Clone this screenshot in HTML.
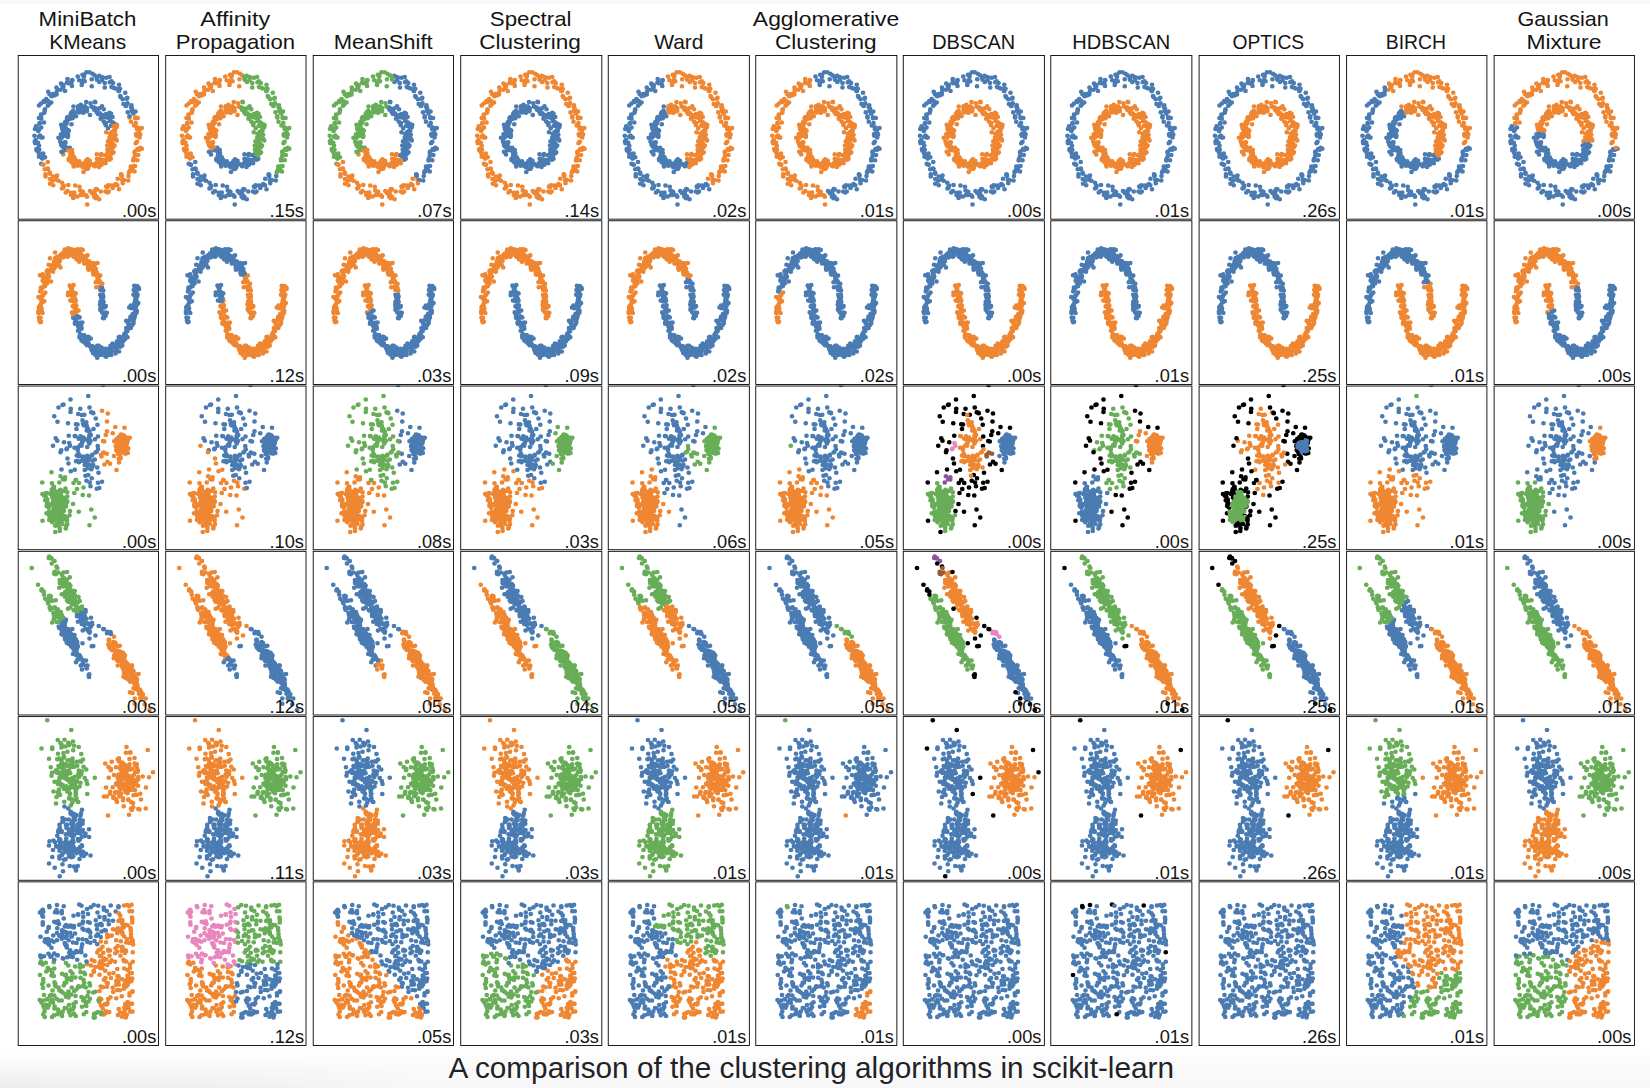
<!DOCTYPE html>
<html><head><meta charset="utf-8"><title>Clustering comparison</title>
<style>
html,body{margin:0;padding:0;width:1650px;height:1088px;overflow:hidden;background:#fff}
#bg{position:absolute;left:0;top:1046px;width:1650px;height:42px;background:linear-gradient(#fefefe,#fbfbfb 40%,#f8f8f8)}
#bg2{position:absolute;left:0;top:1060px;width:420px;height:28px;background:linear-gradient(90deg,rgba(0,0,0,.045),rgba(0,0,0,.03) 60%,rgba(0,0,0,0));-webkit-mask-image:linear-gradient(rgba(0,0,0,0),#000)}
#top{position:absolute;left:0;top:0;width:1650px;height:4px;background:#f7f8fa}
svg{position:absolute;left:0;top:0}
.ax{fill:none;stroke:#000;stroke-width:.89}
path{fill:none;stroke-width:18.985;stroke-linecap:round}
text{font-family:"Liberation Sans",sans-serif;fill:#141414}
#cap{fill:#1f2328;font-size:29.6px}
</style></head><body>
<div id="bg"></div><div id="bg2"></div><div id="top"></div>
<svg width="1650" height="1088" viewBox="0 0 1650 1088">
<defs><clipPath id="c0_0"><rect x="17.8" y="55.1" width="140.54" height="163.6"/></clipPath><clipPath id="c0_1"><rect x="165.37" y="55.1" width="140.54" height="163.6"/></clipPath><clipPath id="c0_2"><rect x="312.93" y="55.1" width="140.54" height="163.6"/></clipPath><clipPath id="c0_3"><rect x="460.5" y="55.1" width="140.54" height="163.6"/></clipPath><clipPath id="c0_4"><rect x="608.07" y="55.1" width="140.54" height="163.6"/></clipPath><clipPath id="c0_5"><rect x="755.63" y="55.1" width="140.54" height="163.6"/></clipPath><clipPath id="c0_6"><rect x="903.2" y="55.1" width="140.54" height="163.6"/></clipPath><clipPath id="c0_7"><rect x="1050.77" y="55.1" width="140.54" height="163.6"/></clipPath><clipPath id="c0_8"><rect x="1198.33" y="55.1" width="140.54" height="163.6"/></clipPath><clipPath id="c0_9"><rect x="1345.9" y="55.1" width="140.54" height="163.6"/></clipPath><clipPath id="c0_10"><rect x="1493.47" y="55.1" width="140.54" height="163.6"/></clipPath><clipPath id="c1_0"><rect x="17.8" y="220.34" width="140.54" height="163.6"/></clipPath><clipPath id="c1_1"><rect x="165.37" y="220.34" width="140.54" height="163.6"/></clipPath><clipPath id="c1_2"><rect x="312.93" y="220.34" width="140.54" height="163.6"/></clipPath><clipPath id="c1_3"><rect x="460.5" y="220.34" width="140.54" height="163.6"/></clipPath><clipPath id="c1_4"><rect x="608.07" y="220.34" width="140.54" height="163.6"/></clipPath><clipPath id="c1_5"><rect x="755.63" y="220.34" width="140.54" height="163.6"/></clipPath><clipPath id="c1_6"><rect x="903.2" y="220.34" width="140.54" height="163.6"/></clipPath><clipPath id="c1_7"><rect x="1050.77" y="220.34" width="140.54" height="163.6"/></clipPath><clipPath id="c1_8"><rect x="1198.33" y="220.34" width="140.54" height="163.6"/></clipPath><clipPath id="c1_9"><rect x="1345.9" y="220.34" width="140.54" height="163.6"/></clipPath><clipPath id="c1_10"><rect x="1493.47" y="220.34" width="140.54" height="163.6"/></clipPath><clipPath id="c2_0"><rect x="17.8" y="385.58" width="140.54" height="163.6"/></clipPath><clipPath id="c2_1"><rect x="165.37" y="385.58" width="140.54" height="163.6"/></clipPath><clipPath id="c2_2"><rect x="312.93" y="385.58" width="140.54" height="163.6"/></clipPath><clipPath id="c2_3"><rect x="460.5" y="385.58" width="140.54" height="163.6"/></clipPath><clipPath id="c2_4"><rect x="608.07" y="385.58" width="140.54" height="163.6"/></clipPath><clipPath id="c2_5"><rect x="755.63" y="385.58" width="140.54" height="163.6"/></clipPath><clipPath id="c2_6"><rect x="903.2" y="385.58" width="140.54" height="163.6"/></clipPath><clipPath id="c2_7"><rect x="1050.77" y="385.58" width="140.54" height="163.6"/></clipPath><clipPath id="c2_8"><rect x="1198.33" y="385.58" width="140.54" height="163.6"/></clipPath><clipPath id="c2_9"><rect x="1345.9" y="385.58" width="140.54" height="163.6"/></clipPath><clipPath id="c2_10"><rect x="1493.47" y="385.58" width="140.54" height="163.6"/></clipPath><clipPath id="c3_0"><rect x="17.8" y="550.82" width="140.54" height="163.6"/></clipPath><clipPath id="c3_1"><rect x="165.37" y="550.82" width="140.54" height="163.6"/></clipPath><clipPath id="c3_2"><rect x="312.93" y="550.82" width="140.54" height="163.6"/></clipPath><clipPath id="c3_3"><rect x="460.5" y="550.82" width="140.54" height="163.6"/></clipPath><clipPath id="c3_4"><rect x="608.07" y="550.82" width="140.54" height="163.6"/></clipPath><clipPath id="c3_5"><rect x="755.63" y="550.82" width="140.54" height="163.6"/></clipPath><clipPath id="c3_6"><rect x="903.2" y="550.82" width="140.54" height="163.6"/></clipPath><clipPath id="c3_7"><rect x="1050.77" y="550.82" width="140.54" height="163.6"/></clipPath><clipPath id="c3_8"><rect x="1198.33" y="550.82" width="140.54" height="163.6"/></clipPath><clipPath id="c3_9"><rect x="1345.9" y="550.82" width="140.54" height="163.6"/></clipPath><clipPath id="c3_10"><rect x="1493.47" y="550.82" width="140.54" height="163.6"/></clipPath><clipPath id="c4_0"><rect x="17.8" y="716.06" width="140.54" height="163.6"/></clipPath><clipPath id="c4_1"><rect x="165.37" y="716.06" width="140.54" height="163.6"/></clipPath><clipPath id="c4_2"><rect x="312.93" y="716.06" width="140.54" height="163.6"/></clipPath><clipPath id="c4_3"><rect x="460.5" y="716.06" width="140.54" height="163.6"/></clipPath><clipPath id="c4_4"><rect x="608.07" y="716.06" width="140.54" height="163.6"/></clipPath><clipPath id="c4_5"><rect x="755.63" y="716.06" width="140.54" height="163.6"/></clipPath><clipPath id="c4_6"><rect x="903.2" y="716.06" width="140.54" height="163.6"/></clipPath><clipPath id="c4_7"><rect x="1050.77" y="716.06" width="140.54" height="163.6"/></clipPath><clipPath id="c4_8"><rect x="1198.33" y="716.06" width="140.54" height="163.6"/></clipPath><clipPath id="c4_9"><rect x="1345.9" y="716.06" width="140.54" height="163.6"/></clipPath><clipPath id="c4_10"><rect x="1493.47" y="716.06" width="140.54" height="163.6"/></clipPath><clipPath id="c5_0"><rect x="17.8" y="881.29" width="140.54" height="163.6"/></clipPath><clipPath id="c5_1"><rect x="165.37" y="881.29" width="140.54" height="163.6"/></clipPath><clipPath id="c5_2"><rect x="312.93" y="881.29" width="140.54" height="163.6"/></clipPath><clipPath id="c5_3"><rect x="460.5" y="881.29" width="140.54" height="163.6"/></clipPath><clipPath id="c5_4"><rect x="608.07" y="881.29" width="140.54" height="163.6"/></clipPath><clipPath id="c5_5"><rect x="755.63" y="881.29" width="140.54" height="163.6"/></clipPath><clipPath id="c5_6"><rect x="903.2" y="881.29" width="140.54" height="163.6"/></clipPath><clipPath id="c5_7"><rect x="1050.77" y="881.29" width="140.54" height="163.6"/></clipPath><clipPath id="c5_8"><rect x="1198.33" y="881.29" width="140.54" height="163.6"/></clipPath><clipPath id="c5_9"><rect x="1345.9" y="881.29" width="140.54" height="163.6"/></clipPath><clipPath id="c5_10"><rect x="1493.47" y="881.29" width="140.54" height="163.6"/></clipPath></defs>
<rect x="0" y="4" width="1650" height="1042.4" fill="#fff"/>
<g clip-path="url(#c0_0)"><g transform="scale(.25)"><path stroke="#4a7cb3" d="M175 404zm30 6zm11-28zm54-66zm19 4zm47-21zm10-10zm21 56zm-1 81zm-21-18zm-11 25zm-41 10zm-22 77zm-18 11zm2 12zm7 26zm-17 5zm14 27zm-86 13zm-27-18zm10-13zm14-33zm-5-40zm-19-1zm99-10zm179-30zm7 2zm-1-9zm-6-6zm79-32zm1 0zm-13-27zm35 47zm16 2z"/><path stroke="#ef8632" d="M283 629zm-7 12zm26-2zm74 23zm3 3zm33-14zm-9-31zm27-22zm11-6zm-9-27zm35-3zm-24 73zm91 1zm5-12zm1-18zm10-10zm-1 45zm-20 31zm17-129zm15-5zm-20-65zm-90 279zm-21 18zm-63 2zm-39-6zm-18 20zm-10-1zm-100-69z"/><path stroke="#4a7cb3" d="M198 377zm12 2zm32-20zm85-19zm70-37zm41 5zm8 17zm6 7zm24 23zm0 9zm31 52zm-99 9zm-24 14zm-3-30zm-67 37zm-17 4zm-11-1zm-9 22zm1 5zm-8 45zm-3 7zm-20 23zm18 40zm-95 43zm-29-61zm-2-7zm21-24zm-1-50zm6-32z"/><path stroke="#ef8632" d="M191 674zm37 28zm-3 8zm0 9zm-25 16zm54 7zm16 22zm15 7zm5 5zm31-14zm39 2zm19 12zm5-20zm38 10zm34-24zm7-6zm26-16zm-2-16zm-1-3zm-49-62zm-7-27zm-1-30zm28-33zm-1-42zm88 30zm23 58zm-162 48zm2 8zm-11 17zm-41-8zm-3 2zm-40 1zm-10-17zm32 42z"/><path stroke="#4a7cb3" d="M193 367zm0 37zm-15 4zm-14 50zm126 5zm-12 12zm-10 12zm-4 28zm-9 4zm-5-5zm1-11zm1 27zm-8 7zm2 70zm15-11zm-91 21zm10 12zm152-193zm10-5zm-19-12zm48 10zm11 6zm33 33zm13-2zm22 2zm51-97zm-131-76zm-34 12zm-48 37z"/><path stroke="#ef8632" d="M174 659zm18 17zm7 14zm35 33zm14 8zm46-73zm22-1zm-19-28zm69 27zm13 8zm-28 11zm71-22zm-3-32zm-32-4zm56-60zm-5-7zm10-7zm-2-7zm2-8zm-23 1zm123-12zm-12-15zm-12-15zm-6-17zm33 2zm7 78zm-20 59zm-17 76zm-92 63zm-26 18zm-16 20zm-11-7zm-28 8z"/><path stroke="#4a7cb3" d="M156 422zm35 1zm-15 67zm-22 28zm-14-2zm3 44zm107 26zm29 5zm-7-47zm-6-50zm20 3zm4-24zm-18-2zm57-22zm61-10zm25 47zm35 3zm12 8zm64-76zm-65-67zm-50-44zm-23 4zm-10-13zm-39 24zm-22-4zm-32 13zm-17-4zm-15 21zm7 13z"/><path stroke="#ef8632" d="M290 614zm1 18zm26 13zm-5 5zm23 15zm15-10zm0-18zm38-2zm20 4zm-2 19zm-8-5zm7-37zm25 14zm10-22zm12-19zm6-7zm-8-9zm3-21zm90 21zm14 25zm1-63zm-1-15zm-34 146zm0 11zm-9 27zm-1 18zm-17-2zm-25-5zm13-18zm-8 60zm-88 1zm-11 29zm20 10zm-124-57z"/><path stroke="#4a7cb3" d="M226 350zm2 9zm83-53zm86 22zm11-7zm17-10zm55 44zm-6 9zm7 20zm28 7zm1 22zm14 15zm-86 23zm-30 9zm-9-7zm-14-17zm-37-3zm-5 4zm3 8zm14 15zm-60 1zm4 4zm-20 0zm-1-10zm-12 13zm-6 17zm-4 17zm-11 15zm25 6zm-3 14zm-14 33zm1 12zm3 5zm-21-21zm-7-15zm-70-1zm1-75zm4 158zm254-132zm-2-6z"/><path stroke="#ef8632" d="M179 677zm3 20zm18-2zm13 46zm84 29zm-4 22zm51-11zm-12-13zm12-92zm-18-21zm-51-19zm8-11zm4-15zm154 12zm-19 19zm31-54zm78 79zm-13 20zm-2 3zm-25 44zm56-224zm20 3z"/><path stroke="#4a7cb3" d="M244 334zm10 6zm20-7zm15-11zm44-1zm-5 11zm2-33zm28-10zm88 59zm-31 89zm-3 24zm-25-12zm-10-10zm1-8zm-38-6zm-9 9zm-7 3zm-5-4zm-7 3zm-14 24zm-50 50zm-92 8zm2-23zm-2 52zm1 52zm8 56zm104-56zm-73-182zm-11-21zm27-20zm14 2zm0-7zm218 132z"/><path stroke="#ef8632" d="M191 648zm62-30zm29-5zm46 51zm4 5zm33-13zm26-12zm8-7zm9 10zm32-35zm10 1zm-4-17zm-7-23zm12-27zm-11-11zm15-12zm4-21zm7 7zm77-17zm6 43zm-1 32zm5 53zm-20 22zm7 22zm-11 17zm-60 60zm-23 1zm-11 24zm-52 27zm-129-46z"/><path stroke="#4a7cb3" d="M164 414zm16 23zm-3 14zm-24 73zm-15 19zm17 69zm90-32zm13-7zm9 20zm1-53zm-8-51zm34-63zm19-1zm4 4zm29 4zm2 11zm49-11zm-18-26zm24 68zm39-2zm-8-15zm20 35zm-22 20zm62-97zm13-21zm-24-6zm-7-50zm-21 12zm-36-1zm0-18zm-13-24zm-18 11zm-116 11zm-23 12zm279 93zm5 19z"/><path stroke="#ef8632" d="M273 602zm8 23zm14 12zm1 0zm-7 10zm-3 2zm68 20zm25-7zm5-9zm70-44zm-14-32zm13-21zm10 0zm-3-33zm92-11zm-11-43zm20 122zm-5 8zm-18 87zm-53 14zm-52 41zm-5 7zm-49 15zm-57 17zm-21-38zm-38 28z"/><path stroke="#4a7cb3" d="M206 385zm-27 57zm-23 30zm-12 33zm8 66zm-5 31zm9 25zm93-19zm6-19zm0-47zm16 6zm-3-64zm0-12zm25-17zm22-5zm18 1zm-4-24zm33-14zm18 23zm12 20zm11 4zm41-5zm-4 29zm-16 8zm94-27zm-7-16zm-72-120zm-52-21zm-20 9z"/><path stroke="#ef8632" d="M171 658zm11 48zm31 0zm-3 17zm38 31zm4-2zm35 21zm-3 7zm45 0zm-11-33zm13-83zm0-8zm-2 1zm9-5zm6-8zm15-1zm2 15zm44 1zm16-18zm14-26zm8-14zm0-39zm8-9zm4-2zm7-12zm-8-35zm14-4zm-180 100zm3 30zm9 17zm4 7zm-9 12zm54 152zm76-72z"/></g></g><rect class="ax" x="18.2" y="55.5" width="140.3" height="163.67"/>
<g clip-path="url(#c0_1)"><g transform="scale(.25)"><path stroke="#ef8632" d="M765 404zm30 6zm11-28zm54-66zm19 4zm48-21zm9-10zm21 56zm-1 81zm-21-18zm-11 25zm-41 10zm-22 77zm-17 11zm2 12zm6 26zm-17 5zm0-75zm-80 11zm-19-1zm24 41zm-14 33zm-10 13zm27 18z"/><path stroke="#68ad57" d="M1015 456zm5 6zm2 9zm-7-2zm7 96zm-2 33zm11-6zm26-30zm79-19zm15-5zm-10 58zm-11 10zm-1 18zm-5 12zm15 5zm-19 31zm11-199zm1-27zm-15-2zm-23-20zm-1 0zm-12-27z"/><path stroke="#4a7cb3" d="M850 601zm23 28zm-7 12zm26-2zm75 23zm2 3zm33-14zm-9-31zm40 15zm8 117zm-21 18zm-62 2zm-39-6zm-18 20zm-11-1zm-100-69z"/><path stroke="#ef8632" d="M788 377zm13 2zm31-20zm86-19zm-14 106zm-17 4zm-10-1zm-10 22zm1 5zm-8 45zm-3 7zm-20 23zm18 40zm-95 43zm-29-61zm-1-7zm21-24zm-2-50zm6-32z"/><path stroke="#68ad57" d="M987 303zm41 5zm8 17zm7 7zm23 23zm0 9zm31 52zm-99 9zm-24 14zm-3-30zm76 98zm1 42zm-29 33zm1 30zm137-17zm-22-58z"/><path stroke="#4a7cb3" d="M781 674zm37 28zm-2 8zm0 9zm-26 16zm54 7zm16 22zm16 7zm4 5zm31-14zm40 2zm18 12zm5-20zm38 10zm35-24zm6-6zm26-16zm-2-16zm0-3zm-50-62zm-32 4zm2 8zm-11 17zm-41-8zm-3 2zm-39 1zm-11-17zm32 42z"/><path stroke="#ef8632" d="M783 367zm1 37zm-15 4zm-15 50zm126 5zm-12 12zm-9 12zm-17 16zm-1 11zm4 5zm-2 11zm-9 7zm20-22zm-2 81zm-92 21zm10 12zm152-193zm11-5zm28-2zm-48-10zm-35-75zm48-37zm34-12z"/><path stroke="#68ad57" d="M972 435zm33 33zm13-2zm22 2zm-1 60zm-3 8zm3 7zm-10 7zm4 7zm-18-28zm124-12zm-13-15zm-12-15zm-5-17zm33 2zm6 78zm-19 59zm-18 76zm-20-314z"/><path stroke="#4a7cb3" d="M764 659zm18 17zm7 14zm35 33zm14 8zm46-73zm22-1zm-19-28zm-51-22zm142 10zm31 4zm3 32zm-43 11zm-12-8zm-16 19zm-3 112zm28-8zm11 7zm16-20zm26-18z"/><path stroke="#ef8632" d="M746 422zm35 1zm-15 67zm-21 28zm-15-2zm4 44zm106 26zm22-42zm-6-50zm20 3zm5-24zm-19-2zm57-22zm11-124zm-23-4zm-31 13zm-17-4zm-16 21zm8 13zm118-63z"/><path stroke="#68ad57" d="M979 314zm22-4zm50 44zm65 67zm31 99zm1 15zm-14 38zm13 25zm-34 68zm0 11zm-83-69zm13-19zm5-7zm-8-9zm3-21zm9-55zm-12-8zm-35-3zm-24-47z"/><path stroke="#4a7cb3" d="M869 591zm11 23zm1 18zm26 13zm-5 5zm24 15zm14-10zm0-18zm38-2zm20 4zm-2 19zm-8-5zm8-37zm24 14zm55 67zm-14 18zm26 5zm16 2zm2-18zm-39 53zm-88 1zm-11 29zm20 10zm-124-57z"/><path stroke="#ef8632" d="M816 350zm2 9zm83-53zm32 131zm5-4zm-2 12zm14 15zm-60 1zm4 4zm-20 0zm-1-10zm-12 13zm-6 17zm-4 17zm-11 15zm25 6zm-3 14zm-14 33zm1 12zm4 5zm-22-21zm-7-15zm-70-1zm1-75zm5 158z"/><path stroke="#68ad57" d="M988 328zm10-7zm18-10zm54 44zm-5 9zm6 20zm28 7zm1 22zm14 15zm24 81zm19 3zm-144-11zm-1-6zm-14-35zm-8-7zm-15-17zm53 15zm15 136zm-11 35zm90 44zm-14 20zm-1 3z"/><path stroke="#4a7cb3" d="M770 677zm2 20zm18-2zm13 46zm84 29zm-4 22zm51-11zm-12-13zm13-92zm-19-21zm-51-19zm8-11zm4-15zm136 31zm68 92z"/><path stroke="#ef8632" d="M834 334zm11 6zm19-7zm15-11zm45-1zm-6 11zm2-33zm28-10zm-18 136zm-9 9zm-7 3zm-5-4zm-7 3zm-14 24zm-50 50zm-92 8zm3-23zm-3 52zm1 52zm40-182zm-11-21zm26-20zm14 2zm0-7z"/><path stroke="#68ad57" d="M1036 348zm-31 89zm-3 24zm-25-12zm-9-10zm0-8zm67 72zm14-1zm8 7zm-11 14zm-5 23zm-11-11zm0 38zm6 23zm4 17zm-10-1zm113 8zm-19 22zm6 22zm-10 17zm18-114zm1-32zm-6-43z"/><path stroke="#4a7cb3" d="M755 655zm26-7zm63-30zm15-19zm14 14zm45 51zm4 5zm33-13zm26-12zm8-7zm10 10zm37 95zm24-1zm-34 25zm-53 27zm-129-46z"/><path stroke="#ef8632" d="M755 414zm15 23zm-3 14zm-23 73zm-16 19zm17 69zm91-32zm12-7zm9 20zm2-53zm-8-51zm33-63zm19-1zm4 4zm30 4zm1 11zm-76-114zm-23 12z"/><path stroke="#68ad57" d="M979 319zm18-11zm12 24zm0 18zm36 1zm21-12zm8 50zm23 6zm-12 21zm34 19zm5 19zm7 15zm11 43zm9 79zm-5 8zm-18 87zm-84-77zm-14-32zm13-21zm10 0zm-3-33zm-6-30zm-12-20zm-7-15zm-31 17zm-6-42zm-18-26zm53 106z"/><path stroke="#4a7cb3" d="M863 602zm8 23zm14 12zm2 0zm-8 10zm-3 2zm69 20zm24-7zm6-9zm-6 110zm49-15zm5-7zm52-41zm-184 42zm21 38zm-59-10z"/><path stroke="#ef8632" d="M796 385zm-27 57zm-23 30zm-12 33zm8 66zm-4 31zm8 25zm99-38zm0-47zm17 6zm-4-64zm0-12zm25-17zm22-5zm18 1zm-3-24zm32-14zm6-96z"/><path stroke="#68ad57" d="M977 308zm53 21zm4 126zm-4 29zm-16 8zm30 12zm14-4zm-6 39zm-7 12zm-4 2zm-8 9zm0 39zm-8 14zm-32-155zm-11-4zm-12-20zm132 13zm7 16z"/><path stroke="#4a7cb3" d="M761 658zm11 48zm31 0zm-3 17zm38 31zm4-2zm35 21zm-2 7zm44 0zm-11-33zm13-83zm0-8zm-2 1zm9-5zm6-8zm16-1zm1 15zm44 1zm16-18zm5 105zm-77 72zm-54-152zm9-12zm-3-7zm-10-17zm-2-30zm-40 8z"/></g></g><rect class="ax" x="165.71" y="55.5" width="140.3" height="163.67"/>
<g clip-path="url(#c0_2)"><g transform="scale(.25)"><path stroke="#68ad57" d="M1356 404zm30 6zm10-28zm54-66zm19 4zm48-21zm9-10zm21 56zm-1 81zm-31 7zm10-25zm-52 35zm-21 77zm-18 11zm2 12zm6 26zm-17 5zm15 27zm-87 13zm-26-18zm9-13zm14-33zm-5-40zm-18-1zm99-10z"/><path stroke="#4a7cb3" d="M1605 456zm5 6zm2 9zm-7-2zm7 96zm-1 33zm10-6zm2 43zm92 1zm4-12zm2-18zm10-10zm-2 45zm-19 31zm17-129zm14-5zm-19-65zm0-27zm-15-2zm-22-20zm-2 0zm-11-27zm-25 165z"/><path stroke="#ef8632" d="M1463 629zm-6 12zm26-2zm74 23zm2 3zm33-14zm-9-31zm28 150zm20-18zm-83 20zm-39-6zm-18 20zm-10-1zm-101-69z"/><path stroke="#68ad57" d="M1379 377zm12 2zm32-20zm85-19zm-14 106zm-17 4zm-10-1zm-9 22zm0 5zm-7 45zm-3 7zm-21 23zm18 40zm-95 43zm-29-61zm-1-7zm21-24zm-2-50zm6-32z"/><path stroke="#4a7cb3" d="M1577 303zm42 5zm7 17zm7 7zm23 23zm0 9zm31 52zm-99 9zm-23 14zm-4-30zm76 98zm1 42zm-29 33zm2 30zm6 27zm50 62zm0 3zm80-109zm-22-58z"/><path stroke="#ef8632" d="M1371 674zm38 28zm-3 8zm0 9zm-26 16zm55 7zm15 22zm16 7zm4 5zm31-14zm40 2zm18 12zm5-20zm39 10zm34-24zm7-6zm26-16zm-94-52zm12-17zm-3-8zm-50 17zm-3 2zm-39 1zm-11-17zm32 42z"/><path stroke="#68ad57" d="M1374 367zm0 37zm-15 4zm-14 50zm113 17zm-9 12zm-4 28zm-10 4zm-4-5zm1-11zm1 27zm-9 7zm2 70zm16-11zm-92 21zm10 12zm111-166zm42-27zm10-5zm29-2zm-49-10zm-35-75zm49-37zm33-12z"/><path stroke="#4a7cb3" d="M1562 435zm33 33zm13-2zm22 2zm-1 60zm-3 8zm3 7zm-10 7zm4 7zm-17-28zm-6 92zm119-12zm19-59zm-9-33zm-12-15zm-13-15zm-5-17zm33 2zm-51-101zm20 314z"/><path stroke="#ef8632" d="M1354 659zm18 17zm7 14zm35 33zm14 8zm46-73zm22-1zm-19-28zm70 27zm12 8zm-27 11zm71-22zm-35-36zm15 149zm-16 20zm-11-7zm-28 8zm81-39z"/><path stroke="#68ad57" d="M1336 422zm36 1zm-16 67zm-21 28zm-15-2zm4 44zm106 26zm29 5zm-6-47zm-7-50zm20 3zm5-24zm-18-2zm57-22zm10-124zm-23-4zm-31 13zm-17-4zm-16 21zm8 13zm128-50zm-10-13z"/><path stroke="#4a7cb3" d="M1591 310zm51 44zm64 67zm31 99zm2 15zm-15 38zm13 25zm-33 68zm0 11zm-9 27zm-2 18zm-16-2zm-12-23zm-55-67zm10-22zm13-19zm5-7zm-7-9zm2-21zm9-55zm-12-8zm-35-3zm-24-47z"/><path stroke="#ef8632" d="M1470 614zm1 18zm26 13zm-5 5zm24 15zm14-10zm0-18zm39-2zm20 4zm-2 19zm-9-5zm8-37zm-18 142zm-11 29zm21 10zm79-40zm-6-42zm-198 25z"/><path stroke="#68ad57" d="M1407 350zm1 9zm84-53zm31 131zm6-4zm-3 12zm15 15zm-56 5zm-5-4zm-15 4zm-2-10zm-11 13zm-7 17zm-4 17zm-11 15zm25 6zm-3 14zm-14 33zm1 12zm4 5zm-22-21zm-7-15zm-70-1zm1-75zm5 158z"/><path stroke="#4a7cb3" d="M1578 328zm11-7zm17-10zm55 44zm-6 9zm6 20zm28 7zm1 22zm15 15zm23 81zm19 3zm-144-11zm-1-6zm-14-35zm-8-7zm-15-17zm54 15zm14 136zm-11 35zm90 44zm-14 20zm-1 3z"/><path stroke="#ef8632" d="M1360 677zm2 20zm18-2zm14 46zm83 29zm-4 22zm51-11zm-12-13zm13-92zm-18-21zm-52-19zm9-11zm3-15zm136 31zm69 92z"/><path stroke="#68ad57" d="M1424 334zm11 6zm19-7zm15-11zm45-1zm-5 11zm2-33zm27-10zm-17 136zm-10 9zm-7 3zm-5-4zm-6 3zm-14 24zm-50 50zm-92 8zm2-23zm-3 52zm2 52zm8 56zm31-238zm-11-21zm27-20zm13 2zm0-7z"/><path stroke="#4a7cb3" d="M1627 348zm-31 89zm-3 24zm-26-12zm-9-10zm0-8zm67 72zm14-1zm8 7zm-11 14zm-4 23zm-12-11zm0 38zm6 23zm4 17zm-10-1zm113 8zm-19 22zm6 22zm-10 17zm19-114zm0-32zm-6-43z"/><path stroke="#ef8632" d="M1372 648zm62-30zm15-19zm14 14zm45 51zm5 5zm32-13zm27-12zm7-7zm10 10zm37 95zm24-1zm-34 25zm-53 27zm-129-46z"/><path stroke="#68ad57" d="M1345 414zm15 23zm-2 14zm-24 73zm-15 19zm16 69zm91-32zm13-7zm8 20zm2-53zm-8-51zm33-63zm19-1zm4 4zm30 4zm1 11zm41-125zm-117 11zm-23 12z"/><path stroke="#4a7cb3" d="M1587 308zm12 24zm1 18zm35 1zm21-12zm8 50zm23 6zm-12 21zm34 19zm5 19zm7 15zm12 43zm8 79zm-5 8zm-17 87zm-54 14zm-31-91zm-13-32zm13-21zm10 0zm-3-33zm-7-30zm-12-20zm-7-15zm-31 17zm-6-42zm-18-26zm53 106z"/><path stroke="#ef8632" d="M1453 602zm9 23zm14 12zm1 0zm-8 10zm-2 2zm68 20zm25-7zm5-9zm-6 110zm50-15zm5-7zm-133 1zm22 38zm-59-10z"/><path stroke="#68ad57" d="M1387 385zm-27 57zm-24 30zm-12 33zm9 66zm-5 31zm8 25zm93-19zm7-19zm0-47zm16 6zm-3-64zm-1-12zm25-17zm23-5zm17 1zm-3-24zm32-14zm6-96zm20-9z"/><path stroke="#4a7cb3" d="M1620 329zm4 126zm-3 29zm-17 8zm30 12zm15-4zm-6 39zm-7 12zm-5 2zm-8 9zm0 39zm-7 14zm-32-155zm-12-4zm-12-20zm132 13zm7 16z"/><path stroke="#ef8632" d="M1351 658zm11 48zm32 0zm-3 17zm38 31zm3-2zm35 21zm-2 7zm45 0zm-11-33zm12-83zm0-8zm-1 1zm8-5zm6-8zm16-1zm1 15zm45 1zm15-18zm5 105zm-77 72zm-54-152zm9-12zm-3-7zm-9-17zm-3-30z"/></g></g><rect class="ax" x="313.22" y="55.5" width="140.3" height="163.67"/>
<g clip-path="url(#c0_3)"><g transform="scale(.25)"><path stroke="#4a7cb3" d="M2064 443zm41-10zm11-25zm20 18zm59 30zm6 6zm1 9zm-7-2zm7 96zm-1 33zm10-6zm3 43zm-32 16zm-9-31zm-23 45zm-3-3zm-74-23zm-26 2zm7-12zm-24-28zm3-32zm-17 5zm10-31zm-2-12zm18-11zm-26-21zm221 63z"/><path stroke="#ef8632" d="M1946 404zm30 6zm11-28zm54-66zm18 4zm48-21zm10-10zm21 56zm124 52zm12 27zm1 0zm22 20zm15 2zm0 27zm5 70zm15-5zm-11 58zm-10 10zm-1 18zm-5 12zm14 5zm-19 31zm-78 80zm-21 18zm-63 2zm-39-6zm-18 20zm-10-1zm-101-69zm-27-102zm-26-18zm10-13zm14-33zm-5-40zm-19-1z"/><path stroke="#4a7cb3" d="M2057 449zm11 1zm17-4zm-37 25zm1 5zm-8 45zm-3 7zm-20 23zm17 40zm38 55zm10 17zm39-1zm4-2zm40 8zm12-17zm-2-8zm32-4zm-7-27zm-1-30zm28-33zm-1-42zm-49-82zm-23 14zm-3-30zm-47 279z"/><path stroke="#ef8632" d="M1969 377zm12 2zm32-20zm85-19zm69-37zm42 5zm8 17zm6 7zm23 23zm1 9zm30 52zm38 121zm23 58zm-81 106zm0 3zm3 16zm-26 16zm-7 6zm-34 24zm-39-10zm-4 20zm-19-12zm-40-2zm-35 9zm5 5zm-21-12zm-15-22zm-29-23zm0-9zm3-8zm-28 33zm-9-61zm-21-40zm-30-61zm-1-7zm21-24zm-2-50zm7-32z"/><path stroke="#4a7cb3" d="M2094 419zm9 17zm10-5zm29-2zm11 6zm32 33zm14-2zm22 2zm-2 60zm-2 8zm2 7zm-10 7zm5 7zm-18-28zm-6 92zm3 32zm-43 11zm-13-8zm-15 19zm-35-18zm-23 1zm3-29zm-35-33zm-16 11zm-2-70zm9-7zm2-11zm-4-5zm1-11zm13 12zm4-28zm10-12zm12-12zm97 154z"/><path stroke="#ef8632" d="M1964 367zm0 37zm-15 4zm-14 50zm5 159zm11 12zm-7 30zm19 17zm6 14zm35 33zm15 8zm100 56zm28-8zm11 7zm16-20zm26-18zm92-63zm17-76zm20-59zm-10-33zm-12-15zm-13-15zm-5-17zm33 2zm-51-101zm-130-76zm-34 12zm-48 37z"/><path stroke="#4a7cb3" d="M2043 471zm18 2zm-4 24zm-21-3zm7 50zm6 47zm-29-5zm41 28zm1 18zm26 13zm-5 5zm23 15zm14-10zm1-18zm38-2zm20 4zm-2 19zm-8-5zm7-37zm25 14zm9-22zm13-19zm6-7zm-8-9zm3-21zm8-55zm-12-8zm-35-3zm-24-47zm-61 10z"/><path stroke="#ef8632" d="M1927 422zm35 1zm-16 67zm-21 28zm-14-2zm3 44zm129 180zm115 18zm-11 29zm21 10zm79-40zm-6-42zm26 5zm17 2zm1-18zm9-27zm0-11zm-39 31zm72-99zm-13-25zm15-38zm-1-15zm-32-99zm-64-67zm-51-44zm-22 4zm-10-13zm-39 24zm-23-4zm-31 13zm-17-4zm-16 21zm8 13z"/><path stroke="#4a7cb3" d="M2053 455zm2 10zm-13 3zm-6 17zm-4 17zm-12 15zm25 6zm-2 14zm-15 33zm2 12zm3 5zm-21-21zm-8-15zm53 59zm-3 15zm-8 11zm51 19zm18 21zm78-35zm19-19zm11-35zm-29-86zm-2-6zm-14-35zm-8-7zm-14-17zm-37-3zm-6 4zm3 8zm15 15zm-56 5zm-5-4zm139-10z"/><path stroke="#ef8632" d="M1997 350zm2 9zm83-53zm86 22zm11-7zm17-10zm55 44zm-6 9zm6 20zm29 7zm0 22zm15 15zm23 81zm19 3zm-35 154zm-13 20zm-2 3zm-25 44zm-159 35zm11 13zm-46-11zm-5 22zm-79-51zm-13-46zm-18 2zm-3-20zm-10-44zm-6-83zm2-75z"/><path stroke="#4a7cb3" d="M2083 436zm6-3zm6 4zm7-3zm9-9zm37 6zm0 8zm10 10zm25 12zm3-24zm29 66zm14-1zm8 7zm-11 14zm-4 23zm-12-11zm0 38zm6 23zm-5 16zm10 1zm-52 24zm-7 7zm17 3zm-44 9zm-32 13zm-5-5zm-45-51zm-13-14zm-16 19zm-5-108zm50-50z"/><path stroke="#ef8632" d="M2014 334zm11 6zm19-7zm15-11zm45-1zm-5 11zm2-33zm28-10zm88 59zm97 144zm5 43zm0 32zm5 53zm-20 22zm7 22zm-11 17zm-60 60zm-23 1zm-11 24zm-52 27zm-129-46zm-63-99zm-26 7zm-8-56zm-2-52zm1-29zm2-23zm38-78zm-11-21zm27-20zm13 2zm0-7z"/><path stroke="#4a7cb3" d="M2065 426zm19-1zm4 4zm29 4zm1 11zm50-11zm-18-26zm24 68zm39-2zm-8-15zm20 35zm6 30zm3 33zm-10 0zm-13 21zm14 32zm-70 44zm-5 9zm-25 7zm-68-20zm2-2zm7-10zm1 0zm-15-12zm-8-23zm-7-9zm-8-20zm-13 7zm23-40zm-8-51zm172 24z"/><path stroke="#ef8632" d="M1935 414zm15 23zm-2 14zm-24 73zm-15 19zm16 69zm109 158zm38-28zm21 38zm56-17zm50-15zm5-7zm52-41zm53-14zm18-87zm5-8zm-9-79zm-11-43zm-8-15zm-5-19zm-34-19zm12-21zm-23-6zm-7-50zm-21 12zm-36-1zm-1-18zm-12-24zm-18 11zm-117 11zm-22 12z"/><path stroke="#4a7cb3" d="M2038 472zm1 12zm24-29zm23-5zm18 1zm-4-24zm33-14zm18 23zm11 20zm12 4zm40-5zm-3 29zm-17 8zm31 12zm14-4zm-6 39zm-7 12zm-5 2zm-7 9zm0 39zm-8 14zm-14 26zm-16 18zm-44-1zm-2-15zm-16 1zm-5 8zm-7 4zm-2 1zm1 7zm-26-10zm-4-7zm-6 19zm-3-36zm-3-30zm-33-11zm-7 19zm7-66zm16 6z"/><path stroke="#ef8632" d="M1977 385zm-27 57zm-23 30zm-12 33zm8 66zm-5 31zm9 25zm14 31zm12 48zm31 0zm-3 17zm38 31zm3-2zm36 21zm-3 7zm45 0zm-11-33zm30 71zm77-72zm93-281zm-7-16zm-72-120zm-52-21zm-20 9z"/></g></g><rect class="ax" x="460.73" y="55.5" width="141.1" height="163.67"/>
<g clip-path="url(#c0_4)"><g transform="scale(.25)"><path stroke="#4a7cb3" d="M2536 404zm30 6zm11-28zm54-66zm19 4zm4 123zm-22 77zm-17 11zm1 12zm7 26zm-17 5zm14 27zm24 28zm-7 12zm26-2zm74 23zm3 3zm-12 107zm-39-6zm-18 20zm-10-1zm130-15zm21-18zm-251-36zm-27-102zm-27-18zm10-13zm14-33zm-5-40zm-19-1zm99-10z"/><path stroke="#ef8632" d="M2697 299zm10-10zm21 56zm-1 81zm-21-18zm-11 25zm90 23zm6 6zm1 9zm-6-2zm7 96zm-2 33zm11-6zm2 43zm-31 16zm-9-31zm64-58zm79-19zm15-5zm-10 58zm-11 10zm-1 18zm-5 12zm15 5zm-20 31zm12-199zm1-27zm-16-2zm-22-20zm-1 0zm-12-27z"/><path stroke="#4a7cb3" d="M2559 377zm12 2zm32-20zm44 90zm11 1zm-20 21zm1 5zm-8 45zm-3 7zm-20 23zm18 40zm37 55zm10 17zm40-1zm3-2zm-21 28zm-13 74zm39 2zm19 12zm5-20zm38 10zm34-24zm7-6zm-177 35zm4 5zm-20-12zm-16-22zm-28-23zm0-9zm2-8zm-28 33zm-9-61zm-21-40zm-29-61zm-2-7zm22-24zm-2-50zm6-32z"/><path stroke="#ef8632" d="M2688 340zm70-37zm41 5zm8 17zm6 7zm24 23zm0 9zm31 52zm-99 9zm-24 14zm-3-30zm-67 37zm143 61zm0 42zm-28 33zm1 30zm7 27zm-32 4zm2 8zm-11 17zm91 33zm0 3zm2 16zm78-125zm-22-58z"/><path stroke="#4a7cb3" d="M2554 367zm1 37zm-16 4zm-14 50zm126 5zm-12 12zm-10 12zm-4 28zm-9 4zm-4-5zm0-11zm1 27zm-8 7zm2 70zm15-11zm36 33zm-3 29zm22-1zm51-1zm12 8zm-28 11zm-3 112zm28-8zm11 7zm16-20zm26-18zm-181-17zm-14-8zm-35-33zm-7-14zm-18-17zm6-30zm-10-12zm118-273z"/><path stroke="#ef8632" d="M2697 307zm34-12zm1 134zm11 6zm-40-4zm-10 5zm-9-17zm92 49zm13-2zm22 2zm-1 60zm-3 8zm2 7zm-10 7zm5 7zm-18-28zm-6 92zm3 32zm-35-36zm151-8zm20-59zm-10-33zm-12-15zm-12-15zm-6-17zm33 2zm-50-101zm20 314z"/><path stroke="#4a7cb3" d="M2517 422zm35 1zm-15 67zm-22 28zm-14-2zm3 44zm107 26zm29 5zm11 23zm1 18zm26 13zm-5 5zm23 15zm15-10zm0-18zm38 121zm-11 29zm20 10zm79-40zm-203-17zm-1-196zm-6-50zm20 3zm4-24zm-18-2zm-12-107zm-7-13zm16-21zm16 4z"/><path stroke="#ef8632" d="M2678 321zm23 4zm48-11zm-10-13zm33 9zm50 44zm65 67zm31 99zm1 15zm-15 38zm14 25zm-34 68zm0 11zm-9 27zm-1 18zm-16-2zm-26-5zm13-18zm-78-39zm-8-5zm10-14zm-20-4zm17-19zm25 14zm10-22zm12-19zm6-7zm-8-9zm3-21zm9-55zm-12-8zm-35-3zm-25-47zm-61 10z"/><path stroke="#4a7cb3" d="M2587 350zm2 9zm55 96zm1 10zm-13 3zm-6 17zm-4 17zm-11 15zm25 6zm-3 14zm-14 33zm1 12zm3 5zm-21-21zm-7-15zm-70-1zm1-75zm135-14zm4 4zm-17 145zm-4 15zm-8 11zm51 19zm19 21zm-13 92zm12 13zm-47-11zm-4 22zm-80-51zm-13-46zm-18 2zm-2-20zm-11-44z"/><path stroke="#ef8632" d="M2672 306zm87 22zm10-7zm17-10zm55 44zm-6 9zm7 20zm28 7zm1 22zm14 15zm23 81zm20 3zm-144-11zm-1-6zm-14-35zm-9-7zm-14-17zm-37-3zm-5 4zm3 8zm14 15zm78-9zm15 136zm-12 35zm-18 19zm108 25zm-13 20zm-2 3zm-25 44z"/><path stroke="#4a7cb3" d="M2605 334zm10 6zm20-7zm15-11zm-63 49zm0 7zm-14-2zm-27 20zm12 21zm-39 78zm-2 23zm0 29zm1 52zm8 56zm26-7zm62-30zm16-19zm14 14zm45 51zm4 5zm33-13zm18 137zm52-27zm11-24zm23-1zm-215 6zm-6-237zm50-50z"/><path stroke="#ef8632" d="M2691 299zm4 22zm-6 11zm30-43zm88 59zm-31 89zm-3 24zm-25-12zm-10-10zm1-8zm-38-6zm-9 9zm-7 3zm-5-4zm-7 3zm132 67zm15-1zm7 7zm-11 14zm-4 23zm-11-11zm0 38zm6 23zm4 17zm-10-1zm-41 25zm-8 7zm17 3zm125-5zm7 22zm-11 17zm24-61zm-5-53zm1-32zm-6-43z"/><path stroke="#4a7cb3" d="M2526 414zm15 23zm-3 14zm-23 73zm-16 19zm17 69zm91-32zm12-7zm9 20zm6 9zm8 23zm14 12zm1 0zm-7 10zm-3 2zm68 20zm25-7zm5-9zm-5 110zm49-15zm5-7zm-132 1zm21 38zm-59-10zm5-230zm-8-51zm34-63zm-22-96zm-23 12z"/><path stroke="#ef8632" d="M2749 319zm18-11zm13 24zm0 18zm36 1zm21-12zm8 50zm23 6zm-13 21zm35 19zm4 19zm8 15zm11 43zm9 79zm-5 8zm-18 87zm-53 14zm-31-91zm-14-32zm13-21zm10 0zm-3-33zm-6-30zm-12-20zm-7-15zm-32 17zm-6-42zm-18-26zm-33 26zm2 11zm-31-15zm-4-4zm119 88z"/><path stroke="#4a7cb3" d="M2567 385zm-27 57zm-23 30zm-12 33zm8 66zm-5 31zm9 25zm15 31zm11 48zm31 0zm-3 17zm38 31zm4-2zm35 21zm-3 7zm45 0zm-11-33zm13-83zm0-8zm-2 1zm9-5zm6-8zm15-1zm2 15zm-57-4zm-3-7zm-6 19zm-4-36zm-2-30zm-34-11zm-6 19zm6-66zm17 6zm-4-64zm0-12zm25-17zm56 363zm77-72z"/><path stroke="#ef8632" d="M2729 317zm19-9zm52 21zm5 126zm-4 29zm-16 8zm30 12zm14-4zm-6 39zm-7 12zm-4 2zm-8 9zm0 39zm-8 14zm-14 26zm-16 18zm-2-199zm-11-4zm-12-20zm-18-23zm-33 14zm4 24zm-18-1zm197-1zm7 16z"/></g></g><rect class="ax" x="608.25" y="55.5" width="141.1" height="163.67"/>
<g clip-path="url(#c0_5)"><g transform="scale(.25)"><path stroke="#ef8632" d="M3126 404zm30 6zm11-28zm54-66zm19 4zm4 123zm42-10zm10-25zm21 18zm59 30zm5 6zm2 9zm-7-2zm7 96zm-2 33zm11-6zm2 43zm-31 16zm-9-31zm-26 42zm2 3zm-77-26zm-26 2zm7-12zm-23-28zm2-32zm-17 5zm11-31zm-2-12zm17-11zm-25-21zm-81 11zm-18-1zm23 41zm-14 33zm-10 13zm27 18zm27 102zm100 69zm11 1zm18-20zm138-204z"/><path stroke="#4a7cb3" d="M3297 289zm-9 10zm30 46zm124 52zm12 27zm1 0zm23 20zm15 2zm-1 27zm5 70zm15-5zm-10 58zm-11 10zm-1 18zm-5 12zm15 5zm-19 31zm-79 80zm-21 18zm-62 2z"/><path stroke="#ef8632" d="M3150 377zm12 2zm31-20zm45 90zm10 1zm17-4zm-37 25zm1 5zm-7 45zm-3 7zm-21 23zm18 40zm37 55zm11 17zm39-1zm3-2zm-21 28zm62-20zm11-17zm-2-8zm32-4zm-7-27zm-1-30zm29-33zm-1-42zm-49-82zm-24 14zm-3-30zm-216 51zm-6 32zm2 50zm-21 24zm1 7zm29 61zm21 40zm37 28zm-2 8zm0 9zm-26 16zm54 7zm16 22zm16 7zm4 5zm31-14z"/><path stroke="#4a7cb3" d="M3279 340zm69-37zm41 5zm8 17zm7 7zm23 23zm0 9zm31 52zm38 121zm22 58zm-80 106zm0 3zm2 16zm-26 16zm-6 6zm-35 24zm-38-10zm-5 20zm-18-12z"/><path stroke="#ef8632" d="M3144 367zm1 37zm-15 4zm-15 50zm126 5zm-12 12zm-9 12zm-4 28zm-10 4zm-4-5zm1-11zm1 27zm-9 7zm2 70zm16-11zm35 33zm-3 29zm22-1zm51-1zm12 8zm-28 11zm72-22zm-4-32zm-31-4zm55-60zm-4-7zm10-7zm-3-7zm3-8zm-24 1zm3-63zm-13 2zm35 0zm-68-33zm-11-6zm-28 2zm-11 5zm-9-17zm-35-75zm-118 273zm10 12zm-6 30zm18 17zm7 14zm35 33zm14 8zm100 56z"/><path stroke="#4a7cb3" d="M3288 307zm33-12zm131 76zm18 99zm5 17zm12 15zm13 15zm9 33zm-19 59zm-18 76zm-92 63zm-26 18zm-16 20zm-11-7zm176-307z"/><path stroke="#ef8632" d="M3107 422zm35 1zm-15 67zm-21 28zm-15-2zm4 44zm106 26zm29 5zm11 23zm1 18zm26 13zm-5 5zm24 15zm14-10zm0-18zm38-2zm20 4zm-2 19zm-8-5zm8-37zm24 14zm10-22zm13-19zm5-7zm-8-9zm3-21zm9-55zm-12-8zm-35-3zm-24-47zm-62 10zm-38 24zm-19-2zm-6 23zm20 3zm-14 47zm-11-180zm-8-13zm16-21zm17 4zm-13 406z"/><path stroke="#4a7cb3" d="M3268 321zm23 4zm49-11zm-10-13zm32 9zm50 44zm65 67zm31 99zm2 15zm-15 38zm13 25zm-33 68zm-1 11zm-8 27zm-2 18zm-16-2zm-26-5zm14-18zm-9 60zm-88 1zm-11 29zm20 10z"/><path stroke="#ef8632" d="M3178 350zm1 9zm55 96zm1 10zm-12 3zm-7 17zm-4 17zm-11 15zm25 6zm-3 14zm-14 33zm1 12zm4 5zm-22-21zm-7-15zm-70-1zm1-75zm135-14zm4 4zm56-5zm-14-15zm-3-8zm5-4zm37 3zm15 17zm8 7zm31-9zm-17 44zm1 6zm30 86zm-11 35zm-19 19zm-96 14zm18 21zm-13 92zm12 13zm-47-11zm-4 22zm-79-51zm-14-46zm-18 2zm-2-20zm-10-44zm105 3zm9-11zm3-15z"/><path stroke="#4a7cb3" d="M3262 306zm87 22zm10-7zm18-10zm54 44zm-5 9zm6 20zm28 7zm1 22zm14 15zm24 81zm19 3zm-35 154zm-14 20zm-1 3zm-26 44z"/><path stroke="#ef8632" d="M3195 334zm11 6zm19-7zm15-11zm-63 49zm0 7zm-13-2zm-27 20zm11 21zm-38 78zm-3 23zm0 29zm1 52zm9 56zm25-7zm63-30zm15-19zm14 14zm45 51zm4 5zm33-13zm26-12zm8-7zm10 10zm31-35zm10 1zm-4-17zm-6-23zm0-38zm12 11zm4-23zm3-21zm-14 1zm22 6zm-55-48zm3-24zm-37 2zm0-8zm9 18zm-47-24zm-9 9zm-7 3zm-5-4zm-6 3zm-15 24zm-50 50zm6 237z"/><path stroke="#4a7cb3" d="M3281 299zm4 22zm-6 11zm30-43zm88 59zm97 144zm6 43zm-1 32zm5 53zm-19 22zm6 22zm-10 17zm-60 60zm-24 1zm-10 24zm-53 27z"/><path stroke="#ef8632" d="M3116 414zm15 23zm-2 14zm-24 73zm-16 19zm17 69zm91-32zm12-7zm9 20zm6 9zm8 23zm14 12zm2 0zm-8 10zm-3 2zm69 20zm24-7zm6-9zm69-44zm-14-32zm13-21zm10 0zm-3-33zm-6-30zm-12-20zm-7-15zm-31 17zm-6-42zm-18-26zm-33 26zm1 11zm-31-15zm-4-4zm-19 1zm-33 63zm8 51zm164-27zm-161-183zm-23 12zm14 428zm38-28zm21 38z"/><path stroke="#4a7cb3" d="M3340 319zm18-11zm12 24zm0 18zm36 1zm21-12zm8 50zm23 6zm-12 21zm34 19zm5 19zm7 15zm11 43zm9 79zm-5 8zm-18 87zm-53 14zm-52 41zm-5 7zm-49 15z"/><path stroke="#ef8632" d="M3157 385zm-27 57zm-23 30zm-12 33zm9 66zm-5 31zm8 25zm15 31zm11 48zm31 0zm-3 17zm38 31zm4-2zm35 21zm-2 7zm44 0zm-10-33zm12-83zm0-8zm-2 1zm9-5zm6-8zm16-1zm1 15zm44 1zm16-18zm15-26zm7-14zm0-39zm8-9zm4-2zm8-12zm-9-35zm14-4zm-28-16zm-16 8zm-21-32zm-11-4zm-12-20zm-18-23zm-32 14zm3 24zm-18-1zm-22 5zm-25 17zm0 12zm4 64zm-17-6zm1 47zm-7 19zm40-8zm2 30zm10 17zm3 7zm-9 12zm54 152zm95-363z"/><path stroke="#4a7cb3" d="M3319 317zm19-9zm53 21zm72 120zm7 16zm-93 281z"/></g></g><rect class="ax" x="755.76" y="55.5" width="141.1" height="163.67"/>
<g clip-path="url(#c0_6)"><g transform="scale(.25)"><path stroke="#4a7cb3" d="M3717 404zm30 6zm11-28zm53-66zm19 4zm48-21zm10-10zm20 56zm125 52zm11 27zm2 0zm22 20zm15 2zm0 27zm5 70zm14-5zm-10 58zm-10 10zm-2 18zm-4 12zm14 5zm-19 31zm-79 80zm-20 18zm-63 2zm-39-6zm-18 20zm-10-1zm-101-69zm-27-102zm-26-18zm9-13zm14-33zm-5-40zm-18-1z"/><path stroke="#ef8632" d="M3834 443zm42-10zm10-25zm21 18zm59 30zm5 6zm2 9zm-7-2zm7 96zm-1 33zm10-6zm2 43zm-31 16zm-9-31zm-23 45zm-3-3zm-74-23zm-26 2zm7-12zm-24-28zm2-32zm-17 5zm11-31zm-2-12zm18-11zm-26-21zm221 63z"/><path stroke="#4a7cb3" d="M3740 377zm12 2zm32-20zm85-19zm69-37zm42 5zm7 17zm7 7zm23 23zm0 9zm31 52zm38 121zm22 58zm-80 106zm0 3zm3 16zm-26 16zm-7 6zm-34 24zm-39-10zm-4 20zm-19-12zm-40-2zm-35 9zm4 5zm-20-12zm-15-22zm-29-23zm0-9zm3-8zm-29 33zm-9-61zm-21-40zm-29-61zm-1-7zm21-24zm-2-50zm7-32z"/><path stroke="#ef8632" d="M3828 449zm10 1zm18-4zm-37 25zm1 5zm-8 45zm-3 7zm-20 23zm17 40zm37 55zm11 17zm39-1zm3-2zm-21 28zm62-20zm12-17zm-3-8zm32-4zm-6-27zm-2-30zm29-33zm-1-42zm-49-82zm-23 14zm-4-30z"/><path stroke="#4a7cb3" d="M3735 367zm0 37zm-15 4zm-14 50zm5 159zm10 12zm-6 30zm19 17zm6 14zm35 33zm14 8zm100 56zm28-8zm11 7zm16-20zm26-18zm92-63zm18-76zm20-59zm-10-33zm-12-15zm-13-15zm-5-17zm33 2zm-51-101zm-131-76zm-33 12zm-48 37z"/><path stroke="#ef8632" d="M3865 419zm9 17zm10-5zm29-2zm10 6zm33 33zm13-2zm22 2zm-1 60zm-3 8zm3 7zm-10 7zm4 7zm-17-28zm-6 92zm3 32zm-44 11zm-12-8zm-15 19zm-36-18zm-22 1zm3-29zm-35-33zm-16 11zm-2-70zm9-7zm2-11zm-4-5zm1-11zm13 12zm4-28zm9-12zm13-12zm97 154z"/><path stroke="#4a7cb3" d="M3697 422zm36 1zm-16 67zm-21 28zm-15-2zm4 44zm129 180zm115 18zm-11 29zm21 10zm79-40zm-6-42zm26 5zm16 2zm2-18zm9-27zm0-11zm-39 31zm72-99zm-13-25zm15-38zm-2-15zm-31-99zm-64-67zm-51-44zm-22 4zm-10-13zm-39 24zm-23-4zm-31 13zm-17-4zm-16 21zm8 13z"/><path stroke="#ef8632" d="M3814 471zm18 2zm-5 24zm-20-3zm7 50zm6 47zm-29-5zm40 28zm1 18zm21 18zm6-5zm18 20zm14-10zm0-18zm39-2zm20 4zm-2 19zm-9-5zm8-37zm24 14zm10-22zm13-19zm5-7zm-7-9zm2-21zm9-55zm-12-8zm-35-3zm-24-47zm-61 10z"/><path stroke="#4a7cb3" d="M3768 350zm1 9zm84-53zm86 22zm11-7zm17-10zm55 44zm-6 9zm6 20zm28 7zm1 22zm15 15zm23 81zm19 3zm-35 154zm-14 20zm-1 3zm-25 44zm-160 35zm12 13zm-46-11zm-5 22zm-79-51zm-14-46zm-18 2zm-2-20zm-10-44zm-6-83zm2-75z"/><path stroke="#ef8632" d="M3824 455zm2 10zm-13 3zm-7 17zm-4 17zm-11 15zm25 6zm-3 14zm-14 33zm2 12zm3 5zm-22-21zm-7-15zm53 59zm-3 15zm-9 11zm52 19zm18 21zm78-35zm19-19zm11-35zm-30-86zm-1-6zm-14-35zm-8-7zm-15-17zm-36-3zm-6 4zm3 8zm15 15zm-56 5zm-5-4zm139-10z"/><path stroke="#4a7cb3" d="M3785 334zm11 6zm19-7zm15-11zm45-1zm-5 11zm2-33zm27-10zm89 59zm96 144zm6 43zm0 32zm5 53zm-20 22zm7 22zm-11 17zm-60 60zm-23 1zm-11 24zm-52 27zm-130-46zm-62-99zm-26 7zm-8-56zm-2-52zm1-29zm2-23zm38-78zm-11-21zm27-20zm13 2zm0-7z"/><path stroke="#ef8632" d="M3854 436zm6-3zm5 4zm7-3zm10-9zm37 6zm0 8zm10 10zm25 12zm3-24zm29 66zm14-1zm8 7zm-11 14zm-4 23zm-12-11zm0 38zm6 23zm4 17zm-10-1zm-41 25zm-7 7zm17 3zm-44 9zm-32 13zm-5-5zm-45-51zm-14-14zm-15 19zm-5-108zm50-50z"/><path stroke="#4a7cb3" d="M3706 414zm15 23zm-2 14zm-24 73zm-15 19zm16 69zm109 158zm37-28zm22 38zm56-17zm50-15zm5-7zm51-41zm54-14zm17-87zm6-8zm-9-79zm-12-43zm-7-15zm-5-19zm-34-19zm12-21zm-23-6zm-8-50zm-21 12zm-35-1zm-1-18zm-12-24zm-18 11zm-117 11zm-22 12z"/><path stroke="#ef8632" d="M3835 426zm19-1zm4 4zm30 4zm1 11zm50-11zm-18-26zm24 68zm38-2zm-7-15zm19 35zm7 30zm3 33zm-10 0zm-13 21zm13 32zm-69 44zm-5 9zm-25 7zm-68-20zm2-2zm7-10zm1 0zm-15-12zm-9-23zm-6-9zm-8-20zm-13 7zm23-40zm-8-51zm172 24z"/><path stroke="#4a7cb3" d="M3748 385zm-27 57zm-24 30zm-11 33zm8 66zm-5 31zm9 25zm14 31zm11 48zm32 0zm-3 17zm38 31zm3-2zm35 21zm-2 7zm45 0zm-11-33zm30 71zm77-72zm93-281zm-7-16zm-72-120zm-52-21zm-20 9z"/><path stroke="#ef8632" d="M3809 472zm1 12zm24-29zm23-5zm17 1zm-3-24zm32-14zm19 23zm11 20zm12 4zm40-5zm-3 29zm-17 8zm30 12zm15-4zm-6 39zm-7 12zm-5 2zm-7 9zm-1 39zm-7 14zm-15 26zm-15 18zm-44-1zm-2-15zm-16 1zm-5 8zm-7 4zm-2 1zm1 7zm-26-10zm-4-7zm-6 19zm-3-36zm-3-30zm-33-11zm-7 19zm7-66zm16 6z"/></g></g><rect class="ax" x="903.27" y="55.5" width="141.1" height="163.67"/>
<g clip-path="url(#c0_7)"><g transform="scale(.25)"><path stroke="#4a7cb3" d="M4307 404zm30 6zm11-28zm54-66zm19 4zm47-21zm10-10zm21 56zm124 52zm12 27zm1 0zm22 20zm16 2zm-1 27zm5 70zm15-5zm-11 58zm-10 10zm-1 18zm-5 12zm14 5zm-19 31zm-78 80zm-21 18zm-63 2zm-39-6zm-18 20zm-10-1zm-101-69zm-27-102zm-26-18zm10-13zm14-33zm-5-40zm-19-1z"/><path stroke="#ef8632" d="M4425 443zm41-10zm11-25zm20 18zm59 30zm6 6zm1 9zm-7-2zm7 96zm-1 33zm10-6zm3 43zm-32 16zm-9-31zm-23 45zm-3-3zm-74-23zm-26 2zm7-12zm-24-28zm3-32zm-17 5zm10-31zm-2-12zm18-11zm-26-21zm221 63z"/><path stroke="#4a7cb3" d="M4330 377zm12 2zm32-20zm85-19zm70-37zm41 5zm8 17zm6 7zm23 23zm1 9zm31 52zm37 121zm23 58zm-81 106zm0 3zm3 16zm-26 16zm-7 6zm-34 24zm-38-10zm-5 20zm-19-12zm-40-2zm-35 9zm5 5zm-20-12zm-16-22zm-29-23zm0-9zm3-8zm-28 33zm-9-61zm-21-40zm-30-61zm-1-7zm21-24zm-2-50zm7-32z"/><path stroke="#ef8632" d="M4418 449zm11 1zm17-4zm-37 25zm1 5zm-8 45zm-3 7zm-20 23zm17 40zm38 55zm10 17zm40-1zm3-2zm-21 28zm62-20zm11-17zm-2-8zm32-4zm-7-27zm-1-30zm28-33zm-1-42zm-49-82zm-23 14zm-3-30z"/><path stroke="#4a7cb3" d="M4325 367zm0 37zm-15 4zm-14 50zm5 159zm11 12zm-7 30zm19 17zm6 14zm35 33zm15 8zm100 56zm28-8zm11 7zm16-20zm26-18zm92-63zm17-76zm20-59zm-10-33zm-12-15zm-13-15zm-5-17zm33 2zm-51-101zm-130-76zm-34 12zm-48 37z"/><path stroke="#ef8632" d="M4455 419zm9 17zm10-5zm29-2zm11 6zm32 33zm14-2zm22 2zm-2 60zm-2 8zm2 7zm-10 7zm5 7zm-18-28zm-6 92zm3 32zm-43 11zm-13-8zm-15 19zm-35-18zm-23 1zm4-29zm-36-33zm-15 11zm-3-70zm9-7zm2-11zm-4-5zm1-11zm13 12zm4-28zm10-12zm12-12zm97 154z"/><path stroke="#4a7cb3" d="M4288 422zm35 1zm-15 67zm-22 28zm-14-2zm3 44zm129 180zm115 18zm-10 29zm20 10zm79-40zm-6-42zm26 5zm17 2zm1-18zm9-27zm0-11zm-39 31zm72-99zm-13-25zm15-38zm-1-15zm-32-99zm-64-67zm-51-44zm-22 4zm-10-13zm-39 24zm-22-4zm-32 13zm-17-4zm-16 21zm8 13z"/><path stroke="#ef8632" d="M4404 471zm18 2zm-4 24zm-20-3zm6 50zm6 47zm-28-5zm40 28zm1 18zm26 13zm-5 5zm23 15zm15-10zm0-18zm38-2zm20 4zm-2 19zm-8-5zm7-37zm25 14zm10-22zm12-19zm6-7zm-8-9zm3-21zm8-55zm-11-8zm-36-3zm-24-47zm-61 10z"/><path stroke="#4a7cb3" d="M4358 350zm2 9zm83-53zm86 22zm11-7zm17-10zm55 44zm-6 9zm6 20zm29 7zm1 22zm14 15zm23 81zm20 3zm-36 154zm-13 20zm-2 3zm-25 44zm-159 35zm11 13zm-46-11zm-4 22zm-80-51zm-13-46zm-18 2zm-3-20zm-10-44zm-6-83zm2-75z"/><path stroke="#ef8632" d="M4414 455zm2 10zm-13 3zm-6 17zm-4 17zm-12 15zm25 6zm-2 14zm-15 33zm2 12zm3 5zm-21-21zm-8-15zm54 59zm-4 15zm-8 11zm51 19zm18 21zm78-35zm19-19zm11-35zm-29-86zm-2-6zm-14-35zm-8-7zm-14-17zm-37-3zm-5 4zm3 8zm14 15zm-56 5zm-5-4zm139-10z"/><path stroke="#4a7cb3" d="M4376 334zm10 6zm19-7zm15-11zm45-1zm-5 11zm2-33zm28-10zm88 59zm97 144zm6 43zm-1 32zm5 53zm-20 22zm7 22zm-11 17zm-60 60zm-23 1zm-11 24zm-52 27zm-129-46zm-63-99zm-26 7zm-8-56zm-2-52zm1-29zm2-23zm38-78zm-11-21zm27-20zm13 2zm1-7z"/><path stroke="#ef8632" d="M4444 436zm7-3zm5 4zm7-3zm9-9zm37 6zm0 8zm10 10zm25 12zm3-24zm29 66zm14-1zm8 7zm-11 14zm-4 23zm-12-11zm0 38zm7 23zm4 17zm-10-1zm-42 25zm-7 7zm17 3zm-44 9zm-32 13zm-5-5zm-45-51zm-13-14zm-16 19zm-5-108zm50-50z"/><path stroke="#4a7cb3" d="M4296 414zm15 23zm-2 14zm-24 73zm-15 19zm16 69zm109 158zm38-28zm21 38zm56-17zm50-15zm5-7zm52-41zm53-14zm18-87zm5-8zm-9-79zm-11-43zm-8-15zm-5-19zm-34-19zm12-21zm-23-6zm-7-50zm-21 12zm-36-1zm-1-18zm-12-24zm-18 11zm-117 11zm-22 12z"/><path stroke="#ef8632" d="M4426 426zm19-1zm4 4zm29 4zm1 11zm50-11zm-18-26zm24 68zm39-2zm-8-15zm20 35zm6 30zm3 33zm-10 0zm-13 21zm14 32zm-70 44zm-5 9zm-25 7zm-68-20zm2-2zm7-10zm1 0zm-15-12zm-8-23zm-6-9zm-9-20zm-13 7zm23-40zm-8-51zm172 24z"/><path stroke="#4a7cb3" d="M4338 385zm-27 57zm-23 30zm-12 33zm8 66zm-5 31zm9 25zm14 31zm12 48zm31 0zm-3 17zm38 31zm3-2zm36 21zm-3 7zm45 0zm-11-33zm31 71zm76-72zm93-281zm-7-16zm-72-120zm-52-21zm-20 9z"/><path stroke="#ef8632" d="M4399 472zm1 12zm24-29zm23-5zm18 1zm-4-24zm33-14zm18 23zm12 20zm11 4zm40-5zm-3 29zm-16 8zm30 12zm14-4zm-6 39zm-7 12zm-5 2zm-7 9zm0 39zm-8 14zm-14 26zm-16 18zm-44-1zm-2-15zm-16 1zm-5 8zm-7 4zm-2 1zm1 7zm-26-10zm-4-7zm-6 19zm-3-36zm-3-30zm-33-11zm-6 19zm6-66zm16 6z"/></g></g><rect class="ax" x="1050.78" y="55.5" width="141.1" height="163.67"/>
<g clip-path="url(#c0_8)"><g transform="scale(.25)"><path stroke="#4a7cb3" d="M4897 404zm30 6zm11-28zm54-66zm19 4zm47-21zm10-10zm21 56zm124 52zm12 27zm1 0zm23 20zm15 2zm-1 27zm5 70zm15-5zm-10 58zm-11 10zm-1 18zm-5 12zm15 5zm-20 31zm-78 80zm-21 18zm-62 2zm-39-6zm-18 20zm-11-1zm-100-69zm-27-102zm-27-18zm10-13zm14-33zm-5-40zm-19-1z"/><path stroke="#ef8632" d="M5015 443zm41-10zm11-25zm21 18zm58 30zm6 6zm2 9zm-7-2zm7 96zm-2 33zm11-6zm2 43zm-31 16zm-9-31zm-24 45zm-3-3zm-74-23zm-26 2zm7-12zm-23-28zm2-32zm-17 5zm10-31zm-1-12zm17-11zm-26-21zm222 63z"/><path stroke="#4a7cb3" d="M4920 377zm13 2zm31-20zm86-19zm69-37zm41 5zm8 17zm7 7zm23 23zm0 9zm31 52zm38 121zm22 58zm-80 106zm0 3zm2 16zm-26 16zm-6 6zm-35 24zm-38-10zm-5 20zm-19-12zm-39-2zm-35 9zm4 5zm-20-12zm-16-22zm-28-23zm0-9zm2-8zm-28 33zm-9-61zm-21-40zm-29-61zm-1-7zm21-24zm-2-50zm6-32z"/><path stroke="#ef8632" d="M5008 449zm11 1zm17-4zm-37 25zm1 5zm-8 45zm-3 7zm-20 23zm18 40zm37 55zm10 17zm40-1zm3-2zm-21 28zm62-20zm11-17zm-2-8zm32-4zm-7-27zm-1-30zm29-33zm-1-42zm-49-82zm-24 14zm-3-30z"/><path stroke="#4a7cb3" d="M4915 367zm1 37zm-15 4zm-15 50zm6 159zm10 12zm-6 30zm18 17zm7 14zm35 33zm14 8zm100 56zm28-8zm11 7zm16-20zm26-18zm92-63zm18-76zm19-59zm-10-33zm-12-15zm-12-15zm-6-17zm33 2zm-50-101zm-131-76zm-34 12zm-48 37z"/><path stroke="#ef8632" d="M5045 419zm9 17zm11-5zm28-2zm11 6zm33 33zm13-2zm22 2zm-1 60zm-3 8zm3 7zm-11 7zm5 7zm-18-28zm-6 92zm3 32zm-43 11zm-12-8zm-16 19zm-35-18zm-22 1zm3-29zm-35-33zm-16 11zm-2-70zm9-7zm2-11zm-4-5zm0-11zm13 12zm4-28zm10-12zm12-12zm97 154z"/><path stroke="#4a7cb3" d="M4878 422zm35 1zm-15 67zm-21 28zm-15-2zm4 44zm129 180zm115 18zm-11 29zm20 10zm79-40zm-5-42zm26 5zm16 2zm1-18zm9-27zm0-11zm-39 31zm73-99zm-13-25zm14-38zm-1-15zm-31-99zm-65-67zm-50-44zm-23 4zm-10-13zm-38 24zm-23-4zm-31 13zm-17-4zm-16 21zm7 13z"/><path stroke="#ef8632" d="M4994 471zm18 2zm-4 24zm-20-3zm6 50zm7 47zm-29-5zm40 28zm1 18zm26 13zm-5 5zm23 15zm15-10zm0-18zm38-2zm20 4zm-2 19zm-8-5zm7-37zm25 14zm10-22zm12-19zm6-7zm-8-9zm3-21zm9-55zm-12-8zm-35-3zm-25-47zm-61 10z"/><path stroke="#4a7cb3" d="M4948 350zm2 9zm83-53zm87 22zm10-7zm17-10zm55 44zm-5 9zm6 20zm28 7zm1 22zm14 15zm23 81zm20 3zm-36 154zm-13 20zm-2 3zm-25 44zm-159 35zm12 13zm-47-11zm-4 22zm-80-51zm-13-46zm-18 2zm-2-20zm-11-44zm-5-83zm1-75z"/><path stroke="#ef8632" d="M5005 455zm1 10zm-13 3zm-6 17zm-4 17zm-11 15zm25 6zm-3 14zm-14 33zm1 12zm4 5zm-22-21zm-7-15zm53 59zm-4 15zm-8 11zm51 19zm19 21zm78-35zm19-19zm11-35zm-30-86zm-1-6zm-14-35zm-9-7zm-14-17zm-37-3zm-5 4zm3 8zm14 15zm-60 1zm4 4zm134-14z"/><path stroke="#4a7cb3" d="M4966 334zm11 6zm19-7zm15-11zm45-1zm-6 11zm2-33zm28-10zm88 59zm97 144zm6 43zm-1 32zm5 53zm-20 22zm7 22zm-11 17zm-59 60zm-24 1zm-11 24zm-52 27zm-129-46zm-63-99zm-26 7zm-8-56zm-1-52zm0-29zm2-23zm39-78zm-11-21zm26-20zm14 2zm0-7z"/><path stroke="#ef8632" d="M5034 436zm7-3zm5 4zm7-3zm9-9zm38 6zm0 8zm9 10zm25 12zm3-24zm29 66zm15-1zm7 7zm-10 14zm-5 23zm-11-11zm0 38zm6 23zm4 17zm-10-1zm-41 25zm-8 7zm18 3zm-44 9zm-37 8zm4 5zm-49-56zm-14-14zm-16 19zm-5-108zm50-50z"/><path stroke="#4a7cb3" d="M4887 414zm15 23zm-3 14zm-23 73zm-16 19zm17 69zm108 158zm38-28zm21 38zm57-17zm49-15zm5-7zm52-41zm53-14zm18-87zm5-8zm-9-79zm-11-43zm-7-15zm-5-19zm-35-19zm13-21zm-23-6zm-8-50zm-21 12zm-36-1zm0-18zm-13-24zm-18 11zm-116 11zm-23 12z"/><path stroke="#ef8632" d="M5016 426zm19-1zm4 4zm29 4zm2 11zm49-11zm-18-26zm24 68zm39-2zm-7-15zm19 35zm6 30zm3 33zm-10 0zm-13 21zm14 32zm-70 44zm-5 9zm-24 7zm-66-22zm-3 2zm9-12zm1 0zm-15-12zm-8-23zm-6-9zm-9-20zm-12 7zm22-40zm-7-51zm172 24z"/><path stroke="#4a7cb3" d="M4928 385zm-27 57zm-23 30zm-12 33zm8 66zm-4 31zm8 25zm15 31zm11 48zm31 0zm-3 17zm38 31zm4-2zm35 21zm-3 7zm45 0zm-11-33zm31 71zm77-72zm93-281zm-7-16zm-73-120zm-52-21zm-19 9z"/><path stroke="#ef8632" d="M4990 472zm0 12zm25-29zm22-5zm18 1zm-3-24zm32-14zm18 23zm12 20zm11 4zm41-5zm-4 29zm-16 8zm30 12zm14-4zm-6 39zm-7 12zm-4 2zm-8 9zm0 39zm-8 14zm-14 26zm-16 18zm-44-1zm-2-15zm-15 1zm-6 8zm-7 4zm-2 1zm2 7zm-27-10zm-3-7zm-6 19zm-4-36zm-2-30zm-34-11zm-6 19zm6-66zm17 6z"/></g></g><rect class="ax" x="1199.09" y="55.5" width="140.3" height="163.67"/>
<g clip-path="url(#c0_9)"><g transform="scale(.25)"><path stroke="#4a7cb3" d="M5487 404zm31 6zm10-28zm77 61zm-22 77zm-17 11zm2 12zm6 26zm-17 5zm15 27zm23 28zm-6 12zm25-2zm75 23zm2 3zm33-14zm-9-31zm40 15zm91 1zm5-12zm1-18zm11-10zm-2 45zm-19 31zm-79 80zm-21 18zm-62 2zm-39-6zm-18 20zm-10-1zm-101-69zm-27-102zm-27-18zm10-13zm14-33zm-5-40zm-18-1zm99-10z"/><path stroke="#ef8632" d="M5582 316zm19 4zm48-21zm9-10zm21 56zm-1 81zm-31 7zm10-25zm80 48zm5 6zm2 9zm-7-2zm7 96zm-1 33zm10-6zm26-30zm79-19zm15-5zm-20-65zm1-27zm-15-2zm-22-20zm-2 0zm-12-27z"/><path stroke="#4a7cb3" d="M5511 377zm12 2zm-46 81zm-6 32zm2 50zm-21 24zm1 7zm29 61zm21 40zm37 28zm-2 8zm0 9zm-26 16zm55 7zm15 22zm16 7zm4 5zm31-14zm40 2zm18 12zm5-20zm38 10zm35-24zm6-6zm26-16zm-2-16zm0-3zm-50-62zm-32 4zm2 8zm-11 17zm-41-8zm-3 2zm-39 1zm-11-17zm32 42zm-69-97zm-18-40zm21-23zm3-7zm7-45zm0-5zm9-22zm10 1zm270 145z"/><path stroke="#ef8632" d="M5554 359zm86-19zm69-37zm42 5zm7 17zm7 7zm23 23zm0 9zm31 52zm-99 9zm-23 14zm-4-30zm-67 37zm143 61zm1 42zm-29 33zm1 30zm115-75z"/><path stroke="#4a7cb3" d="M5506 367zm0 37zm-15 4zm-14 50zm113 17zm-9 12zm-4 28zm-10 4zm-4-5zm1-11zm1 27zm-9 7zm2 70zm16-11zm35 33zm-3 29zm22-1zm51-1zm12 8zm-28 11zm72-22zm-3-32zm-32-4zm151-8zm-18 76zm-92 63zm-26 18zm-16 20zm-11-7zm-28 8zm-100-56zm-14-8zm-35-33zm-7-14zm-18-17zm6-30zm-10-12zm121-154z"/><path stroke="#ef8632" d="M5600 344zm49-37zm33-12zm2 134zm10 6zm-39-4zm-11 5zm-9-17zm92 49zm13-2zm22 2zm-1 60zm-3 8zm3 7zm-10 7zm4 7zm-18-28zm124-12zm-12-15zm-13-15zm-5-17zm33 2zm6 78zm-57-179z"/><path stroke="#4a7cb3" d="M5468 422zm35 1zm-15 67zm-21 28zm-15-2zm4 44zm106 26zm29 5zm11 23zm1 18zm26 13zm-5 5zm24 15zm14-10zm0-18zm38-2zm20 4zm-1 19zm-9-5zm8-37zm24 14zm55 67zm-14 18zm26 5zm16 2zm2-18zm9-27zm0-11zm33-68zm-81 159zm-88 1zm-11 29zm21 10zm-125-57zm0-196zm-7-50zm20 3zm5-24zm-19-2z"/><path stroke="#ef8632" d="M5581 330zm17 4zm31-13zm23 4zm49-11zm-10-13zm32 9zm50 44zm65 67zm31 99zm2 15zm-15 38zm-93 0zm7 9zm-5 7zm-13 19zm13-56zm9-55zm-12-8zm-35-3zm-24-47zm-61 10zm-69-85zm-8-13z"/><path stroke="#4a7cb3" d="M5539 350zm1 9zm55 96zm1 10zm-12 3zm-7 17zm-4 17zm-11 15zm25 6zm-3 14zm-14 33zm1 12zm4 5zm-22-21zm-7-15zm-70-1zm1-75zm135-14zm4 4zm-17 145zm-3 15zm-9 11zm52 19zm18 21zm-13 92zm12 13zm-47-11zm-4 22zm-79-51zm-14-46zm-18 2zm-2-20zm-10-44zm253 8zm109 25zm-14 20zm-1 3zm-26 44z"/><path stroke="#ef8632" d="M5624 306zm86 22zm10-7zm18-10zm54 44zm-5 9zm6 20zm28 7zm1 22zm14 15zm24 81zm19 3zm-144-11zm-1-6zm-14-35zm-8-7zm-15-17zm-37-3zm-5 4zm3 8zm15 15zm78-9zm14 136zm-11 35z"/><path stroke="#4a7cb3" d="M5498 396zm11 21zm16-41zm13 2zm0-7zm72 89zm-50 50zm-91 8zm2-23zm-3 52zm1 52zm9 56zm26-7zm62-30zm15-19zm14 14zm45 51zm4 5zm33-13zm26-12zm8-7zm10 10zm125-5zm6 22zm-10 17zm23-61zm-83 121zm-24 1zm-10 24zm-53 27zm-129-46z"/><path stroke="#ef8632" d="M5556 334zm11 6zm19-7zm15-11zm45-1zm-6 11zm2-33zm28-10zm88 59zm-31 89zm-3 24zm-25-12zm-9-10zm0-8zm-38-6zm-9 9zm-7 3zm-5-4zm-6 3zm132 67zm14-1zm8 7zm-11 14zm-4 23zm-12-11zm0 38zm6 23zm4 17zm-10-1zm109-45zm0-32zm-6-43z"/><path stroke="#4a7cb3" d="M5477 414zm15 23zm-2 14zm-24 73zm-16 19zm17 69zm91-32zm12-7zm9 20zm6 9zm8 23zm15 12zm1 0zm-8 10zm-3 2zm69 20zm24-7zm6-9zm-6 110zm50-15zm5-7zm51-41zm53-14zm18-87zm5-8zm-292-51zm-8-51zm3 281zm37-28zm22 38z"/><path stroke="#ef8632" d="M5561 342zm23-12zm22 96zm19-1zm4 4zm30 4zm1 11zm50-11zm-18-26zm24 68zm38-2zm-7-15zm19 35zm6 30zm3 33zm-10 0zm-13 21zm14 32zm-21-96zm119-1zm-11-43zm-7-15zm-5-19zm-34-19zm12-21zm-23-6zm-8-50zm-21 12zm-36-1zm0-18zm-12-24zm-18 11z"/><path stroke="#4a7cb3" d="M5518 385zm-27 57zm-23 30zm-12 33zm9 66zm-5 31zm8 25zm15 31zm11 48zm32 0zm-3 17zm37 31zm4-2zm35 21zm-2 7zm44 0zm-10-33zm12-83zm0-8zm-2 1zm9-5zm6-8zm16-1zm1 15zm44 1zm16-18zm5 105zm-77 72zm-54-152zm9-12zm-3-7zm-9-17zm-3-30zm-33-11zm-7 19zm6-66zm17 6zm-4-64zm0-12zm25-17z"/><path stroke="#ef8632" d="M5680 317zm19-9zm53 21zm4 126zm-4 29zm-16 8zm30 12zm14-4zm-5 39zm-8 12zm-4 2zm-8 9zm0 39zm-7 14zm-33-155zm-11-4zm-12-20zm-18-23zm-32 14zm3 24zm-18-1zm197-1zm7 16z"/></g></g><rect class="ax" x="1346.6" y="55.5" width="140.3" height="163.67"/>
<g clip-path="url(#c0_10)"><g transform="scale(.25)"><path stroke="#4a7cb3" d="M6049 509zm19 1zm5 40zm-14 33zm-10 13zm26 18zm87-13zm2-32zm-17 5zm11-31zm-2-12zm30 98zm-7 12zm26-2zm74 23zm3 3zm32-14zm-9-31zm28-22zm10-6zm2 43zm92 1zm4-12zm2-18zm10-10zm-2 45zm-19 31zm-78 80zm-21 18zm-63 2zm-39-6zm-18 20zm-10-1zm-101-69z"/><path stroke="#ef8632" d="M6078 404zm30 6zm11-28zm54-66zm18 4zm48-21zm10-10zm20 56zm-1 81zm-31 7zm10-25zm-52 35zm-21 77zm-26-21zm179-30zm7 2zm-1-9zm-6-6zm78-32zm2 0zm-13-27zm35 47zm15 2zm0 27zm5 70zm14-5zm-94 24zm-35 3z"/><path stroke="#4a7cb3" d="M6063 542zm-21 24zm1 7zm30 61zm20 40zm38 28zm-3 8zm0 9zm-26 16zm55 7zm15 22zm16 7zm4 5zm31-14zm40 2zm23-8zm-4 20zm43-10zm34-24zm7-6zm26-16zm-3-16zm0-3zm-50-62zm-6-27zm-2-30zm-24 61zm3 8zm-12 17zm-40-8zm-4 2zm-39 1zm-11-17zm33 42zm-70-97zm-17-40zm320 44z"/><path stroke="#ef8632" d="M6101 377zm12 2zm32-20zm85-19zm69-37zm42 5zm7 17zm7 7zm23 23zm0 9zm31 52zm-99 9zm-23 14zm-4-30zm-66 37zm-18 4zm-10-1zm-9 22zm1 5zm-8 45zm-3 7zm-109-36zm7-32zm291 47zm1 42zm87-12z"/><path stroke="#4a7cb3" d="M6146 537zm9-7zm9 66zm-16 11zm51 22zm-3 29zm22-1zm51-1zm12 8zm-27 11zm71-22zm-3-32zm-32-4zm151-8zm-18 76zm-92 63zm-26 18zm-16 20zm-11-7zm-27 8zm-101-56zm-14-8zm-35-33zm-6-14zm-19-17zm6-30zm-10-12z"/><path stroke="#ef8632" d="M6096 367zm0 37zm-15 4zm-14 50zm113 17zm-9 12zm-4 28zm-10 4zm-4-5zm1-11zm39-40zm42-27zm10-5zm-19-12zm48 10zm11 6zm32 33zm13-2zm23 2zm-2 60zm-3 8zm3 7zm-10 7zm4 7zm-17-28zm123-12zm-12-15zm-13-15zm-5-17zm33 2zm7 78zm-58-179zm-131-76zm-33 12zm-48 37z"/><path stroke="#4a7cb3" d="M6042 516zm15 2zm-11 42zm106 26zm29 5zm12 23zm1 18zm26 13zm-5 5zm23 15zm14-10zm1-18zm38-2zm20 4zm-2 19zm-9-5zm8-37zm24 14zm10-22zm13-19zm6-7zm-8-9zm106 25zm-33 68zm0 11zm-9 27zm-2 18zm-16-2zm-26-5zm14-18zm-8 60zm-89 1zm-11 29zm21 10zm-125-57zm0-196z"/><path stroke="#ef8632" d="M6059 422zm35 1zm-16 67zm90 4zm20 3zm5-24zm-18-2zm57-22zm61-10zm24 47zm35 3zm12 8zm-9 55zm91 21zm15-38zm-2-15zm-31-99zm-64-67zm-51-44zm-22 4zm-10-13zm-39 24zm-23-4zm-31 13zm-17-4zm-16 21zm8 13z"/><path stroke="#4a7cb3" d="M6066 550zm70 1zm7 15zm17 4zm2 12zm3 5zm24 23zm-3 15zm-9 11zm52 19zm18 21zm-13 92zm12 13zm-46-11zm-5 22zm-79-51zm-14-46zm-18 2zm-2-20zm-10-44zm102-96zm181 50zm-11 35zm-19 19zm109 25zm-14 20zm-1 3zm-25 44z"/><path stroke="#ef8632" d="M6129 350zm2 9zm83-53zm86 22zm11-7zm17-10zm55 44zm-6 9zm6 20zm28 7zm1 22zm15 15zm23 81zm19 3zm-143-11zm-2-6zm-14-35zm-8-7zm-15-17zm-36-3zm-6 4zm3 8zm15 15zm-56 5zm-5-4zm-15 4zm-2-10zm-11 13zm-6 17zm-4 17zm-12 15zm25 6zm-109-48zm273-24z"/><path stroke="#4a7cb3" d="M6059 518zm-1 29zm2 52zm8 56zm26-7zm62-30zm15-19zm14 14zm45 51zm5 5zm32-13zm27-12zm7-7zm10 10zm32-35zm9 1zm-4-17zm-6-23zm114 47zm-20 22zm7 22zm-11 17zm-60 60zm-23 1zm-11 24zm-52 27zm-130-46z"/><path stroke="#ef8632" d="M6146 334zm11 6zm19-7zm15-11zm45-1zm-5 11zm2-33zm27-10zm89 59zm-31 89zm-3 24zm-25-12zm-10-10zm0-8zm-37-6zm-10 9zm-6 3zm-6-4zm-6 3zm-14 24zm-50 50zm-90-15zm38-78zm-11-21zm27-20zm13 2zm0-7zm219 132zm14-1zm8 7zm-11 14zm-4 23zm-12-11zm109 0zm0 32zm-5-75z"/><path stroke="#4a7cb3" d="M6056 524zm-15 19zm16 69zm91-32zm13-7zm8 20zm6 9zm9 23zm14 12zm1 0zm-8 10zm-2 2zm68 20zm25-7zm5-9zm69-44zm-13-32zm116 22zm-18 87zm-54 14zm-51 41zm-5 7zm-50 15zm-56 17zm-22-38zm-37 28zm5-230z"/><path stroke="#ef8632" d="M6067 414zm15 23zm-2 14zm83 38zm33-63zm20-1zm3 4zm30 4zm1 11zm50-11zm-18-26zm24 68zm38-2zm-7-15zm19 35zm7 30zm3 33zm-10 0zm-21-43zm120-1zm-12-43zm-7-15zm-5-19zm-34-19zm12-21zm-23-6zm-8-50zm-21 12zm-35-1zm-1-18zm-12-24zm-18 11zm-117 11zm-22 12zm312 249z"/><path stroke="#4a7cb3" d="M6047 505zm8 66zm-5 31zm9 25zm14 31zm11 48zm32 0zm-3 17zm38 31zm3-2zm35 21zm-2 7zm45 0zm-11-33zm12-83zm-1-7zm2-1zm7-4zm5-8zm16-1zm2 15zm44 1zm15-18zm15-26zm7-14zm-154-1zm3 30zm9 17zm4 7zm-10 12zm-46-58zm7-19zm0-47zm16 6zm77 270zm77-72z"/><path stroke="#ef8632" d="M6109 385zm-27 57zm-24 30zm112 0zm1 12zm24-29zm23-5zm17 1zm-3-24zm32-14zm19 23zm11 20zm12 4zm40-5zm-3 29zm-17 8zm30 12zm15-4zm-6 39zm-7 12zm-5 2zm-7 9zm75-97zm-7-16zm-72-120zm-52-21zm-20 9z"/></g></g><rect class="ax" x="1494.11" y="55.5" width="140.3" height="163.67"/>
<g clip-path="url(#c1_0)"><g transform="scale(.25)"><path stroke="#4a7cb3" d="M405 1190zm0 20zm-3-3zm12 17zm0 7zm9-7zm-1 39zm109 3zm-5-33zm21 10zm-7-40zm2-12zm-7-31zm21-4zm-38 144zm4 9zm-41 78zm-13 1zm-3-9zm-23 4zm1 25zm-17-4zm-8-1zm-10 7zm-10 10zm-23-15zm-32-38zm-2-18zm-16-42zm-14-7z"/><path stroke="#ef8632" d="M209 1061zm-5 19zm-3 3zm-7 2zm-10 46zm-9 14zm-12 79zm-6 6zm-1 5zm2 1zm7 9zm-11 7zm4 30zm143-43zm-7-17zm-3 3zm-1-21zm93-75zm-5-68zm-6 3zm-8-11zm-16 3zm-11-2zm0-29zm-31-2zm-6-1zm-7-7zm-17-9zm-4 0zm-5 9zm-28 29zm79-45z"/><path stroke="#4a7cb3" d="M407 1152zm-5 7zm6 45zm4 68zm-94-2zm11 20zm-11 18zm13 57zm11 9zm12 1zm12 17zm16-2zm37 9zm-10 19zm-20 13zm56-27zm37-43zm6 1zm10-5zm11-32zm1-9zm19-16zm4-24zm-2-12zm15-13zm-9-36zm-3-36z"/><path stroke="#ef8632" d="M195 1059zm20-1zm0 11zm12-15zm-1-15zm10-9zm4-6zm13 1zm4 1zm5-14zm12 0zm-2 2zm19-15zm20 15zm-5 23zm29 1zm15 6zm-19-44zm47 97zm9-4zm14 9zm-5 19zm2 7zm-102 61zm-4 1zm-131 4zm-7-6zm11-29zm0 0zm3-6zm15-32zm10-25zm-22 1zm-11 4zm82-31zm-72 182z"/><path stroke="#4a7cb3" d="M299 1267zm10 3zm-5 15zm16 25zm-6 12zm-2 1zm11 20zm46 43zm20-3zm-1 16zm-7-1zm0 21zm19-4zm4-4zm-3-7zm8-7zm29 2zm9-8zm30-7zm-1 22zm15-46zm19-11zm13-37zm-10-17zm25-26zm-4-40zm-17 1zm-97-2zm-17 12zm-2-1zm7 10zm7 10zm-2-97zm127-12zm-3-7z"/><path stroke="#ef8632" d="M229 1027zm1 4zm22-1zm3-6zm-6-10zm17-13zm10 20zm34-15zm15 13zm3 18zm-11 10zm50 24zm2 8zm14-4zm-100 75zm3 4zm-1 11zm-13 16zm28 14zm-139 26zm-5 8zm6 42zm10-148zm3-6zm3-6zm16 0zm-4-14z"/><path stroke="#4a7cb3" d="M402 1152zm9 42zm9 56zm0 14zm85 19zm29 4zm0 6zm-9-26zm6-11zm10-16zm3-28zm4-26zm2-7zm-4-10zm1-24zm-24 77zm-16 92zm-6 26zm-9 26zm-3 16zm-17-4zm-14 11zm-24 6zm-9 32zm-35-16zm-18 1zm-6-15zm-1-6zm-39-30zm-33-90zm3-7zm179 85z"/><path stroke="#ef8632" d="M221 1032zm51-38zm12 3zm22 2zm-10 13zm19 10zm13 10zm29 14zm-4 5zm11 12zm9 9zm11 14zm4 16zm2 2zm-16-6zm-20-19zm-51 124zm0 27zm-146-3zm4-5zm5-13zm7-5zm-5-18zm13-16zm-17-20zm12-27zm12 11zm8-28zm-27-2zm-4 141zm-11 1z"/><path stroke="#4a7cb3" d="M408 1151zm-5 9zm-2 19zm10-1zm-4 18zm7 12zm1 46zm12-3zm111 2zm6-26zm4-43zm-43 161zm-8-2zm-47 31zm-14 22zm-9 4zm-16-1zm-5-9zm-14 11zm-24 1zm-1-11zm0-4zm1-1zm2-1zm-14-6zm-16-20zm-4-18zm-15-4zm-3 13zm8-35zm-17-23zm-10-18zm109 143zm9-5zm16 7zm29-5zm-1-8zm5-9z"/><path stroke="#ef8632" d="M243 1020zm3 8zm-8 6zm-14 18zm-13 11zm-5 2zm6 22zm-20 1zm-18 90zm-4 5zm-4 13zm-7 49zm129 4zm17-27zm-32-52zm-5-149zm30 7zm13 10zm31 0zm-5 7zm34 7zm24 54zm-5 9zm0 5z"/><path stroke="#4a7cb3" d="M301 1269zm3 16zm-4 4zm16 22zm0 11zm22 34zm7-3zm3 1zm6 5zm6 26zm29 19zm57-7zm-1 23zm22-46zm31-18zm2 0zm16-43zm6-46zm9 0zm5 8zm6-61zm7 2zm-5-21zm-3-25zm-125 86zm-1 17z"/><path stroke="#ef8632" d="M230 1047zm23-23zm14-13zm3-4zm19 4zm6-6zm8 16zm28 18zm4 2zm7 6zm9 1zm1 23zm7-5zm19-12zm12-2zm-18 38zm2 4zm24 52zm-119-4zm12 26zm9 4zm-12 8zm8 48zm8-7zm1 27zm-139-14zm-8-6zm11-19zm-8-43zm19-21zm-5-17zm12-6zm-31 148zm5 19zm185-263zm4-5zm-25-24z"/><path stroke="#4a7cb3" d="M406 1151zm-1 34zm8 1zm-1 20zm-9 2zm9 12zm1 1zm6 42zm-104 5zm-5-3zm9 26zm-19 4zm19 46zm19 6zm12 0zm5 1zm8 6zm18 43zm40 13zm0 14zm12-18zm25-23zm-5-6zm19-3zm2 2zm4-5zm-10-6zm11-18zm29-26zm12-23zm-1-19zm34-67zm-13-39zm14-23z"/><path stroke="#ef8632" d="M200 1033zm6 40zm13-7zm-28 15zm-16 36zm-4 4zm-7 35zm13 49zm-12 32zm-1 50zm117-85zm14-1zm1-15zm-1-5zm-7-29zm97-3zm8-21zm16 7zm-17-31zm-1-4zm-33-49zm-9-6zm-30-27zm2-9zm-10-12zm-37-3zm-3 33zm25-2z"/><path stroke="#4a7cb3" d="M301 1291zm12 11zm0 3zm9-5zm13 41zm-1 25zm20 9zm-6 6zm20 9zm27-7zm26 12zm9 11zm5 7zm0 6zm39-38zm3-8zm-8 0zm12-17zm2-2zm17-3zm-1-3zm-2-11zm6-8zm2-17zm8-1zm-3-24zm20-6zm10-21zm3-39zm2-19zm-4-46zm4-10zm3-2zm-148 75zm2 9z"/><path stroke="#ef8632" d="M220 1010zm0 27zm11-1zm7 8zm-3 15zm-13 8zm-6 7zm0-27zm35-29zm5-9zm3-11zm17 2zm27 8zm-10 17zm28 10zm14-7zm50 68zm3-3zm12 33zm-106 14zm9 34zm-13 20zm7 10zm17 38zm-22 15zm-88-131zm-27-16zm10-25z"/></g></g><rect class="ax" x="18.2" y="220.77" width="140.3" height="163.67"/>
<g clip-path="url(#c1_1)"><g transform="scale(.25)"><path stroke="#ef8632" d="M973 1129zm22 61zm-3 17zm4 3zm8 14zm1 7zm8-7zm-1 39zm109 3zm-4-33zm20 10zm-6-40zm1-12zm-6-31zm20-4zm-37 144zm3 9zm-40 78zm-14 1zm-2-9zm-24 4zm2 25zm-18-4zm-7-1zm-11 7zm-9 10zm-23-15zm-33-38zm-2-18zm-16-42zm-13-7zm-10-61zm-7-17zm-3 3z"/><path stroke="#4a7cb3" d="M799 1061zm-5 19zm-2 3zm-8 2zm-9 46zm-10 14zm-12 79zm-6 6zm-1 5zm2 1zm7 9zm-11 7zm4 30zm132-78zm3-189zm7 7zm6 1zm31 2zm0 29zm12 2zm15-3zm8 11zm6-3zm-60-62zm-42 7zm-3 0zm-5 9zm-29 29z"/><path stroke="#ef8632" d="M991 1102zm-5 19zm2 7zm9 24zm-5 7zm7 45zm3 68zm-93-2zm10 20zm-11 18zm13 57zm11 9zm12 1zm12 17zm16-2zm37 9zm-9 19zm-21 13zm56-27zm38-43zm6 1zm9-5zm11-32zm1-9zm19-16zm5-24zm-3-12zm15-13zm-8-36zm-4-36z"/><path stroke="#4a7cb3" d="M785 1059zm20-1zm0 11zm27 1zm-14-16zm-2-15zm10-9zm4-6zm13 1zm5 1zm5-14zm11 0zm-1 2zm18-15zm20 15zm-5 23zm29 1zm15 6zm-18-44zm46 97zm9-4zm-91 96zm-3 1zm-132 4zm-7-6zm11-29zm1 0zm2-6zm15-32zm10-25zm-22 1zm-11 4zm11 151z"/><path stroke="#ef8632" d="M889 1267zm11 3zm-6 15zm16 25zm-6 12zm-1 1zm10 20zm46 43zm12 12zm8 1zm12 5zm3 7zm-4 4zm-19 4zm9-36zm20 14zm28 2zm10-8zm29-7zm-1 22zm15-46zm20-11zm12-37zm-10-17zm26-26zm-5-40zm-17 1zm-96-2zm-17 12zm-3-1zm7 10zm7 10zm-2-97zm128-12zm-4-7z"/><path stroke="#4a7cb3" d="M820 1027zm1 4zm21-1zm3-6zm-5-10zm16-13zm10 20zm34-15zm15 13zm3 18zm-10 10zm49 24zm3 8zm13-4zm-99 75zm2 4zm0 11zm-13 16zm28 14zm-139 26zm-6 8zm6 42zm10-148zm3-6zm3-6zm16 0zm-3-14z"/><path stroke="#ef8632" d="M980 1104zm12 48zm10 42zm8 56zm1 14zm84 19zm29 4zm0 6zm-9-26zm6-11zm10-16zm4-28zm3-26zm3-7zm-5-10zm1-24zm-23 77zm-16 92zm-7 26zm-25 9zm16 17zm-3 16zm-17-4zm-14 11zm-24 6zm-8 32zm-36-16zm-18 1zm-5-15zm-1-6zm-39-30zm-33-90zm2-7zm7-34zm1-27z"/><path stroke="#4a7cb3" d="M811 1032zm51-38zm12 3zm22 2zm-10 13zm19 10zm13 10zm30 14zm-5 5zm11 12zm9 9zm11 14zm4 16zm-14-4zm-20-19zm-158 27zm-27-2zm7 19zm12 11zm-24 16zm17 20zm-12 16zm4 18zm-6 5zm-6 13zm-4 5zm-3 19zm11-1z"/><path stroke="#ef8632" d="M985 1106zm-5 9zm0 5zm18 31zm-5 9zm-1 19zm10-1zm-4 18zm6 12zm1 46zm12-3zm111 2zm7-26zm3-43zm-42 161zm-9-2zm-47 31zm-14 22zm-9 4zm-16-1zm-5-9zm-13 11zm-24 1zm-2-11zm1-4zm0-1zm2-1zm-14-6zm-16-20zm-4-18zm-15-4zm-2 13zm8-35zm-18-23zm-9-18zm-12-25zm17-27zm103 195zm9-5zm16 7zm29-5zm0-8zm4-9z"/><path stroke="#4a7cb3" d="M834 1020zm2 8zm-8 6zm-13 18zm-14 11zm-4 2zm5 22zm-20 1zm-18 90zm-3 5zm-4 13zm-8 49zm114-75zm-5-149zm30 7zm13 10zm31 0zm-4 7zm33 7z"/><path stroke="#ef8632" d="M886 1228zm8-7zm2 27zm-4 21zm2 16zm-3 4zm16 22zm0 11zm22 34zm6-3zm3 1zm7 5zm6 26zm28 19zm57-7zm-1 23zm22-46zm31-18zm2 0zm17-43zm6-46zm8 0zm5 8zm6-61zm7 2zm-5-21zm-3-25zm-143-24zm19 110zm-2 17z"/><path stroke="#4a7cb3" d="M820 1047zm24-23zm13-13zm3-4zm20 4zm6-6zm8 16zm27 18zm5 2zm6 6zm10 1zm1 23zm6-5zm19-12zm12-2zm-18 38zm3 4zm-28-68zm3-5zm-25-24zm-45 145zm12 26zm8 4zm-12 8zm-126-14zm18-21zm-4-17zm11-6zm-18 87zm-3 25zm-7-6zm-3 42zm5 19z"/><path stroke="#ef8632" d="M981 1100zm2 4zm0 24zm17 7zm-4 16zm-21-2zm20 36zm8 1zm-1 20zm-8 2zm8 12zm1 1zm6 42zm-104 5zm-5-3zm9 26zm-19 4zm19 46zm20 6zm11 0zm5 1zm8 6zm18 43zm41 13zm-1 14zm13-18zm24-23zm-5-6zm19-3zm2 2zm4-5zm-9-6zm10-18zm30-26zm11-23zm0-19zm33-67zm-13-39zm15-23z"/><path stroke="#4a7cb3" d="M790 1033zm6 40zm13-7zm-27 15zm-16 36zm-5 4zm-7 35zm13 49zm-12 32zm-1 50zm118-85zm13-1zm1-15zm0-5zm-8-29zm8-127zm-25 2zm4-33zm37 3zm9 12zm-2 9zm31 27zm8 6z"/><path stroke="#ef8632" d="M990 1126zm0 93zm2 9zm-88 14zm-21 15zm8 34zm12 11zm0 3zm10-5zm12 41zm0 25zm20 9zm-6 6zm19 9zm27-7zm27 12zm9 11zm5 7zm0 6zm38-38zm4-8zm-9 0zm13-17zm1-2zm17-3zm-1-3zm-1-11zm5-8zm3-17zm7-1zm-3-24zm21-6zm9-21zm3-39zm2-19zm-4-46zm4-10zm3-2z"/><path stroke="#4a7cb3" d="M811 1010zm-1 27zm11-1zm7 8zm-3 15zm-13 8zm-6 7zm0-27zm35-29zm5-9zm3-11zm17 2zm27 8zm-10 17zm28 10zm14-7zm50 68zm3-3zm-94 47zm9 34zm-12 20zm6 10zm-93-78zm-26-16zm9-25z"/></g></g><rect class="ax" x="165.71" y="220.77" width="140.3" height="163.67"/>
<g clip-path="url(#c1_2)"><g transform="scale(.25)"><path stroke="#4a7cb3" d="M1585 1190zm-3 17zm4 3zm9 14zm0 7zm8-7zm0 39zm109 3zm-5-33zm20 10zm-6-40zm2-12zm-7-31zm21-4zm-38 144zm3 9zm-40 78zm-14 1zm-2-9zm-24 4zm2 25zm-17-4zm-8-1zm-11 7zm-9 10zm-23-15zm-33-38zm-1-18zm-16-42zm-14-7z"/><path stroke="#ef8632" d="M1389 1061zm-5 19zm-2 3zm-7 2zm-10 46zm-9 14zm-13 79zm-5 6zm0 6zm-2-1zm-1 17zm11-7zm-8 37zm144-43zm-7-17zm-3 3zm-2-21zm93-75zm-5-68zm-6 3zm-8-11zm-15 3zm-12-2zm0-29zm-31-2zm-5-1zm-8-7zm-16-9zm-4 0zm-5 9zm-29 29zm80-45z"/><path stroke="#4a7cb3" d="M1499 1270zm11 20zm-11 18zm12 57zm11 9zm13 1zm11 17zm17-2zm36 9zm-9 19zm-20 13zm55-27zm38-43zm6 1zm10-5zm11-32zm0-9zm19-16zm5-24zm-3-12zm16-13zm-9-36zm-3-36zm-126 25zm3 68z"/><path stroke="#ef8632" d="M1375 1059zm20-1zm0 11zm13-15zm-1-15zm10-9zm4-6zm13 1zm4 1zm5-14zm11 0zm-1 2zm18-15zm20 15zm-5 23zm30 1zm15 6zm-19-44zm46 97zm10-4zm14 9zm-6 19zm3 7zm9 24zm-6 7zm-105 30zm-4 1zm-132 4zm-7-6zm11-29zm1 0zm2-6zm16-32zm9-25zm-22 1zm-11 4zm83-31zm-72 182z"/><path stroke="#4a7cb3" d="M1479 1267zm11 3zm-5 15zm16 25zm-7 12zm-1 1zm10 20zm47 43zm11 12zm8 1zm1-16zm12 21zm2 7zm-4 4zm-18 4zm28-22zm28 2zm10-8zm30-7zm-1 22zm14-46zm20-11zm13-37zm-11-17zm26-26zm-5-40zm-16 1zm-97-2zm-17 12zm-2-1zm7 10zm7 10zm125-109zm-3-7z"/><path stroke="#ef8632" d="M1410 1027zm1 4zm22-1zm2-6zm-5-10zm16-13zm10 20zm34-15zm15 13zm3 18zm-10 10zm49 24zm3 8zm13-4zm30 87zm-127 3zm0-11zm-2-4zm-11 31zm28 14zm-139 26zm-5 8zm5 42zm10-148zm3-6zm4-6zm15 0zm-3-14z"/><path stroke="#4a7cb3" d="M1476 1264zm-2 7zm33 90zm39 30zm1 6zm5 15zm18-1zm36 16zm8-32zm24-6zm14-11zm17 4zm4-16zm8-26zm7-26zm-3-31zm30 4zm-1 6zm-9-26zm7-11zm10-16zm3-28zm3-26zm3-7zm-5-10zm1-24zm-23 77zm-104 28zm1 14zm-9-70zm64 155z"/><path stroke="#ef8632" d="M1402 1032zm51-38zm11 3zm22 2zm-10 13zm20 10zm12 10zm30 14zm-4 5zm10 12zm9 9zm11 14zm5 16zm1 2zm-16-6zm-20-19zm48 73zm-98 51zm0 27zm-147-3zm4-5zm6-13zm7-5zm-5-18zm12-16zm-17-20zm12-27zm12 11zm8-28zm-26-2zm-5 141zm-11 1z"/><path stroke="#4a7cb3" d="M1480 1274zm10 18zm17 23zm-5 22zm-3 13zm17-9zm4 18zm16 20zm12 7zm0 1zm2-2zm-2 6zm1 11zm24-1zm18-2zm-5-9zm2 27zm9-5zm16 7zm-5-19zm8-4zm31 1zm-5 9zm0 8zm-12-40zm47-31zm9 2zm32-92zm7-26zm4-43zm-137-6zm-10 1zm6 17zm6 12zm1 46zm12-3z"/><path stroke="#ef8632" d="M1424 1020zm2 8zm-8 6zm-13 18zm-14 11zm-4 2zm6 22zm-21 1zm-18 90zm-3 5zm-4 13zm-8 49zm129 4zm18-27zm-33-52zm130-10zm6-9zm-19-31zm1-5zm4-9zm-23-54zm-34-7zm5-7zm-32 0zm-13-10zm-30-7z"/><path stroke="#4a7cb3" d="M1486 1248zm-4 21zm2 16zm-3 4zm16 22zm0 11zm22 34zm6-3zm4 1zm6 5zm6 26zm28 19zm57-7zm0 23zm22-46zm30-18zm3 0zm16-43zm6-46zm9 0zm5 8zm6-61zm6 2zm-4-21zm-4-25zm-124 86zm-2 17z"/><path stroke="#ef8632" d="M1450 1007zm-2 4zm22 0zm6-6zm8 16zm27 18zm5 2zm6 6zm10 1zm1 23zm6-5zm19-12zm12-2zm-18 38zm3 4zm24 52zm-119-4zm12 26zm9 4zm-13 8zm8 48zm8-7zm-134-12zm-4 25zm-7-6zm-3 42zm5 19zm1-123zm18-21zm-4-17zm11-6zm44-75zm23-23zm93 2zm4-5zm-26-24z"/><path stroke="#4a7cb3" d="M1490 1265zm5 3zm5 23zm-20 4zm19 46zm20 6zm12 0zm4 1zm9 6zm17 43zm41 13zm0 14zm12-18zm24-23zm-4-6zm20-1zm-1-2zm5-3zm-9-6zm10-18zm30-26zm11-23zm0-19zm34-67zm-13-39zm14-23zm-141 36zm-9-1zm-1 23zm9-2zm0 14zm0 1zm6 42z"/><path stroke="#ef8632" d="M1380 1033zm6 40zm14-7zm-28 15zm-16 36zm-4 4zm-8 35zm13 49zm-11 32zm-1 50zm117-85zm13-1zm2-15zm-1-5zm-8-29zm97-3zm21 2zm4-16zm-17-7zm0-24zm-1-4zm-34-49zm-8-6zm-30-27zm1-9zm-9-12zm-37-3zm-4 33zm26-2z"/><path stroke="#4a7cb3" d="M1473 1257zm21-15zm-1 60zm1 3zm9-5zm-21-9zm34 50zm-1 25zm20 9zm-6 6zm19 9zm27-7zm27 12zm9 11zm5 7zm0 6zm38-38zm-4-8zm8 0zm4-17zm2-2zm17-3zm-2-3zm-1-11zm5-8zm3-17zm8-1zm-4-24zm21-6zm9-21zm4-39zm1-19zm-4-46zm5-10zm3-2zm-148 75zm1 9z"/><path stroke="#ef8632" d="M1401 1010zm-1 27zm11-1zm7 8zm-3 15zm-13 8zm-6 7zm1-27zm34-29zm6-9zm2-11zm17 2zm28 8zm-10 17zm27 10zm14-7zm53 65zm-2 3zm14 30zm-106 14zm9 34zm-12 20zm7 10zm-94-78zm-26-16zm9-25z"/></g></g><rect class="ax" x="313.22" y="220.77" width="140.3" height="163.67"/>
<g clip-path="url(#c1_3)"><g transform="scale(.25)"><path stroke="#4a7cb3" d="M2061 1204zm4 18zm-3 3zm10 14zm10 61zm14 7zm16 42zm2 18zm32 38zm32 5zm11-7zm8 1zm17 4zm-1-25zm23-4zm3 9zm13-1zm-83 33zm124-111zm-4-9zm13-34zm-5-33zm21 10zm-7-40zm2-12zm-7-31zm21-4z"/><path stroke="#ef8632" d="M1979 1061zm-4 19zm-3 3zm-7 2zm-10 46zm-9 14zm-12 79zm-6 6zm-1 5zm1 1zm8 9zm-11 7zm4 30zm264-19zm1-39zm-9 0zm0 7zm-9-21zm-4-3zm3-17zm-21-61zm-5-68zm-7 3zm-7-11zm-16 3zm-12-2zm1-29zm-32-2zm-5-1zm-8-7zm-16-9zm-4 0zm-5 9zm-29 29zm80-45z"/><path stroke="#4a7cb3" d="M2063 1190zm4-1zm22 81zm11 20zm-11 18zm13 57zm10 9zm13 1zm12 17zm16-2zm37 9zm-10 19zm-20 13zm55-27zm38-43zm6 1zm10-5zm11-32zm1-9zm18-16zm5-24zm-2-12zm15-13zm-9-36zm-3-36z"/><path stroke="#ef8632" d="M1966 1059zm20-1zm-1 11zm13-15zm-1-15zm10-9zm4-6zm13 1zm4 1zm5-14zm11 0zm-1 2zm19-15zm19 15zm-5 23zm30 1zm15 6zm-19-44zm47 97zm9-4zm14 9zm-5 19zm2 7zm9 24zm-5 7zm6 45zm4 68zm-242-20zm-10-58zm-7-6zm11-29zm1 0zm3-6zm15-32zm10-25zm-23 1zm-11 4zm83-31z"/><path stroke="#4a7cb3" d="M2054 1150zm3 4zm-1 11zm-13 16zm28 14zm-1 72zm10 3zm-5 15zm16 25zm-6 12zm-2 1zm10 20zm47 43zm20-3zm-1 16zm-7-1zm0 21zm19-4zm3-4zm-2-7zm8-7zm29 2zm9-8zm30-7zm-1 22zm15-46zm19-11zm13-37zm-10-17zm25-26zm-4-40zm-17 1zm23-80zm-3-7z"/><path stroke="#ef8632" d="M2000 1027zm1 4zm22-1zm3-6zm-6-10zm17-13zm9 20zm34-15zm16 13zm3 18zm-11 10zm50 24zm2 8zm13-4zm30 87zm8 66zm-17 12zm-2-1zm7 10zm7 10zm-254 12zm-5-42zm5-8zm11-98zm3-6zm3-6zm15 0zm-3-14z"/><path stroke="#4a7cb3" d="M2074 1203zm0 27zm-7 34zm-3 7zm33 90zm39 30zm1 6zm5 15zm18-1zm36 16zm9-32zm23-6zm14-11zm17 4zm4-16zm-17-17zm26-9zm6-26zm-2-31zm29 4zm-1 6zm-8-26zm6-11zm10-16zm3-28zm3-26zm3-7zm-4-10zm0-24zm-23 77z"/><path stroke="#ef8632" d="M1992 1032zm51-38zm11 3zm23 2zm-11 13zm20 10zm13 10zm29 14zm-4 5zm10 12zm10 9zm11 14zm4 16zm2 2zm-17-6zm-19-19zm47 73zm10 42zm8 56zm1 14zm-256-19zm-10 1zm3-19zm4-5zm5-13zm7-5zm-5-18zm12-16zm-16-20zm23-16zm-11-11zm-7-19zm27 2z"/><path stroke="#4a7cb3" d="M2044 1170zm32 52zm-17 27zm11 25zm10 18zm17 23zm-5 22zm-3 13zm18-9zm4 18zm16 20zm11 8zm1-1zm1-1zm-2 6zm1 11zm24-1zm18-2zm-4-9zm2 27zm9-5zm15 7zm-5-19zm8-4zm31 1zm-5 9zm1 8zm-13-40zm47-31zm9 2zm32-92zm7-26zm4-43z"/><path stroke="#ef8632" d="M2014 1020zm3 8zm-8 6zm-14 18zm-14 11zm-4 2zm6 22zm-20 1zm-18 90zm-4 5zm-4 13zm-8 49zm257 9zm11-3zm-12-43zm-7-12zm4-18zm-10 1zm1-19zm6-9zm-18-31zm0-5zm5-9zm-24-54zm-34-7zm5-7zm-31 0zm-14-10zm-30-7z"/><path stroke="#4a7cb3" d="M2050 1142zm12 26zm9 4zm-12 8zm7 48zm8-7zm2 27zm-4 21zm3 16zm-4 4zm16 22zm0 11zm22 34zm6-3zm4 1zm6 5zm6 26zm28 19zm58-7zm-1 23zm22-46zm31-18zm2 0zm16-43zm6-46zm9 0zm5 8zm6-61zm7 2zm-5-21zm-3-25z"/><path stroke="#ef8632" d="M2001 1047zm23-23zm14-13zm3-4zm19 4zm6-6zm8 16zm21-24zm7 42zm4 2zm7 6zm9 1zm1 23zm6-5zm19-12zm12-2zm-17 38zm2 4zm24 52zm18 110zm-1 17zm-260-3zm5 19zm6-55zm-8-6zm11-19zm-8-43zm19-21zm-5-17zm12-6zm159-96zm4-5z"/><path stroke="#4a7cb3" d="M2059 1152zm7 29zm1 5zm-2 15zm-13 1zm29 63zm4 3zm5 23zm-19 4zm18 46zm20 6zm12 0zm5 1zm8 6zm17 43zm41 13zm0 14zm12-18zm24-23zm-4-6zm19-3zm2 2zm4-5zm-10-6zm11-18zm29-26zm11-23zm0-19zm34-67zm-13-39zm14-23z"/><path stroke="#ef8632" d="M1971 1033zm5 40zm14-7zm-28 15zm-16 36zm-4 4zm-7 35zm13 49zm-12 32zm-1 50zm255-24zm-6-42zm-1-1zm0-14zm-9 2zm2-23zm8 1zm-8-35zm4-16zm-16-7zm-1-24zm-1-4zm-7 49zm-26-98zm-9-6zm-30-27zm2-9zm-10-12zm-37-3zm-4 33zm26-2z"/><path stroke="#4a7cb3" d="M2065 1140zm9 34zm-13 20zm7 10zm17 38zm-22 15zm9 34zm12 11zm0 3zm9-5zm13 41zm-1 25zm20 9zm-6 6zm19 9zm28-7zm26 12zm9 11zm5 7zm0 6zm39-38zm3-8zm-8 0zm12-17zm2-2zm17-3zm-1-3zm-2-11zm6-8zm2-17zm8-1zm-3-24zm20-6zm10-21zm3-39zm2-19zm-5-46zm5-10zm3-2z"/><path stroke="#ef8632" d="M1991 1010zm0 27zm10-1zm8 8zm-3 15zm-14 8zm-6 7zm1-27zm34-29zm6-9zm2-11zm18 2zm27 8zm-10 17zm28 10zm13-7zm53 65zm-2 3zm15 30zm0 93zm1 9zm-197-102zm-27-16zm10-25z"/></g></g><rect class="ax" x="460.73" y="220.77" width="141.1" height="163.67"/>
<g clip-path="url(#c1_4)"><g transform="scale(.25)"><path stroke="#4a7cb3" d="M2651 1204zm4 18zm-3 3zm10 14zm10 61zm14 7zm16 42zm2 18zm32 38zm23 15zm10-10zm10-7zm8 1zm17 4zm-1-25zm23-4zm3 9zm13-1zm41-78zm-3-9zm12-34zm-5-33zm21 10zm-7-40zm2-12zm-7-31zm21-4zm-151 34zm0 20zm-3-3zm12 17zm1 7zm8-7zm-1 39zm-39-134z"/><path stroke="#ef8632" d="M2570 1061zm-5 19zm-2 3zm-8 2zm-10 46zm-9 14zm-12 79zm-6 6zm-1 5zm2 1zm7 9zm-11 7zm4 30zm81-238zm29-29zm4-9zm4 0zm17 9zm7 7zm6 1zm31 2zm0 29zm11 2zm16-3zm8 11zm6-3zm-60-62z"/><path stroke="#4a7cb3" d="M2653 1190zm4-1zm22 81zm11 20zm-11 18zm13 57zm11 9zm12 1zm12 17zm16-2zm37 9zm-10 19zm-20 13zm56-27zm37-43zm6 1zm10-5zm11-32zm1-9zm19-16zm5-24zm-3-12zm15-13zm-9-36zm-3-36zm-126 25zm-6-45zm5-7zm-9-24zm-2-7zm16 151z"/><path stroke="#ef8632" d="M2556 1059zm20-1zm0 11zm12-15zm-1-15zm10-9zm4-6zm13 1zm4 1zm5-14zm12 0zm-2 2zm19-15zm20 15zm-5 23zm29 1zm15 6zm-19-44zm47 97zm9-4zm14 9zm-159-32zm-49 26zm-22 1zm-11 4zm23 20zm-15 32zm-2 6zm-1 0zm-4 35zm-7-6zm16 64z"/><path stroke="#4a7cb3" d="M2645 1150zm2 4zm-1 11zm-13 16zm29 14zm-2 72zm11 3zm-6 15zm16 25zm-6 12zm-1 1zm10 20zm46 43zm20-3zm-1 16zm-7-1zm0 21zm19-4zm4-4zm-3-7zm8-7zm29 2zm9-8zm30-7zm-1 22zm15-46zm20-11zm12-37zm-10-17zm26-26zm-5-40zm-17 1zm-97-2zm-17 12zm-2-1zm7 10zm7 10zm-2-97zm127-12zm-3-7z"/><path stroke="#ef8632" d="M2591 1027zm0 4zm22-1zm3-6zm-5-10zm16-13zm10 20zm34-15zm15 13zm3 18zm-10 10zm49 24zm3 8zm13-4zm-193 22zm4 14zm-16 0zm-3 6zm-3 6zm-11 98zm-5 8zm6 42z"/><path stroke="#4a7cb3" d="M2664 1203zm0 27zm-7 34zm-3 7zm33 90zm39 30zm1 6zm6 15zm18-1zm35 16zm9-32zm24-6zm14-11zm17 4zm3-16zm-17-17zm26-9zm6-26zm-2-31zm29 4zm0 6zm-9-26zm6-11zm10-16zm4-28zm3-26zm2-7zm-4-10zm1-24zm-24 77zm-103 28zm1 14zm-10-70zm-9-42z"/><path stroke="#ef8632" d="M2582 1032zm51-38zm12 3zm22 2zm-10 13zm19 10zm13 10zm30 14zm-5 5zm11 12zm9 9zm11 14zm4 16zm2 2zm-16-6zm-20-19zm-158 27zm-27-2zm7 19zm12 11zm-24 16zm17 20zm-13 16zm5 18zm-7 5zm-5 13zm-4 5zm-3 19zm11-1z"/><path stroke="#4a7cb3" d="M2634 1170zm32 52zm-17 27zm11 25zm10 18zm17 23zm-5 22zm-2 13zm17-9zm4 18zm16 20zm11 8zm1-1zm2-1zm-3 6zm2 11zm23-1zm19-2zm-5-9zm2 27zm9-5zm10-12zm9-4zm-3 23zm29-5zm-1-8zm5-9zm-16-23zm47-31zm8 2zm33-92zm6-26zm4-43zm-137-6zm-10 1zm2-19zm5-9zm-1 45zm7 12zm1 46zm12-3zm-37-131zm0-5z"/><path stroke="#ef8632" d="M2604 1020zm3 8zm-8 6zm-14 18zm-13 11zm-5 2zm6 22zm-20 1zm-18 90zm-4 5zm-4 13zm-7 49zm109-224zm30 7zm13 10zm31 0zm-4 7zm33 7zm24 54z"/><path stroke="#4a7cb3" d="M2640 1142zm12 26zm9 4zm-12 8zm8 48zm8-7zm1 27zm-4 21zm3 16zm-4 4zm16 22zm1 11zm21 34zm7-3zm3 1zm6 5zm6 26zm29 19zm57-7zm-1 23zm22-46zm31-18zm2 0zm17-43zm6-46zm8 0zm5 8zm6-61zm7 2zm-5-21zm-3-25zm-143-24zm19 110zm-2 17z"/><path stroke="#ef8632" d="M2591 1047zm23-23zm14-13zm3-4zm19 4zm7-6zm7 16zm28 18zm4 2zm7 6zm10 1zm0 23zm7-5zm19-12zm12-2zm-18 38zm2 4zm-27-68zm3-5zm-25-24zm-138 125zm-11 6zm4 17zm-19 21zm8 43zm-3 25zm-8-6zm-2 42zm5 19z"/><path stroke="#4a7cb3" d="M2649 1152zm8 29zm0 5zm-1 15zm-13 1zm28 63zm5 3zm4 23zm-19 4zm19 46zm19 6zm12 0zm5 1zm8 6zm18 43zm40 13zm0 14zm12-18zm25-23zm-5-6zm19-3zm2 2zm4-5zm-10-6zm11-18zm29-26zm12-23zm-1-19zm34-67zm-13-39zm14-23zm-148 1zm3-16zm-16-7zm-8 21zm20 36zm8 1zm-1 20zm-8 2zm8 12zm1 1zm6 42z"/><path stroke="#ef8632" d="M2561 1033zm6 40zm13-7zm-28 15zm-16 36zm-4 4zm-7 35zm13 49zm-12 32zm-1 50zm107-260zm25-2zm23-7zm2-9zm-10-12zm-36-3zm74 51zm9 6zm33 49zm2 4z"/><path stroke="#4a7cb3" d="M2655 1140zm9 34zm-12 20zm6 10zm17 38zm-22 15zm9 34zm12 11zm0 3zm9-5zm13 41zm-1 25zm20 9zm-6 6zm20 9zm27-7zm26 12zm9 11zm5 7zm0 6zm39-38zm3-8zm-8 0zm12-17zm2-2zm17-3zm-1-3zm-1-11zm5-8zm2-17zm8-1zm-3-24zm20-6zm10-21zm3-39zm2-19zm-4-46zm4-10zm3-2zm-148-18zm0 93zm2 9z"/><path stroke="#ef8632" d="M2581 1010zm0 27zm11-1zm7 8zm-3 15zm-13 8zm-6 7zm0-27zm35-29zm5-9zm3-11zm17 2zm27 8zm-10 17zm28 10zm14-7zm50 68zm3-3zm-201-8zm-9 25zm26 16z"/></g></g><rect class="ax" x="608.25" y="220.77" width="141.1" height="163.67"/>
<g clip-path="url(#c1_5)"><g transform="scale(.25)"><path stroke="#4a7cb3" d="M3160 1061zm-5 19zm-2 3zm-8 2zm-9 46zm-10 14zm64-101zm29-29zm5-9zm3 0zm17 9zm7 7zm6 1zm31 2zm0 29zm12 2zm15-3zm8 11zm6-3zm5 68zm22 61zm-3 17zm4 3zm9 14zm0 7zm8-7zm-1 39zm109 3zm-4-33zm20 10zm-6-40zm1-12zm-6-31zm20-4zm-37 144zm3 9zm-40 78zm-14 1zm-2-9zm-24 4zm2 25zm-18-4zm-7-1zm-11 7zm-9 10zm-23-15zm-33-38zm-2-18zm-16-42zm-13-7zm-10-61zm-7-17zm-3 3zm-2-21zm28-205z"/><path stroke="#ef8632" d="M3114 1224zm-5 6zm0 6zm-2-1zm-2 17zm11-7zm-7 37z"/><path stroke="#4a7cb3" d="M3146 1059zm20-1zm0 11zm27 1zm-14-16zm-2-15zm11-9zm3-6zm14 1zm4 1zm5-14zm11 0zm-1 2zm18-15zm20 15zm-5 23zm29 1zm15 6zm-18-44zm46 97zm9-4zm14 9zm-5 19zm2 7zm9 24zm-5 7zm7 45zm3 68zm-93-2zm10 20zm-11 18zm13 57zm11 9zm12 1zm12 17zm16-2zm37 9zm-9 19zm-20 13zm55-27zm38-43zm6 1zm9-5zm11-32zm1-9zm19-16zm5-24zm-3-12zm15-13zm-8-36zm-3-36zm-239 10zm-3 1zm-127-31zm-1 0zm3-6zm16-32zm9-25zm-22 1zm-11 4z"/><path stroke="#ef8632" d="M3105 1188zm7 6zm10 58z"/><path stroke="#4a7cb3" d="M3181 1027zm1 4zm22-1zm2-6zm-5-10zm16-13zm10 20zm34-15zm15 13zm3 18zm-10 10zm49 24zm3 8zm13-4zm30 87zm8 66zm-17 12zm-3-1zm7 10zm7 10zm-105 11zm-11-3zm6 18zm16 25zm-7 12zm-1 1zm10 20zm46 43zm12 12zm8 1zm12 5zm3 7zm-4 4zm-19 4zm9-36zm20 14zm28 2zm10-8zm29-7zm-1 22zm15-46zm20-11zm12-37zm-10-17zm26-26zm-5-40zm-17 1zm24-80zm-3-7zm-254 7zm2 4zm0 11zm-13 16zm28 14zm-107-84zm-16 0zm-3 6zm-3 6zm19-26z"/><path stroke="#ef8632" d="M3113 1221zm-6 8zm6 42z"/><path stroke="#4a7cb3" d="M3172 1032zm52-38zm11 3zm22 2zm-10 13zm20 10zm12 10zm30 14zm-5 5zm11 12zm9 9zm11 14zm5 16zm1 2zm-16-6zm-20-19zm48 73zm10 42zm8 56zm1 14zm84 19zm29 4zm0 6zm-9-26zm6-11zm10-16zm4-28zm3-26zm3-7zm-5-10zm1-24zm-23 77zm-16 92zm-7 26zm-25 9zm16 17zm-3 16zm-17-4zm-14 11zm-24 6zm-8 32zm-36-16zm-18 1zm-5-15zm-1-6zm-39-30zm-33-90zm2-7zm7-34zm1-27zm-116-69zm-12-11zm-7-19zm27 2zm-32 44z"/><path stroke="#ef8632" d="M3132 1170zm-12 16zm5 18zm-7 5zm-6 13zm-4 5zm-3 19zm11-1z"/><path stroke="#4a7cb3" d="M3195 1020zm2 8zm-8 6zm-13 18zm-14 11zm-4 2zm5 22zm-20 1zm76-67zm30 7zm13 10zm32 0zm-5 7zm34 7zm23 54zm-5 9zm0 5zm19 31zm-6 9zm-1 19zm10-1zm-4 18zm6 12zm1 46zm12-3zm111 2zm7-26zm3-43zm-42 161zm-9-2zm-47 31zm-14 22zm-8 4zm-17-1zm-5-9zm-13 11zm-24 1zm-2-11zm1-4zm0-1zm2-1zm-14-6zm-16-20zm-4-18zm-15-4zm-2 13zm8-35zm-18-23zm-9-18zm-12-25zm17-27zm-32-52zm135 247zm9-5zm16 7zm29-5zm0-8zm5-9z"/><path stroke="#ef8632" d="M3125 1178zm-3 5zm-4 13zm-8 49z"/><path stroke="#4a7cb3" d="M3181 1047zm24-23zm13-13zm3-4zm20 4zm6-6zm8 16zm27 18zm5 2zm6 6zm10 1zm1 23zm6-5zm19-12zm12-2zm-18 38zm3 4zm23 52zm-118-4zm12 26zm9 4zm-13 8zm8 48zm8-7zm2 27zm-4 21zm2 16zm-3 4zm16 22zm0 11zm22 34zm6-3zm4 1zm6 5zm6 26zm28 19zm57-7zm0 23zm22-46zm30-18zm2 0zm17-43zm6-46zm8 0zm6 8zm5-61zm7 2zm-5-21zm-3-25zm-124 86zm-2 17zm-68-247zm3-5zm-25-24zm-138 125zm-11 6zm4 17zm-18 21z"/><path stroke="#ef8632" d="M3120 1209zm-3 25zm-7-6zm-3 42zm5 19z"/><path stroke="#4a7cb3" d="M3151 1033zm6 40zm14-7zm-28 15zm-16 36zm-5 4zm-7 35zm124-4zm8 29zm1 5zm-2 15zm-13 1zm28 63zm5 3zm4 23zm-19 4zm19 46zm20 6zm12 0zm4 1zm8 6zm18 43zm41 13zm0 14zm12-18zm24-23zm-5-6zm19-3zm2 2zm4-5zm-9-6zm10-18zm30-26zm11-23zm0-19zm33-67zm-13-39zm15-23zm-149 1zm4-16zm-17-7zm0-24zm-1-4zm-7 49zm20 36zm8 1zm-1 20zm-8 2zm8 12zm1 1zm6 42zm-61-212zm-8-6zm-31-27zm2-9zm-9-12zm-37-3zm-4 33zm26-2z"/><path stroke="#ef8632" d="M3128 1205zm-12 32zm0 50z"/><path stroke="#4a7cb3" d="M3172 1010zm-1 27zm11-1zm7 8zm-3 15zm-13 8zm-6 7zm0-27zm35-29zm5-9zm3-11zm17 2zm27 8zm-10 17zm28 10zm14-7zm53 65zm-2 3zm14 30zm0 93zm2 9zm-88 14zm-21 15zm8 34zm12 11zm0 3zm10-5zm12 41zm0 25zm20 9zm-6 6zm19 9zm27-7zm27 12zm9 11zm5 7zm0 6zm38-38zm4-8zm-9 0zm13-17zm1-2zm17-3zm-1-3zm-1-11zm5-8zm3-17zm7-1zm-3-24zm21-6zm9-21zm3-39zm2-19zm-4-46zm5-10zm2-2zm-254-4zm9 34zm-12 20zm6 10zm-93-78zm-26-16zm9-25z"/></g></g><rect class="ax" x="755.76" y="220.77" width="141.1" height="163.67"/>
<g clip-path="url(#c1_6)"><g transform="scale(.25)"><path stroke="#4a7cb3" d="M3750 1061zm-5 19zm-2 3zm-7 2zm-10 46zm-9 14zm-13 79zm-5 6zm-1 5zm1 1zm8 9zm-11 7zm3 30zm265-19zm0-39zm-8 0zm0 7zm-9-21zm-4-3zm3-17zm-22-61zm-5-68zm-6 3zm-7-11zm-16 3zm-12-2zm0-29zm-31-2zm-5-1zm-8-7zm-16-9zm-4 0zm-5 9zm-29 29zm80-45z"/><path stroke="#ef8632" d="M3831 1204zm5 18zm-3 3zm10 14zm10 61zm14 7zm16 42zm2 18zm32 38zm32 5zm11-7zm8 1zm17 4zm-2-25zm24-4zm3 9zm13-1zm-83 33zm124-111zm-4-9zm13-34zm-5-33zm21 10zm-7-40zm2-12zm-7-31zm21-4z"/><path stroke="#4a7cb3" d="M3736 1059zm20-1zm0 11zm13-15zm-1-15zm10-9zm4-6zm13 1zm4 1zm5-14zm11 0zm-1 2zm18-15zm20 15zm-5 23zm30 1zm15 6zm-19-44zm46 97zm10-4zm14 9zm-6 19zm3 7zm9 24zm-6 7zm7 45zm3 68zm-241-20zm-10-58zm-7-6zm11-29zm1 0zm3-6zm15-32zm9-25zm-22 1zm-11 4zm83-31z"/><path stroke="#ef8632" d="M3834 1190zm4-1zm22 81zm11 20zm-11 18zm12 57zm11 9zm13 1zm12 17zm16-2zm37 9zm-10 19zm-20 13zm55-27zm38-43zm6 1zm10-5zm11-32zm0-9zm19-16zm5-24zm-3-12zm16-13zm-9-36zm-3-36z"/><path stroke="#4a7cb3" d="M3771 1027zm1 4zm22-1zm2-6zm-5-10zm16-13zm10 20zm34-15zm15 13zm3 18zm-10 10zm49 24zm3 8zm13-4zm30 87zm8 66zm-17 12zm-2-1zm7 10zm7 10zm-254 12zm-5-42zm5-8zm11-98zm2-6zm4-6zm15 0zm-3-14z"/><path stroke="#ef8632" d="M3825 1150zm2 4zm0 11zm-13 16zm28 14zm-1 72zm10 3zm-5 15zm16 25zm-7 12zm-1 1zm10 20zm47 43zm11 12zm8 1zm1-16zm12 21zm2 7zm-3 4zm-19 4zm28-22zm29 2zm9-8zm30-7zm-1 22zm15-46zm19-11zm13-37zm-11-17zm26-26zm-5-40zm-16 1zm23-80zm-3-7z"/><path stroke="#4a7cb3" d="M3763 1032zm51-38zm11 3zm22 2zm-10 13zm20 10zm13 10zm29 14zm-4 5zm10 12zm9 9zm11 14zm5 16zm1 2zm-16-6zm-20-19zm48 73zm10 42zm8 56zm1 14zm-256-19zm-11 1zm4-19zm3-5zm6-13zm7-5zm-5-18zm12-16zm-17-20zm24-16zm-11-11zm-7-19zm26 2z"/><path stroke="#ef8632" d="M3845 1203zm0 27zm-8 34zm-2 7zm33 90zm39 30zm1 6zm5 15zm18-1zm36 16zm9-32zm23-6zm14-11zm17 4zm4-16zm8-26zm7-26zm-3-31zm30 4zm-1 6zm-9-26zm7-11zm10-16zm3-28zm3-26zm3-7zm-5-10zm1-24zm-23 77zm-48 127z"/><path stroke="#4a7cb3" d="M3785 1020zm3 8zm-9 6zm-13 18zm-14 11zm-4 2zm6 22zm-21 1zm-18 90zm-3 5zm-4 13zm-8 49zm256 9zm12-3zm-12-43zm-7-12zm4-18zm-10 1zm1-19zm6-9zm-19-31zm1-5zm5-9zm-24-54zm-34-7zm5-7zm-31 0zm-14-10zm-30-7z"/><path stroke="#ef8632" d="M3814 1170zm33 52zm-18 27zm12 25zm10 18zm17 23zm-5 22zm-3 13zm17-9zm4 18zm17 20zm11 7zm0 1zm2-2zm-2 6zm1 11zm24-1zm18-2zm-5-9zm2 27zm9-5zm16 7zm-5-19zm8-4zm31 1zm-5 9zm0 8zm-12-40zm47-31zm9 2zm32-92zm7-26zm4-43z"/><path stroke="#4a7cb3" d="M3772 1047zm23-23zm14-13zm3-4zm19 4zm6-6zm8 16zm27 18zm5 2zm6 6zm10 1zm1 23zm6-5zm19-12zm12-2zm-18 38zm3 4zm24 52zm18 110zm-2 17zm-259-3zm5 19zm5-55zm-7-6zm11-19zm-8-43zm18-21zm-4-17zm11-6zm160-96zm4-5zm-26-24z"/><path stroke="#ef8632" d="M3821 1142zm12 26zm9 4zm-13 8zm8 48zm8-7zm2 27zm-4 21zm2 16zm-3 4zm16 22zm0 11zm22 34zm6-3zm4 1zm6 5zm6 26zm28 19zm57-7zm0 23zm22-46zm30-18zm3 0zm16-43zm6-46zm9 0zm5 8zm6-61zm6 2zm-4-21zm-4-25z"/><path stroke="#4a7cb3" d="M3741 1033zm6 40zm14-7zm-28 15zm-16 36zm-4 4zm-8 35zm14 49zm-12 32zm-1 50zm255-24zm-7-42zm0-1zm0-14zm-9 2zm2-23zm8 1zm-8-35zm4-16zm-17-7zm0-24zm-1-4zm-7 49zm-27-98zm-8-6zm-30-27zm1-9zm-9-12zm-37-3zm-4 33zm26-2z"/><path stroke="#ef8632" d="M3829 1152zm8 29zm1 5zm-2 15zm-13 1zm29 63zm4 3zm5 23zm-20 4zm19 46zm20 6zm12 0zm4 1zm9 6zm17 43zm41 13zm0 14zm12-18zm24-23zm-4-6zm20-1zm-1-2zm5-3zm-9-6zm10-18zm30-26zm11-23zm0-19zm34-67zm-13-39zm14-23z"/><path stroke="#4a7cb3" d="M3762 1010zm-1 27zm11-1zm7 8zm-3 15zm-13 8zm-6 7zm1-27zm34-29zm6-9zm2-11zm17 2zm28 8zm-10 17zm27 10zm14-7zm53 65zm-2 3zm14 30zm1 93zm1 9zm-197-102zm-27-16zm10-25z"/><path stroke="#ef8632" d="M3835 1140zm9 34zm-12 20zm7 10zm16 38zm-21 15zm9 34zm11 11zm1 3zm9-5zm13 41zm-1 25zm20 9zm-6 6zm19 9zm27-7zm27 12zm9 11zm5 7zm0 6zm39-38zm3-8zm-8 0zm12-17zm2-2zm17-3zm-2-3zm-1-11zm5-8zm3-17zm8-1zm-4-24zm21-6zm10-21zm3-39zm1-19zm-4-46zm5-10zm3-2z"/></g></g><rect class="ax" x="903.27" y="220.77" width="141.1" height="163.67"/>
<g clip-path="url(#c1_7)"><g transform="scale(.25)"><path stroke="#4a7cb3" d="M4341 1061zm-5 19zm-3 3zm-7 2zm-10 46zm-9 14zm-12 79zm-6 6zm-1 5zm1 1zm8 9zm-11 7zm4 30zm264-19zm1-39zm-9 0zm0 7zm-9-21zm-4-3zm4-17zm-22-61zm-5-68zm-7 3zm-7-11zm-16 3zm-11-2zm0-29zm-31-2zm-6-1zm-7-7zm-17-9zm-4 0zm-5 9zm-29 29zm80-45z"/><path stroke="#ef8632" d="M4422 1204zm4 18zm-3 3zm10 14zm10 61zm14 7zm16 42zm2 18zm32 38zm32 5zm11-7zm8 1zm17 4zm-1-25zm23-4zm3 9zm13-1zm-83 33zm124-111zm-4-9zm13-34zm-5-33zm21 10zm-7-40zm2-12zm-7-31zm21-4z"/><path stroke="#4a7cb3" d="M4327 1059zm20-1zm0 11zm12-15zm-1-15zm10-9zm4-6zm13 1zm4 1zm5-14zm11 0zm-1 2zm19-15zm19 15zm-5 23zm30 1zm15 6zm-19-44zm47 97zm9-4zm14 9zm-5 19zm2 7zm9 24zm-5 7zm6 45zm4 68zm-242-20zm-9-58zm-8-6zm11-29zm1 0zm3-6zm15-32zm10-25zm-23 1zm-10 4zm82-31z"/><path stroke="#ef8632" d="M4424 1190zm4-1zm22 81zm11 20zm-11 18zm13 57zm10 9zm13 1zm12 17zm16-2zm37 9zm-10 19zm-20 13zm56-27zm37-43zm6 1zm10-5zm11-32zm1-9zm18-16zm5-24zm-2-12zm15-13zm-9-36zm-3-36z"/><path stroke="#4a7cb3" d="M4361 1027zm1 4zm22-1zm3-6zm-6-10zm17-13zm9 20zm34-15zm16 13zm3 18zm-11 10zm50 24zm2 8zm14-4zm29 87zm8 66zm-17 12zm-2-1zm7 10zm7 10zm-254 12zm-5-42zm5-8zm11-98zm3-6zm3-6zm16 0zm-4-14z"/><path stroke="#ef8632" d="M4415 1150zm3 4zm-1 11zm-13 16zm28 14zm-1 72zm10 3zm-5 15zm16 25zm-6 12zm-2 1zm10 20zm47 43zm20-3zm-1 16zm-7-1zm0 21zm19-4zm4-4zm-3-7zm8-7zm29 2zm9-8zm30-7zm-1 22zm15-46zm19-11zm13-37zm-10-17zm25-26zm-4-40zm-17 1zm23-80zm-3-7z"/><path stroke="#4a7cb3" d="M4353 1032zm51-38zm11 3zm23 2zm-10 13zm19 10zm13 10zm29 14zm-4 5zm10 12zm10 9zm11 14zm4 16zm2 2zm-16-6zm-20-19zm47 73zm10 42zm8 56zm1 14zm-256-19zm-10 1zm3-19zm4-5zm5-13zm7-5zm-5-18zm12-16zm-16-20zm23-16zm-11-11zm-7-19zm27 2z"/><path stroke="#ef8632" d="M4435 1203zm0 27zm-7 34zm-3 7zm33 90zm39 30zm1 6zm5 15zm18-1zm36 16zm9-32zm23-6zm14-11zm17 4zm4-16zm-17-17zm26-9zm6-26zm-2-31zm29 4zm-1 6zm-8-26zm6-11zm10-16zm3-28zm3-26zm3-7zm-4-10zm1-24zm-24 77z"/><path stroke="#4a7cb3" d="M4375 1020zm3 8zm-8 6zm-14 18zm-14 11zm-4 2zm6 22zm-20 1zm-18 90zm-4 5zm-4 13zm-7 49zm256 9zm12-3zm-13-43zm-7-12zm4-18zm-10 1zm2-19zm5-9zm-18-31zm0-5zm5-9zm-24-54zm-34-7zm5-7zm-31 0zm-14-10zm-30-7z"/><path stroke="#ef8632" d="M4405 1170zm32 52zm-17 27zm11 25zm10 18zm17 23zm-5 22zm-3 13zm18-9zm4 18zm16 20zm11 8zm1-1zm2-1zm-3 6zm1 11zm24-1zm18-2zm-4-9zm2 27zm9-5zm10-12zm8-4zm-2 23zm29-5zm-1-8zm5-9zm-17-23zm47-31zm9 2zm32-92zm7-26zm4-43z"/><path stroke="#4a7cb3" d="M4362 1047zm23-23zm14-13zm3-4zm19 4zm6-6zm8 16zm21-24zm7 42zm4 2zm7 6zm9 1zm1 23zm6-5zm20-12zm11-2zm-17 38zm2 4zm24 52zm18 110zm-1 17zm-260-3zm6 19zm5-55zm-8-6zm11-19zm-8-43zm19-21zm-5-17zm12-6zm159-96zm4-5z"/><path stroke="#ef8632" d="M4411 1142zm12 26zm9 4zm-12 8zm7 48zm8-7zm2 27zm-4 21zm3 16zm-4 4zm16 22zm0 11zm22 34zm6-3zm4 1zm6 5zm6 26zm28 19zm58-7zm-1 23zm22-46zm31-18zm2 0zm16-43zm6-46zm9 0zm5 8zm6-61zm7 2zm-5-21zm-3-25z"/><path stroke="#4a7cb3" d="M4332 1033zm6 40zm13-7zm-28 15zm-16 36zm-4 4zm-7 35zm13 49zm-12 32zm-1 50zm255-24zm-6-42zm-1-1zm0-14zm-9 2zm2-23zm8 1zm-8-35zm4-16zm-16-7zm-1-24zm-1-4zm-6 49zm-27-98zm-9-6zm-30-27zm2-9zm-10-12zm-37-3zm-3 33zm25-2z"/><path stroke="#ef8632" d="M4420 1152zm7 29zm1 5zm-1 15zm-14 1zm29 63zm4 3zm5 23zm-19 4zm18 46zm20 6zm12 0zm5 1zm8 6zm17 43zm41 13zm0 14zm12-18zm25-23zm-5-6zm19-3zm2 2zm4-5zm-10-6zm11-18zm29-26zm12-23zm-1-19zm34-67zm-13-39zm14-23z"/><path stroke="#4a7cb3" d="M4352 1010zm0 27zm11-1zm7 8zm-3 15zm-14 8zm-6 7zm1-27zm35-29zm5-9zm3-11zm17 2zm27 8zm-10 17zm28 10zm14-7zm52 65zm-2 3zm15 30zm0 93zm1 9zm-197-102zm-27-16zm10-25z"/><path stroke="#ef8632" d="M4426 1140zm9 34zm-13 20zm7 10zm17 38zm-22 15zm9 34zm12 11zm0 3zm9-5zm13 41zm-1 25zm20 9zm-6 6zm20 9zm27-7zm26 12zm9 11zm5 7zm0 6zm39-38zm3-8zm-8 0zm12-17zm2-2zm17-3zm-1-3zm-2-11zm6-8zm2-17zm8-1zm-3-24zm20-6zm10-21zm3-39zm2-19zm-5-46zm5-10zm3-2z"/></g></g><rect class="ax" x="1050.78" y="220.77" width="141.1" height="163.67"/>
<g clip-path="url(#c1_8)"><g transform="scale(.25)"><path stroke="#4a7cb3" d="M4931 1061zm-5 19zm-2 3zm-8 2zm-9 46zm-10 14zm-12 79zm-6 6zm-1 5zm2 1zm7 9zm-11 7zm4 30zm264-19zm-7-32zm-1-7zm9 0zm-18-14zm-3-3zm3-17zm-22-61zm-5-68zm-6 3zm-8-11zm-16 3zm-11-2zm0-29zm-31-2zm-6-1zm-7-7zm-25 0zm4-9zm4 0zm42-7zm-79 45z"/><path stroke="#ef8632" d="M5012 1204zm4 18zm-3 3zm11 14zm9 61zm14 7zm16 42zm2 18zm33 38zm22 15zm10-10zm10-7zm8 1zm17 4zm-1-25zm23-4zm3 9zm13-1zm41-78zm-3-9zm12-34zm-5-33zm21 10zm-7-40zm2-12zm-7-31zm21-4z"/><path stroke="#4a7cb3" d="M4917 1059zm20-1zm0 11zm27 1zm-14-16zm-2-15zm10-9zm4-6zm13 1zm4 1zm5-14zm12 0zm-1 2zm18-15zm20 15zm-5 23zm29 1zm15 6zm-19-44zm47 97zm9-4zm14 9zm-5 19zm2 7zm9 24zm-5 7zm7 45zm3 68zm-241-20zm-10-58zm-7-6zm11-29zm1 0zm2-6zm15-32zm10-25zm-22 1zm-11 4z"/><path stroke="#ef8632" d="M5014 1190zm4-1zm22 81zm11 20zm-11 18zm13 57zm11 9zm12 1zm12 17zm16-2zm37 9zm-9 19zm-21 13zm56-27zm37-43zm6 1zm10-5zm11-32zm1-9zm19-16zm5-24zm-3-12zm15-13zm-9-36zm-3-36z"/><path stroke="#4a7cb3" d="M4952 1027zm1 4zm21-1zm3-6zm-5-10zm16-13zm10 20zm34-15zm15 13zm3 18zm-10 10zm49 24zm3 8zm13-4zm30 87zm7 66zm-17 12zm-2-1zm7 10zm7 10zm-253 12zm-6-42zm5-8zm11-98zm3-6zm3-6zm16 0zm-4-14z"/><path stroke="#ef8632" d="M5006 1150zm2 4zm0 11zm-14 16zm29 14zm-2 72zm11 3zm-6 15zm16 25zm-6 12zm-1 1zm10 20zm46 43zm20-3zm0 16zm-8-1zm0 21zm19-4zm4-4zm-3-7zm8-7zm29 2zm9-8zm30-7zm-1 22zm15-46zm20-11zm12-37zm-10-17zm26-26zm-5-40zm-17 1zm23-80zm-3-7z"/><path stroke="#4a7cb3" d="M4943 1032zm51-38zm12 3zm22 2zm-10 13zm19 10zm13 10zm30 14zm-5 5zm11 12zm9 9zm11 14zm4 16zm2 2zm-16-6zm-20-19zm48 73zm9 42zm9 56zm1 14zm-256-19zm-11 1zm3-19zm4-5zm6-13zm6-5zm-5-18zm13-16zm-17-20zm12-27zm12 11zm8-28zm-27-2z"/><path stroke="#ef8632" d="M5025 1203zm0 27zm-7 34zm-3 7zm33 90zm39 30zm1 6zm6 15zm18-1zm35 16zm9-32zm24-6zm14-11zm17 4zm3-16zm-17-17zm26-9zm7-26zm-3-31zm29 4zm0 6zm-9-26zm6-11zm10-16zm4-28zm3-26zm2-7zm-4-10zm1-24zm-24 77z"/><path stroke="#4a7cb3" d="M4965 1020zm3 8zm-8 6zm-14 18zm-13 11zm-5 2zm6 22zm-20 1zm-18 90zm-4 5zm-4 13zm-7 49zm256 9zm12-3zm-13-43zm-6-12zm3-18zm-10 1zm2-19zm5-9zm-18-31zm0-5zm5-9zm-24-54zm-33-7zm4-7zm-31 0zm-13-10zm-30-7z"/><path stroke="#ef8632" d="M4995 1170zm32 52zm-17 27zm11 25zm10 18zm17 23zm-5 22zm-2 13zm17-9zm4 18zm16 20zm12 7zm0 1zm2-2zm-3 6zm2 11zm24-1zm18-2zm-5-9zm2 27zm9-5zm10-12zm9-4zm-3 23zm29-5zm-1-8zm5-9zm-16-23zm47-31zm9 2zm32-92zm6-26zm4-43z"/><path stroke="#4a7cb3" d="M4952 1047zm23-23zm14-13zm3-4zm19 4zm7-6zm7 16zm28 18zm4 2zm7 6zm10 1zm1 23zm6-5zm19-12zm12-2zm-18 38zm3 4zm23 52zm19 110zm-2 17zm-259-3zm5 19zm5-55zm-8-6zm11-19zm-8-43zm19-21zm-4-17zm11-6zm160-96zm3-5zm-25-24z"/><path stroke="#ef8632" d="M5001 1142zm13 26zm8 4zm-12 8zm8 48zm8-7zm1 27zm-4 21zm3 16zm-3 4zm15 22zm1 11zm21 34zm7-3zm3 1zm7 5zm5 26zm29 19zm57-7zm-1 23zm22-46zm31-18zm2 0zm17-43zm6-46zm8 0zm5 8zm6-61zm7 2zm-5-21zm-3-25z"/><path stroke="#4a7cb3" d="M4922 1033zm6 40zm13-7zm-28 15zm-16 36zm-4 4zm-7 35zm13 49zm-12 32zm-1 50zm255-24zm-6-42zm-1-1zm0-14zm-8 2zm1-23zm8 1zm-7-35zm3-16zm-16-7zm0-24zm-2-4zm-6 49zm-27-98zm-9-6zm-30-27zm2-9zm-10-12zm-36-3zm-4 33zm25-2z"/><path stroke="#ef8632" d="M5010 1152zm8 29zm0 5zm-1 15zm-13 1zm28 63zm5 3zm4 23zm-19 4zm19 46zm20 6zm11 0zm5 1zm8 6zm18 43zm41 13zm-1 14zm13-18zm24-23zm-5-6zm19-3zm2 2zm4-5zm-10-6zm11-18zm29-26zm12-23zm0-19zm33-67zm-13-39zm14-23z"/><path stroke="#4a7cb3" d="M4942 1010zm0 27zm11-1zm7 8zm-3 15zm-13 8zm-6 7zm0-27zm35-29zm5-9zm3-11zm17 2zm27 8zm-10 17zm28 10zm14-7zm50 68zm3-3zm12 33zm0 93zm2 9zm-198-102zm-26-16zm9-25z"/><path stroke="#ef8632" d="M5016 1140zm9 34zm-12 20zm6 10zm17 38zm-22 15zm9 34zm12 11zm0 3zm9-5zm13 41zm0 25zm20 9zm-6 6zm19 9zm27-7zm26 12zm9 11zm5 7zm1 6zm38-38zm4-8zm-9 0zm12-17zm2-2zm17-3zm-1-3zm-1-11zm5-8zm2-17zm8-1zm-3-24zm20-6zm10-21zm3-39zm2-19zm-4-46zm4-10zm3-2z"/></g></g><rect class="ax" x="1199.09" y="220.77" width="140.3" height="163.67"/>
<g clip-path="url(#c1_9)"><g transform="scale(.25)"><path stroke="#ef8632" d="M5602 1204zm5 18zm-3 3zm10 14zm10 61zm14 7zm15 42zm2 18zm33 38zm32 5zm11-7zm8 1zm17 4zm-2-25zm24-4zm2 9zm14-1zm-83 33zm23-157zm-7-32zm0-7zm8 0zm-17-14zm-4-3zm3-17zm138 1zm-2 12zm-14 30zm20 10zm-16 23zm-12 34zm3 9zm14-149zm21-4z"/><path stroke="#4a7cb3" d="M5521 1061zm-5 19zm-2 3zm-8 2zm-9 46zm-10 14zm-12 79zm-5 6zm0 6zm-2-1zm-2 17zm12-7zm-8 37zm81-238zm29-29zm5-9zm3 0zm17 9zm7 7zm6 1zm31 2zm0 29zm12 2zm15-3zm8 11zm6-3zm5 68zm-65-130z"/><path stroke="#ef8632" d="M5605 1190zm3-1zm23 81zm10 20zm-10 18zm12 57zm11 9zm12 1zm12 17zm16-2zm37 9zm-9 19zm-20 13zm55-27zm38-43zm6 1zm10-5zm11-32zm0-9zm19-16zm5-24zm-3-12zm16-13zm-9-36zm-3-36zm-126 25zm-7-45zm6-7zm4 120z"/><path stroke="#4a7cb3" d="M5507 1059zm20-1zm0 11zm13-15zm-1-15zm10-9zm4-6zm13 1zm4 1zm5-14zm11 0zm-1 2zm18-15zm20 15zm-5 23zm29 1zm16 6zm-19-44zm46 97zm10-4zm14 9zm-6 19zm2 7zm-155-58zm-50 26zm-22 1zm-11 4zm24 20zm-16 32zm-2 6zm-1 0zm-4 35zm-7-6zm17 64z"/><path stroke="#ef8632" d="M5596 1150zm2 4zm0 11zm-13 16zm28 14zm-2 72zm11 3zm-5 15zm16 25zm-7 12zm-1 1zm10 20zm46 43zm12 12zm8 1zm1-16zm12 21zm2 7zm-4 4zm-18 4zm28-22zm28 2zm10-8zm30-7zm-2 22zm15-46zm20-11zm12-37zm-10-17zm26-26zm-5-40zm-16 1zm-97-2zm-17 12zm-2-1zm7 10zm7 10zm-3-97zm128-12zm-3-7z"/><path stroke="#4a7cb3" d="M5542 1027zm1 4zm22-1zm2-6zm-5-10zm16-13zm10 20zm34-15zm15 13zm3 18zm-10 10zm49 24zm3 8zm13-4zm-192 22zm3 14zm-16 0zm-3 6zm-3 6zm-10 98zm-6 8zm6 42z"/><path stroke="#ef8632" d="M5616 1203zm-1 27zm-7 34zm-2 7zm33 90zm39 30zm1 6zm5 15zm18-1zm36 16zm8-32zm24-6zm14-11zm17 4zm4-16zm8-26zm7-26zm-3-31zm29 4zm0 6zm-9-26zm6-11zm11-16zm3-28zm3-26zm3-7zm-5-10zm1-24zm-23 77zm-104 28zm1 14zm-9-70zm-10-42zm74 197z"/><path stroke="#4a7cb3" d="M5533 1032zm52-38zm11 3zm22 2zm-10 13zm20 10zm12 10zm30 14zm-5 5zm11 12zm9 9zm11 14zm5 16zm1 2zm-16-6zm-20-19zm-158 27zm-27-2zm7 19zm12 11zm-24 16zm17 20zm-12 16zm5 18zm-7 5zm-6 13zm-4 5zm-3 19zm11-1z"/><path stroke="#ef8632" d="M5585 1170zm32 52zm-17 27zm12 25zm10 18zm17 23zm-6 22zm-2 13zm17-9zm4 18zm16 20zm12 7zm0 1zm2-2zm-3 6zm2 11zm24-1zm18-2zm-5-9zm2 27zm9-5zm16 7zm-5-19zm8-4zm31 1zm-5 9zm0 8zm-12-40zm47-31zm9 2zm32-92zm7-26zm3-43zm-136-6zm-10 1zm1-19zm6-9zm-1 45zm6 12zm1 46zm12-3z"/><path stroke="#4a7cb3" d="M5556 1020zm2 8zm-8 6zm-13 18zm-14 11zm-4 2zm6 22zm-21 1zm-18 90zm-3 5zm-4 13zm-8 49zm109-224zm30 7zm13 10zm32 0zm-5 7zm34 7zm23 54zm-4 9zm-1 5z"/><path stroke="#ef8632" d="M5592 1142zm12 26zm9 4zm-13 8zm8 48zm8-7zm2 27zm-4 21zm2 16zm-3 4zm16 22zm0 11zm22 34zm6-3zm4 1zm6 5zm6 26zm28 19zm57-7zm0 23zm22-46zm30-18zm2 0zm17-43zm6-46zm8 0zm6 8zm5-61zm7 2zm-5-21zm-3-25zm-143-24zm19 110zm-2 17z"/><path stroke="#4a7cb3" d="M5542 1047zm24-23zm13-13zm3-4zm20 4zm6-6zm8 16zm27 18zm5 2zm6 6zm10 1zm1 23zm6-5zm19-12zm12-2zm-18 38zm3 4zm-28-68zm3-5zm-25-24zm-138 125zm-11 6zm4 17zm-18 21zm7 43zm-3 25zm-7-6zm-3 42zm5 19z"/><path stroke="#ef8632" d="M5600 1152zm8 29zm1 5zm-2 15zm-13 1zm28 63zm5 3zm4 23zm-19 4zm19 46zm20 6zm12 0zm4 1zm9 6zm17 43zm41 13zm0 14zm12-18zm24-23zm-5-6zm21-1zm-1-2zm5-3zm-9-6zm10-18zm30-26zm11-23zm0-19zm33-67zm-12-39zm14-23zm-149 1zm4-16zm-25 14zm20 36zm8 1zm-1 20zm-8 2zm9 12zm0 1zm6 42z"/><path stroke="#4a7cb3" d="M5512 1033zm6 40zm14-7zm-28 15zm-16 36zm-5 4zm-7 35zm13 49zm-11 32zm-1 50zm106-260zm26-2zm23-7zm1-9zm-9-12zm-37-3zm75 51zm8 6zm34 49zm1 4zm0 24z"/><path stroke="#ef8632" d="M5606 1140zm9 34zm-12 20zm7 10zm16 38zm-21 15zm9 34zm11 11zm0 3zm10-5zm12 41zm0 25zm20 9zm-6 6zm19 9zm27-7zm27 12zm9 11zm5 7zm0 6zm38-38zm4-8zm-9 0zm13-17zm2-2zm17-3zm-2-3zm-1-11zm5-8zm3-17zm7-1zm-3-24zm21-6zm9-21zm3-39zm2-19zm-4-46zm5-10zm2-2zm-148 75zm2 9z"/><path stroke="#4a7cb3" d="M5533 1010zm-1 27zm11-1zm7 8zm-3 15zm-13 8zm-6 7zm0-27zm35-29zm5-9zm3-11zm17 2zm27 8zm-9 17zm27 10zm14-7zm53 65zm-2 3zm14 30zm-196 0zm-26-16zm9-25z"/></g></g><rect class="ax" x="1346.6" y="220.77" width="140.3" height="163.67"/>
<g clip-path="url(#c1_10)"><g transform="scale(.25)"><path stroke="#4a7cb3" d="M6307 1190zm-3 17zm4 3zm9 14zm0 7zm9-7zm-1 39zm109 3zm-5-33zm21 10zm-7-40zm2-12zm-7-31zm21-4zm-38 144zm4 9zm-41 78zm-13 1zm-3-9zm-24 4zm2 25zm-17-4zm-8-1zm-11 7zm-9 10zm-23-15zm-32-38zm-2-18zm-16-42zm-14-7z"/><path stroke="#ef8632" d="M6111 1061zm-5 19zm-2 3zm-7 2zm-10 46zm-9 14zm-13 79zm-5 6zm-1 5zm1 1zm8 9zm-11 7zm4 30zm143-43zm-7-17zm-3 3zm-1-21zm92-75zm-5-68zm-6 3zm-7-11zm-16 3zm-12-2zm0-29zm-31-2zm-5-1zm-8-7zm-16-9zm-4 0zm-5 9zm-29 29zm80-45z"/><path stroke="#4a7cb3" d="M6310 1152zm-6 7zm7 45zm4 68zm-94-2zm11 20zm-11 18zm13 57zm10 9zm13 1zm12 17zm16-2zm37 9zm-10 19zm-20 13zm55-27zm38-43zm6 1zm10-5zm11-32zm0-9zm19-16zm5-24zm-3-12zm16-13zm-9-36zm-3-36z"/><path stroke="#ef8632" d="M6097 1059zm20-1zm0 11zm13-15zm-1-15zm10-9zm4-6zm13 1zm4 1zm5-14zm11 0zm-1 2zm18-15zm20 15zm-5 23zm30 1zm15 6zm-19-44zm47 97zm9-4zm14 9zm-6 19zm3 7zm-102 61zm-4 1zm-132 4zm-7-6zm11-29zm1 0zm3-6zm15-32zm10-25zm-23 1zm-11 4zm83-31zm-72 182z"/><path stroke="#4a7cb3" d="M6202 1267zm10 3zm-5 15zm16 25zm-6 12zm-2 1zm10 20zm47 43zm11 12zm8 1zm1-16zm12 21zm2 7zm-3 4zm-19 4zm28-22zm29 2zm9-8zm30-7zm-1 22zm15-46zm19-11zm13-37zm-11-17zm26-26zm-5-40zm-16 1zm-97-2zm-17 12zm-2-1zm7 10zm7 10zm-3-97zm128-12zm-3-7z"/><path stroke="#ef8632" d="M6132 1027zm1 4zm22-1zm2-6zm-5-10zm16-13zm10 20zm34-15zm15 13zm3 18zm-10 10zm49 24zm3 8zm13-4zm-99 75zm2 4zm0 11zm-13 16zm28 14zm-139 26zm-5 8zm5 42zm11-148zm2-6zm4-6zm15 0zm-3-14z"/><path stroke="#4a7cb3" d="M6304 1152zm10 42zm8 56zm1 14zm85 19zm29 4zm-1 6zm-8-26zm6-11zm10-16zm3-28zm3-26zm3-7zm-5-10zm1-24zm-23 77zm-16 92zm-7 26zm-8 26zm-4 16zm-17-4zm-14 11zm-23 6zm-9 32zm-36-16zm-18 1zm-5-15zm-1-6zm-39-30zm-33-90zm2-7zm180 85z"/><path stroke="#ef8632" d="M6124 1032zm51-38zm11 3zm22 2zm-10 13zm20 10zm13 10zm29 14zm-4 5zm10 12zm10 9zm11 14zm4 16zm1 2zm-16-6zm-20-19zm-50 124zm0 27zm-146-3zm3-5zm6-13zm7-5zm-5-18zm12-16zm-17-20zm24-16zm-11-11zm-7-19zm26 2zm-31 139zm-10 1z"/><path stroke="#4a7cb3" d="M6311 1151zm-6 9zm-1 19zm10-1zm-4 18zm7 12zm1 46zm11-3zm111 2zm7-26zm4-43zm-43 161zm-9-2zm-47 31zm-14 22zm-8 4zm-17-1zm-5-9zm-13 11zm-24 1zm-1-11zm0-4zm0-1zm2-1zm-13-6zm-16-20zm-5-18zm-14-4zm-3 13zm8-35zm-17-23zm-10-18zm108 143zm9-5zm16 7zm30-5zm-1-8zm5-9z"/><path stroke="#ef8632" d="M6146 1020zm3 8zm-8 6zm-14 18zm-14 11zm-4 2zm6 22zm-20 1zm-18 90zm-4 5zm-4 13zm-8 49zm129 4zm18-27zm-32-52zm-6-149zm30 7zm14 10zm31 0zm-5 7zm34 7zm24 54zm-5 9zm-1 5z"/><path stroke="#4a7cb3" d="M6208 1248zm-4 21zm3 16zm-4 4zm16 22zm0 11zm22 34zm6-3zm4 1zm6 5zm6 26zm28 19zm57-7zm0 23zm22-46zm30-18zm3 0zm16-43zm6-46zm9 0zm5 8zm6-61zm6 2zm-4-21zm-4-25zm-124 86zm-2 17z"/><path stroke="#ef8632" d="M6133 1047zm23-23zm14-13zm3-4zm19 4zm6-6zm8 16zm27 18zm5 2zm7 6zm9 1zm1 23zm6-5zm19-12zm12-2zm-17 38zm2 4zm24 52zm-119-4zm12 26zm9 4zm-12 8zm7 48zm8-7zm-134-12zm-3 25zm-8-6zm-3 42zm5 19zm1-123zm18-21zm-4-17zm12-6zm159-96zm4-5zm-26-24z"/><path stroke="#4a7cb3" d="M6308 1151zm0 34zm8 1zm-1 20zm-9 2zm9 12zm1 1zm6 42zm-105 5zm-4-3zm9 26zm-19 4zm18 46zm20 6zm12 0zm4 1zm9 6zm17 43zm41 13zm0 14zm12-18zm24-23zm-4-6zm20-1zm-1-2zm5-3zm-9-6zm10-18zm30-26zm11-23zm0-19zm34-67zm-13-39zm14-23z"/><path stroke="#ef8632" d="M6102 1033zm6 40zm14-7zm-28 15zm-16 36zm-4 4zm-8 35zm14 49zm-12 32zm-1 50zm117-85zm13-1zm2-15zm-1-5zm-7-29zm96-3zm8-21zm0-24zm-1-4zm18 35zm-51-84zm-9-6zm-30-27zm2-9zm-10-12zm-37-3zm-4 33zm26-2z"/><path stroke="#4a7cb3" d="M6195 1257zm22-15zm-1 60zm0 3zm9-5zm-21-9zm34 50zm-1 25zm20 9zm-6 6zm19 9zm27-7zm27 12zm9 11zm5 7zm0 6zm39-38zm3-8zm-8 0zm12-17zm2-2zm17-3zm-2-3zm-1-11zm6-8zm2-17zm8-1zm-3-24zm20-6zm10-21zm3-39zm1-19zm-4-46zm5-10zm3-2zm-148 75zm1 9z"/><path stroke="#ef8632" d="M6123 1010zm-1 27zm11-1zm8 8zm-4 15zm-13 8zm-6 7zm1-27zm34-29zm6-9zm2-11zm17 2zm28 8zm-10 17zm27 10zm14-7zm53 65zm-2 3zm14 30zm-105 14zm8 34zm-12 20zm7 10zm-93-78zm-27-16zm10-25z"/></g></g><rect class="ax" x="1494.11" y="220.77" width="140.3" height="163.67"/>
<g clip-path="url(#c2_0)"><g transform="scale(.25)"><path stroke="#ef8632" d="M408 1643zm9 123zm54-1zm13-1zm-2-8zm-6-8zm6 24zm5 3zm1 7zm-4 0zm-6 1zm-5 5zm9 5zm-2 3zm7-5zm9 3zm2 2zm3 1zm-1 2zm-6 6zm10 9zm7-2zm-14-24zm11-17zm-1-8zm-43 19z"/><path stroke="#68ad57" d="M170 1976zm46 2zm0 3zm16 6zm-19 17zm-5 11zm35 4zm21 6zm1-14zm-12 29zm-40 23zm-6 18zm2 8zm25 13zm35-5zm110-27zm-14-32zm-34-58zm-90-21z"/><path stroke="#4a7cb3" d="M313 1656zm31 47zm3 5zm10 18zm-3 40zm-33 14zm-41 3zm-24-14zm-44 14zm98 60zm17 0zm20 2zm1 14zm21-40zm-70 60zm63 66zm25 10z"/><path stroke="#ef8632" d="M461 1708zm35 34zm13 9zm-21 8zm1 4zm-3 8zm10-1zm-2 8zm9-2zm0 11zm-4 2zm8 2zm-23 1zm-1 4zm1 9zm5-5zm-11 10zm3 18zm-6 7zm24-22zm-18-30zm-2 1zm-9-7zm1-9zm-67 51zm26 28z"/><path stroke="#68ad57" d="M206 1889zm10 58zm-8 10zm3 8zm10 39zm23-1zm1-1zm-4 32zm-11-2zm0 9zm-1 1zm-20 6zm-2 1zm-21 4zm11-34zm27 49zm21-16zm0 35zm18 27zm95-13zm-42-169z"/><path stroke="#4a7cb3" d="M250 1620zm25 123zm2 29zm51 0zm-17 28zm-66 1zm103 31zm23 11zm-14 15zm32 12zm-22 43zm-8 17zm38 22zm-40-209zm26-69zm-10-21z"/><path stroke="#ef8632" d="M470 1767zm6 6zm7 4zm8 5zm-3 3zm-7 3zm4 4zm0 11zm-2-1zm-4 1zm-5-11zm-2-3zm-7 11zm-9 24zm20 26zm28-47zm-4-22zm-2-6zm-4-11zm-3 2zm1-10z"/><path stroke="#68ad57" d="M182 1973zm-1 28zm8-3zm20-8zm7 17zm12 0zm3 5zm3 24zm4 22zm-2 12zm-8-3zm-3-1zm-11-7zm-2 17zm6 3zm41-2zm19-16zm2-17zm12-28zm-27-4zm-25-35zm-23-19zm43-49zm-39 219z"/><path stroke="#4a7cb3" d="M272 1693zm38 5zm-4 18zm-7 28zm34 16zm30-20zm11-24zm-9-67zm-7-19zm33 154zm-18 76zm21 31zm-2 40zm-60-91zm-16 9zm-2-29zm-46-26z"/><path stroke="#ef8632" d="M428 1686zm0 39zm-5 15zm43 17zm15 4zm1 7zm-10 5zm3 5zm-10 8zm20 7zm14-1zm3 0zm0-24zm1-3zm-7 4zm-14-26zm7 68zm-16 5zm-57-4zm50 68z"/><path stroke="#68ad57" d="M177 1983zm6 4zm5 18zm0 12zm16 1zm10 5zm7-1zm6-6zm-7-20zm18-12zm5-12zm10-8zm16 5zm-4 34zm-10 41zm-4 0zm-14 2zm3-8zm-26 0zm-19-7zm14 33zm9 7zm16 3zm0-15zm11 8zm7-2zm10 2zm32-135zm10-12zm52 62z"/><path stroke="#4a7cb3" d="M327 1660zm10-1zm-7 22zm2 12zm26 34zm22 30zm-52 3zm-12 64zm-12 21zm37 5zm-2 10zm30 8zm-86 17z"/><path stroke="#ef8632" d="M484 1741zm2 9zm-2 5zm-1 11zm0 11zm-4-2zm-1 6zm0 6zm-5 6zm-5-9zm-4 1zm25 5zm9 0zm1-8zm1-2zm-4-2zm-1-8zm1-5zm2-1zm2-14zm-73 65zm13 40z"/><path stroke="#68ad57" d="M169 1930zm19 42zm41-5zm1 50zm5-1zm-8 7zm12 9zm5 2zm4-2zm1-10zm17-19zm3-17zm28-14zm-38-54zm-3 145zm1 5zm-7 10zm-16 11zm5 23zm-25-32zm-7-24zm-10 6zm8-45z"/><path stroke="#4a7cb3" d="M282 1598zm1 37zm38 0zm32-51zm4 167zm5 13zm-36 19zm-28 8zm-32 6zm36-52zm47 78zm18-1zm15-12zm5-3zm5-10zm-37 43zm10 37z"/><path stroke="#ef8632" d="M483 1754zm5-2zm9-2zm1 0zm-3 10zm-1 1zm0 14zm0 4zm3 0zm0 8zm5-1zm2-2zm5 8zm-1-19zm-1-19zm-29 9zm5 10zm1 5zm-2 4zm-6-4zm0 11zm-5 2zm9 2zm-1 12zm8-1zm11 9zm-9-37zm-71 82z"/><path stroke="#68ad57" d="M208 1933zm-1 31zm-5 12zm38-7zm-5 35zm-9 14zm-2 13zm9 8zm2 12zm-15-7zm-24 3zm5-27zm14-12zm28 17zm20 1zm5-20zm0 77zm-4 24zm-25 17zm-18-21zm6-8zm14-14zm67-125z"/><path stroke="#4a7cb3" d="M229 1763zm86-8zm19-5zm17-34zm41 30zm-43 42zm-37 1zm2 26zm36 58zm17-9zm-121 14zm126-227z"/><path stroke="#ef8632" d="M451 1733zm6 32zm18 4zm11 4zm5 4zm8 4zm4-8zm1-9zm2 26zm-6 9zm-1 6zm-12-6zm-1-5zm-2-1zm7 2zm-9 39zm4-82zm2-13zm-4-1zm-11 17zm-60 55z"/><path stroke="#68ad57" d="M237 1930zm15-13zm10 37zm-22 19zm-9 6zm4 9zm-1 6zm18 3zm5 4zm12 6zm-29 7zm-18 3zm3 32zm5 6zm9 2zm-23 0zm0-4zm10 23zm-27 0zm-29 7zm17-59zm81 50zm35-154z"/><path stroke="#4a7cb3" d="M254 1618zm28 30zm-65 17zm118 36zm12 3zm0 18zm6-5zm-5 41zm-17 6zm-9-19zm35 29zm22 64zm-59-13zm-13-3zm-33 32zm-32-45zm111 91zm37-201z"/><path stroke="#ef8632" d="M401 1518zm11 22zm19 114zm67 57zm8 52zm5-2zm8-10zm-22 20zm-13-1zm1 4zm-6-1zm2 5zm-1 3zm9-4zm15 8zm-3 11zm-4 2zm9 0zm7-4zm-27 9zm-5-4zm-12 6zm1-15zm-2-35zm-56 9zm-6 62z"/><path stroke="#68ad57" d="M242 1905zm-28 44zm6 37zm4 8zm2 7zm4 2zm9-13zm5-7zm11 8zm-3 4zm-2 11zm7 7zm-2 6zm6 5zm-13 20zm-5 25zm-33 0zm2-12zm-13-1zm-2 24zm53 16zm-34-78zm-26-5zm125 34zm19-97z"/><path stroke="#4a7cb3" d="M234 1630zm-4 57zm-7 66zm47 81zm62-8zm26 5zm-19 49zm3 23zm4 20zm62 4zm-63-238zm-41 8z"/></g></g><rect class="ax" x="18.2" y="386.05" width="140.3" height="163.67"/>
<g clip-path="url(#c2_1)"><g transform="scale(.25)"><path stroke="#4a7cb3" d="M904 1656zm30 47zm3 5zm10 18zm-3 40zm-32 14zm-42 3zm-24-14zm55 74zm17 0zm20 2zm0 14zm21-40zm49-53zm54-1zm13-1zm-2 8zm4 3zm1 7zm-4 0zm-6 1zm-5 5zm-8-6zm17 11zm-1 3zm7-5zm8 3zm2 2zm2 3zm2-2zm-4-9zm-4 17zm10 9zm7-2zm-3-41zm-1-8zm-25-7zm-5-8zm-69-105z"/><path stroke="#ef8632" d="M802 1783zm87 96zm63 66zm25 10zm-56 25zm34 58zm15 32zm-110 27zm-35 5zm-26-13zm-2-8zm6-18zm-5-48zm5-11zm3-23zm1-3zm15 9zm9-28zm2 60zm21 6zm2-14zm-13 29zm-83-64z"/><path stroke="#4a7cb3" d="M840 1620zm25 123zm2 29zm51 0zm-17 28zm-66 1zm103 31zm23 11zm-14 15zm32 12zm41-23zm-25-28zm74-9zm6-5zm4-5zm-5-4zm1-4zm-4-9zm-2 1zm-9-7zm1-9zm16 3zm2-8zm0-4zm8 11zm-3 8zm9-2zm0 11zm-3 2zm7 2zm-8 22zm-17 15zm-7 7zm21-93zm14 9zm-49-43zm-78-34zm-10-21zm-16 90zm10 170zm30 39z"/><path stroke="#ef8632" d="M797 1889zm10 58zm-8 10zm3 8zm9 39zm23-1zm1-1zm-4 32zm-10-2zm0 9zm-2 1zm-20 6zm-2 1zm-21 4zm12-34zm27 49zm20-16zm0 35zm18 27zm95-13zm1-171zm-43 2z"/><path stroke="#4a7cb3" d="M862 1693zm38 5zm-3 18zm-8 28zm34 16zm30-20zm12-24zm-9-67zm-8-19zm33 154zm81 5zm2 3zm7-4zm4 4zm3-7zm3-3zm9-1zm-2-6zm-4-11zm-3 2zm1-10zm-9 21zm-7-4zm-5-6zm-5 33zm13 3zm4-1zm2 1zm20 0zm-49 21zm21 26zm-104 10zm21 31zm-2 40zm-60-91zm-16 9zm-2-29zm-45-26z"/><path stroke="#ef8632" d="M772 1973zm-1 28zm8-3zm21-8zm7 17zm11 0zm3 5zm3 24zm4 22zm-2 12zm-7-3zm-4-1zm-11-7zm-1 17zm6 3zm41-2zm18-16zm2-17zm12-28zm-27-4zm-24-35zm-23-19zm42-49zm-39 219z"/><path stroke="#4a7cb3" d="M918 1660zm9-1zm-7 22zm3 12zm25 34zm22 30zm-52 3zm-12 64zm-12 21zm38 5zm-3 10zm30 8zm47-56zm57 4zm16-5zm-4-18zm14-1zm3 0zm0-24zm1-3zm-7 4zm-14-1zm-1-7zm-14-4zm6 16zm3 5zm-10 8zm16-43zm-59-3zm5-15zm0-39zm38 194z"/><path stroke="#ef8632" d="M767 1983zm6 4zm6 18zm-1 12zm16 1zm10 5zm8-1zm5-6zm-7-20zm19-12zm5-12zm10-8zm16 5zm-5 34zm-10 41zm-4 0zm-13 2zm3-8zm-27 0zm-19-7zm14 33zm10 7zm15 3zm0-15zm11 8zm8-2zm9 2zm32-135zm10-12zm-20-35zm72 97z"/><path stroke="#4a7cb3" d="M873 1598zm0 37zm38 0zm33-51zm3 167zm5 13zm-35 19zm-29 8zm-31 6zm35-52zm48 78zm18-1zm15-12zm4-3zm6-10zm34 18zm14 40zm24-70zm3-1zm10 3zm0-6zm2-6zm3 2zm0-11zm1-11zm2-5zm-2-9zm16 9zm-2 14zm-2 1zm-1 5zm1 8zm4 2zm-1 2zm-1 8zm-9 0zm-16 3zm-118 47zm11 37z"/><path stroke="#ef8632" d="M759 1930zm19 42zm41-5zm1 50zm6-1zm-9 7zm12 9zm5 2zm4-2zm1-10zm17-19zm3-17zm28-14zm-38-54zm-3 145zm1 5zm-7 10zm-16 11zm-19-9zm-8-24zm-9 6zm7-45zm35 95z"/><path stroke="#4a7cb3" d="M819 1763zm87-8zm19-5zm17-34zm40 30zm-43 42zm-37 1zm2 26zm36 58zm17-9zm52-6zm60-53zm8-1zm-7-11zm-4-4zm-4 2zm4-13zm8 0zm-2 4zm1-9zm7 3zm5-1zm-1 4zm3 0zm0 8zm5-1zm2-2zm5 8zm0-19zm-1-19zm-10-4zm-1 0zm-8 2zm-6 2zm-5 9zm16-2zm1-1zm3 53zm-126-162z"/><path stroke="#ef8632" d="M836 1878zm-38 55zm0 31zm-5 12zm37-7zm-5 35zm-8 14zm-2 13zm8 8zm2 12zm-15-7zm-24 3zm5-27zm14-12zm28 17zm20 1zm5-20zm0 77zm-4 24zm-25 17zm-17-21zm5-8zm15-14zm66-125z"/><path stroke="#4a7cb3" d="M844 1618zm29 30zm-66 17zm118 36zm12 3zm1 18zm5-5zm-5 41zm-17 6zm-8-19zm34 29zm22 64zm34-28zm74-11zm-1-5zm-2-1zm8 2zm8 4zm-1 6zm7-15zm-7-9zm-8-4zm-5-4zm-11-4zm-2-14zm13-3zm3-13zm-5-1zm-33-5zm7 32zm46-1zm0 9zm-22 61zm-162-9zm-13-3zm46 78zm37-201z"/><path stroke="#ef8632" d="M832 1809zm32 45zm-22 63zm-15 13zm3 43zm-8 6zm3 9zm-1 6zm18 3zm5 4zm12 6zm-29 7zm-18 3zm3 32zm5 6zm10 2zm-24 0zm0-4zm10 23zm-27 0zm-29 7zm17-59zm81 50zm-5-120zm40-34z"/><path stroke="#4a7cb3" d="M824 1630zm-4 57zm-6 66zm80-56zm42-8zm85-35zm67 57zm8 52zm6-2zm7-10zm-21 20zm-13-1zm0 4zm-3 4zm-2 3zm-1-8zm10 4zm15 8zm-3 11zm-4 2zm9 0zm7-4zm-27 9zm-5-4zm-12 6zm1-15zm-2-35zm-56 9zm-6 62zm-48 5zm-26-5zm7 54zm4 23zm65 24zm4-387zm-11-22z"/><path stroke="#ef8632" d="M860 1834zm-27 71zm-29 44zm6 37zm5 8zm2 7zm3 2zm10-13zm4-7zm11 8zm-3 4zm-2 11zm7 7zm-2 6zm6 5zm-13 20zm-4 25zm6 27zm-40-27zm2-12zm-13-1zm-1 24zm-8-67zm27 5zm98 29zm19-97zm12-27z"/></g></g><rect class="ax" x="165.71" y="386.05" width="140.3" height="163.67"/>
<g clip-path="url(#c2_2)"><g transform="scale(.25)"><path stroke="#4a7cb3" d="M1589 1643zm9 123zm54-1zm13-1zm-2 8zm4 3zm1 7zm-4 0zm-6 1zm-4 5zm8 5zm-1 3zm7-5zm8 3zm2 2zm2 3zm2-2zm-4-9zm-4 17zm10 9zm7-2zm-2-41zm-2-8zm-25-7zm-5-8zm-12 34z"/><path stroke="#ef8632" d="M1351 1976zm46 2zm0 3zm15 6zm-19 17zm-4 11zm34 4zm21 6zm2-14zm-12 29zm-40 23zm-7 18zm2 8zm26 13zm35-5zm110-27zm-15-32zm-34-58zm-90-21z"/><path stroke="#68ad57" d="M1494 1656zm31 47zm2 5zm11 18zm-4 40zm-32 14zm-42 3zm-24-14zm-44 14zm99 60zm17 0zm20 2zm1 14zm20-40zm-70 60zm64 66zm24 10z"/><path stroke="#4a7cb3" d="M1641 1708zm35 34zm14 9zm-21 8zm0 4zm-2 8zm10-1zm-3 8zm9-2zm1 11zm-4 2zm8 2zm-23 1zm-1 4zm1 9zm5-5zm-11 10zm3 18zm-6 7zm23-22zm-18-30zm-2 1zm-8-7zm1-9zm-41 79z"/><path stroke="#ef8632" d="M1387 1889zm10 58zm-8 10zm3 8zm10 39zm22-1zm1-1zm-3 32zm-11-2zm0 9zm-2 1zm-19 6zm-3 1zm-21 4zm12-34zm27 49zm21-16zm0 35zm17 27zm95-13zm-42-169z"/><path stroke="#68ad57" d="M1431 1620zm25 123zm1 29zm52 0zm-18 28zm-66 1zm103 31zm23 11zm-14 15zm32 12zm-22 43zm-8 17zm39 22zm7-133zm-48-76zm26-69zm-10-21z"/><path stroke="#4a7cb3" d="M1651 1767zm6 6zm6 4zm8 5zm-3 3zm-2 7zm-5-4zm-9 1zm2 3zm5 11zm4-1zm2 1zm20 0zm-5-22zm-2-6zm-4-11zm-3 2zm1-10zm-26 44zm-9 24zm20 26z"/><path stroke="#ef8632" d="M1362 1973zm-1 28zm8-3zm21-8zm7 17zm11 0zm4 5zm3 24zm4 22zm-2 12zm-8-3zm-4-1zm-10-7zm-2 17zm6 3zm41-2zm18-16zm3-17zm11-28zm-27-4zm-24-35zm-23-19zm42-49zm-39 219z"/><path stroke="#68ad57" d="M1452 1693zm39 5zm-4 18zm-7 28zm33 16zm30-20zm12-24zm-9-67zm-8-19zm33 154zm-18 76zm22 31zm-3 40zm-59-91zm-17 9zm-2-29zm-45-26z"/><path stroke="#4a7cb3" d="M1609 1686zm-1 39zm-5 15zm44 17zm14 4zm1 7zm-9 5zm3 5zm-10 8zm19 7zm14-1zm3 0zm1-24zm0-3zm-7 4zm-14-26zm7 68zm-15 5zm-58-4zm50 68z"/><path stroke="#ef8632" d="M1358 1983zm5 4zm6 18zm0 12zm16 1zm10 5zm7-1zm5-6zm-7-20zm19-12zm5-12zm10-8zm16 5zm-4 34zm-11 41zm-4 0zm-13 2zm3-8zm-6 21zm0 15zm10-7zm8-2zm9 2zm-43 4zm-10-7zm5-26zm-19-7zm99-99zm62 50z"/><path stroke="#68ad57" d="M1508 1660zm10-1zm-8 22zm3 12zm25 34zm22 30zm-52 3zm-12 64zm-11 21zm37 5zm-2 10zm30 8zm-86 17zm21 35z"/><path stroke="#4a7cb3" d="M1664 1741zm2 9zm-1 5zm-1 11zm0 11zm-4-2zm-2 6zm1 6zm-5 6zm-5-9zm-4 1zm25 5zm8 0zm1-8zm1-2zm-4-2zm-1-8zm1-5zm2-1zm2-14zm-73 65zm14 40z"/><path stroke="#ef8632" d="M1350 1930zm18 42zm41-5zm1 50zm6-1zm-8 7zm12 9zm4 2zm4-2zm2-10zm17-19zm3-17zm27-14zm-38-54zm-3 145zm1 5zm-6 10zm-17 11zm-19-9zm-8-24zm-9 6zm8-45zm34 95z"/><path stroke="#68ad57" d="M1463 1598zm1 37zm37 0zm33-51zm4 167zm5 13zm-36 19zm-28 8zm-32 6zm36-52zm47 78zm18-1zm15-12zm4-3zm6-10zm-38 43zm11 37z"/><path stroke="#4a7cb3" d="M1663 1754zm6-2zm8-2zm1 0zm-2 10zm-2 1zm1 14zm0 4zm2 0zm0 8zm6-1zm1-2zm6 8zm-1-19zm-1-19zm-30 9zm6 10zm0 5zm-2 4zm-6-4zm1 11zm-5 2zm8 2zm0 12zm8-1zm10 9zm-8-37zm-71 82z"/><path stroke="#ef8632" d="M1388 1933zm0 31zm-5 12zm37-7zm-5 35zm-8 14zm-2 13zm8 8zm3 12zm-15-7zm-24 3zm4-27zm14-12zm29 17zm20 1zm5-20zm-1 77zm-3 24zm-25 17zm-18-21zm6-8zm14-14zm66-125z"/><path stroke="#68ad57" d="M1409 1763zm87-8zm19-5zm17-34zm40 30zm-43 42zm-37 1zm2 26zm36 58zm17-9zm-120 14zm125-227z"/><path stroke="#4a7cb3" d="M1632 1733zm32 5zm5 1zm-3 13zm-13 3zm3 14zm11 4zm4 4zm8 4zm5-8zm0-9zm2 26zm-6 9zm-1 6zm-7-10zm-6-1zm-2-1zm3 6zm-4 35zm-25-69z"/><path stroke="#ef8632" d="M1418 1930zm14-13zm11 37zm-23 19zm-8 6zm4 9zm-2 6zm18 3zm5 4zm13 6zm-30 7zm-18 3zm3 32zm6 6zm9 2zm-24 0zm1-4zm10 23zm-27 0zm-30 7zm18-59zm80 50z"/><path stroke="#68ad57" d="M1434 1618zm29 30zm-65 17zm117 36zm12 3zm1 18zm5-5zm-5 41zm-17 6zm-8-19zm34 29zm22 64zm35-28zm-94 15zm-13-3zm-32 32zm-32-45zm61 111zm49-20zm37-201z"/><path stroke="#4a7cb3" d="M1581 1518zm12 22zm18 114zm67 57zm8 52zm6-2zm7-10zm-21 20zm-13-1zm0 4zm-5-1zm2 5zm-2 3zm9-4zm15 8zm-3 11zm-4 2zm9 0zm7-4zm-31 5zm4 4zm-16 2zm0-15zm-1-35z"/><path stroke="#ef8632" d="M1423 1905zm-29 44zm7 37zm4 8zm2 7zm3 2zm10-13zm5-7zm10 8zm-3 4zm-2 11zm8 7zm-3 6zm7 5zm-14 20zm-4 25zm6 27zm-40-27zm2-12zm-13-1zm-1 24zm-8-67zm27 5zm98 29zm20-97z"/><path stroke="#68ad57" d="M1414 1630zm-4 57zm-6 66zm47 81zm62-8zm25 5zm48-5zm6-62zm-66-75zm-42 8zm36 183zm3 23zm3 20zm63 4z"/></g></g><rect class="ax" x="313.22" y="386.05" width="140.3" height="163.67"/>
<g clip-path="url(#c2_3)"><g transform="scale(.25)"><path stroke="#ef8632" d="M1941 1976zm46 2zm0 3zm15 6zm-18 17zm-5 11zm35 4zm20 6zm2-14zm-12 29zm-40 23zm-6 18zm2 8zm25 13zm35-5zm110-27zm-15-32zm-33-58zm31-35zm24 10zm-145 4z"/><path stroke="#68ad57" d="M2247 1748zm6 8zm2 8zm-2 8zm4 3zm2 7zm-4 0zm-6 1zm-5 5zm9 5zm-2 3zm7-5zm9 3zm1 2zm2 3zm2-2zm-4-9zm-3 17zm10 9zm7-2zm-3-41zm-1-8zm-36 2zm-7 17z"/><path stroke="#4a7cb3" d="M2084 1656zm31 47zm3 5zm10 18zm-4 40zm-32 14zm-42 3zm-24-14zm-43 14zm98 60zm17 0zm20 2zm1 14zm20-40zm49-53zm-9-123zm-110 236z"/><path stroke="#ef8632" d="M1977 1889zm10 58zm-8 10zm3 8zm10 39zm22-1zm2-1zm-4 32zm-11-2zm0 9zm-2 1zm-19 6zm-3 1zm-21 4zm12-34zm27 49zm21-16zm0 35zm17 27zm96-13zm1-171zm-43 2zm81 20z"/><path stroke="#68ad57" d="M2231 1708zm35 34zm14 9zm-21 8zm1 4zm-3 8zm10-1zm-2 8zm8-2zm1 11zm-4 2zm8 2zm-23 1zm-1 4zm1 9zm5-5zm-11 10zm3 18zm-6 7zm24-22zm-18-30zm-2 1zm-9-7zm1-9z"/><path stroke="#4a7cb3" d="M2021 1620zm25 123zm2 29zm51 0zm-18 28zm-66 1zm104 31zm23 11zm-14 15zm32 12zm41-23zm-26-28zm-47-76zm26-69zm-10-21zm-7 260z"/><path stroke="#ef8632" d="M1953 1973zm-1 28zm8-3zm20-8zm7 17zm12 0zm3 5zm3 24zm4 22zm-2 12zm-8-3zm-3-1zm-11-7zm-2 17zm6 3zm41-2zm19-16zm2-17zm12-28zm-27-4zm-25-35zm-23-19zm43-49zm-40 219z"/><path stroke="#68ad57" d="M2241 1767zm6 6zm7 4zm4 8zm4-3zm9-1zm-2-6zm-7-9zm2-2zm-2-8zm-10 32zm4 4zm-11 0zm-3-3zm-6 11zm13 3zm4-1zm2 1zm20 0zm-48 21zm20 26z"/><path stroke="#4a7cb3" d="M2042 1693zm39 5zm-4 18zm-7 28zm34 16zm29-20zm12-24zm-9-67zm-7-19zm32 154zm-18 76zm22 31zm-2 40zm-60-91zm-17 9zm-2-29zm-45-26z"/><path stroke="#ef8632" d="M1948 1983zm6 4zm5 18zm0 12zm16 1zm10 5zm7-1zm6-6zm-8-20zm19-12zm5-12zm10-8zm16 5zm-4 34zm-11 41zm-3 0zm-14 2zm3-8zm-6 21zm0 15zm10-7zm8-2zm10 2zm-44 4zm-10-7zm5-26zm-19-7zm100-99zm10-12zm-21-35zm72 97z"/><path stroke="#68ad57" d="M2237 1757zm15 4zm0 7zm-9 5zm3 5zm-10 8zm19 7zm14-1zm3 0zm1-24zm1-3zm-7 4zm-14-26zm7 68zm-16 5zm-8 64z"/><path stroke="#4a7cb3" d="M2098 1660zm10-1zm-8 22zm3 12zm25 34zm23 30zm-53 3zm-12 64zm-11 21zm37 5zm-2 10zm30 8zm47-56zm7-72zm5-15zm0-39z"/><path stroke="#ef8632" d="M1940 1930zm18 42zm42-5zm0 50zm6-1zm-8 7zm12 9zm5 2zm3-2zm2-10zm17-19zm3-17zm28-14zm-38-54zm-4 145zm2 5zm-7 10zm-16 11zm5 23zm-25-32zm-7-24zm-10 6zm8-45z"/><path stroke="#68ad57" d="M2254 1741zm3 9zm-2 5zm-1 11zm0 11zm-4-2zm-1 6zm0 6zm-5 6zm-5-9zm-4 1zm25 5zm8 0zm1-8zm1-2zm-3-2zm-2-8zm2-5zm2-1zm1-14zm-59 105z"/><path stroke="#4a7cb3" d="M2053 1598zm1 37zm38 0zm32-51zm4 167zm5 13zm-36 19zm-28 8zm-32 6zm36-52zm47 78zm18-1zm15-12zm4-3zm6-10zm34 18zm-71 25zm10 37z"/><path stroke="#ef8632" d="M2017 1878zm-39 55zm0 31zm-5 12zm38-7zm-5 35zm-9 14zm-2 13zm9 8zm2 12zm-15-7zm-24 3zm5-27zm14-12zm28 17zm20 1zm5-20zm-1 77zm-3 24zm-25 17zm-18-21zm6-8zm14-14zm66-125z"/><path stroke="#68ad57" d="M2253 1754zm6-2zm9-2zm1 0zm-3 10zm-1 1zm0 14zm0 4zm3 0zm-1 8zm6-1zm2-2zm5 8zm-1-19zm-1-19zm-29 9zm5 10zm1 5zm-2 4zm-6-4zm0 11zm-5 2zm8 2zm0 12zm8-1zm11 9zm-9-37z"/><path stroke="#4a7cb3" d="M1999 1763zm87-8zm19-5zm17-34zm41 30zm-43 42zm-38 1zm2 26zm37 58zm17-9zm51-6zm-46-207z"/><path stroke="#ef8632" d="M2008 1930zm14-13zm11 37zm-23 19zm-8 6zm4 9zm-1 6zm18 3zm5 4zm12 6zm-30 7zm-18 3zm4 32zm5 6zm9 2zm-23 0zm0-4zm10 23zm-27 0zm-29 7zm17-59zm81 50zm35-154z"/><path stroke="#68ad57" d="M2222 1733zm6 32zm18 4zm11 4zm5 4zm7 4zm5-8zm1-9zm1 26zm-6 9zm0 6zm-12-6zm-1-5zm-2-1zm7 2zm-9 39zm4-82zm2-13zm-4-1zm-12 17z"/><path stroke="#4a7cb3" d="M2024 1618zm29 30zm-65 17zm118 36zm12 3zm0 18zm5-5zm-5 41zm-16 6zm-9-19zm34 29zm23 64zm34-28zm-94 15zm-13-3zm-32 32zm-32-45zm111 91zm37-201z"/><path stroke="#ef8632" d="M2013 1905zm-28 44zm6 37zm4 8zm2 7zm3 2zm10-13zm5-7zm10 8zm-3 4zm-2 11zm8 7zm-2 6zm6 5zm-13 20zm-5 25zm-33 0zm2-12zm-14-1zm-1 24zm53 16zm-34-78zm-26-5zm124 34zm20-97zm12-27z"/><path stroke="#68ad57" d="M2269 1711zm8 52zm5-2zm7-10zm-21 20zm-13-1zm0 4zm-5-1zm2 5zm-2 3zm10-4zm15 8zm2 13zm-6-2zm-3 2zm-11 5zm-5-4zm-12 6zm0-15zm-1-35zm44 39z"/><path stroke="#4a7cb3" d="M2005 1630zm-5 57zm-6 66zm47 81zm62-8zm25 5zm49-5zm6-62zm18-110zm-85 35zm-41 8zm35 183zm3 23zm66 24zm4-387zm-11-22z"/></g></g><rect class="ax" x="460.73" y="386.05" width="141.1" height="163.67"/>
<g clip-path="url(#c2_4)"><g transform="scale(.25)"><path stroke="#68ad57" d="M2837 1748zm6 8zm2 8zm-2 8zm5 3zm1 7zm-4 0zm-6 1zm-5 5zm9 5zm-2 3zm7-5zm9 3zm2 2zm3 1zm-1 2zm-6 6zm10 9zm7-2zm-13-24zm10-17zm-1-8zm-36 2zm-7 17z"/><path stroke="#ef8632" d="M2531 1976zm46 2zm0 3zm16 6zm-19 17zm-5 11zm35 4zm21 6zm1-14zm-12 29zm-40 23zm-6 18zm2 8zm25 13zm35-5zm-28-138z"/><path stroke="#4a7cb3" d="M2674 1656zm31 47zm3 5zm10 18zm-3 40zm-33 14zm-41 3zm-24-14zm-44 14zm98 60zm17 0zm20 2zm1 14zm21-40zm48-53zm-9-123zm-21 312zm-25-10zm-31 35zm34 58zm14 32zm-80-191z"/><path stroke="#68ad57" d="M2765 1819zm26 28zm45-12zm6-7zm-2-18zm5-5zm5-5zm-6-4zm2-4zm-4-9zm-2 1zm-9-7zm1-9zm15 3zm3-8zm0-4zm7 11zm-2 8zm9-2zm0 11zm-4 2zm8 2zm-8 22zm10-62zm-13-9z"/><path stroke="#ef8632" d="M2568 1889zm9 58zm-7 10zm2 8zm10 39zm23-1zm1-1zm-4 32zm-11-2zm0 9zm-1 1zm-20 6zm-2 1zm-21 4zm11-34zm28 49zm20-16zm0 35zm18 27z"/><path stroke="#4a7cb3" d="M2611 1620zm25 123zm2 29zm51 0zm-17 28zm-66 1zm103 31zm23 11zm-14 15zm32 12zm-22 43zm-8 17zm-43 2zm81 20zm-39 149zm-1-358zm26-69zm-10-21zm88 55z"/><path stroke="#68ad57" d="M2752 1784zm81 5zm2 3zm7-4zm4 4zm3-7zm3-3zm9-1zm-2-6zm-4-11zm-3 2zm1-10zm-9 21zm-7-4zm-6-6zm-5 33zm14 3zm4-1zm2 1zm19 0zm-48 21zm20 26z"/><path stroke="#ef8632" d="M2543 1973zm-1 28zm8-3zm20-8zm7 17zm12 0zm3 5zm3 24zm4 22zm-2 12zm-8-3zm-3-1zm-11-7zm-2 17zm6 3zm41-2zm19-16zm2-17zm12-28zm-27-4zm-25-35zm-23-19zm43-49zm-39 219z"/><path stroke="#4a7cb3" d="M2633 1693zm38 5zm-4 18zm-7 28zm34 16zm30-20zm11-24zm-8-67zm-8-19zm-44 190zm2 29zm16-9zm41 20zm21 31zm-2 40zm-124-137z"/><path stroke="#68ad57" d="M2827 1757zm15 4zm1 7zm-9 5zm2 5zm-10 8zm20 7zm14-1zm3 0zm0-24zm1-3zm-7 4zm-14-26zm7 68zm-16 5zm-57-4zm50 68z"/><path stroke="#ef8632" d="M2538 1983zm6 4zm5 18zm0 12zm16 1zm10 5zm7-1zm6-6zm-7-20zm18-12zm5-12zm11-8zm16 5zm-5 34zm-10 41zm-4 0zm-13 2zm3-8zm-27 0zm-19-7zm14 33zm9 7zm16 3zm0-15zm11 8zm7-2zm10 2z"/><path stroke="#4a7cb3" d="M2688 1660zm10-1zm-7 22zm3 12zm25 34zm22 30zm-52 3zm-12 64zm-12 21zm38 5zm-3 10zm30 8zm-86 17zm21 35zm-10 12zm62 50zm67-242zm5-15zm0-39z"/><path stroke="#68ad57" d="M2753 1797zm-5 10zm-5 3zm45 5zm13 40zm24-70zm4-1zm10 3zm0-6zm1-6zm4 2zm0-11zm1-11zm2-5zm-2-9zm16 9zm-2 14zm-2 1zm-1 5zm1 8zm4 2zm-1 2zm-1 8zm-9 0zm-16 3z"/><path stroke="#ef8632" d="M2530 1930zm19 42zm41-5zm1 50zm5-1zm-8 7zm12 9zm5 2zm4-2zm1-10zm17-19zm3-17zm-10-68zm-3 145zm1 5zm-7 10zm-16 11zm-20-9zm-7-24zm-10 6zm8-45zm35 95z"/><path stroke="#4a7cb3" d="M2643 1598zm1 37zm38 0zm32-51zm4 167zm5 13zm-35 19zm-29 8zm-32 6zm36-52zm47 78zm18-1zm-12 18zm10 37zm-68 95z"/><path stroke="#68ad57" d="M2844 1754zm5-2zm9-2zm1 0zm-3 10zm-1 1zm1 14zm-1 4zm3 0zm0 8zm5-1zm2-2zm5 8zm-1-19zm-1-19zm-29 9zm5 10zm1 5zm-2 4zm-6-4zm0 11zm-5 2zm9 2zm-1 12zm8-1zm11 9zm-9-37zm-71 82z"/><path stroke="#ef8632" d="M2607 1878zm-38 55zm-1 31zm-5 12zm38-7zm-5 35zm-9 14zm-2 13zm9 8zm2 12zm-15-7zm-24 3zm5-27zm14-12zm28 17zm20 1zm5-20zm0 77zm-4 24zm-25 17zm-18-21zm6-8zm15-14z"/><path stroke="#4a7cb3" d="M2590 1763zm86-8zm19-5zm17-34zm41 30zm-43 42zm-37 1zm2 26zm36 58zm17-9zm-59 92zm64-305z"/><path stroke="#68ad57" d="M2818 1765zm18 4zm11 4zm5 4zm8 4zm5-8zm0-9zm2 26zm-6 9zm-1 6zm-12-6zm-1-5zm-2-1zm7 2zm-9 39zm4-82zm2-13zm-4-1zm-11 17zm-60 55z"/><path stroke="#ef8632" d="M2598 1930zm15-13zm10 37zm-22 19zm-8 6zm3 9zm-1 6zm18 3zm5 4zm12 6zm-29 7zm-18 3zm3 32zm5 6zm9 2zm-23 0zm0-4zm10 23zm-27 0zm-29 7zm17-59zm81 50z"/><path stroke="#4a7cb3" d="M2615 1618zm28 30zm-65 17zm118 36zm12 3zm0 18zm6-5zm-5 41zm-17 6zm-8-19zm34 29zm22 64zm-59-13zm-13-3zm-33 32zm-32-45zm61 111zm50-20zm37-201zm61 34z"/><path stroke="#68ad57" d="M2859 1711zm8 52zm5-2zm8-10zm-22 20zm-13-1zm1 4zm-6-1zm2 5zm-1 3zm9-4zm15 8zm-3 11zm-4 2zm9 0zm7-4zm-27 9zm-5-4zm-12 6zm1-15zm-2-35zm-62 71z"/><path stroke="#ef8632" d="M2603 1905zm-28 44zm6 37zm4 8zm3 7zm3 2zm9-13zm5-7zm11 8zm-3 4zm-2 11zm7 7zm-2 6zm6 5zm-13 20zm-5 25zm-33 0zm2-12zm-13-1zm-1 24zm52 16zm-34-78zm-26-5zm125 34z"/><path stroke="#4a7cb3" d="M2595 1630zm-4 57zm-6 66zm46 81zm62-8zm26 5zm-19 49zm3 23zm4 20zm-12 27zm74-23zm4-163zm19-110zm-86 35zm-41 8zm108-157zm-11-22z"/></g></g><rect class="ax" x="608.25" y="386.05" width="141.1" height="163.67"/>
<g clip-path="url(#c2_5)"><g transform="scale(.25)"><path stroke="#4a7cb3" d="M3265 1656zm30 47zm3 5zm10 18zm-3 40zm-32 14zm-42 3zm-24-14zm55 74zm17 0zm20 2zm1 14zm20-40zm49-53zm54-1zm13-1zm-2 8zm4 3zm1 7zm-4 0zm-6 1zm-4 5zm8 5zm-1 3zm7-5zm8 3zm2 2zm2 3zm2-2zm-4-9zm-4 17zm10 9zm7-2zm-3-41zm-1-8zm-25-7zm-5-8zm-12 34zm-57-139zm-21 312zm-25-10zm-63-66z"/><path stroke="#ef8632" d="M3121 1976zm47 2zm-1 3zm16 6zm-19 17zm-5 11zm35 4zm21 6zm2-14zm-13 29zm-39 23zm-7 18zm2 8zm26 13zm35-5zm110-27zm-15-32zm-34-58zm-90-21z"/><path stroke="#68ad57" d="M3163 1783z"/><path stroke="#4a7cb3" d="M3201 1620zm25 123zm2 29zm51 0zm-17 28zm-66 1zm103 31zm23 11zm-14 15zm32 12zm41-23zm-25-28zm74-9zm6-5zm5-5zm-6-4zm1-4zm-4-9zm-2 1zm-9-7zm1-9zm16 3zm2-8zm0-4zm8 11zm-3 8zm9-2zm0 11zm-3 2zm7 2zm-8 22zm-17 15zm-7 7zm21-93zm14 9zm-49-43zm-78-34zm-10-21zm-16 90zm10 170zm-8 17zm39 22z"/><path stroke="#ef8632" d="M3158 1889zm10 58zm-8 10zm3 8zm9 39zm23-1zm1-1zm-4 32zm-10-2zm0 9zm-2 1zm-19 6zm-3 1zm-21 4zm12-34zm27 49zm21-16zm0 35zm17 27zm95-13zm-42-169z"/><path stroke="#4a7cb3" d="M3223 1693zm38 5zm-3 18zm-8 28zm34 16zm30-20zm12-24zm-9-67zm-8-19zm33 154zm81 5zm2 3zm7-4zm4 4zm3-7zm3-3zm9-1zm-2-6zm-4-11zm-3 2zm1-10zm-9 21zm-7-4zm-5-6zm-5 33zm13 3zm4-1zm2 1zm20 0zm-49 21zm21 26zm-104 10zm21 31zm-2 40zm-60-91zm-16 9zm-2-29zm-45-26z"/><path stroke="#ef8632" d="M3133 1973zm-1 28zm8-3zm21-8zm7 17zm11 0zm3 5zm4 24zm3 22zm-2 12zm-7-3zm-4-1zm-11-7zm-1 17zm6 3zm41-2zm18-16zm2-17zm12-28zm-27-4zm-24-35zm-23-19zm42-49zm-39 219z"/><path stroke="#4a7cb3" d="M3279 1660zm10-1zm-8 22zm3 12zm25 34zm22 30zm-52 3zm-12 64zm-11 21zm37 5zm-2 10zm30 8zm46-56zm57 4zm16-5zm-4-18zm14-1zm3 0zm0-24zm1-3zm-7 4zm-14-1zm-1-7zm-14-4zm6 16zm3 5zm-10 8zm16-43zm-59-3zm5-15zm0-39zm38 194zm-182 5z"/><path stroke="#ef8632" d="M3128 1983zm6 4zm6 18zm-1 12zm16 1zm11 5zm7-1zm5-6zm-7-20zm19-12zm5-12zm10-8zm16 5zm-5 34zm-10 41zm-4 0zm-13 2zm3-8zm-27 0zm-19-7zm14 33zm10 7zm16 3zm-1-15zm11 8zm8-2zm9 2zm32-135zm10-12zm52 62z"/><path stroke="#4a7cb3" d="M3234 1598zm0 37zm38 0zm33-51zm4 167zm4 13zm-35 19zm-28 8zm-32 6zm35-52zm48 78zm18-1zm15-12zm4-3zm6-10zm34 18zm14 40zm24-70zm3-1zm10 3zm0-6zm2-6zm4 2zm0-11zm1-11zm1-5zm-2-9zm16 9zm-2 14zm-2 1zm-1 5zm1 8zm4 2zm-1 2zm-1 8zm-8 0zm-16 3zm-119 47zm11 37z"/><path stroke="#ef8632" d="M3120 1930zm19 42zm41-5zm1 50zm6-1zm-9 7zm12 9zm5 2zm4-2zm1-10zm17-19zm3-17zm28-14zm-38-54zm-3 145zm1 5zm-7 10zm-16 11zm-19-9zm-8-24zm-9 6zm7-45zm35 95z"/><path stroke="#4a7cb3" d="M3180 1763zm87-8zm19-5zm17-34zm40 30zm-43 42zm-37 1zm2 26zm36 58zm17-9zm52-6zm61-53zm7-1zm-7-11zm-3-4zm-5 2zm4-13zm8 0zm-2 4zm1-9zm7 3zm5-1zm0 4zm2 0zm0 8zm5-1zm2-2zm5 8zm0-19zm-1-19zm-10-4zm-1 0zm-8 2zm-6 2zm-5 9zm16-2zm1-1zm3 53zm-126-162z"/><path stroke="#ef8632" d="M3197 1878zm-38 55zm0 31zm-5 12zm37-7zm-5 35zm-8 14zm-2 13zm8 8zm2 12zm-15-7zm-24 3zm5-27zm14-12zm28 17zm20 1zm5-20zm0 77zm-4 24zm-24 17zm-18-21zm5-8zm15-14zm66-125z"/><path stroke="#4a7cb3" d="M3205 1618zm29 30zm-66 17zm118 36zm12 3zm1 18zm5-5zm-5 41zm-17 6zm-8-19zm34 29zm22 64zm34-28zm74-11zm-1-5zm-2-1zm8 2zm8 4zm-1 6zm7-15zm-7-9zm-8-4zm-5-4zm-11-4zm-2-14zm13-3zm3-13zm-5-1zm-32-5zm6 32zm46-1zm0 9zm-22 61zm-162-9zm-13-3zm-33 32zm-32-45zm111 91zm37-201z"/><path stroke="#ef8632" d="M3188 1930zm15-13zm11 37zm-23 19zm-8 6zm3 9zm-1 6zm18 3zm5 4zm13 6zm-30 7zm-18 3zm3 32zm6 6zm9 2zm-24 0zm0-4zm11 23zm-28 0zm-29 7zm17-59zm81 50zm35-154z"/><path stroke="#4a7cb3" d="M3185 1630zm-4 57zm-6 66zm46 81zm62-8zm26 5zm48-5zm6-62zm56-9zm11 18zm6 1zm0-4zm-3 8zm-2 3zm9-4zm9-6zm8-8zm6-2zm7-10zm-6 43zm-7 4zm-5-2zm-4 2zm-15 1zm4 4zm-17 2zm1-15zm34-5zm-6-74zm-67-57zm-85 35zm-42 8zm35 183zm4 23zm3 20zm63 4zm4-387zm-12-22z"/><path stroke="#ef8632" d="M3194 1905zm-29 44zm6 37zm5 8zm2 7zm3 2zm10-13zm4-7zm11 8zm-3 4zm-2 11zm7 7zm-2 6zm6 5zm-13 20zm-4 25zm6 27zm-40-27zm2-12zm-13-1zm-1 24zm-8-67zm27 5zm98 29zm19-97z"/></g></g><rect class="ax" x="755.76" y="386.05" width="141.1" height="163.67"/>
<g clip-path="url(#c2_6)"><g transform="scale(.25)"><path stroke="#4a7cb3" d="M4018 1748zm5 8zm3 8zm-2 8zm4 3zm1 7zm-4 0zm-6 1zm-4 5zm9 5zm-2 3zm7-5zm9 3zm1 2zm2 3zm2-2zm-4-9zm-4 17zm10 9zm8-2zm-3-41zm-1-8zm-36 2zm-7 17z"/><path stroke="#68ad57" d="M3712 1976zm46 2zm0 3zm15 6zm-19 17zm-4 11zm34 4zm21 6zm2-14zm-12 29zm-40 23zm-7 18zm2 8zm26 13zm35-5zm-29-138z"/><path stroke="#000000" d="M3855 1656zm95-13zm9 123zm-162 3zm-44 14zm87 96zm64 66zm24 10zm-55 25zm33 58zm15 32z"/><path stroke="#ef8632" d="M3886 1703zm3 5zm10 18zm-4 40zm-32 14zm6 63zm-17 0zm37 2zm1 14zm20-40z"/><path stroke="#e887bd" d="M3821 1783z"/><path stroke="#4a7cb3" d="M4037 1742zm14 9zm-21 8zm0 4zm-2 8zm10-1zm-2 8zm8-2zm1 11zm-4 2zm8 2zm-23 1zm-1 4zm1 9zm5-5zm-11 10zm3 18zm-6 7zm24-22zm-19-30zm-2 1zm-8-7zm1-9z"/><path stroke="#68ad57" d="M3758 1947zm-8 10zm3 8zm10 39zm22-1zm2-1zm-4 32zm-11-2zm0 9zm-2 1zm-19 6zm-3 1zm-21 4zm12-34zm27 49zm21-16zm0 35zm17 27z"/><path stroke="#000000" d="M3792 1620zm25 123zm-31 58zm-38 88zm109 43zm43-2zm8-17zm31 39zm33-105zm30-139zm-77-34zm-10-21zm-16 448z"/><path stroke="#ef8632" d="M3898 1743zm-28 29zm-18 28zm37 32zm9 26zm15-15zm17 27z"/><path stroke="#9c5a33" d="M3946 1819z"/><path stroke="#e887bd" d="M3818 1772z"/><path stroke="#4a7cb3" d="M4012 1767zm6 6zm6 4zm8 5zm-3 3zm-2 7zm-5-4zm-9 1zm2 3zm5 11zm4-1zm2 1zm20 0zm-5-22zm-2-6zm-4-11zm-3 2zm1-10zm-26 44zm-9 24zm20 26z"/><path stroke="#68ad57" d="M3723 1973zm-1 28zm8-3zm21-8zm7 17zm12 0zm3 5zm3 24zm4 22zm-2 12zm-8-3zm-4-1zm-10-7zm-2 17zm6 3zm41-2zm19-16zm-14-49zm-24-35zm-23-19z"/><path stroke="#000000" d="M3813 1693zm39 5zm-4 18zm59-67zm-8-19zm33 154zm4 107zm-3 40zm-99 85zm-12 28zm-60 84z"/><path stroke="#ef8632" d="M3841 1744zm33 16zm30-20zm12-24zm-2 144zm-40-20zm-17 9zm-2-29z"/><path stroke="#8e529f" d="M3801 1909z"/><path stroke="#e887bd" d="M3810 1794z"/><path stroke="#4a7cb3" d="M4008 1757zm14 4zm1 7zm-9 5zm3 5zm-10 8zm19 7zm14-1zm3 0zm1-24zm1-3zm-8 4zm-14-26zm8 68zm-16 5z"/><path stroke="#68ad57" d="M3719 1983zm5 4zm6 18zm0 12zm16 1zm10 5zm7-1zm5-6zm-7-20zm19-12zm5-12zm10-8zm16 5zm-4 34zm-11 41zm-3 0zm-14 2zm3-8zm-6 21zm0 15zm10-7zm8-2zm9 2zm-43 4zm-10-7zm5-26zm-19-7z"/><path stroke="#000000" d="M3879 1659zm91 27zm-1 39zm-4 15zm42 140zm-182 5zm21 35zm-11 12zm62 50z"/><path stroke="#ef8632" d="M3869 1660zm2 21zm3 12zm25 34zm22 30zm-52 3zm-12 64zm-11 21zm37 5zm-2 10zm30 8z"/><path stroke="#9c5a33" d="M3957 1812z"/><path stroke="#4a7cb3" d="M4025 1741zm2 9zm-1 5zm-1 11zm0 11zm-4-2zm-1 6zm0 6zm-5 6zm-5-9zm-4 1zm25 5zm8 0zm1-8zm1-2zm-4-2zm-1-8zm1-5zm3-1zm1-14z"/><path stroke="#68ad57" d="M3729 1972zm41-5zm1 50zm6-1zm-8 7zm12 9zm5 2zm3-2zm2-10zm17-19zm3-17zm-14 77zm2 5zm-7 10zm-17 11zm-19-9zm-8-24zm-9 6zm8-45zm34 95z"/><path stroke="#000000" d="M3824 1598zm1 37zm37 0zm33-51zm87 271zm-144 117zm-127-42z"/><path stroke="#ef8632" d="M3844 1745zm-4 46zm28-8zm36-19zm-5-13zm-8 72zm18-1zm15-12zm4-3zm6-10zm-38 43zm11 37z"/><path stroke="#9c5a33" d="M3968 1815z"/><path stroke="#8e529f" d="M3801 1918z"/><path stroke="#e887bd" d="M3808 1797z"/><path stroke="#4a7cb3" d="M4024 1754zm6-2zm8-2zm2 0zm-3 10zm-1 1zm0 14zm0 4zm3 0zm-1 8zm6-1zm2-2zm5 8zm-1-19zm-1-19zm-30 9zm6 10zm0 5zm-1 4zm-7-4zm1 11zm-5 2zm8 2zm0 12zm8-1zm10 9zm-8-37z"/><path stroke="#68ad57" d="M3749 1933zm0 31zm-5 12zm37-7zm-4 35zm-9 14zm-2 13zm8 8zm3 12zm-15-7zm-24 3zm4-27zm15-12zm28 17zm20 1zm5-20zm-1 77zm-3 24zm-25 17zm-18-21zm6-8zm14-14z"/><path stroke="#000000" d="M3770 1763zm18 115zm61 78zm111-98zm-27-112zm-20-95z"/><path stroke="#ef8632" d="M3893 1716zm-17 34zm-19 5zm-4 34zm2 26zm35-27zm1 85zm17-9z"/><path stroke="#4a7cb3" d="M3999 1765zm18 4zm11 4zm4 4zm8 4zm5-8zm0-9zm2 26zm-6 9zm0 6zm-8-10zm-6-1zm-2-1zm3 6zm-4 35zm3-82zm-1-14zm4 1zm-16 16z"/><path stroke="#68ad57" d="M3773 1979zm4 9zm-2 6zm18 3zm5 4zm13 6zm-30 7zm-18 3zm4 32zm5 6zm9 2zm-24 0zm1-4zm10 23zm-27 0zm-12-52zm52-51zm23-19zm6 120z"/><path stroke="#000000" d="M3795 1618zm29 30zm-65 17zm25 144zm32 45zm29 66zm50-20zm36-201zm62 34zm-281 350z"/><path stroke="#ef8632" d="M3876 1701zm12 3zm1 18zm5-5zm-5 41zm-16 6zm-9-19zm34 29zm22 64zm-59-13zm-13-3z"/><path stroke="#9c5a33" d="M3955 1810z"/><path stroke="#8e529f" d="M3779 1930zm14-13z"/><path stroke="#4a7cb3" d="M4010 1755zm11 18zm5 1zm0-4zm-3 8zm-2 3zm9-4zm9-6zm8-8zm6-2zm7-10zm-6 43zm-6 4zm-6-2zm-3 2zm-16 1zm4 4zm-16 2zm0-15zm34-5z"/><path stroke="#68ad57" d="M3755 1949zm7 37zm4 8zm2 7zm3 2zm10-13zm5-7zm10 8zm-3 4zm-2 11zm8 7zm-3 6zm7 5zm-13 20zm-5 25zm6 27zm-40-27zm2-12zm-13-1zm-1 24zm-8-67zm27 5z"/><path stroke="#000000" d="M3775 1630zm-4 57zm-6 66zm47 81zm75 89zm-11 27zm74-23zm3-163zm19-110zm68 57zm-195-14zm109-157zm-12-22zm-86 529z"/><path stroke="#ef8632" d="M3887 1689zm-13 137zm25 5zm-18 49zm3 23z"/><path stroke="#9c5a33" d="M3947 1826z"/><path stroke="#8e529f" d="M3784 1905z"/></g></g><rect class="ax" x="903.27" y="386.05" width="141.1" height="163.67"/>
<g clip-path="url(#c2_7)"><g transform="scale(.25)"><path stroke="#ef8632" d="M4549 1766zm54-1zm13-1zm-2-8zm-6-8zm6 24zm5 3zm1 7zm-4 0zm-6 1zm-5 5zm9 5zm-2 3zm7-5zm9 3zm1 2zm2 3zm2-2zm-4-9zm-3 17zm10 9zm7-2zm-3-41zm-1-8zm-43 19z"/><path stroke="#4a7cb3" d="M4302 1976zm46 2zm0 3zm16 6zm-19 17zm-5 11zm35 4zm21 6zm1-14zm-12 29zm-40 23zm-6 18zm2 8zm25 13zm35-5zm-28-138z"/><path stroke="#68ad57" d="M4445 1656zm31 47zm3 5zm10 18zm-3 40zm-33 14zm-41 3zm-24-14zm54 74zm17 0zm20 2zm1 14zm20-40zm-6 126z"/><path stroke="#000000" d="M4344 1783zm86 96zm33 101zm56-25zm-22 83zm14 32zm29-427z"/><path stroke="#ef8632" d="M4627 1742zm14 9zm-21 8zm1 4zm-3 8zm10-1zm-2 8zm9-2zm0 11zm-4 2zm8 2zm-23 1zm-1 4zm1 9zm5-5zm-11 10zm3 18zm-6 7zm24-22zm-18-30zm-2 1zm-9-7zm1-9z"/><path stroke="#4a7cb3" d="M4348 1947zm-8 10zm3 8zm10 39zm22-1zm2-1zm-4 32zm-11-2zm0 9zm-2 1zm-19 6zm-3 1zm-21 4zm12-34zm27 49zm21-16zm0 35zm17 27z"/><path stroke="#68ad57" d="M4407 1743zm2 29zm51 0zm-17 28zm-66 1zm103 31zm23 11zm-14 15zm32 12zm-22 43zm-8 17zm-43 2zm88-113zm-47-76zm26-69zm-10-21z"/><path stroke="#000000" d="M4382 1620zm211 88zm-31 139zm-33 105zm-39 149zm-152-212z"/><path stroke="#ef8632" d="M4602 1767zm6 6zm7 4zm4 8zm4-3zm9-1zm-2-6zm-7-9zm2-2zm-2-8zm-10 32zm4 4zm0 11zm-3-1zm-4 1zm-4-11zm-3-3zm-6 11zm-9 24zm20 26zm28-47z"/><path stroke="#4a7cb3" d="M4314 1973zm-1 28zm8-3zm20-8zm7 17zm12 0zm3 5zm3 24zm4 22zm-2 12zm-8-3zm-3-1zm-11-7zm-2 17zm6 3zm41-2zm19-16zm2-17zm12-28zm-27-4zm-25-35zm-23-19zm43-49zm-40 219z"/><path stroke="#68ad57" d="M4490 1630zm7 19zm9 67zm-12 24zm-29 20zm-34-16zm7-28zm4-18zm4 122zm2 29zm16-9zm40 20zm19-76zm-123 10z"/><path stroke="#000000" d="M4404 1693zm122 198zm-2 40z"/><path stroke="#ef8632" d="M4560 1725zm-5 15zm43 17zm15 4zm0 7zm-9 5zm3 5zm-10 8zm19 7zm15-1zm3 0zm0-24zm1-3zm-7 4zm-14-26zm7 68zm-16 5z"/><path stroke="#4a7cb3" d="M4309 1983zm6 4zm5 18zm0 12zm16 1zm10 5zm7-1zm6-6zm-8-20zm19-12zm5-12zm10-8zm16 5zm-4 34zm-11 41zm-3 0zm-14 2zm3-8zm-6 21zm0 15zm10-7zm8-2zm10 2zm-44 4zm-9-7zm4-26zm-19-7z"/><path stroke="#68ad57" d="M4459 1660zm10-1zm-8 22zm3 12zm25 34zm23 30zm-53 3zm-12 64zm-11 21zm37 5zm-2 10zm30 8zm47-56zm-112 108zm-10 12z"/><path stroke="#000000" d="M4560 1686zm37 194zm-182 5zm72 97z"/><path stroke="#ef8632" d="M4615 1741zm3 9zm-2 5zm-1 11zm0 11zm-4-2zm-1 6zm0 6zm-5 6zm-5-9zm-4 1zm25 5zm9 0zm0-8zm1-2zm-3-2zm-2-8zm2-5zm2-1zm1-14z"/><path stroke="#4a7cb3" d="M4320 1972zm41-5zm0 50zm6-1zm-8 7zm12 9zm5 2zm3-2zm2-10zm17-19zm3-17zm28-14zm-38-54zm-4 145zm2 5zm-7 10zm-16 11zm5 23zm-25-32zm-7-24zm-10 6zm8-45z"/><path stroke="#68ad57" d="M4453 1635zm-19 110zm-4 46zm28-8zm36-19zm-5-13zm-8 72zm18-1zm15-12zm4-3zm6-10zm35 18zm-72 25zm10 37zm-99-80z"/><path stroke="#000000" d="M4414 1598zm1 37zm70-51zm87 271zm-271 75z"/><path stroke="#ef8632" d="M4614 1754zm6-2zm9-2zm1 0zm-3 10zm-1 1zm0 14zm0 4zm3 0zm-1 8zm6-1zm2-2zm5 8zm-1-19zm-1-19zm-29 9zm5 10zm1 5zm-2 4zm-6-4zm0 11zm-5 2zm8 2zm0 12zm8-1zm11 9zm-9-37z"/><path stroke="#4a7cb3" d="M4339 1933zm0 31zm-5 12zm38-7zm-5 35zm-9 14zm-2 13zm9 8zm2 12zm-15-7zm-24 3zm5-27zm14-12zm28 17zm20 1zm5-20zm-1 77zm-3 24zm-25 17zm-18-21zm6-8zm14-14z"/><path stroke="#68ad57" d="M4504 1651zm-21 65zm-17 34zm-19 5zm-3 34zm1 26zm36-27zm43-42zm-25 118zm-17 9zm-42 83z"/><path stroke="#000000" d="M4360 1763zm18 115zm172-20z"/><path stroke="#ef8632" d="M4583 1733zm6 32zm18 4zm11 4zm5 4zm8 4zm4-8zm1-9zm2 26zm-7 9zm0 6zm-12-6zm-1-5zm-2-1zm7 2zm-9 39zm4-82zm2-13zm-4-1zm-12 17z"/><path stroke="#4a7cb3" d="M4369 1930zm14-13zm11 37zm-22 19zm-9 6zm4 9zm-1 6zm18 3zm5 4zm12 6zm-30 7zm-18 3zm4 32zm5 6zm9 2zm-23 0zm0-4zm10 23zm-27 0zm-12-52zm81 50z"/><path stroke="#68ad57" d="M4467 1701zm12 3zm0 18zm6-5zm-6 41zm-16 6zm-9-19zm35 29zm22 64zm34-28zm-94 15zm-12-3zm-4 98zm50-20zm37-201z"/><path stroke="#000000" d="M4386 1618zm28 30zm-65 17zm25 144zm32 45zm-104 229z"/><path stroke="#ef8632" d="M4544 1764zm56-9zm11 18zm6 1zm-1-4zm-3 8zm-2 3zm10-4zm8-6zm9-8zm5-2zm7-10zm-5 43zm-7 4zm-6-2zm-3 2zm-11 5zm-5-4zm-12 6zm0-15zm35-5z"/><path stroke="#4a7cb3" d="M4374 1905zm-28 44zm6 37zm4 8zm2 7zm4 2zm9-13zm5-7zm11 8zm-3 4zm-2 11zm7 7zm-2 6zm6 5zm-13 20zm-5 25zm-33 0zm2-12zm-13-1zm-2 24zm53 16zm-34-78zm-26-5z"/><path stroke="#68ad57" d="M4436 1697zm41-8zm-13 137zm26 5zm48-5zm-67 54zm3 23zm4 20zm-12 27z"/><path stroke="#000000" d="M4366 1630zm-4 57zm-7 66zm47 81zm138 93zm-94 120zm116-393zm68 57zm-86-171zm-11-22z"/></g></g><rect class="ax" x="1050.78" y="386.05" width="141.1" height="163.67"/>
<g clip-path="url(#c2_8)"><g transform="scale(.25)"><path stroke="#000000" d="M4934 1783zm4 195zm0 3zm25-22zm-71 17zm64 126zm35-5zm111-27zm-15-32zm22-83zm30-189zm47 16zm18-26zm-6-8zm31 15zm1 8zm3 41zm-7 2zm-10-9zm-86-162z"/><path stroke="#4a7cb3" d="M5193 1765zm14-1zm-2 8zm4 3zm1 7zm-4 0zm-6 1zm-5 5zm9 5zm-1 3zm6-5zm9 3zm2 2zm3 1zm-1 2zm-2-11z"/><path stroke="#68ad57" d="M4935 2004zm-5 11zm35 4zm21 6zm2-14zm-13 29zm-40 23zm-6 18zm2 8zm23-102z"/><path stroke="#ef8632" d="M5035 1656zm31 47zm3 5zm10 18zm-3 40zm-33 14zm-41 3zm-24-14zm54 74zm18 0zm19 2zm1 14zm21-40zm-70 60zm63 66zm-31 35z"/><path stroke="#000000" d="M4972 1620zm123 33zm10 21zm78 34zm35 34zm14 9zm-11 62zm-18 15zm-6 7zm-45 12zm-33 105zm-181-5zm-7 10zm3 8zm-15 54zm-11 34zm77 61zm95-13zm-151-212z"/><path stroke="#4a7cb3" d="M5193 1768zm-1 9zm9 7zm2-1zm4 9zm-2 4zm1 9zm5-5zm-10 10zm21-21zm3-2zm4 4zm-4-15zm-9 2zm2-8zm-10 1zm3-8zm0-4z"/><path stroke="#68ad57" d="M4943 2004zm23-1zm1-1zm-4 32zm-11-2zm0 9zm-1 1zm-20 6zm-2 1zm18 19zm20-16zm0 35z"/><path stroke="#ef8632" d="M4997 1743zm2 29zm51 0zm-17 28zm-66 1zm103 31zm23 11zm-14 15zm32 12zm-22 43zm-8 17zm-43 2zm88-113zm-47-76z"/><path stroke="#000000" d="M4994 1693zm86-63zm107 170zm-9 24zm20 26zm-216 59zm-42 49zm-8 32zm-21 8zm-8 3zm1-28zm110 43zm-12 28zm-2 17zm-57 67z"/><path stroke="#4a7cb3" d="M5193 1767zm5 6zm7 4zm8 5zm-3 3zm-7 3zm4 4zm0 11zm-2-1zm-4 1zm-5-11zm-2-3zm28-8zm-2-6zm-4-11zm-3 2zm1-10zm13 47z"/><path stroke="#68ad57" d="M4963 1977zm-13 30zm3 5zm-14-5zm17 29zm4 22zm-2 12zm-7-3zm-4-1zm-11-7zm-2 17zm6 3zm41-2zm6-65z"/><path stroke="#ef8632" d="M5032 1698zm-3 18zm-8 28zm34 16zm30-20zm12-24zm-9-67zm25 135zm-18 76zm21 31zm-2 40zm-60-91zm-16 9zm-2-29zm-45-26z"/><path stroke="#000000" d="M5150 1686zm0 39zm-5 15zm44 17zm15-14zm-9 73zm-7 64zm-182 5zm20 35zm-10 12zm-24 37zm-16-5zm-71 23zm-6-4zm11 22zm0 12zm7 14zm67 36zm94-85z"/><path stroke="#4a7cb3" d="M5203 1761zm1 7zm-9 5zm2 5zm-10 8zm20 7zm14-1zm3 0zm0-24zm1-3zm-7 4zm-7 42z"/><path stroke="#68ad57" d="M4966 1972zm-5 12zm-19 12zm7 20zm-5 6zm-8 1zm-10-5zm10 20zm27 0zm-3 8zm13-2zm4 0zm-3 21zm-7 2zm-11 7zm0-15zm-16 12zm-9-7zm56-61z"/><path stroke="#ef8632" d="M5049 1660zm10-1zm-7 22zm3 12zm25 34zm22 30zm-52 3zm-12 64zm-12 21zm38 5zm-3 10zm30 8zm47-56z"/><path stroke="#000000" d="M5004 1598zm1 37zm70-51zm131 157zm2 9zm-2 5zm16-5zm-36 35zm-37 30zm13 40zm-181 63zm10 68zm28-14zm-109 0zm-19-42zm87 133zm-22 26zm6 23z"/><path stroke="#4a7cb3" d="M5205 1766zm0 11zm-4-2zm-1 6zm0 6zm-5 6zm-5-9zm21 6zm9 0zm1-8zm1-2zm-4-2zm-1-8zm1-5zm2-1z"/><path stroke="#68ad57" d="M4951 1967zm1 50zm5-1zm-8 7zm12 9zm5 2zm4-2zm1-10zm17-19zm-9 65zm-7 10zm-36 2zm-7-24zm-9 6zm7-45z"/><path stroke="#ef8632" d="M5043 1635zm-19 110zm-4 46zm29-8zm35-19zm-5-13zm-8 72zm18-1zm15-12zm5-3zm5-10zm-37 43zm10 37zm-99-80z"/><path stroke="#000000" d="M5094 1651zm111 103zm5-2zm9-2zm1 0zm9 4zm1 19zm-10 40zm-252 65zm-38 55zm-1 31zm-5 12zm61 50zm5 57zm-4 24zm-25 17zm-18-21zm6-8z"/><path stroke="#4a7cb3" d="M5200 1763zm5 10zm1 5zm-2 4zm-6-4zm0 11zm-5 2zm9 2zm-1 12zm8-1zm10-17zm5-1zm2-2zm-7-5zm-3 0zm1-4zm-6 1zm5-15zm1-1zm14 32z"/><path stroke="#68ad57" d="M4962 1969zm-5 35zm-9 14zm-2 13zm9 8zm2 12zm-15-7zm-24 3zm5-27zm14-12zm28 17zm25-19zm-26 75z"/><path stroke="#ef8632" d="M4951 1763zm86-8zm19-5zm17-34zm41 30zm-43 42zm-37 1zm2 26zm36 58zm17-9zm52-6zm-111 98z"/><path stroke="#000000" d="M4976 1618zm28 30zm-65 17zm57 189zm-22 63zm-15 13zm26 24zm40-34zm-35 154zm-98 9zm17-59zm295-190zm4-82zm3-13zm-5-1zm-11 17zm-16 10zm-6-32z"/><path stroke="#4a7cb3" d="M5197 1769zm11 4zm5 4zm8 4zm5-8zm0-9zm2 26zm-6 9zm-1 6zm-7-10zm-6-1zm-2-1zm3 6z"/><path stroke="#68ad57" d="M4954 1979zm3 9zm-1 6zm18 3zm5 4zm12 6zm-29 7zm-18 3zm3 32zm5 6zm9 2zm-23 0zm0-4zm10 23zm-27 0zm41-103z"/><path stroke="#ef8632" d="M5057 1701zm12 3zm0 18zm6-5zm-5 41zm-17 6zm-8-19zm34 29zm22 64zm34-28zm-93 15zm-13-3zm-65-13zm111 91zm37-201z"/><path stroke="#000000" d="M4956 1630zm-4 57zm-6 66zm46 81zm-28 71zm-28 44zm-24 64zm60 83zm65-49zm93-120zm4-163zm56-9zm43 6zm8-10zm-6 43zm-44 11zm29-94zm-67-57zm-19-114zm-11-22z"/><path stroke="#4a7cb3" d="M5201 1773zm6 1zm0-4zm4 7zm-8 1zm-1 3zm1 18zm5 4zm11-5zm4-2zm5 2zm-2-13zm-7-14zm9-8zm-36 27z"/><path stroke="#68ad57" d="M4942 1986zm5 8zm2 7zm3 2zm9-13zm5-7zm11 8zm-3 4zm-2 11zm7 7zm-2 6zm6 5zm-13 20zm-4 25zm-34 0zm2-12zm-13-1zm-1 24zm18-62z"/><path stroke="#ef8632" d="M5026 1697zm41-8zm-13 137zm26 5zm48-5zm-67 54zm3 23zm4 20zm-12 27z"/></g></g><rect class="ax" x="1199.09" y="386.05" width="140.3" height="163.67"/>
<g clip-path="url(#c2_9)"><g transform="scale(.25)"><path stroke="#4a7cb3" d="M5626 1656zm30 47zm3 5zm11 18zm-4 40zm-32 14zm-42 3zm-24-14zm-44 14zm99 60zm17 0zm20 2zm1 14zm20-40zm49-53zm54-1zm13-1zm-2 8zm4 3zm1 7zm-4 0zm-6 1zm-4 5zm8 5zm-1 3zm7-5zm8 3zm2 2zm2 3zm2-2zm-4-9zm-4 17zm10 9zm7-2zm-3-41zm-1-8zm-25-7zm-5-8zm-12 34zm-56-139zm-110 236z"/><path stroke="#ef8632" d="M5482 1976zm47 2zm0 3zm15 6zm-19 17zm-5 11zm35 4zm21 6zm2-14zm-12 29zm-40 23zm-7 18zm2 8zm26 13zm35-5zm110-27zm-15-32zm-34-58zm32-35zm24 10zm-146 4z"/><path stroke="#4a7cb3" d="M5562 1620zm26 123zm1 29zm52 0zm-18 28zm-66 1zm103 31zm23 11zm-14 15zm32 12zm41-23zm-25-28zm74-9zm6-5zm5-5zm-6-4zm1-4zm-4-9zm-2 1zm-8-7zm0-9zm16 3zm2-8zm0-4zm8 11zm-3 8zm9-2zm1 11zm-4 2zm7 2zm-8 22zm-17 15zm-7 7zm21-93zm14 9zm-49-43zm-78-34zm-10-21zm-16 90z"/><path stroke="#ef8632" d="M5519 1889zm10 58zm-8 10zm3 8zm10 39zm22-1zm1-1zm-3 32zm-11-2zm0 9zm-2 1zm-19 6zm-3 1zm-21 4zm12-34zm27 49zm21-16zm0 35zm17 27zm95-13zm1-171zm8-17zm31 39zm-82-20z"/><path stroke="#4a7cb3" d="M5584 1693zm38 5zm-3 18zm-8 28zm34 16zm30-20zm12-24zm-9-67zm-8-19zm33 154zm81 5zm2 3zm7-4zm4 4zm3-7zm3-3zm9-1zm-2-6zm-4-11zm-3 2zm1-10zm-9 21zm-7-4zm-5-6zm-5 33zm13 3zm4-1zm2 1zm20 0zm-49 21zm21 26zm-104 10zm21 31zm-61-51zm-17 9zm-2-29zm-45-26z"/><path stroke="#ef8632" d="M5494 1973zm-1 28zm8-3zm21-8zm7 17zm11 0zm3 5zm4 24zm3 22zm-2 12zm-7-3zm-4-1zm-11-7zm-1 17zm6 3zm41-2zm18-16zm2-17zm12-28zm-27-4zm-24-35zm-23-19zm42-49zm132 22zm-171 197z"/><path stroke="#4a7cb3" d="M5640 1660zm10-1zm-8 22zm3 12zm25 34zm22 30zm-52 3zm-12 64zm-11 21zm37 5zm-2 10zm30 8zm46-56zm57 4zm16-5zm-4-18zm14-1zm3 0zm0-24zm1-3zm-7 4zm-14-1zm-1-7zm-14-4zm6 16zm3 5zm-10 8zm16-43zm-59-3zm5-15zm1-39zm37 194z"/><path stroke="#ef8632" d="M5489 1983zm6 4zm6 18zm0 12zm15 1zm11 5zm7-1zm5-6zm-7-20zm19-12zm5-12zm10-8zm16 5zm-4 34zm-11 41zm-4 0zm-13 2zm3-8zm-27 0zm-19-7zm14 33zm10 7zm16 3zm-1-15zm11 8zm8-2zm9 2zm32-135zm11-12zm-21-35zm72 97z"/><path stroke="#4a7cb3" d="M5595 1598zm0 37zm38 0zm-18 110zm-4 46zm28-8zm36-19zm-5-13zm-8 72zm18-1zm15-12zm4-3zm6-10zm34 18zm14 40zm24-70zm4-1zm9 3zm0-6zm2-6zm4 2zm0-11zm1-11zm1-5zm-2-9zm16 9zm-2 14zm-2 1zm-1 5zm1 8zm4 2zm-1 2zm-1 8zm-8 0zm-16 3zm-119 47zm11 37zm-99-80z"/><path stroke="#ef8632" d="M5482 1930zm18 42zm41-5zm1 50zm6-1zm-8 7zm12 9zm4 2zm4-2zm1-10zm17-19zm4-17zm27-14zm-38-54zm-3 145zm1 5zm-6 10zm-17 11zm-19-9zm-8-24zm-9 6zm8-45zm34 95z"/><path stroke="#68ad57" d="M5666 1584z"/><path stroke="#4a7cb3" d="M5541 1763zm87-8zm19-5zm17-34zm40 30zm-43 42zm-37 1zm2 26zm36 58zm17-9zm52-6zm61-53zm7-1zm-7-11zm-3-4zm-5 2zm4-13zm8 0zm0-5zm6 3zm5-1zm0 4zm2 0zm0 8zm5-1zm2-2zm5 8zm0-19zm-1-19zm-10-4zm-1 0zm-8 2zm-6 2zm-5 9zm16-2zm1-1zm-13 22zm16 31zm-126-162z"/><path stroke="#ef8632" d="M5559 1878zm-39 55zm0 31zm-5 12zm37-7zm-5 35zm-8 14zm-2 13zm8 8zm2 12zm-14-7zm-24 3zm4-27zm14-12zm29 17zm19 1zm6-20zm-1 77zm-4 24zm-24 17zm-18-21zm6-8zm14-14zm66-125z"/><path stroke="#4a7cb3" d="M5566 1618zm29 30zm-66 17zm118 36zm12 3zm1 18zm5-5zm-5 41zm-17 6zm-8-19zm34 29zm22 64zm34-28zm74-11zm-1-5zm-2-1zm8 2zm8 4zm-1 6zm7-15zm-7-9zm-8-4zm-4-4zm-11-4zm-3-14zm13-3zm3-13zm-5-1zm-32-5zm6 32zm46-1zm0 9zm-22 61zm-162-9zm-13-3zm-33 32zm-32-45zm148-110z"/><path stroke="#ef8632" d="M5549 1930zm15-13zm11 37zm-23 19zm-8 6zm4 9zm-2 6zm18 3zm5 4zm13 6zm-30 7zm-18 3zm3 32zm6 6zm9 2zm-24 0zm0-4zm11 23zm-28 0zm-29 7zm17-59zm81 50zm35-154zm50-20z"/><path stroke="#4a7cb3" d="M5546 1630zm-4 57zm-6 66zm46 81zm62-8zm26 5zm48-5zm6-62zm57-9zm11 18zm5 1zm0-4zm-3 8zm-2 3zm9-4zm9-6zm8-8zm6-2zm7-10zm-6 43zm-7 4zm-5-2zm-4 2zm-15 1zm4 4zm-17 2zm1-15zm34-5zm-6-74zm-67-57zm-85 35zm-42 8zm35 183z"/><path stroke="#ef8632" d="M5555 1905zm-29 44zm7 37zm4 8zm2 7zm3 2zm10-13zm4-7zm11 8zm-3 4zm-2 11zm7 7zm-2 6zm6 5zm-13 20zm-4 25zm6 27zm-40-27zm2-12zm-13-1zm-1 24zm-8-67zm27 5zm98 29zm19-97zm12-27zm-3-20zm66 24z"/><path stroke="#68ad57" d="M5713 1518zm12 22z"/></g></g><rect class="ax" x="1346.6" y="386.05" width="140.3" height="163.67"/>
<g clip-path="url(#c2_10)"><g transform="scale(.25)"><path stroke="#68ad57" d="M6073 1976zm46 2zm0 3zm15 6zm-19 17zm-4 11zm34 4zm21 6zm2-14zm-12 29zm-40 23zm-7 18zm2 8zm26 13zm35-5zm-29-138z"/><path stroke="#ef8632" d="M6379 1748zm5 8zm3 8zm-2 8zm4 3zm2 7zm-5 0zm-6 1zm-4 5zm9 5zm-2 3zm7-5zm9 3zm1 2zm2 3zm2-2zm-4-9zm-3 17zm9 9zm8-2zm-3-41zm-1-8zm-36 2zm-7 17z"/><path stroke="#4a7cb3" d="M6216 1656zm31 47zm3 5zm10 18zm-4 40zm-32 14zm-42 3zm-24-14zm-44 14zm99 60zm17 0zm20 2zm1 14zm20-40zm49-53zm-9-123zm-22 312zm-24-10zm-31 35zm33 58zm15 32zm-81-191z"/><path stroke="#68ad57" d="M6119 1947zm-8 10zm3 8zm10 39zm22-1zm2-1zm-4 32zm-11-2zm0 9zm-2 1zm-19 6zm-3 1zm-21 4zm12-34zm27 49zm21-16zm0 35zm17 27z"/><path stroke="#ef8632" d="M6398 1742zm14 9zm-21 8zm0 4zm-2 8zm10-1zm-2 8zm8-2zm1 11zm-4 2zm8 2zm-23 1zm-1 4zm1 9zm5-5zm-11 10zm3 18zm-6 7zm24-22zm-19-30zm-1 1zm-9-7zm1-9z"/><path stroke="#4a7cb3" d="M6153 1620zm25 123zm1 29zm52 0zm-18 28zm-66 1zm-38 88zm109 43zm44-2zm7-17zm-9-55zm14-15zm-23-11zm56-13zm26 28zm-42 23zm9 82zm-40 149zm-1-358zm27-69zm-10-21zm87 55z"/><path stroke="#68ad57" d="M6084 1973zm-1 28zm8-3zm21-8zm7 17zm12 0zm3 5zm3 24zm4 22zm-2 12zm-8-3zm-4-1zm-10-7zm-2 17zm6 3zm41-2zm19-16zm2-17zm12-28zm-27-4zm-25-35zm-23-19zm3 170z"/><path stroke="#ef8632" d="M6373 1767zm6 6zm6 4zm-2 11zm5 4zm2-7zm4-3zm8-1zm-2-6zm-4-11zm-3 2zm1-10zm-20 33zm2 3zm5 11zm4-1zm2 1zm20 0zm-39-3z"/><path stroke="#4a7cb3" d="M6174 1693zm39 5zm-4 18zm-7 28zm33 16zm30-20zm12-24zm-9-67zm-8-19zm33 154zm-18 76zm22 31zm-3 40zm-59-91zm-17 9zm-2-29zm-45-26zm-9 115zm217-59zm-20-26z"/><path stroke="#68ad57" d="M6080 1983zm5 4zm6 18zm0 12zm16 1zm10 5zm7-1zm5-6zm-7-20zm19-12zm5-12zm10-8zm16 5zm-4 34zm-11 41zm-3 0zm-14 2zm3-8zm-6 21zm0 15zm10-7zm8-2zm9 2zm-43 4zm-10-7zm5-26zm-19-7z"/><path stroke="#ef8632" d="M6369 1757zm15 4zm0 7zm-9 5zm3 5zm-10 8zm19 7zm14-1zm3 0zm1-24zm1-3zm-7 4zm-14-26zm7 68zm-16 5z"/><path stroke="#4a7cb3" d="M6230 1660zm10-1zm-8 22zm3 12zm25 34zm22 30zm-52 3zm-12 64zm-11 21zm37 5zm-2 10zm30 8zm46-56zm8-72zm5-15zm0-39zm37 194zm-182 5zm21 35zm-10 12zm61 50z"/><path stroke="#68ad57" d="M6072 1930zm18 42zm42-5zm0 50zm6-1zm-8 7zm12 9zm5 2zm3-2zm2-10zm17-19zm3-17zm-14 77zm2 5zm-7 10zm-17 11zm-19-9zm-7-24zm-10 6zm8-45zm34 95z"/><path stroke="#ef8632" d="M6386 1741zm2 9zm-1 5zm-1 11zm0 11zm-4-2zm-1 6zm0 6zm-5 6zm-5-9zm-4 1zm25 5zm8 0zm1-8zm1-2zm-4-2zm-1-8zm1-5zm3-1zm1-14z"/><path stroke="#4a7cb3" d="M6185 1598zm1 37zm37 0zm33-51zm4 167zm5 13zm-36 19zm-28 8zm-32 6zm36-52zm47 78zm18-1zm15-12zm4-3zm6-10zm34 18zm14 40zm-75 22zm-11-37zm-95 78zm37 54z"/><path stroke="#68ad57" d="M6110 1933zm0 31zm-5 12zm37-7zm-4 35zm-9 14zm-2 13zm9 8zm2 12zm-15-7zm-24 3zm4-27zm15-12zm28 17zm20 1zm5-20zm-1 77zm-3 24zm-25 17zm-18-21zm6-8zm14-14z"/><path stroke="#ef8632" d="M6385 1754zm6-2zm8-2zm2 0zm-3 10zm-1 1zm0 14zm0 4zm3 0zm-1 8zm6-1zm2-2zm5 8zm-1-19zm-1-19zm-30 9zm6 10zm0 5zm-1 4zm-7-4zm1 11zm-5 2zm8 2zm0 12zm8-1zm10 9zm-8-37z"/><path stroke="#4a7cb3" d="M6131 1763zm87-8zm19-5zm17-34zm40 30zm-43 42zm-37 1zm2 26zm36 58zm17-9zm52-6zm-172 20zm61 78zm65-305z"/><path stroke="#68ad57" d="M6140 1930zm2 43zm-8 6zm4 9zm-1 6zm18 3zm4 4zm13 6zm-30 7zm-18 3zm4 32zm5 6zm9 2zm-24 0zm1-4zm10 23zm-27 0zm-29 7zm17-59zm81 50zm-6-120z"/><path stroke="#ef8632" d="M6360 1765zm18 4zm11 4zm5 4zm7 4zm5-8zm0-9zm2 26zm-6 9zm0 6zm-12-6zm-2-5zm-1-1zm7 2zm-9 39zm3-82zm-1-14zm4 1zm-16 16z"/><path stroke="#4a7cb3" d="M6156 1618zm29 30zm-65 17zm117 36zm12 3zm1 18zm5-5zm-5 41zm-16 6zm-9-19zm34 29zm22 64zm35-28zm-94 15zm-13-3zm-32 32zm-32-45zm9 108zm52 3zm50-20zm37-201zm61 34z"/><path stroke="#68ad57" d="M6116 1949zm7 37zm4 8zm2 7zm3 2zm10-13zm5-7zm10 8zm-3 4zm-2 11zm8 7zm-3 6zm7 5zm-13 20zm-5 25zm6 27zm-40-27zm3-12zm-14-1zm-1 24zm-7-67zm26 5z"/><path stroke="#ef8632" d="M6401 1711zm7 52zm6-2zm7-10zm-21 20zm-13-1zm0 4zm-5-1zm2 5zm-2 3zm9-4zm15 8zm-3 11zm-3 2zm9 0zm6-4zm-31 5zm4 4zm-16 2zm0-15zm-1-35z"/><path stroke="#4a7cb3" d="M6137 1630zm-5 57zm-6 66zm47 81zm62-8zm25 5zm48-5zm7-62zm18-110zm-85 35zm-42 8zm36 183zm3 23zm3 20zm-11 27zm74-23zm-166-22zm72 142zm98-507zm-12-22z"/></g></g><rect class="ax" x="1494.11" y="386.05" width="140.3" height="163.67"/>
<g clip-path="url(#c3_0)"><g transform="scale(.25)"><path stroke="#68ad57" d="M152 2339zm87-19zm9-20zm-31-5zm39 51zm19 4zm3 5zm1 21zm9-3zm11-9zm-5 29zm-8 10zm1 12zm9 1zm11 17zm7 1zm-3 7zm19 0zm-87 7zm3 23zm-19-5zm0-7zm-7-26zm-1-4z"/><path stroke="#4a7cb3" d="M260 2544zm0 13zm7 14zm39-2zm-2 17zm7-1zm-1 53zm47 59zm16-113zm-15-30zm-5-30zm-16-24zm-10-4zm-49 41zm153-10z"/><path stroke="#ef8632" d="M436 2558zm-3 20zm23-6zm15 32zm3 14zm-2 13zm-7 0zm24 12zm0 10zm12 16zm-6 7zm-1 3zm14 13zm26-7zm0 36zm2 12zm6 10zm-1 12zm10 5zm3 0zm-8-46zm33 103zm19 23z"/><path stroke="#68ad57" d="M204 2232zm41 89zm-5 9zm12 8zm-15 13zm44-8zm10 20zm0 19zm-10-5zm-4 3zm28 45zm10 22zm-75 28zm-25 2zm-1-25zm-9-50zm-2-16zm-7-2z"/><path stroke="#4a7cb3" d="M243 2512zm3 3zm25 1zm1 2zm-4 14zm2 11zm2 2zm12 11zm-6 15zm21 17zm18 49zm50-52zm-9-54zm-3-35zm-23-7zm1-3zm3-8zm-2-17zm-14-12zm-12 9zm34-18zm14 268z"/><path stroke="#ef8632" d="M438 2566zm7 21zm34-4zm-2 22zm6 12zm1 13zm-7 9zm4 6zm30 21zm3 15zm-12 4zm0 4zm1 23zm11 6zm9 5zm17 8zm9 10zm15 25zm0 30zm-34-24zm-10-3zm16-63zm-8-44z"/><path stroke="#68ad57" d="M232 2290zm23 32zm2 7zm1 10zm-6 5zm24-8zm-8-17zm13 55zm14 6zm-1 5zm-11 8zm-12 9zm19 9zm8 7zm21 13zm-104 2zm-5-30zm-19 3zm-10-11zm-14-38zm67 113zm18 3z"/><path stroke="#4a7cb3" d="M251 2493zm6 11zm1 35zm17 6zm-10 15zm12 9zm-2 7zm8 1zm9 6zm3 13zm11-27zm-2 80zm28 2zm12-9zm6 20zm1-147zm13-12zm-20-9zm-32-7zm13-27z"/><path stroke="#ef8632" d="M435 2561zm23 38zm4 28zm-7 6zm16 9zm9-8zm11-1zm6 6zm-10 20zm15 16zm7 4zm-6 7zm-7 6zm10 11zm7 12zm19-6zm-11-23zm-38-78zm56 207zm30-26z"/><path stroke="#68ad57" d="M166 2362zm10 17zm17 35zm6 17zm17 32zm7 0zm10-3zm21 12zm-1 8zm42-39zm4 1zm7-7zm-1-4zm23-1zm0-4zm-9-22zm-12 3zm-27 0zm3-7zm2-3zm3-24zm-10-4zm-11-34zm-5-9zm0-6zm-5-7z"/><path stroke="#4a7cb3" d="M240 2488zm9 13zm5 2zm-7 6zm7 28zm17 27zm14 0zm0-5zm2 17zm16 12zm5 6zm-2 15zm10 11zm14 20zm-35-41zm6-43zm-12-40zm52 0zm-2-50zm-15-4zm-60 17zm118 63zm31-26zm29 18z"/><path stroke="#ef8632" d="M447 2583zm11-1zm2 26zm7-4zm-27-11zm69 69zm15 13zm2 7zm-24 3zm-8 22zm47 29zm9 13zm-16 4z"/><path stroke="#68ad57" d="M127 2272zm99-6zm-8-22zm30 50zm7-4zm5 52zm-9 2zm17 21zm14 17zm11 5zm6 11zm5 24zm6 13zm4-1zm6 5zm1 2zm2-2zm-50-32zm-42 30zm-7 27zm-49-98z"/><path stroke="#4a7cb3" d="M237 2512zm10 9zm11-8zm1-3zm7 9zm14 29zm8 5zm0 8zm4 4zm11-7zm-5-18zm-28 29zm60 4zm-10 51zm0 10zm4-2zm-1 30zm-20-43zm59-111zm7-10zm-1-7zm-22-16zm-22-11zm120 72z"/><path stroke="#ef8632" d="M437 2588zm10 12zm14-22zm0-7zm8 45zm3 13zm-2 13zm12-6zm18-14zm4 27zm6 6zm-3 5zm12 27zm-7 8zm19 10zm0 4zm6 20z"/><path stroke="#68ad57" d="M223 2297zm57 45zm2 20zm-2 7zm-5 5zm-18 1zm-10 2zm23-19zm12 32zm14 12zm15 8zm4 40zm-68 10zm-14 9zm-14-10zm8 29zm-29-88zm0-8z"/><path stroke="#4a7cb3" d="M254 2504zm5-2zm-1 17zm1 11zm16 17zm7-1zm2 22zm23-2zm3 19zm-1 37zm-13-7zm-4 1zm36 62zm19-4zm8 27zm-5-208zm-28-35zm-14 7z"/><path stroke="#ef8632" d="M455 2568zm-3 9zm18 9zm-9 23zm2 23zm15-7zm17 6zm2 1zm-2-15zm-3-6zm-7 31zm-2 3zm-8 0zm23 11zm-9 12zm23 6zm3 10zm8 10zm-23 5zm30 16zm-9 12zm24 6zm2 0zm1-14zm-22-57zm45 115zm-10 15z"/><path stroke="#68ad57" d="M195 2232zm11 2zm23 38zm11 61zm30 9zm7 10zm-5 5zm9 6zm2 1zm-2 10zm-2 15zm10-5zm11-2zm-3 17zm-10 1zm-19 1zm0-19zm4 53zm10-5zm16 11zm-48 26zm1 12zm-10-20zm-39-20zm7 51zm14-89z"/><path stroke="#4a7cb3" d="M252 2484zm-5 52zm12-1zm1 4zm9 7zm2-22zm8 0zm9 14zm-8 27zm5 22zm8-3zm16-14zm13-102zm2-16zm18-4zm-5 14zm58 42zm33 29zm14-5zm-99 135z"/><path stroke="#ef8632" d="M456 2547zm6 27zm-11 10zm35 51zm17 29zm-2 20zm6 9zm8 18zm9 7zm5-13zm5-5zm-8-24zm25 84zm8-2zm-3 17zm-17 19z"/><path stroke="#68ad57" d="M197 2226zm10 28zm11 33zm50 1zm11 21zm-28 7zm22 27zm-12 25zm-1 19zm54 1zm-19 22zm15 23zm0 13zm17-10zm-99 11zm11 20zm6 13zm-5 6zm-40-57zm0-46z"/><path stroke="#4a7cb3" d="M251 2490zm7 0zm3-2zm-26 18zm11 31zm9-5zm3 13zm23-13zm-1-12zm-2 0zm17 35zm0 5zm4 22zm8-3zm-2 29zm24 51zm2-137zm28 3zm5-54zm-28-5zm-13 9zm-1 7zm-5-21zm99 56z"/><path stroke="#ef8632" d="M466 2611zm-9 10zm21 1zm0 11zm-2 2zm7-1zm15 23zm17 15zm16 10zm14 16zm9-2zm-6 40zm-5 11zm8 8zm18 27zm14 12zm-66-74zm-17-28zm-29-30z"/></g></g><rect class="ax" x="18.2" y="551.32" width="140.3" height="163.67"/>
<g clip-path="url(#c3_1)"><g transform="scale(.25)"><path stroke="#ef8632" d="M743 2339zm86-19zm9-20zm-30-5zm38 51zm19 4zm3 5zm1 21zm9-3zm11-9zm-5 29zm-8 10zm1 12zm9 1zm12 17zm6 1zm-3 7zm19 0zm-3 55zm10 4zm16 24zm5 30zm-52 15zm-2 17zm7-1zm-1 53zm-43-67zm-7-14zm0-13zm18-7zm-32-66zm-19-5zm1-7zm16-11zm-24-15zm-1-4z"/><path stroke="#4a7cb3" d="M963 2584zm60-6zm3-20zm20 14zm16 32zm2 14zm-2 13zm-6 0zm23 12zm0 10zm12 16zm-6 7zm-1 3zm15 13zm25-7zm0 36zm2 12zm6 10zm0 12zm10 5zm2 0zm-8-46zm33 103zm19 23zm-241-143zm74-170z"/><path stroke="#ef8632" d="M795 2232zm40 89zm-5 9zm12 8zm-15 13zm44-8zm10 20zm0 19zm-10-5zm-4 3zm28 45zm11 22zm5 2zm-13 9zm26 3zm2 17zm-3 8zm-1 3zm23 7zm3 35zm-90 1zm2 11zm2 2zm12 11zm-6 15zm21 17zm-26-70zm-2-2zm-25-1zm-3-3zm-3-37zm-25 2zm-1-25zm-9-50zm-2-16zm-6-2zm146 56z"/><path stroke="#4a7cb3" d="M958 2585zm77 2zm-7-21zm41 17zm-1 22zm5 12zm1 13zm-7 9zm5 6zm30 21zm2 15zm-12 4zm0 4zm2 23zm10 6zm9 5zm18 8zm8 10zm15 25zm0 30zm-34-24zm-9-3zm15-63zm-7-44zm-172 46zm-39-71z"/><path stroke="#ef8632" d="M822 2290zm23 32zm2 7zm2 10zm-7 5zm24-8zm-8-17zm13 55zm14 6zm-1 5zm-11 8zm-12 9zm19 9zm8 7zm21 13zm6 29zm-13 27zm32 7zm7 21zm14-12zm-107 1zm-7-11zm2-20zm-18-3zm-19-37zm-6-30zm-19 3zm-10-11zm-14-38zm92 182zm16 6zm-10 15zm13 9zm-2 7zm7 1zm9 6zm4 13zm10-27z"/><path stroke="#4a7cb3" d="M895 2649zm28 2zm11-9zm6 20zm106-29zm6-6zm9 15zm9-8zm12-1zm6 6zm-11 20zm16 16zm6 4zm-6 7zm-7 6zm10 11zm8 12zm19-6zm-12-23zm-38-78zm-25-9zm-22-38zm103 254zm30-26z"/><path stroke="#ef8632" d="M756 2362zm11 17zm17 35zm6 17zm16 32zm7 0zm10-3zm21 12zm0 8zm10-1zm-24 9zm10 13zm4 2zm-7 6zm7 28zm17 27zm14 0zm0-5zm2 17zm16 12zm5 6zm-1 15zm9 11zm-20-21zm5-43zm-12-40zm52 0zm-2-50zm-14-4zm3-32zm0-4zm-23 5zm1 4zm-7 7zm-3-1zm11-34zm13-3zm-37-4zm2-3zm-5 10zm-2-38zm10 4zm-21-38zm-4-9zm-1-6zm-5-7zm125 229z"/><path stroke="#4a7cb3" d="M1003 2516zm29 18zm5 49zm11-1zm2 26zm7-4zm-27-11zm70 69zm15 13zm1 7zm-24 3zm-8 22zm47 29zm9 13zm-16 4zm-203-113z"/><path stroke="#ef8632" d="M717 2272zm100-6zm-9-22zm30 50zm8-4zm5 52zm-10 2zm17 21zm15 17zm10 5zm6 11zm5 24zm7 13zm3-1zm6 5zm3 0zm-1 2zm3 23zm21 11zm22 16zm1 7zm-7 10zm-64 32zm-9 13zm-1 8zm4 4zm11-7zm-23-10zm-10 21zm-4-50zm-8-6zm1-3zm-12 11zm-10-9zm-13-48zm7-27zm42-30zm-98-41zm155 207zm-10 51zm-17-5z"/><path stroke="#4a7cb3" d="M910 2634zm4-2zm-1 30zm147-20zm2-13zm-3-13zm13 20zm18-14zm5 27zm5 6zm-3 5zm12 27zm-6 8zm18 10zm0 4zm6 20zm-90-129zm-10-12zm25-10zm-1-7zm-16-35z"/><path stroke="#ef8632" d="M813 2297zm57 45zm2 20zm-2 7zm-4 5zm-19 1zm-10 2zm23-19zm12 32zm14 12zm16 8zm3 40zm7 8zm-13 7zm-62-5zm-14 9zm-14-10zm8 29zm27 16zm6-2zm-1 17zm1 11zm15 17zm7-1zm2 22zm23-2zm4 19zm-2 37zm-12-7zm-4 1zm58-123zm-153-93zm1-8z"/><path stroke="#4a7cb3" d="M919 2678zm18-4zm8 27zm145-2zm23-5zm-7-10zm-4-10zm14-12zm-28-6zm-9 12zm-6-23zm2-3zm-10 3zm3-20zm-15 7zm-2-23zm9-23zm-18-9zm4-9zm36 43zm4 6zm-1 14zm2 1zm34 83zm-10 12zm24 6zm3 0zm1-14zm22 58zm-10 15z"/><path stroke="#ef8632" d="M785 2232zm11 2zm23 38zm11 61zm30 9zm7 10zm-5 5zm9 6zm2 1zm-2 10zm-1 15zm9-5zm12-2zm-3 17zm-10 1zm-19 1zm-1-19zm5 53zm10-5zm15 11zm26 11zm-2 16zm15-6zm6-14zm53 56zm-116 20zm-9 0zm-12 11zm1 4zm9 7zm20-8zm-9 27zm5 22zm8-3zm16-14zm-62-34zm5-52zm-1-5zm-1-12zm-9-8zm-39-20zm7 51zm14-89z"/><path stroke="#4a7cb3" d="M1018 2533zm15-5zm13 19zm6 27zm-11 10zm35 51zm17 29zm-2 20zm6 9zm8 18zm9 7zm6-13zm5-5zm-9-24zm26 84zm8-2zm-4 17zm-17 19zm-196-131z"/><path stroke="#ef8632" d="M788 2226zm9 28zm11 33zm51 1zm11 21zm-29 7zm22 27zm-12 25zm0 19zm53 1zm-19 22zm16 23zm-1 13zm7 15zm6 14zm-1 7zm15-16zm27 5zm-5 54zm-27-3zm-52-2zm-2 0zm3 12zm-26 0zm-9 5zm12 8zm37 10zm1 5zm3 22zm8-3zm-1 29zm-45-120zm-3 2zm-7 0zm-10-4zm5-6zm-7-13zm-10-20zm-29-18zm0-46zm36 123zm91-70z"/><path stroke="#4a7cb3" d="M1006 2517zm41 104zm10-10zm11 11zm0 11zm-2 2zm7-1zm15 23zm-26 5zm43 10zm16 10zm14 16zm9-2zm-5 40zm-6 11zm8 8zm18 27zm14 12zm-66-74zm-17-28zm-171-33z"/></g></g><rect class="ax" x="165.71" y="551.32" width="140.3" height="163.67"/>
<g clip-path="url(#c3_2)"><g transform="scale(.25)"><path stroke="#4a7cb3" d="M1333 2339zm87-19zm9-20zm-31-5zm38 51zm20 4zm3 5zm0 21zm9-3zm11-9zm-4 29zm-9 10zm1 12zm9 1zm12 17zm6 1zm-3 7zm20 0zm-4 55zm10 4zm16 24zm5 30zm16 30zm-63 1zm-7 1zm3-17zm-40 2zm-7-14zm0-13zm19-7zm-33-66zm-19-5zm1-7zm16-11zm-23-15zm-2-4zm92 209z"/><path stroke="#ef8632" d="M1612 2527zm4 31zm-2 20zm22-6zm16 32zm2 14zm-1 13zm-7 0zm24 12zm0 10zm11 16zm-6 7zm-1 3zm15 13zm25-7zm0 36zm3 12zm6 10zm-1 12zm10 5zm2 0zm-7-46zm32 103zm19 23zm-240-143z"/><path stroke="#4a7cb3" d="M1385 2232zm40 89zm-5 9zm12 8zm-15 13zm45-8zm10 20zm0 19zm-11-5zm-3 3zm27 45zm11 22zm5 2zm-13 9zm27 3zm2 17zm-4 8zm-1 3zm23 7zm4 35zm9 54zm-68 3zm-22-17zm6-15zm-11-11zm-2-2zm-3-11zm3-16zm2 2zm-27-3zm-3-3zm-3-37zm-24 2zm-2-25zm-8-50zm-3-16zm-6-2zm146 56zm-25 197z"/><path stroke="#ef8632" d="M1618 2566zm7 21zm35-4zm-2 22zm5 12zm1 13zm-7 9zm5 6zm30 21zm2 15zm-12 4zm0 4zm2 23zm11 6zm8 5zm18 8zm9 10zm15 25zm0 30zm-35-24zm-9-3zm15-63zm-7-44zm-172 46z"/><path stroke="#4a7cb3" d="M1413 2290zm23 32zm1 7zm2 10zm-7 5zm25-8zm-9-17zm14 55zm14 6zm-2 5zm-11 8zm-11 9zm19 9zm7 7zm21 13zm6 29zm-12 27zm31 7zm7 21zm14-12zm-107 1zm-7-11zm2-20zm-18-3zm-19-37zm-5-30zm-20 3zm-10-11zm-13-38zm91 182zm16 6zm-9 15zm12 9zm-2 7zm8 1zm9 6zm3 13zm10-27zm-1 80z"/><path stroke="#ef8632" d="M1513 2651zm11-9zm6 20zm106-29zm6-6zm9 15zm10-8zm11-1zm6 6zm-11 20zm16 16zm6 4zm-6 7zm-6 6zm9 11zm8 12zm19-6zm-12-23zm-38-78zm-25-9zm-22-38zm104 254zm30-26z"/><path stroke="#4a7cb3" d="M1346 2362zm11 17zm17 35zm6 17zm17 32zm6 0zm10-3zm22 12zm-1 8zm10-1zm-24 9zm10 13zm4 2zm-6 6zm6 28zm18 27zm13 0zm0-5zm2 17zm17 12zm5 6zm-2 15zm9 11zm15 20zm-35-41zm6-43zm-12-40zm52 0zm-2-50zm-15-4zm3-32zm0-4zm-22 5zm0 4zm-7 7zm-3-1zm11-34zm13-3zm-37-4zm2-3zm-5 10zm-1-38zm10 4zm-22-38zm-4-9zm0-6zm-6-7zm125 229zm31-26z"/><path stroke="#ef8632" d="M1622 2534zm5 49zm12-1zm1 26zm8-4zm-27-11zm69 69zm15 13zm1 7zm-23 3zm-9 22zm48 29zm9 13zm-17 4z"/><path stroke="#4a7cb3" d="M1307 2272zm100-6zm-8-22zm29 50zm8-4zm5 52zm-9 2zm17 21zm14 17zm11 5zm5 11zm5 24zm7 13zm3-1zm6 5zm3 0zm-1 2zm3 23zm21 11zm22 16zm1 7zm-7 10zm-64 32zm-9 13zm-1 8zm4 4zm11-7zm-23-10zm-9 21zm-4-50zm-9-6zm1-3zm-12 11zm-10-9zm-13-48zm7-27zm42-30zm-98-41zm155 207zm-10 51zm0 10zm4-2zm-1 30zm-20-43z"/><path stroke="#ef8632" d="M1625 2536zm16 35zm1 7zm-25 10zm10 12zm22 16zm3 13zm-2 13zm12-6zm18-14zm5 27zm5 6zm-3 5zm12 27zm-6 8zm18 10zm1 4zm5 20z"/><path stroke="#4a7cb3" d="M1403 2297zm58 45zm2 20zm-3 7zm-4 5zm-19 1zm-10 2zm24-19zm11 32zm15 12zm15 8zm3 40zm8 8zm-14 7zm-61-5zm-15 9zm-14-10zm8 29zm28 16zm5-2zm-1 17zm1 11zm15 17zm7-1zm3 22zm23-2zm3 19zm-1 37zm-13-7zm-4 1zm58-123zm-152-93zm0-8z"/><path stroke="#ef8632" d="M1509 2678zm19-4zm7 27zm145-2zm24-5zm-8-10zm-4-10zm14-12zm-28-6zm-9 12zm-5-23zm1-3zm-9 3zm2-20zm-14 7zm-2-23zm30 2zm4 6zm-1 14zm3 1zm-27-46zm-19-9zm4-9zm75 147zm-9 12zm23 6zm3 0zm1-14zm23 58zm-11 15z"/><path stroke="#4a7cb3" d="M1376 2232zm11 2zm22 38zm12 61zm29 9zm2 15zm6-5zm4 11zm2 1zm-3 10zm-1 15zm10-5zm11-2zm-3 17zm-10 1zm-19 1zm-1-19zm5 53zm10-5zm15 11zm26 11zm-1 16zm15-6zm5-14zm53 56zm-116 20zm-9 0zm-12 11zm1 4zm9 7zm20-8zm-9 27zm6 22zm8-3zm16-14zm-63-34zm6-52zm-1-5zm-2-12zm-9-8zm-39-20zm7 51zm15-89z"/><path stroke="#ef8632" d="M1609 2533zm14-5zm13 19zm6 27zm-11 10zm35 51zm18 29zm-3 20zm6 9zm9 18zm9 7zm5-13zm5-5zm-9-24zm26 84zm8-2zm-3 17zm-17 19zm-196-131z"/><path stroke="#4a7cb3" d="M1378 2226zm10 28zm10 33zm51 1zm11 21zm-28 7zm22 27zm-12 25zm-1 19zm53 1zm-19 22zm16 23zm-1 13zm7 15zm6 14zm-1 7zm15-16zm28 5zm-5 54zm-28-3zm-51-2zm-3 0zm4 12zm-27 0zm-8 5zm11 8zm37 10zm1 5zm3 22zm8-3zm-1 29zm-45-120zm-3 2zm-6 0zm-11-4zm5-6zm-7-13zm-10-20zm-28-18zm-1-46zm36 123zm91-70zm89 81z"/><path stroke="#ef8632" d="M1509 2659zm143 3zm4-27zm2-2zm6 1zm-6-12zm-21-1zm10-10zm31 46zm18 15zm15 10zm14 16zm10-2zm-6 40zm-6 11zm8 8zm18 27zm14 12zm-66-74zm-17-28z"/></g></g><rect class="ax" x="313.22" y="551.32" width="140.3" height="163.67"/>
<g clip-path="url(#c3_3)"><g transform="scale(.25)"><path stroke="#ef8632" d="M1923 2339zm67 90zm1 4zm7 26zm0 7zm18 5zm-2-23zm16 96zm1 13zm7 14zm39-2zm-2 17zm7-1zm-1 53zm47 59zm16-113zm-95-47z"/><path stroke="#4a7cb3" d="M1988 2295zm31 5zm-9 20zm17 26zm19 4zm3 5zm0 21zm9-3zm12-9zm-5 29zm-8 10zm1 12zm8 1zm12 17zm7 1zm-3 7zm19 0zm-4 55zm11 4zm16 24zm5 30z"/><path stroke="#68ad57" d="M2202 2527zm4 31zm-2 20zm22-6zm16 32zm3 14zm-2 13zm-7 0zm24 12zm0 10zm11 16zm-5 7zm-1 3zm14 13zm26-7zm-1 36zm3 12zm6 10zm-1 12zm10 5zm3 0zm-8-46zm33 103zm18 23z"/><path stroke="#ef8632" d="M1967 2384zm7 2zm2 16zm9 50zm1 25zm24-2zm4 37zm3 3zm24 1zm2 2zm-5 14zm3 11zm2 2zm12 11zm-6 15zm21 17zm18 49zm50-52zm-11 123z"/><path stroke="#4a7cb3" d="M1975 2232zm41 89zm-5 9zm12 8zm-15 13zm44-8zm10 20zm0 19zm-10-5zm-4 3zm28 45zm10 22zm5 2zm-12 9zm26 3zm2 17zm-4 8zm0 3zm22 7zm4 35zm-16-91z"/><path stroke="#68ad57" d="M2209 2566zm7 21zm34-4zm-2 22zm5 12zm2 13zm-8 9zm5 6zm30 21zm2 15zm-11 4zm-1 4zm2 23zm11 6zm9 5zm17 8zm9 10zm15 25zm0 30zm-34-24zm-10-3zm15-63zm-7-44z"/><path stroke="#ef8632" d="M1938 2357zm14 38zm9 11zm20-3zm5 30zm19 37zm18 3zm-1 20zm6 11zm1 35zm17 6zm-10 15zm12 9zm-2 7zm8 1zm9 6zm3 13zm11-27zm-2 80zm28 2zm12-9zm6 20z"/><path stroke="#4a7cb3" d="M2003 2290zm23 32zm2 7zm1 10zm-7 5zm25-8zm-9-17zm14 55zm14 6zm-2 5zm-10 8zm-12 9zm19 9zm7 7zm22 13zm5 29zm-12 27zm31 7zm7 21zm14-12z"/><path stroke="#68ad57" d="M2206 2561zm22 38zm5 28zm-7 6zm15 9zm10-8zm11-1zm6 6zm-10 20zm15 16zm6 4zm-5 7zm-7 6zm10 11zm7 12zm19-6zm-11-23zm-38-78zm56 207zm30-26z"/><path stroke="#ef8632" d="M1937 2362zm10 17zm17 35zm6 17zm17 32zm7 0zm10-3zm21 12zm-1 8zm11-1zm-10 24zm-5-2zm-2 8zm-8-21zm15 49zm17 27zm13 0zm1-5zm1 17zm17 12zm5 6zm-2 15zm10 11zm14 20zm-35-41zm6-43zm-12-40z"/><path stroke="#4a7cb3" d="M2027 2313zm6 7zm0 6zm4 9zm12 34zm10 4zm-3 24zm-2 3zm-4 7zm28 0zm12-3zm8 22zm1 4zm-23 1zm1 4zm-8 7zm-3-1zm29 21zm15 4zm2 50zm41 26z"/><path stroke="#68ad57" d="M2184 2516zm28 18zm5 49zm12-1zm2 26zm7-4zm-27-11zm69 69zm15 13zm1 7zm-23 3zm-8 22zm47 29zm9 13zm-17 4z"/><path stroke="#ef8632" d="M1946 2366zm56 71zm-7 27zm13 48zm9 9zm12-8zm0-3zm8 9zm13 29zm9 5zm0 8zm4 4zm10-7zm-4-18zm-28 29zm60 4zm-10 51zm-1 10zm5-2zm-2 30zm-20-43z"/><path stroke="#4a7cb3" d="M1897 2272zm100-6zm-8-22zm30 50zm7-4zm5 52zm-9 2zm17 21zm14 17zm11 5zm5 11zm6 24zm6 13zm3-1zm6 5zm3 0zm-1 2zm3 23zm22 11zm21 16zm2 7zm-7 10zm-90-101z"/><path stroke="#68ad57" d="M2215 2536zm17 35zm0 7zm-24 10zm10 12zm21 16zm3 13zm-1 13zm11-6zm19-14zm4 27zm6 6zm-3 5zm11 27zm-6 8zm18 10zm1 4zm6 20z"/><path stroke="#ef8632" d="M1969 2392zm0 8zm21 59zm14 10zm14-9zm-20 28zm27 16zm5-2zm-1 17zm1 11zm15 17zm8-1zm2 22zm23-2zm3 19zm-1 37zm-13-7zm-4 1zm36 62zm19-4zm8 27z"/><path stroke="#4a7cb3" d="M1993 2297zm58 45zm2 20zm-3 7zm-4 5zm-18 1zm-10 2zm23-19zm12 32zm14 12zm15 8zm3 40zm8 8zm-14 7zm42 28z"/><path stroke="#68ad57" d="M2226 2568zm-4 9zm19 9zm-9 23zm2 23zm14-7zm-2 20zm8 0zm1-3zm11-11zm2 1zm-2-15zm-4-6zm7 45zm-10 12zm24 6zm3 10zm8 10zm7 21zm-9 12zm23 6zm3 0zm1-14zm-49-20zm26-37zm46 115zm-10 15z"/><path stroke="#ef8632" d="M1994 2401zm-21 38zm7 51zm43-6zm-1-5zm-2-12zm-8-8zm5 77zm12-1zm2 4zm8 7zm3-22zm8 0zm9 14zm-9 27zm6 22zm8-3zm16-14zm34 93z"/><path stroke="#4a7cb3" d="M1966 2232zm11 2zm22 38zm12 61zm29 9zm8 10zm-5 5zm9 6zm2 1zm-2 10zm-2 15zm10-5zm11-2zm-3 17zm-10 1zm-19 1zm-1-19zm5 53zm10-5zm16 11zm25 11zm-1 16zm15-6zm5-14zm53 56z"/><path stroke="#68ad57" d="M2199 2533zm14-5zm13 19zm7 27zm-11 10zm34 51zm18 29zm-2 20zm6 9zm8 18zm9 7zm5-13zm5-5zm-8-24zm25 84zm8-2zm-3 17zm-17 19z"/><path stroke="#ef8632" d="M1971 2383zm0 46zm28 18zm11 20zm6 13zm-5 6zm11 4zm7 0zm3-2zm-26 18zm11 31zm8-5zm4 13zm23-13zm-1-12zm-2 0zm17 35zm0 5zm3 22zm8-3zm-1 29zm23 51z"/><path stroke="#4a7cb3" d="M1968 2226zm10 28zm10 33zm51 1zm11 21zm-28 7zm22 27zm-12 25zm-1 19zm54 1zm-20 22zm16 23zm0 13zm6 15zm7 14zm-1 7zm14-16zm28 5zm-5 54zm-28-3zm-4-86z"/><path stroke="#68ad57" d="M2186 2517zm41 104zm10-10zm12 11zm0 11zm-2 2zm7-1zm14 23zm-26 5zm44 10zm15 10zm15 16zm9-2zm-6 40zm-5 11zm8 8zm17 27zm14 12zm-65-74zm-17-28z"/></g></g><rect class="ax" x="460.73" y="551.32" width="141.1" height="163.67"/>
<g clip-path="url(#c3_4)"><g transform="scale(.25)"><path stroke="#ef8632" d="M2580 2429zm1 4zm8 26zm-1 7zm19 5zm-3-23zm68-7zm3-7zm-7-1zm23 8zm-3 55zm10 4zm16 24zm5 30zm15 30zm-62 1zm-7 1zm2-17zm-39 2zm-7-14zm0-13zm18-7zm32 101zm47 59z"/><path stroke="#4a7cb3" d="M2792 2527zm5 31zm-3 20zm23-6zm15 32zm3 14zm-2 13zm-6 0zm23 12zm0 10zm12 16zm-6 7zm-1 3zm15 13zm25-7zm0 36zm2 12zm6 10zm0 12zm10 5zm2 0zm-8-46zm33 103zm19 23z"/><path stroke="#68ad57" d="M2513 2339zm87-19zm9-20zm-31-5zm39 51zm19 4zm3 5zm1 21zm9-3zm11-9zm-5 29zm-8 10zm1 12zm9 1z"/><path stroke="#ef8632" d="M2575 2452zm1 25zm25-2zm3 37zm3 3zm25 1zm1 2zm-4 14zm2 11zm2 2zm12 11zm-6 15zm21 17zm18 49zm50-52zm-9-54zm-3-35zm-23-7zm1-3zm3-8zm-2-17zm-14-12zm-5-2zm-7 11zm-3-33zm37 15zm14 268z"/><path stroke="#4a7cb3" d="M2799 2566zm7 21zm34-4zm-2 22zm6 12zm1 13zm-7 9zm5 6zm29 21zm3 15zm-12 4zm0 4zm1 23zm11 6zm9 5zm17 8zm9 10zm15 25zm0 30zm-34-24zm-10-3zm16-63zm-8-44z"/><path stroke="#68ad57" d="M2566 2232zm40 89zm-5 9zm12 8zm-15 13zm44-8zm10 20zm0 19zm-10-5zm-4 3zm-74 6zm-6-2zm8 18z"/><path stroke="#ef8632" d="M2576 2433zm20 37zm17 3zm-1 20zm7 11zm1 35zm16 6zm-10 15zm12 9zm-2 7zm8 1zm9 6zm3 13zm11-27zm-2 80zm29 2zm11-9zm6 20zm1-147zm13-12zm-20-9zm-32-7zm13-27zm-6-29z"/><path stroke="#4a7cb3" d="M2796 2561zm23 38zm4 28zm-7 6zm16 9zm9-8zm11-1zm6 6zm-10 20zm15 16zm7 4zm-6 7zm-7 6zm10 11zm7 12zm19-6zm-11-23zm-38-78zm56 207zm30-26z"/><path stroke="#68ad57" d="M2593 2290zm23 32zm2 7zm2 10zm-7 5zm24-8zm-8-17zm13 55zm14 6zm-1 5zm-11 8zm-12 9zm19 9zm8 7zm-88-15zm-19 3zm-10-11zm-14-38z"/><path stroke="#ef8632" d="M2560 2431zm17 32zm7 0zm10-3zm21 12zm0 8zm10-1zm-24 9zm9 13zm5 2zm-7 6zm7 28zm17 27zm14 0zm0-5zm2 17zm16 12zm5 6zm-2 15zm10 11zm14 20zm-35-41zm6-43zm-12-40zm52 0zm-2-50zm-15-4zm4-32zm0-4zm-23 5zm1 4zm-7 7zm-4-1zm87 101z"/><path stroke="#4a7cb3" d="M2774 2516zm29 18zm5 49zm11-1zm2 26zm7-4zm-27-11zm69 69zm15 13zm2 7zm-24 3zm-8 22zm47 29zm9 13zm-16 4z"/><path stroke="#68ad57" d="M2527 2362zm10 17zm17 35zm87-7zm3-7zm2-3zm3-24zm-10-4zm-11-34zm-5-9zm0-6zm-5-7zm50 94zm12-3z"/><path stroke="#ef8632" d="M2592 2437zm-7 27zm13 48zm10 9zm11-8zm1-3zm7 9zm14 29zm8 5zm0 8zm4 4zm11-7zm-5-18zm-28 29zm60 4zm-10 51zm0 10zm4-2zm-1 30zm-20-43zm59-111zm7-10zm-1-7zm-22-16zm-22-11zm-2-23zm1-2zm-3 0zm-6-5zm-3 1zm-7-13z"/><path stroke="#4a7cb3" d="M2806 2536zm16 35zm0 7zm-24 10zm10 12zm22 16zm3 13zm-2 13zm12-6zm18-14zm4 27zm6 6zm-3 5zm12 27zm-7 8zm19 10zm0 4zm6 20z"/><path stroke="#68ad57" d="M2488 2272zm99-6zm-8-22zm30 50zm7-4zm6 52zm-10 2zm17 21zm14 17zm11 5zm6 11zm-26 9zm-98-41z"/><path stroke="#ef8632" d="M2580 2459zm14 10zm14-9zm-20 28zm27 16zm5-2zm-1 17zm1 11zm16 17zm7-1zm2 22zm23-2zm3 19zm-1 37zm-13-7zm-3 1zm36 62zm18-4zm8 27zm-5-208zm-28-35zm-7-8zm-7 15z"/><path stroke="#4a7cb3" d="M2816 2568zm-3 9zm18 9zm-9 23zm2 23zm15-7zm17 6zm2 1zm-1-15zm-4-6zm-7 31zm-2 3zm-8 0zm23 11zm-9 12zm23 6zm3 10zm8 10zm-23 5zm30 16zm-9 12zm24 6zm3 0zm1-14zm-23-57zm45 115zm-10 15z"/><path stroke="#68ad57" d="M2584 2297zm57 45zm2 20zm-2 7zm-5 5zm-18 1zm-10 2zm23-19zm12 32zm14 12zm15 8zm-113-10zm1-8z"/><path stroke="#ef8632" d="M2563 2439zm7 51zm43-6zm-1-5zm-1-12zm-9-8zm57-18zm26 11zm-2 16zm15-6zm5-14zm-62 76zm-9 0zm-12 11zm1 4zm9 7zm20-8zm-9 27zm5 22zm8-3zm16-14zm-62-34zm96 127z"/><path stroke="#4a7cb3" d="M2756 2504zm33 29zm14-5zm14 19zm6 27zm-11 10zm35 51zm17 29zm-2 20zm6 9zm8 18zm9 7zm6-13zm5-5zm-9-24zm25 84zm8-2zm-3 17zm-17 19z"/><path stroke="#68ad57" d="M2556 2232zm11 2zm23 38zm11 61zm30 9zm7 10zm-5 5zm9 6zm2 1zm-2 10zm-2 15zm10-5zm11-2zm-2 17zm-11 1zm-19 1zm0-19zm5 53zm9-5zm-59-29z"/><path stroke="#ef8632" d="M2561 2429zm29 18zm10 20zm6 13zm-5 6zm11 4zm7 0zm3-2zm-26 18zm11 31zm9-5zm3 13zm23-13zm-1-12zm-2 0zm17 35zm0 5zm4 22zm8-3zm-2 29zm24 51zm2-137zm28 3zm5-54zm-27-5zm-14 9zm-1 7zm-5-21zm-7-15zm0-13zm17 3z"/><path stroke="#4a7cb3" d="M2777 2517zm50 94zm-9 10zm21 1zm0 11zm-2 2zm7-1zm15 23zm17 15zm16 10zm14 16zm9-2zm-5 40zm-6 11zm8 8zm18 27zm14 12zm-66-74zm-17-28zm-29-30z"/><path stroke="#68ad57" d="M2559 2226zm9 28zm11 33zm50 1zm11 21zm-28 7zm22 27zm-12 25zm0 19zm53 1zm-19 22zm-95-27z"/></g></g><rect class="ax" x="608.25" y="551.32" width="141.1" height="163.67"/>
<g clip-path="url(#c3_5)"><g transform="scale(.25)"><path stroke="#4a7cb3" d="M3104 2339zm86-19zm9-20zm-30-5zm38 51zm20 4zm2 5zm1 21zm9-3zm11-9zm-5 29zm-8 10zm1 12zm9 1zm12 17zm6 1zm-3 7zm19 0zm-3 55zm10 4zm16 24zm5 30zm15 30zm-62 1zm-7 1zm2-17zm-39 2zm-7-14zm0-13zm19-7zm-33-66zm-19-5zm1-7zm16-11zm-24-15zm-1-4zm91 209zm47 59z"/><path stroke="#ef8632" d="M3387 2558zm-3 20zm23-6zm16 32zm2 14zm-2 13zm-6 0zm23 12zm0 10zm12 16zm-6 7zm-1 3zm15 13zm25-7zm0 36zm2 12zm6 10zm0 12zm10 5zm2 0zm-8-46zm33 103zm19 23z"/><path stroke="#68ad57" d="M3382 2527z"/><path stroke="#4a7cb3" d="M3156 2232zm40 89zm-5 9zm12 8zm-15 13zm44-8zm10 20zm0 19zm-10-5zm-4 3zm28 45zm11 22zm5 2zm-13 9zm26 3zm2 17zm-3 8zm-1 3zm23 7zm4 35zm9 54zm-69 3zm-21-17zm6-15zm-11-11zm-2-2zm-3-11zm3-16zm2 2zm-27-3zm-3-3zm-3-37zm-24 2zm-2-25zm-9-50zm-2-16zm-6-2zm146 56zm-25 197zm39 71z"/><path stroke="#ef8632" d="M3389 2566zm7 21zm34-4zm-1 22zm5 12zm1 13zm-7 9zm5 6zm30 21zm2 15zm-12 4zm0 4zm2 23zm10 6zm9 5zm18 8zm8 10zm16 25zm0 30zm-35-24zm-9-3zm15-63zm-7-44z"/><path stroke="#4a7cb3" d="M3184 2290zm22 32zm2 7zm2 10zm-7 5zm24-8zm-8-17zm13 55zm15 6zm-2 5zm-11 8zm-12 9zm19 9zm8 7zm21 13zm6 29zm-13 27zm32 7zm7 21zm14-12zm-107 1zm-7-11zm2-20zm-18-3zm-19-37zm-6-30zm-19 3zm-10-11zm-13-38zm91 182zm16 6zm-10 15zm13 9zm-2 7zm7 1zm9 6zm4 13zm10-27zm-1 80zm28 2zm11-9zm6 20z"/><path stroke="#ef8632" d="M3387 2561zm22 38zm4 28zm-6 6zm15 9zm9-8zm12-1zm6 6zm-11 20zm16 16zm6 4zm-6 7zm-6 6zm9 11zm8 12zm19-6zm-12-23zm-38-78zm56 207zm30-26z"/><path stroke="#4a7cb3" d="M3117 2362zm11 17zm17 35zm6 17zm16 32zm7 0zm10-3zm22 12zm-1 8zm10-1zm-24 9zm10 13zm4 2zm-7 6zm7 28zm17 27zm14 0zm0-5zm2 17zm16 12zm5 6zm-1 15zm9 11zm15 20zm-35-41zm5-43zm-11-40zm51 0zm-2-50zm-14-4zm3-32zm0-4zm-23 5zm1 4zm-7 7zm-3-1zm11-34zm13-3zm-37-4zm2-3zm-5 10zm-2-38zm10 4zm-21-38zm-4-9zm-1-6zm-5-7zm125 229z"/><path stroke="#ef8632" d="M3398 2583zm12-1zm1 26zm8-4zm-28-11zm70 69zm15 13zm1 7zm-24 3zm-8 22zm47 29zm9 13zm-16 4z"/><path stroke="#68ad57" d="M3364 2516zm29 18z"/><path stroke="#4a7cb3" d="M3078 2272zm100-6zm-9-22zm30 50zm8-4zm5 52zm-9 2zm16 21zm15 17zm10 5zm6 11zm5 24zm7 13zm3-1zm6 5zm3 0zm-1 2zm3 23zm21 11zm22 16zm1 7zm-7 10zm-64 32zm-9 13zm-1 8zm4 4zm11-7zm-23-10zm-10 21zm-4-50zm-8-6zm1-3zm-12 11zm-10-9zm-13-48zm7-27zm42-30zm-98-41zm155 207zm-10 51zm0 10zm4-2zm-1 30zm-20-43z"/><path stroke="#ef8632" d="M3388 2588zm10 12zm15-22zm-1-7zm8 45zm3 13zm-2 13zm12-6zm18-14zm5 27zm5 6zm-3 5zm12 27zm-6 8zm18 10zm0 4zm6 20z"/><path stroke="#68ad57" d="M3396 2536z"/><path stroke="#4a7cb3" d="M3174 2297zm57 45zm2 20zm-2 7zm-4 5zm-19 1zm-10 2zm23-19zm12 32zm14 12zm16 8zm3 40zm8 8zm-14 7zm-62-5zm-14 9zm-14-10zm8 29zm27 16zm6-2zm-1 17zm1 11zm15 17zm7-1zm3 22zm22-2zm4 19zm-1 37zm-13-7zm-4 1zm36 62zm18-4zm8 27zm-4-208zm-153-93zm1-8z"/><path stroke="#ef8632" d="M3407 2568zm-4 9zm18 9zm-9 23zm3 23zm14-7zm17 6zm2 1zm-1-15zm-4-6zm-7 31zm-2 3zm-8 0zm23 11zm-9 12zm23 6zm4 10zm7 10zm-23 5zm31 16zm-9 12zm23 6zm3 0zm1-14zm-23-57zm45 115zm-10 15z"/><path stroke="#4a7cb3" d="M3147 2232zm10 2zm23 38zm11 61zm30 9zm7 10zm-5 5zm9 6zm2 1zm-2 10zm-1 15zm9-5zm12-2zm-3 17zm-10 1zm-19 1zm-1-19zm5 53zm10-5zm15 11zm26 11zm-2 16zm15-6zm6-14zm-93 19zm1 12zm1 5zm-11-25zm-39-20zm7 51zm38 46zm12-1zm1 4zm9 7zm2-22zm9 0zm9 14zm-9 27zm5 22zm8-3zm16-14zm34 93zm-120-262z"/><path stroke="#ef8632" d="M3402 2584zm11-10zm24 61zm17 29zm-2 20zm6 9zm8 18zm9 7zm6-13zm5-5zm-9-24zm26 84zm8-2zm-4 17zm-16 19z"/><path stroke="#68ad57" d="M3347 2504zm32 29zm15-5zm13 19z"/><path stroke="#4a7cb3" d="M3149 2226zm9 28zm11 33zm51 1zm11 21zm-28 7zm21 27zm-12 25zm0 19zm53 1zm-19 22zm16 23zm-1 13zm7 15zm6 14zm-1 7zm15-16zm28 5zm-6 54zm-27-3zm-52-2zm-2 0zm3 12zm-26 0zm-9 5zm12 8zm37 10zm1 5zm3 22zm8-3zm-1 29zm23 51zm-2-223zm-98 11zm10 20zm7 13zm-5 6zm10 4zm7 0zm3-2zm-25 18zm-36-77zm0-46z"/><path stroke="#ef8632" d="M3408 2621zm10-10zm11 11zm0 11zm-2 2zm7-1zm15 23zm-26 5zm43 10zm16 10zm14 16zm9-2zm-5 40zm-6 11zm8 8zm18 27zm14 12zm-66-74zm-17-28z"/><path stroke="#68ad57" d="M3367 2517z"/></g></g><rect class="ax" x="755.76" y="551.32" width="141.1" height="163.67"/>
<g clip-path="url(#c3_6)"><g transform="scale(.25)"><path stroke="#68ad57" d="M3760 2429zm2 4zm7 26zm-1 7zm19 5zm-2-23zm16 96zm1 13zm6 14zm40-2zm-2 17zm7-1zm-1 53zm-32-101z"/><path stroke="#4a7cb3" d="M3977 2558zm-2 20zm22-6zm16 32zm2 14zm-1 13zm-7 0zm24 12zm0 10zm11 16zm-6 7zm-1 3zm15 13zm25-7zm0 36zm3 12zm6 10zm-1 12zm10 5zm3 0zm-8-46z"/><path stroke="#ef8632" d="M3790 2300zm-9 20zm16 26zm20 4zm3 5zm0 21zm9-3zm12-9zm-5 29zm-9 10zm2 12zm8 1zm12 17zm6 1zm-3 7zm20 0zm-4 55zm11 4zm15 24z"/><path stroke="#000000" d="M3694 2339zm206 215zm15 30zm-16 113zm221 120zm19 23z"/><path stroke="#e887bd" d="M3973 2527z"/><path stroke="#9c5a33" d="M3759 2295z"/><path stroke="#68ad57" d="M3738 2384zm6 2zm3 16zm8 50zm2 25zm24-2zm4 37zm3 3zm24 1zm2 2zm-5 14zm3 11zm2 2zm12 11zm-7 15zm22 17zm18 49z"/><path stroke="#4a7cb3" d="M3980 2566zm6 21zm35-4zm-2 22zm5 12zm2 13zm-8 9zm5 6zm30 21zm2 15zm-12 4zm0 4zm2 23zm11 6zm8 5zm18 8zm9 10zm15 25zm0 30zm-34-24zm5-66zm-7-44z"/><path stroke="#ef8632" d="M3786 2321zm-5 9zm12 8zm-15 13zm45-8zm10 20zm0 19zm-10-5zm-4 3zm27 45zm11 22zm5 2zm-13 9zm27 3zm2 17zm-4 8zm-1 3zm23 7zm4 35zm-16-91z"/><path stroke="#000000" d="M3909 2585zm-11 123zm164 61z"/><path stroke="#8e529f" d="M3746 2232z"/><path stroke="#68ad57" d="M3722 2395zm10 11zm20-3zm5 30zm19 37zm18 3zm-1 20zm6 11zm1 35zm17 6zm-10 15zm12 9zm-2 7zm8 1zm9 6zm3 13zm10-27zm-1 80zm28 2zm12-9zm6 20z"/><path stroke="#4a7cb3" d="M3977 2561zm22 38zm5 28zm-7 6zm15 9zm10-8zm11-1zm6 6zm-10 20zm15 16zm6 4zm-5 7zm-7 6zm9 11zm8 12zm19-6zm-12-23zm-38-78zm87 181z"/><path stroke="#ef8632" d="M3797 2322zm1 7zm2 10zm-7 5zm25-8zm-9-17zm14 55zm14 6zm-2 5zm-11 8zm-11 9zm19 9zm7 7zm22 13zm5 29zm-12 27zm31 7zm7 21zm14-12z"/><path stroke="#000000" d="M3709 2357zm372 458z"/><path stroke="#9c5a33" d="M3774 2290z"/><path stroke="#68ad57" d="M3735 2414zm6 17zm17 32zm6 0zm10-3zm22 12zm-1 8zm11-1zm-10 24zm-5-2zm-2 8zm-8-21zm14 49zm18 27zm13 0zm0-5zm2 17zm17 12zm5 6zm-2 15zm9 11zm15 20zm-35-41zm6-43zm-12-40z"/><path stroke="#4a7cb3" d="M3988 2583zm12-1zm1 26zm8-4zm-27-11zm69 69zm15 13zm1 7zm-23 3zm-9 22zm48 29zm9 13zm-17 4z"/><path stroke="#ef8632" d="M3798 2313zm6 7zm0 6zm4 9zm12 34zm10 4zm-4 24zm-2 3zm-3 7zm28 0zm12-3zm8 22zm0 4zm-22 1zm0 4zm-7 7zm-3-1zm29 21zm15 4zm2 50z"/><path stroke="#000000" d="M3708 2362zm10 17zm205 163zm31-26z"/><path stroke="#e887bd" d="M3983 2534z"/><path stroke="#68ad57" d="M3772 2437zm-7 27zm13 48zm10 9zm11-8zm1-3zm8 9zm13 29zm9 5zm-1 8zm5 4zm10-7zm-4-18zm-28 29zm32 50zm17 5zm0 10zm5-2zm-2 30z"/><path stroke="#4a7cb3" d="M3978 2588zm10 12zm15-22zm-1-7zm8 45zm3 13zm-2 13zm12-6zm18-14zm5 27zm5 6zm-3 5zm12 27zm-6 8zm18 10zm1 4zm5 20z"/><path stroke="#ef8632" d="M3789 2294zm8-4zm5 52zm-9 2zm17 21zm14 17zm11 5zm5 11zm5 24zm7 13zm3-1zm6 5zm3 0zm-1 2zm3 23zm21 11zm22 16zm2 7zm-7 10zm-90-101z"/><path stroke="#000000" d="M3668 2272zm100-6zm-51 100zm154 207z"/><path stroke="#e887bd" d="M3986 2536z"/><path stroke="#8e529f" d="M3760 2244z"/><path stroke="#68ad57" d="M3740 2392zm0 8zm21 59zm13 10zm15-9zm-21 28zm28 16zm5-2zm-1 17zm1 11zm15 17zm7-1zm3 22zm23-2zm3 19zm-1 37zm-13-7zm-4 1zm36 62zm19-4z"/><path stroke="#4a7cb3" d="M3997 2568zm-4 9zm19 9zm-9 23zm2 23zm14-7zm-2 20zm8 0zm1-3zm11-11zm2 1zm-2-15zm-4-6zm7 45zm-10 12zm23 6zm4 10zm8 10zm7 21zm-9 12zm23 6zm3 0zm1-14zm-49-20zm26-37zm46 115zm-11 15z"/><path stroke="#ef8632" d="M3822 2342zm2 20zm-3 7zm-4 5zm-19 1zm-10 2zm24-19zm11 32zm15 12zm15 8zm3 40zm8 8zm-14 7zm42 28z"/><path stroke="#000000" d="M3896 2701z"/><path stroke="#9c5a33" d="M3764 2297z"/><path stroke="#68ad57" d="M3765 2401zm-22 38zm7 51zm44-6zm-1-5zm-2-12zm-8-8zm5 77zm12-1zm1 4zm9 7zm2-22zm9 0zm9 14zm-9 27zm6 22zm8-3zm16-14zm34 93z"/><path stroke="#4a7cb3" d="M3992 2584zm12-10zm23 61zm18 29zm-3 20zm6 9zm9 18zm9 7zm5-13zm5-5zm-9-24zm26 84zm8-2zm-3 17z"/><path stroke="#ef8632" d="M3782 2333zm29 9zm2 15zm6-5zm4 11zm2 1zm-3 10zm-1 15zm10-5zm11-2zm-3 17zm-10 1zm-19 1zm-1-19zm15 48zm16 11zm25 11zm-1 16zm15-6zm5-14z"/><path stroke="#000000" d="M3814 2435zm123 69zm144 290z"/><path stroke="#e887bd" d="M3970 2533zm14-5zm13 19z"/><path stroke="#9c5a33" d="M3770 2272z"/><path stroke="#8e529f" d="M3737 2232zm11 2z"/><path stroke="#68ad57" d="M3741 2383zm1 46zm28 18zm11 20zm6 13zm-5 6zm11 4zm6 0zm3-2zm-25 18zm11 31zm8-5zm3 13zm24-13zm-1-12zm-3 0zm18 35zm0 5zm3 22zm8-3zm-1 29zm23 51z"/><path stroke="#4a7cb3" d="M3998 2621zm10-10zm12 11zm-1 11zm-1 2zm7-1zm14 23zm-26 5zm44 10zm15 10zm14 16zm10-2zm-6 40zm-5 11zm8 8zm17 27zm14 12zm-66-74zm-17-28z"/><path stroke="#ef8632" d="M3793 2316zm28-7zm-6 34zm-12 25zm-1 19zm54 1zm-20 22zm16 23zm0 13zm6 15zm7 14zm-1 7zm14-16zm-10-30zm5 86zm28 3z"/><path stroke="#000000" d="M3749 2254zm61 34zm96 183zm51 46z"/><path stroke="#9c5a33" d="M3759 2287z"/><path stroke="#8e529f" d="M3739 2226z"/></g></g><rect class="ax" x="903.27" y="551.32" width="141.1" height="163.67"/>
<g clip-path="url(#c3_7)"><g transform="scale(.25)"><path stroke="#4a7cb3" d="M4284 2339zm67 90zm1 4zm7 26zm0 7zm18 5zm-2-23zm17 96zm0 13zm7 14zm39-2zm-2 17zm7-1zm-1 53zm47 59zm-79-160z"/><path stroke="#68ad57" d="M4349 2295zm31 5zm-9 20zm17 26zm19 4zm3 5zm1 21zm9-3zm11-9zm-5 29zm-8 10zm1 12zm8 1zm12 17zm7 1zm-3 7zm19 0zm-4 55zm11 4zm16 24zm5 30z"/><path stroke="#ef8632" d="M4563 2527zm4 31zm-2 20zm23-6zm15 32zm3 14zm-2 13zm-7 0zm24 12zm0 10zm11 16zm-5 7zm-1 3zm14 13zm26-7zm0 36zm2 12zm6 10zm-1 12zm10 5zm3 0zm-8-46zm33 103z"/><path stroke="#000000" d="M4505 2584zm224 256z"/><path stroke="#4a7cb3" d="M4328 2384zm7 2zm2 16zm9 50zm1 25zm25-2zm3 37zm3 3zm24 1zm2 2zm-5 14zm3 11zm2 2zm12 11zm-6 15zm21 17zm18 49zm39 71z"/><path stroke="#68ad57" d="M4336 2232zm41 89zm-5 9zm12 8zm-15 13zm44-8zm10 20zm0 19zm-10-5zm-4 3zm28 45zm10 22zm5 2zm-12 9zm26 3zm2 17zm-3 8zm-1 3zm22 7zm4 35zm-16-91z"/><path stroke="#ef8632" d="M4570 2566zm7 21zm34-4zm-2 22zm5 12zm2 13zm-8 9zm5 6zm30 21zm3 15zm-12 4zm0 4zm1 23zm11 6zm9 5zm17 8zm9 10zm15 25zm0 30zm-34-24zm-10-3zm15-63zm-7-44z"/><path stroke="#000000" d="M4499 2585z"/><path stroke="#4a7cb3" d="M4299 2357zm14 38zm9 11zm20-3zm5 30zm19 37zm18 3zm-1 20zm6 11zm1 35zm17 6zm-10 15zm12 9zm-2 7zm8 1zm9 6zm3 13zm11-27zm-2 80zm28 2zm12-9zm6 20z"/><path stroke="#68ad57" d="M4364 2290zm23 32zm2 7zm1 10zm-6 5zm24-8zm-9-17zm14 55zm14 6zm-2 5zm-10 8zm-12 9zm19 9zm8 7zm21 13zm6 29zm-13 27zm31 7zm8 21zm13-12z"/><path stroke="#ef8632" d="M4567 2561zm23 38zm4 28zm-7 6zm15 9zm10-8zm11-1zm6 6zm-10 20zm15 16zm7 4zm-6 7zm-7 6zm10 11zm7 12zm19-6zm-11-23zm-38-78zm86 181z"/><path stroke="#000000" d="M4671 2815z"/><path stroke="#4a7cb3" d="M4298 2362zm10 17zm17 35zm6 17zm17 32zm7 0zm10-3zm21 12zm-1 8zm11-1zm-10 24zm-5-2zm-2 8zm-8-21zm15 49zm17 27zm13 0zm1-5zm1 17zm17 12zm5 6zm-2 15zm10 11zm14 20zm-35-41zm6-43zm-12-40z"/><path stroke="#68ad57" d="M4389 2313zm5 7zm0 6zm4 9zm12 34zm10 4zm-3 24zm-2 3zm-4 7zm28 0zm12-3zm8 22zm1 4zm-23 1zm1 4zm-7 7zm-4-1zm29 21zm15 4zm2 50zm41 26z"/><path stroke="#ef8632" d="M4545 2516zm28 18zm5 49zm12-1zm2 26zm7-4zm-27-11zm69 69zm15 13zm2 7zm-24 3zm-8 22zm47 29zm9 13zm-16 4z"/><path stroke="#4a7cb3" d="M4307 2366zm56 71zm-7 27zm13 48zm10 9zm11-8zm0-3zm8 9zm14 29zm8 5zm0 8zm4 4zm10-7zm-4-18zm-28 29zm60 4zm-10 51zm-1 10zm5-2zm-2 30zm-20-43z"/><path stroke="#68ad57" d="M4350 2244zm8 22zm22 28zm7-4zm5 52zm-9 2zm17 21zm14 17zm11 5zm5 11zm6 24zm6 13zm3-1zm7 5zm2 0zm-1 2zm3 23zm22 11zm21 16zm2 7zm-7 10zm-90-101z"/><path stroke="#ef8632" d="M4576 2536zm17 35zm0 7zm-24 10zm10 12zm22 16zm2 13zm-1 13zm11-6zm19-14zm4 27zm6 6zm-3 5zm12 27zm-7 8zm18 10zm1 4zm6 20z"/><path stroke="#000000" d="M4258 2272z"/><path stroke="#4a7cb3" d="M4330 2392zm0 8zm21 59zm14 10zm14-9zm-20 28zm27 16zm5-2zm-1 17zm1 11zm16 17zm7-1zm2 22zm23-2zm3 19zm-1 37zm-13-7zm-4 1zm36 62zm19-4zm8 27z"/><path stroke="#68ad57" d="M4354 2297zm58 45zm2 20zm-2 7zm-5 5zm-18 1zm-10 2zm23-19zm12 32zm14 12zm15 8zm3 40zm8 8zm-14 7zm42 28z"/><path stroke="#ef8632" d="M4587 2568zm-3 9zm18 9zm-9 23zm2 23zm14-7zm-2 20zm8 0zm1-3zm11-11zm2 1zm-2-15zm-4-6zm7 45zm-10 12zm24 6zm3 10zm8 10zm-23 5zm30 16zm-9 12zm24 6zm2 0zm1-14zm-23-57zm46 115zm-10 15z"/><path stroke="#4a7cb3" d="M4355 2401zm-21 38zm7 51zm43-6zm-1-5zm-2-12zm-8-8zm5 77zm12-1zm2 4zm9 7zm2-22zm8 0zm9 14zm-9 27zm6 22zm8-3zm16-14zm34 93z"/><path stroke="#68ad57" d="M4327 2232zm11 2zm23 38zm11 61zm30 9zm7 10zm-5 5zm9 6zm2 1zm-2 10zm-2 15zm10-5zm11-2zm-3 17zm-10 1zm-19 1zm0-19zm4 53zm10-5zm16 11zm26 11zm-2 16zm15-6zm5-14z"/><path stroke="#ef8632" d="M4527 2504zm33 29zm14-5zm14 19zm6 27zm-11 10zm34 51zm18 29zm-2 20zm6 9zm8 18zm9 7zm5-13zm5-5zm-8-24zm25 84zm8-2zm-3 17zm-17 19z"/><path stroke="#4a7cb3" d="M4332 2383zm0 46zm28 18zm11 20zm6 13zm-5 6zm11 4zm7 0zm3-2zm-26 18zm11 31zm8-5zm4 13zm23-13zm-1-12zm-2 0zm17 35zm0 5zm3 22zm9-3zm-2 29zm24 51z"/><path stroke="#68ad57" d="M4329 2226zm10 28zm10 33zm51 1zm11 21zm-28 7zm22 27zm-12 25zm-1 19zm54 1zm-20 22zm16 23zm0 13zm6 15zm7 14zm-1 7zm14-16zm28 5zm-5 54zm-28-3zm-4-86z"/><path stroke="#ef8632" d="M4548 2517zm50 94zm-9 10zm21 1zm0 11zm-2 2zm7-1zm14 23zm-26 5zm44 10zm16 10zm14 16zm9-2zm-6 40zm-5 11zm8 8zm17 27zm15 12zm-66-74zm-17-28z"/></g></g><rect class="ax" x="1050.78" y="551.32" width="141.1" height="163.67"/>
<g clip-path="url(#c3_8)"><g transform="scale(.25)"><path stroke="#68ad57" d="M4941 2429zm1 4zm8 26zm-1 7zm19 5zm-2-23zm16 96zm0 13zm7 14zm39-2zm-2 17zm7-1zm-1 53zm47 59zm-79-160z"/><path stroke="#4a7cb3" d="M5153 2527zm5 31zm-3 20zm23-6zm16 32zm2 14zm-2 13zm-6 0zm23 12zm0 10zm12 16zm-6 7zm-1 3zm15 13zm25-7zm0 36zm2 12zm6 10zm0 12zm10 5zm2 0zm-8-46zm33 103z"/><path stroke="#ef8632" d="M4939 2295zm31 5zm-9 20zm17 26zm19 4zm3 5zm1 21zm9-3zm11-9zm-5 29zm-8 10zm1 12zm9 1zm11 17zm7 1zm-3 7zm19 0zm-3 55zm10 4zm16 24zm5 30z"/><path stroke="#000000" d="M4874 2339zm221 245zm225 256z"/><path stroke="#68ad57" d="M4919 2384zm6 2zm2 16zm9 50zm1 25zm25-2zm3 37zm3 3zm25 1zm1 2zm-4 14zm2 11zm2 2zm12 11zm-6 15zm21 17zm19 49zm39 71z"/><path stroke="#4a7cb3" d="M5160 2566zm7 21zm34-4zm-2 22zm6 12zm1 13zm-7 9zm5 6zm30 21zm2 15zm-12 4zm0 4zm1 23zm11 6zm9 5zm18 8zm8 10zm15 25zm0 30zm-34-24zm-10-3zm16-63zm-7-44z"/><path stroke="#ef8632" d="M4967 2321zm-5 9zm12 8zm-15 13zm44-8zm10 20zm0 19zm-10-5zm-4 3zm28 45zm10 22zm5 2zm-12 9zm26 3zm2 17zm-3 8zm-1 3zm23 7zm3 35zm-16-91z"/><path stroke="#000000" d="M4927 2232zm162 353z"/><path stroke="#68ad57" d="M4889 2357zm14 38zm10 11zm19-3zm5 30zm20 37zm17 3zm-1 20zm7 11zm1 35zm16 6zm-10 15zm12 9zm-1 7zm7 1zm9 6zm3 13zm11-27zm-2 80zm29 2zm11-9zm6 20z"/><path stroke="#4a7cb3" d="M5157 2561zm23 38zm4 28zm-7 6zm16 9zm9-8zm11-1zm7 6zm-11 20zm16 16zm6 4zm-6 7zm-7 6zm10 11zm7 12zm19-6zm-11-23zm-38-78zm86 181z"/><path stroke="#ef8632" d="M4954 2290zm23 32zm2 7zm2 10zm-7 5zm24-8zm-8-17zm13 55zm14 6zm-1 5zm-11 8zm-12 9zm19 9zm8 7zm21 13zm6 29zm-13 27zm32 7zm7 21zm14-12z"/><path stroke="#000000" d="M5261 2815z"/><path stroke="#68ad57" d="M4888 2362zm10 17zm17 35zm7 17zm16 32zm7 0zm10-3zm21 12zm0 8zm10-1zm-24 9zm10 13zm4 2zm-7 6zm7 28zm17 27zm14 0zm0-5zm2 17zm16 12zm5 6zm-2 15zm10 11zm14 20zm-35-41zm6-43zm-12-40z"/><path stroke="#4a7cb3" d="M5135 2516zm29 18zm5 49zm11-1zm2 26zm7-4zm-27-11zm69 69zm16 13zm1 7zm-24 3zm-8 22zm47 29zm9 13zm-16 4z"/><path stroke="#ef8632" d="M4979 2313zm5 7zm0 6zm5 9zm11 34zm10 4zm-3 24zm-2 3zm-3 7zm27 0zm12-3zm9 22zm0 4zm-23 1zm1 4zm-7 7zm-4-1zm30 21zm14 4zm2 50z"/><path stroke="#000000" d="M5104 2542z"/><path stroke="#68ad57" d="M4897 2366zm56 71zm-7 27zm13 48zm10 9zm11-8zm1-3zm7 9zm14 29zm9 5zm-1 8zm4 4zm11-7zm-5-18zm-28 29zm60 4zm-10 51zm0 10zm4-2zm-1 30zm-20-43z"/><path stroke="#4a7cb3" d="M5167 2536zm16 35zm0 7zm-24 10zm10 12zm22 16zm3 13zm-2 13zm12-6zm18-14zm4 27zm6 6zm-3 5zm12 27zm-7 8zm19 10zm0 4zm6 20z"/><path stroke="#ef8632" d="M4949 2266zm21 28zm7-4zm6 52zm-10 2zm17 21zm14 17zm11 5zm6 11zm5 24zm7 13zm3-1zm6 5zm3 0zm-1 2zm2 23zm22 11zm22 16zm1 7zm-7 10zm-89-101z"/><path stroke="#000000" d="M4849 2272zm91-28z"/><path stroke="#68ad57" d="M4921 2392zm-1 8zm21 59zm14 10zm14-9zm-20 28zm27 16zm5-2zm-1 17zm1 11zm16 17zm7-1zm2 22zm23-2zm3 19zm-1 37zm-13-7zm-3 1zm36 62zm18-4zm8 27z"/><path stroke="#4a7cb3" d="M5178 2568zm-4 9zm18 9zm-9 23zm2 23zm15-7zm17 6zm2 1zm-1-15zm-4-6zm-7 31zm-2 3zm-8 0zm23 11zm-9 12zm23 6zm4 10zm7 10zm-23 5zm31 16zm-10 12zm24 6zm3 0zm1-14zm-23-57zm45 115zm-10 15z"/><path stroke="#ef8632" d="M4945 2297zm57 45zm2 20zm-2 7zm-5 5zm-18 1zm-10 2zm23-19zm12 32zm14 12zm16 8zm3 40zm7 8zm-13 7zm41 28z"/><path stroke="#68ad57" d="M4945 2401zm-21 38zm7 51zm43-6zm-1-5zm-1-12zm-9-8zm6 77zm12-1zm1 4zm9 7zm2-22zm9 0zm9 14zm-9 27zm5 22zm8-3zm16-14zm34 93z"/><path stroke="#4a7cb3" d="M5150 2533zm14-5zm14 19zm6 27zm-11 10zm35 51zm17 29zm-2 20zm6 9zm8 18zm9 7zm6-13zm5-5zm-9-24zm25 84zm8-2zm-3 17zm-17 19z"/><path stroke="#ef8632" d="M4951 2272zm11 61zm30 9zm7 10zm-5 5zm9 6zm2 1zm-2 10zm-1 15zm9-5zm11-2zm-2 17zm-11 1zm-19 1zm0-19zm5 53zm9-5zm16 11zm26 11zm-2 16zm15-6zm5-14z"/><path stroke="#000000" d="M4917 2232zm11 2zm189 270z"/><path stroke="#68ad57" d="M4922 2383zm0 46zm29 18zm10 20zm6 13zm-5 6zm11 4zm7 0zm3-2zm-26 18zm11 31zm9-5zm3 13zm23-13zm-1-12zm-2 0zm17 35zm0 5zm4 22zm8-3zm-2 29zm24 51z"/><path stroke="#4a7cb3" d="M5138 2517zm50 94zm-9 10zm21 1zm0 11zm-2 2zm7-1zm15 23zm-26 5zm43 10zm16 10zm14 16zm9-2zm-5 40zm-6 11zm8 8zm18 27zm14 12zm-66-74zm-17-28z"/><path stroke="#ef8632" d="M4940 2287zm50 1zm12 21zm-29 7zm22 27zm-12 25zm0 19zm53 1zm-19 22zm15 23zm0 13zm7 15zm6 14zm-1 7zm15-16zm27 5zm-5 54zm-27-3zm-5-86z"/><path stroke="#000000" d="M4920 2226zm9 28z"/></g></g><rect class="ax" x="1199.09" y="551.32" width="140.3" height="163.67"/>
<g clip-path="url(#c3_9)"><g transform="scale(.25)"><path stroke="#4a7cb3" d="M5620 2433zm6 1zm-3 7zm20 0zm-4 55zm10 4zm16 24zm5 30zm15 30zm-62 1zm-7 1zm2-17zm-39 2zm-7-14zm0-13zm19-7zm31 101zm47 59z"/><path stroke="#ef8632" d="M5744 2527zm4 31zm-2 20zm22-6zm16 32zm2 14zm-2 13zm-6 0zm23 12zm0 10zm12 16zm-6 7zm-1 3zm15 13zm25-7zm0 36zm3 12zm6 10zm-1 12zm10 5zm2 0zm-8-46zm33 103zm19 23z"/><path stroke="#68ad57" d="M5465 2339zm87-19zm8-20zm-30-5zm38 51zm20 4zm2 5zm1 21zm9-3zm11-9zm-4 29zm-9 10zm1 12zm9 1zm-52 32zm2 23zm-19-5zm1-7zm-8-26zm-1-4z"/><path stroke="#4a7cb3" d="M5617 2425zm11 22zm5 2zm-13 9zm27 3zm1 17zm-3 8zm-1 3zm23 7zm4 35zm9 54zm-69 3zm-21-17zm6-15zm-11-11zm-2-2zm-3-11zm3-16zm2 2zm-27-3zm-3-3zm100-72zm-25 197zm39 71z"/><path stroke="#ef8632" d="M5750 2566zm7 21zm34-4zm-1 22zm5 12zm1 13zm-7 9zm5 6zm30 21zm2 15zm-12 4zm0 4zm2 23zm11 6zm8 5zm18 8zm9 10zm15 25zm0 30zm-35-24zm-9-3zm15-63zm-7-44z"/><path stroke="#68ad57" d="M5517 2232zm40 89zm-5 9zm12 8zm-15 13zm44-8zm11 20zm-1 19zm-10-5zm-4 3zm-74 6zm-6-2zm9 18zm8 50zm2 25zm24-2z"/><path stroke="#4a7cb3" d="M5563 2493zm7 11zm1 35zm16 6zm-10 15zm13 9zm-2 7zm8 1zm8 6zm4 13zm10-27zm-1 80zm28 2zm11-9zm6 20zm1-147zm14-12zm-21-9zm-31-7zm12-27zm-6-29z"/><path stroke="#ef8632" d="M5748 2561zm22 38zm4 28zm-6 6zm15 9zm9-8zm12-1zm6 6zm-11 20zm16 16zm6 4zm-6 7zm-6 6zm9 11zm8 12zm19-6zm-12-23zm-38-78zm57 207zm29-26z"/><path stroke="#68ad57" d="M5545 2290zm22 32zm2 7zm2 10zm-7 5zm24-8zm-8-17zm13 55zm15 6zm-2 5zm-11 8zm-11 9zm18 9zm8 7zm-82 15zm-6-30zm-19 3zm-10-11zm-13-38zm67 113zm18 3z"/><path stroke="#4a7cb3" d="M5632 2404zm8 22zm0 4zm-23 1zm1 4zm-7 7zm-3-1zm29 21zm14 4zm2 50zm-51 0zm-5 43zm0 5zm-14 0zm16 12zm16 12zm5 6zm-1 15zm9 11zm15 20zm-35-41zm6-43zm-48-19zm0-34zm-4-2zm-3 8zm17-30zm118 63zm31-26z"/><path stroke="#ef8632" d="M5754 2534zm5 49zm12-1zm1 26zm8-4zm-28-11zm70 69zm15 13zm1 7zm-24 3zm-8 22zm47 29zm9 13zm-16 4z"/><path stroke="#68ad57" d="M5478 2362zm11 17zm17 35zm6 17zm17 32zm6 0zm10-3zm22 12zm-1 8zm-14 8zm40-81zm3-7zm2-3zm3-24zm-10-4zm-11-34zm-4-9zm-1-6zm-5-7zm50 94z"/><path stroke="#4a7cb3" d="M5616 2422zm7 13zm3-1zm6 5zm3 0zm-1 2zm3 23zm21 11zm22 16zm1 7zm-7 10zm-64 32zm-9 13zm-1 8zm4 4zm11-7zm-23-10zm-10 21zm-4-50zm-8-6zm1-3zm-12 11zm-10-9zm93 61zm-10 51zm0 10zm4-2zm-1 30zm-20-43z"/><path stroke="#ef8632" d="M5757 2536zm16 35zm1 7zm-25 10zm10 12zm22 16zm3 13zm-2 13zm12-6zm18-14zm5 27zm5 6zm-3 5zm12 27zm-6 8zm18 10zm0 4zm6 20z"/><path stroke="#68ad57" d="M5439 2272zm100-6zm-8-22zm29 50zm8-4zm5 52zm-9 2zm16 21zm15 17zm10 5zm6 11zm-26 9zm-42 30zm-7 27zm-49-98z"/><path stroke="#4a7cb3" d="M5624 2410zm3 40zm8 8zm-14 7zm42 28zm-91 9zm-5 2zm4 15zm1 11zm15 17zm7-1zm3 22zm23-2zm3 19zm-1 37zm-13-7zm-4 1zm36 62zm18-4zm8 27z"/><path stroke="#ef8632" d="M5768 2568zm-4 9zm18 9zm-9 23zm3 23zm14-7zm17 6zm2 1zm-1-15zm-4-6zm-7 31zm-1 3zm-9 0zm23 11zm-9 12zm23 6zm4 10zm7 10zm-23 5zm31 16zm-9 12zm23 6zm3 0zm1-14zm-23-57zm45 115zm-10 15z"/><path stroke="#68ad57" d="M5535 2297zm57 45zm2 20zm-2 7zm-4 5zm-19 1zm-10 2zm23-19zm12 32zm14 12zm-98-2zm1-8zm20 67zm14 10zm15-9zm-21 28z"/><path stroke="#4a7cb3" d="M5564 2484zm-5 52zm12-1zm1 4zm9 7zm2-22zm9 0zm9 14zm-9 27zm5 22zm9-3zm15-14zm13-102zm2-16zm13 10zm6-14zm-45-7zm98 63zm-53 159z"/><path stroke="#ef8632" d="M5740 2533zm15-5zm13 19zm6 27zm-11 10zm35 51zm18 29zm-3 20zm6 9zm9 18zm8 7zm6-13zm5-5zm-9-24zm26 84zm8-2zm-4 17zm-16 19z"/><path stroke="#68ad57" d="M5508 2232zm11 2zm22 38zm11 61zm30 9zm7 10zm-5 5zm10 6zm1 1zm-2 10zm-1 15zm9-5zm12-2zm-3 17zm-10 1zm-19 1zm-1-19zm5 53zm10-5zm-33 37zm1 12zm-10-20zm-39-20zm7 51zm14-89z"/><path stroke="#4a7cb3" d="M5563 2490zm7 0zm3-2zm-25 18zm10 31zm9-5zm3 13zm24-13zm-2-12zm-2 0zm17 35zm1 5zm3 22zm8-3zm-1 29zm23 51zm3-137zm27 3zm6-54zm-28-5zm-14 9zm-1 7zm-5-21zm-7-15zm1-13zm16 3z"/><path stroke="#ef8632" d="M5728 2517zm41 104zm10-10zm11 11zm0 11zm-2 2zm7-1zm15 23zm-26 5zm43 10zm16 10zm14 16zm9-2zm-5 40zm-6 11zm8 8zm18 27zm14 12zm-66-74zm-17-28z"/><path stroke="#68ad57" d="M5510 2226zm10 28zm10 33zm51 1zm11 21zm-28 7zm21 27zm-11 25zm-1 19zm53 1zm-19 22zm-66 37zm10 20zm7 13zm-5 6zm-41-57zm0-46z"/></g></g><rect class="ax" x="1346.6" y="551.32" width="140.3" height="163.67"/>
<g clip-path="url(#c3_10)"><g transform="scale(.25)"><path stroke="#4a7cb3" d="M6120 2295zm31 5zm-9 20zm16 26zm20 4zm3 5zm0 21zm9-3zm12-9zm-5 29zm-9 10zm2 12zm8 1zm12 17zm6 1zm-3 7zm20 0zm-4 55zm11 4zm16 24zm5 30zm15 30z"/><path stroke="#68ad57" d="M6055 2339zm66 90zm2 4zm7 26zm-1 7zm19 5zm-2-23zm16 96zm1 13zm6 14zm40-2zm-2 17zm7-1zm-1 53zm47 59zm-79-160z"/><path stroke="#ef8632" d="M6334 2527zm4 31zm-2 20zm22-6zm16 32zm2 14zm-1 13zm-7 0zm24 12zm0 10zm11 16zm-6 7zm0 3zm14 13zm25-7zm0 36zm3 12zm6 10zm-1 12zm10 5zm3 0zm-8-46zm33 103zm18 23z"/><path stroke="#4a7cb3" d="M6107 2232zm40 89zm-5 9zm13 8zm-16 13zm45-8zm10 20zm0 19zm-10-5zm-4 3zm27 45zm11 22zm5 2zm-13 9zm27 3zm2 17zm-4 8zm-1 3zm23 7zm4 35zm9 54zm-25-145z"/><path stroke="#68ad57" d="M6099 2384zm6 2zm3 16zm8 50zm2 25zm24-2zm4 37zm3 3zm24 1zm2 2zm-5 14zm3 11zm2 2zm12 11zm-6 15zm21 17zm18 49zm39 71z"/><path stroke="#ef8632" d="M6341 2566zm6 21zm35-4zm-2 22zm5 12zm2 13zm-8 9zm5 6zm30 21zm2 15zm-12 4zm0 4zm2 23zm11 6zm8 5zm18 8zm9 10zm15 25zm0 30zm-34-24zm-10-3zm15-63zm-7-44z"/><path stroke="#4a7cb3" d="M6135 2290zm23 32zm1 7zm2 10zm-7 5zm25-8zm-9-17zm14 55zm14 6zm-2 5zm-11 8zm-11 9zm19 9zm7 7zm22 13zm5 29zm-12 27zm31 7zm7 21zm14-12z"/><path stroke="#68ad57" d="M6070 2357zm13 38zm10 11zm20-3zm5 30zm19 37zm18 3zm-1 20zm6 11zm1 35zm17 6zm-10 15zm12 9zm-2 7zm8 1zm9 6zm3 13zm11-27zm-2 80zm28 2zm12-9zm6 20z"/><path stroke="#ef8632" d="M6338 2561zm22 38zm5 28zm-7 6zm15 9zm10-8zm11-1zm6 6zm-10 20zm15 16zm6 4zm-5 7zm-7 6zm10 11zm7 12zm19-6zm-12-23zm-37-78zm56 207zm30-26z"/><path stroke="#4a7cb3" d="M6159 2313zm6 7zm0 6zm4 9zm12 34zm10 4zm-3 24zm-2 3zm-4 7zm28 0zm12-3zm8 22zm0 4zm-22 1zm0 4zm-7 7zm-3-1zm29 21zm15 4zm2 50zm40 26z"/><path stroke="#68ad57" d="M6069 2362zm10 17zm17 35zm6 17zm17 32zm7 0zm10-3zm21 12zm-1 8zm11-1zm-10 24zm-5-2zm-2 8zm-8-21zm14 49zm18 27zm13 0zm0-5zm2 17zm17 12zm5 6zm-2 15zm10 11zm14 20zm-35-41zm6-43zm-12-40z"/><path stroke="#ef8632" d="M6315 2516zm29 18zm5 49zm12-1zm1 26zm8-4zm-27-11zm69 69zm15 13zm1 7zm-23 3zm-9 22zm48 29zm9 13zm-17 4z"/><path stroke="#4a7cb3" d="M6121 2244zm8 22zm21 28zm8-4zm5 52zm-9 2zm17 21zm14 17zm11 5zm5 11zm5 24zm7 13zm3-1zm6 5zm3 0zm-1 2zm3 23zm21 11zm22 16zm2 7zm-7 10zm-90-101z"/><path stroke="#68ad57" d="M6029 2272zm49 94zm55 71zm-6 27zm12 48zm10 9zm12-8zm0-3zm8 9zm13 29zm9 5zm-1 8zm5 4zm10-7zm-4-18zm-28 29zm59 4zm-10 51zm0 10zm5-2zm-2 30zm-20-43z"/><path stroke="#ef8632" d="M6347 2536zm16 35zm1 7zm-25 10zm10 12zm22 16zm3 13zm-1 13zm11-6zm18-14zm5 27zm5 6zm-3 5zm12 27zm-6 8zm18 10zm1 4zm6 20z"/><path stroke="#4a7cb3" d="M6125 2297zm58 45zm2 20zm-3 7zm-4 5zm-18 1zm-11 2zm24-19zm11 32zm15 12zm15 8zm3 40zm8 8zm-14 7zm42 28z"/><path stroke="#68ad57" d="M6101 2392zm0 8zm21 59zm13 10zm15-9zm-21 28zm28 16zm5-2zm-1 17zm1 11zm15 17zm7-1zm3 22zm23-2zm3 19zm-1 37zm-13-7zm-4 1zm36 62zm19-4zm8 27z"/><path stroke="#ef8632" d="M6358 2568zm-4 9zm19 9zm-9 23zm2 23zm14-7zm-2 20zm8 0zm1-3zm11-11zm2 1zm-2-15zm-4-6zm7 45zm-10 12zm24 6zm3 10zm8 10zm7 21zm-9 12zm23 6zm3 0zm1-14zm-49-20zm26-37zm46 115zm-10 15z"/><path stroke="#4a7cb3" d="M6098 2232zm11 2zm22 38zm12 61zm29 9zm8 10zm-5 5zm9 6zm2 1zm-3 10zm-1 15zm10-5zm11-2zm-3 17zm-10 1zm-19 1zm-1-19zm5 53zm10-5zm16 11zm25 11zm-1 16zm15-6zm5-14z"/><path stroke="#68ad57" d="M6126 2401zm-22 38zm7 51zm44-6zm-1-5zm-2-12zm-8-8zm5 77zm12-1zm2 4zm8 7zm2-22zm9 0zm9 14zm-9 27zm6 22zm8-3zm16-14zm34 93z"/><path stroke="#ef8632" d="M6298 2504zm33 29zm14-5zm13 19zm7 27zm-12 10zm35 51zm18 29zm-3 20zm6 9zm9 18zm9 7zm5-13zm5-5zm-9-24zm26 84zm8-2zm-3 17zm-17 19z"/><path stroke="#4a7cb3" d="M6100 2226zm10 28zm10 33zm51 1zm11 21zm-28 7zm22 27zm-12 25zm-1 19zm54 1zm-20 22zm16 23zm0 13zm6 15zm7 14zm-1 7zm14-16zm28 5zm-5 54zm-28-3zm-5-86z"/><path stroke="#68ad57" d="M6102 2383zm1 46zm28 18zm11 20zm6 13zm-5 6zm11 4zm6 0zm3-2zm-25 18zm11 31zm8-5zm4 13zm23-13zm-1-12zm-2 0zm17 35zm0 5zm3 22zm8-3zm-1 29zm23 51z"/><path stroke="#ef8632" d="M6318 2517zm41 104zm10-10zm12 11zm-1 11zm-1 2zm7-1zm14 23zm-26 5zm44 10zm15 10zm14 16zm10-2zm-6 40zm-5 11zm8 8zm17 27zm14 12zm-66-74zm-17-28z"/></g></g><rect class="ax" x="1494.11" y="551.32" width="140.3" height="163.67"/>
<g clip-path="url(#c4_0)"><g transform="scale(.25)"><path stroke="#68ad57" d="M242 2972zm33 9zm18 20zm14 46zm-19 21zm-20-7zm-5 33zm-6 6zm-7 40zm10 15zm15 3zm28 9zm10 41zm-14-101zm-69 20z"/><path stroke="#ef8632" d="M434 3068zm53 16zm0 6zm4 20zm9-7zm20 17zm0 11zm-5-2zm-3 9zm-4 19zm-27 1zm-2-3zm-3-10zm2-8zm-8-7zm11-7zm-27 63zm-38 0zm118-5zm-9 28zm33 29zm-6-95zm-2-55zm2-6zm-23-7zm-14-11z"/><path stroke="#4a7cb3" d="M275 3278zm3 43zm19 18zm24-5zm7 13zm11-3zm-11 40zm-14 14zm-13-1zm-6-8zm-12 0zm1-7zm-15-1zm-6-15zm-26-2zm4-6zm65 55zm20 8zm18-6zm-20-162zm-128 201z"/><path stroke="#68ad57" d="M258 2959zm34 7zm-38 46zm2 17zm28 13zm-1 23zm-35 4zm15 18zm15 32zm2 9zm5 12zm12 6zm9-19zm16 4zm57-20zm-54-65zm-129-11zm46 100zm38 41zm4 19z"/><path stroke="#ef8632" d="M447 3047zm33 26zm14 6zm15 0zm0 27zm-25 1zm-2 31zm9-3zm12 8zm2 4zm3 8zm2 11zm14-6zm3-25zm-3-7zm29-11zm-6 62zm-52 46zm21 34zm-81-148zm86-102z"/><path stroke="#4a7cb3" d="M258 3226zm24 27zm13 2zm10 5zm-10 20zm-6 7zm3 7zm-2 14zm-1 33zm-1 3zm1 19zm5 6zm-9 5zm-19-7zm-19-39zm-14 0zm17-43zm81-3zm0 38zm-11 3zm-12 9zm-60 88z"/><path stroke="#68ad57" d="M209 2990zm52-4zm35-3zm19 5zm19 79zm-48-7zm-4 3zm-6 19zm-21 19zm-13 5zm-6-16zm-15-4zm4-5zm12-12zm11-2zm-4-7zm-41 9zm43 73zm41-28zm5-1zm11 62zm-1 6z"/><path stroke="#ef8632" d="M471 3037zm12 26zm17-2zm-1 16zm40-23zm-24 72zm2 3zm-3 20zm-3 3zm21-7zm-19 54zm20 30zm20 7zm11-38zm-96 10zm-15-17zm-2-42zm5-49zm16 13z"/><path stroke="#4a7cb3" d="M234 3321zm-5 22zm-4 43zm28 2zm6 11zm19 5zm5-3zm5 15zm-8-45zm13-25zm-17-19zm0-8zm2-1zm-12-6zm28-13zm62 18zm-36 40zm5 29zm-22 88zm-65-40zm90-195z"/><path stroke="#68ad57" d="M189 2881zm84 90zm3 70zm4 20zm-19-4zm0 8zm0 18zm9 12zm0 24zm-10-6zm-13-22zm-13 0zm-26 0zm-2 12zm8 63zm26 14zm17 27zm19-13zm35 13zm38-31zm-33-68zm4-63zm5-29zm-96 21zm19 33z"/><path stroke="#ef8632" d="M521 3011zm26 46zm-59-7zm-24 19zm7 38zm24 9zm29 9zm6 4zm-15 5zm-12 34zm-27 3zm-15 0zm4 28zm27-6zm40 19zm-8 22zm-58-96zm-2-3zm41-48z"/><path stroke="#4a7cb3" d="M250 3272zm10 6zm35-5zm8-9zm19-1zm-36-5zm-1 37zm-2 25zm13 0zm15-1zm-48 18zm2 17zm-3 26zm11 7zm14 6zm-40-1zm-49-27zm41-54zm0 194z"/><path stroke="#68ad57" d="M166 2994zm80-4zm0 79zm-12-5zm-5 22zm7 72zm64-4zm18-8zm-27-19zm-12 1zm34-31zm2-15zm30-4zm-6 34zm-53-52zm13 139z"/><path stroke="#ef8632" d="M476 3033zm17 21zm10 17zm11-3zm34 4zm-10-40zm-21 74zm-8 0zm-20-1zm6-12zm-13 34zm-10 11zm19 8zm6 0zm7 4zm0 3zm9-18zm-1-10zm20 6zm52 19zm12-41zm-152-33zm-4 99z"/><path stroke="#4a7cb3" d="M283 3247zm-16 51zm-16-11zm-13 12zm-1 57zm-17 13zm18 56zm13-12zm11 24zm24-8zm9-28zm3-1zm21-11zm-1 47zm44-14zm-83 42zm9-130zm-11-12zm31-10zm11-5zm-1-16zm8 34zm1 2z"/><path stroke="#68ad57" d="M232 3015zm38 27zm20 6zm1 5zm7 14zm-21-1zm4 27zm-17 11zm6 11zm2 3zm30 7zm-1 18zm-22 30zm-2 19zm29 1zm-17 18zm-63-23zm5-18zm5-46zm17-40zm93 40zm3 12z"/><path stroke="#ef8632" d="M504 3011zm2 71zm1 20zm29-3zm-8 15zm-9 17zm-15 3zm0 28zm-21-15zm-6 38zm15 16zm50-22zm-2-19zm21 15zm-16-47zm-71-30zm8-24zm-39 7zm-16 105zm100 54zm56-6z"/><path stroke="#4a7cb3" d="M246 3324zm38 16zm8 21zm22 1zm13 19zm-5 23zm-12 2zm-20 3zm-12-10zm57 25zm-39 42zm-44 19zm-33-14zm-23-89zm145-44zm1-4zm14 14zm-26-53zm-12 3zm-18-18z"/><path stroke="#68ad57" d="M209 2996zm46 31zm-10 13zm11 16zm4 3zm5 42zm1 14zm20 0zm5 6zm10 8zm6 25zm-25-3zm-16-6zm-10 10zm-23 13zm3 4zm-12 42zm14-104zm-9-18zm87 7zm9-1zm7-60zm-53-63zm6-55z"/><path stroke="#ef8632" d="M421 3054zm3 96zm17 17zm21 3zm-5 22zm56 6zm0-45zm4 2zm18 3zm3-39zm-16-13zm49 0zm41-17zm-21-89zm-73 36zm-86 226z"/><path stroke="#4a7cb3" d="M273 3234zm-9 66zm26 6zm-12 28zm0 5zm14 7zm-2 22zm1 14zm-23-4zm0 10zm-15 6zm19 17zm4 15zm17 0zm-37 13zm-6 18zm61 7zm-7 18zm28-75zm-18-45zm-2-6zm-100 44z"/><path stroke="#68ad57" d="M231 2960zm15 18zm24 29zm-14 23zm-20 4zm11 15zm10 34zm0 14zm-4 5zm-9 9zm-1 27zm8 4zm0 3zm-19-9zm-14-9zm69 20zm15 3zm2 25zm-35-9zm14 56zm25-99zm19-38zm-18-22zm-23-7zm4-22z"/><path stroke="#ef8632" d="M506 2988zm12 69zm4 21zm19 9zm0-26zm12 47zm-33 8zm3 5zm-21-3zm-2-12zm7-8zm-32 4zm8 17zm10 23zm5 17zm12 14zm-25 2zm-22-7zm73-29zm-55-66zm-5-27z"/><path stroke="#4a7cb3" d="M267 3305zm14 23zm-1 8zm3 4zm-35 31zm-8 8zm-4 11zm2 13zm28 4zm40-9zm7-1zm9 14zm-11-113zm8-20zm-105 84zm11 22zm-16 44z"/></g></g><rect class="ax" x="18.2" y="716.6" width="140.3" height="163.67"/>
<g clip-path="url(#c4_1)"><g transform="scale(.25)"><path stroke="#ef8632" d="M833 2972zm32 9zm19 20zm14 46zm-20 21zm-19-7zm-5 33zm-6 6zm41 7zm4 60zm-27-9zm-16-3zm-10-15zm-20-13zm83 81z"/><path stroke="#68ad57" d="M1024 3068zm53 16zm0 6zm4 20zm9-7zm20 17zm1 11zm-6-2zm-3 9zm-4 19zm-27 1zm-2-3zm-3-10zm2-8zm-7-7zm10-7zm-26 63zm-39 0zm119-5zm-10 28zm33 29zm-6-95zm-2-55zm2-6zm-23-7zm-13-11z"/><path stroke="#4a7cb3" d="M865 3278zm4 43zm18 18zm25-5zm6 13zm11-3zm-11 40zm-14 14zm-12-1zm-7-8zm-12 0zm1-7zm-15-1zm-6-15zm-26-2zm4-6zm65 55zm20 8zm19-6zm-20-162zm-129 201z"/><path stroke="#ef8632" d="M848 2959zm34 7zm-7 76zm-2 23zm-34 4zm14 18zm15 32zm2 9zm6 12zm11 6zm9-19zm16 4zm57-20zm-54-65zm-69-17zm-2-17zm-58 23zm46 100zm38 41zm4 19zm-26 31z"/><path stroke="#68ad57" d="M1037 3047zm33 26zm14 6zm16 0zm0 27zm-26 1zm-2 31zm9-3zm13 8zm2 4zm2 8zm2 11zm14-6zm3-25zm-3-7zm30-11zm-7 62zm-52 46zm21 34zm-81-148zm87-102z"/><path stroke="#4a7cb3" d="M840 3285zm40 2zm3 7zm2-14zm1-25zm10 5zm-24-7zm8 55zm0 33zm-2 3zm1 19zm6 6zm-9 5zm-19-7zm-19-39zm-15 0zm75 4zm13-9zm10-3zm0-38zm-83 138z"/><path stroke="#ef8632" d="M799 2990zm53-4zm35-3zm18 5zm20 79zm-48-7zm-5 3zm-5 19zm-21 19zm-13 5zm-7-16zm-15-4zm5-5zm12-12zm10-2zm-3-7zm-42 9zm43 73zm41-28zm5-1zm12 62zm-2 6z"/><path stroke="#68ad57" d="M1062 3037zm11 26zm18-2zm-2 16zm40-23zm-24 72zm2 3zm-3 20zm-3 3zm21-7zm-19 54zm21 30zm20 7zm11-38zm-97 10zm-15-17zm-2-42zm6-49zm15 13z"/><path stroke="#4a7cb3" d="M824 3321zm-5 22zm-4 43zm28 2zm6 11zm19 5zm5-3zm5 15zm-8-45zm14-25zm-18-19zm1-8zm2-1zm-13-6zm29-13zm61 18zm-36 40zm6 29zm-22 88zm-66-40zm90-195z"/><path stroke="#ef8632" d="M780 2881zm83 90zm3 70zm5 20zm-19-4zm0 8zm-1 18zm9 12zm1 24zm-11-6zm-13-22zm-13 0zm-26 0zm-2 12zm8 63zm27 14zm16 27zm20-13zm34 13zm38-31zm-33-68zm5-63zm4-29zm-96 21zm19 33z"/><path stroke="#68ad57" d="M1111 3011zm26 46zm-59-7zm-24 19zm8 38zm23 9zm29 9zm6 4zm-15 5zm-12 34zm-27 3zm-15 0zm4 28zm27-6zm40 19zm-8 22zm-58-96zm-2-3zm41-48z"/><path stroke="#4a7cb3" d="M840 3272zm10 6zm35-5zm9-9zm19-1zm-37-5zm-1 37zm-2 25zm13 0zm15-1zm-48 18zm3 17zm-4 26zm11 7zm14 6zm-39-1zm-50-27zm41-54zm1 194z"/><path stroke="#ef8632" d="M757 2994zm79-4zm0 79zm-12-5zm-5 22zm8 72zm63-4zm18-8zm-26-19zm-12 1zm33-31zm2-15zm30-4zm-6 34zm-53-52zm13 139z"/><path stroke="#68ad57" d="M1066 3033zm18 21zm10 17zm10-3zm35 4zm-11-40zm-21 74zm-8 0zm-20-1zm6-12zm-12 34zm-11 11zm19 8zm6 0zm8 4zm0 3zm8-18zm-1-10zm20 6zm52 19zm12-41zm-151-33zm-5 99z"/><path stroke="#4a7cb3" d="M873 3247zm-16 51zm-16-11zm-12 12zm-1 57zm-17 13zm17 56zm14-12zm10 24zm24-8zm9-28zm3-1zm22-11zm-2 47zm45-14zm-84 42zm9-130zm-10-12zm30-10zm11-5zm-1-16zm9 34zm0 2z"/><path stroke="#ef8632" d="M822 3015zm39 27zm19 6zm1 5zm7 14zm-21-1zm4 27zm-16 11zm5 11zm2 3zm30 7zm-1 18zm-22 30zm-2 19zm29 1zm-17 18zm-63-23zm5-18zm6-46zm16-40zm93 40zm3 12z"/><path stroke="#68ad57" d="M1094 3011zm3 71zm1 20zm28-3zm-7 15zm-9 17zm-15 3zm-1 28zm-21-15zm-6 38zm15 16zm50-22zm-1-19zm20 15zm-16-47zm-70-30zm7-24zm-38 7zm-17 105zm100 54zm56-6z"/><path stroke="#4a7cb3" d="M836 3324zm38 16zm9 21zm21 1zm13 19zm-5 23zm-12 2zm-20 3zm-12-10zm57 25zm-39 42zm-44 19zm-33-14zm-23-89zm145-44zm1-4zm14 14zm-26-53zm-12 3zm-18-18z"/><path stroke="#ef8632" d="M799 2996zm47 31zm-10 13zm10 16zm5 3zm4 42zm1 14zm20 0zm5 6zm11 8zm5 25zm-25-3zm-16-6zm-10 10zm-23 13zm3 4zm-12 42zm14-104zm-9-18zm87 7zm10-1zm6-60zm-53-63zm6-55z"/><path stroke="#68ad57" d="M1011 3054zm4 96zm16 17zm22 3zm-6 22zm56 6zm0-45zm5 2zm17 3zm3-39zm-16-13zm49 0zm41-17zm-21-89zm-73 36zm-86 226z"/><path stroke="#4a7cb3" d="M863 3234zm-9 66zm26 6zm-11 28zm-1 5zm14 7zm-2 22zm1 14zm-23-4zm1 10zm-16 6zm19 17zm4 15zm17 0zm-37 13zm-6 18zm62 7zm-7 18zm27-75zm-17-45zm-3-6zm-99 44z"/><path stroke="#ef8632" d="M821 2960zm16 18zm23 29zm-13 23zm-21 4zm11 15zm10 34zm0 14zm-4 5zm-8 9zm-2 27zm8 4zm0 3zm-19-9zm-14-9zm70 20zm15 3zm1 25zm-34-9zm14 56zm25-99zm18-38zm-18-22zm-23-7zm5-22z"/><path stroke="#68ad57" d="M1096 2988zm13 69zm3 21zm19 9zm0-26zm12 47zm-33 8zm3 5zm-21-3zm-2-12zm7-8zm-32 4zm8 17zm11 23zm4 17zm12 14zm-25 2zm-22-7zm73-29zm-55-66zm-5-27z"/><path stroke="#4a7cb3" d="M858 3305zm13 23zm-1 8zm3 4zm-35 31zm-8 8zm-3 11zm1 13zm28 4zm40-9zm7-1zm9 14zm-11-113zm8-20zm-105 84zm11 22zm-16 44z"/></g></g><rect class="ax" x="165.71" y="716.6" width="140.3" height="163.67"/>
<g clip-path="url(#c4_2)"><g transform="scale(.25)"><path stroke="#4a7cb3" d="M1423 2972zm33 9zm18 20zm14 46zm-20 21zm-19-7zm-5 33zm-6 6zm-7 40zm9 15zm16 3zm27 9zm10 41zm-14-101zm-68 20z"/><path stroke="#68ad57" d="M1615 3068zm53 16zm-1 6zm4 20zm10-7zm19 17zm1 11zm-5-2zm-3 9zm-4 19zm-28 1zm-2-3zm-2-10zm1-8zm-7-7zm10-7zm-26 63zm-38 0zm118-5zm-10 28zm33 29zm-6-95zm-2-55zm2-6zm-22-7zm-14-11z"/><path stroke="#ef8632" d="M1456 3278zm3 43zm18 18zm25-5zm6 13zm12-3zm-12 40zm-13 14zm-13-1zm-7-8zm-12 0zm1-7zm-15-1zm-6-15zm-26-2zm5-6zm64 55zm20 8zm19-6zm-20-162zm-128 201z"/><path stroke="#4a7cb3" d="M1439 2959zm33 7zm-7 76zm-2 23zm-34 4zm15 18zm15 32zm2 9zm5 12zm12 6zm9-19zm15 4zm57-20zm-54-65zm-68-17zm-3-17zm-58 23zm46 100zm38 41zm4 19zm-26 31z"/><path stroke="#68ad57" d="M1628 3047zm32 26zm15 6zm15 0zm0 27zm-26 1zm-1 31zm8-3zm13 8zm2 4zm2 8zm2 11zm14-6zm3-25zm-2-7zm29-11zm-6 62zm-52 46zm21 34zm-81-148zm86-102z"/><path stroke="#ef8632" d="M1430 3285zm40 2zm3 7zm-3 14zm0 33zm-2 3zm2 19zm5 6zm-9 5zm-19-7zm-19-39zm-15 0zm75 4zm13-9zm11-3zm-1-38zm-35-2zm0-25zm10 5zm-23-7zm-35 167z"/><path stroke="#4a7cb3" d="M1389 2990zm53-4zm35-3zm19 5zm19 79zm-48-7zm-5 3zm-5 19zm-21 19zm-13 5zm-7-16zm-15-4zm5-5zm12-12zm10-2zm-3-7zm-41 9zm42 73zm41-28zm6-1zm11 62zm-1 6z"/><path stroke="#68ad57" d="M1652 3037zm11 26zm18-2zm-1 16zm39-23zm-23 72zm1 3zm-2 20zm-4 3zm21-7zm-18 54zm20 30zm20 7zm11-38zm-97 10zm-15-17zm-1-42zm5-49zm16 13z"/><path stroke="#ef8632" d="M1415 3321zm-6 22zm-3 43zm27 2zm6 11zm20 5zm5-3zm5 15zm-9-45zm14-25zm-17-19zm0-8zm2-1zm-13-6zm29-13zm61 18zm-36 40zm6 29zm-22 88zm-65-40zm89-195z"/><path stroke="#4a7cb3" d="M1370 2881zm83 90zm3 70zm5 20zm-19-4zm0 8zm0 18zm9 12zm0 24zm-10-6zm-14-22zm-13 0zm-26 0zm-2 12zm8 63zm27 14zm16 27zm20-13zm34 13zm38-31zm-32-68zm4-63zm5-29zm-96 21zm19 33z"/><path stroke="#68ad57" d="M1701 3011zm-32 39zm-25 19zm8 38zm24 9zm28 9zm7 4zm-15 5zm-13 34zm-27 3zm-15 0zm4 28zm27-6zm40 19zm-8 22zm-58-96zm-2-3zm41-48zm42-30z"/><path stroke="#ef8632" d="M1431 3272zm9 6zm35-5zm9-9zm19-1zm-37-5zm0 37zm-2 25zm12 0zm15-1zm-47 18zm2 17zm-4 26zm11 7zm14 6zm-39-1zm-50-27zm42-54zm0 194z"/><path stroke="#4a7cb3" d="M1347 2994zm79-4zm0 79zm-12-5zm-4 22zm7 72zm63-4zm18-8zm-26-19zm-12 1zm34-31zm1-15zm30-4zm-6 34zm-53-52zm13 139z"/><path stroke="#68ad57" d="M1656 3033zm18 21zm10 17zm11-3zm34 4zm-10-40zm-22 74zm-8 0zm-19-1zm5-12zm-12 34zm-11 11zm19 8zm6 0zm8 4zm0 3zm9-18zm-2-10zm20 6zm53 19zm12-41zm-152-33zm-5 99z"/><path stroke="#ef8632" d="M1463 3247zm-15 51zm-16-11zm-13 12zm-1 57zm-17 13zm17 56zm14-12zm10 24zm24-8zm9-28zm3-1zm22-11zm-2 47zm45-14zm-83 42zm9-130zm-11-12zm30-10zm12-5zm-1-16zm8 34zm0 2z"/><path stroke="#4a7cb3" d="M1413 3015zm38 27zm19 6zm1 5zm7 14zm-20-1zm4 27zm-17 11zm6 11zm1 3zm31 7zm-2 18zm-22 30zm-2 19zm29 1zm-17 18zm-62-23zm5-18zm5-46zm17-40zm93 40zm3 12z"/><path stroke="#68ad57" d="M1684 3011zm3 71zm1 20zm28-3zm-7 15zm-9 17zm-15 3zm0 28zm-21-15zm-7 38zm15 16zm50-22zm-1-19zm20 15zm-16-47zm-70-30zm7-24zm-38 7zm-16 105zm100 54zm56-6z"/><path stroke="#ef8632" d="M1427 3324zm38 16zm8 21zm21 1zm13 19zm-4 23zm-13 2zm-20 3zm-11-10zm57 25zm-40 42zm-44 19zm-33-14zm-22-89zm144-44zm2-4zm13 14zm-25-53zm-13 3zm-18-18z"/><path stroke="#4a7cb3" d="M1389 2996zm47 31zm-10 13zm10 16zm5 3zm4 42zm1 14zm21 0zm5 6zm10 8zm5 25zm-24-3zm-16-6zm-11 10zm-23 13zm3 4zm-12 42zm15-104zm-10-18zm87 7zm10-1zm6-60zm-53-63zm7-55z"/><path stroke="#68ad57" d="M1601 3054zm4 96zm16 17zm22 3zm-6 22zm56 6zm0-45zm5 2zm17 3zm3-39zm-15-13zm48 0zm42-17zm-22-89zm-73 36zm-86 226z"/><path stroke="#ef8632" d="M1453 3234zm-8 66zm25 6zm-11 28zm-1 5zm14 7zm-1 22zm1 14zm-24-4zm1 10zm-16 6zm20 17zm3 15zm17 0zm-37 13zm-6 18zm62 7zm-7 18zm27-75zm-17-45zm-2-6zm-100 44z"/><path stroke="#4a7cb3" d="M1411 2960zm16 18zm23 29zm-13 23zm-20 4zm11 15zm9 34zm0 14zm-4 5zm-8 9zm-1 27zm8 4zm-1 3zm-19-9zm-14-9zm70 20zm15 3zm2 25zm-35-9zm14 56zm25-99zm19-38zm-18-22zm-23-7zm4-22z"/><path stroke="#68ad57" d="M1687 2988zm12 69zm3 21zm20 9zm-1-26zm12 47zm-32 8zm2 5zm-21-3zm-1-12zm6-8zm-31 4zm7 17zm11 23zm5 17zm11 14zm-25 2zm-22-7zm73-29zm-55-66zm-4-27z"/><path stroke="#ef8632" d="M1448 3305zm13 23zm-1 8zm3 4zm-35 31zm-7 8zm-4 11zm1 13zm28 4zm41-9zm7-1zm9 14zm-11-113zm7-20zm-104 84zm10 22zm-15 44z"/></g></g><rect class="ax" x="313.22" y="716.6" width="140.3" height="163.67"/>
<g clip-path="url(#c4_3)"><g transform="scale(.25)"><path stroke="#ef8632" d="M2013 2972zm33 9zm18 20zm14 46zm-20 21zm-19-7zm-5 33zm-6 6zm-7 40zm10 15zm15 3zm28 9zm9 41zm-13-101zm-69 20z"/><path stroke="#68ad57" d="M2205 3068zm53 16zm0 6zm4 20zm9-7zm20 17zm0 11zm-5-2zm-3 9zm-4 19zm-28 1zm-2-3zm-2-10zm2-8zm-8-7zm11-7zm70 20zm-17 38zm-9 28zm33 29zm-104-52zm-38 0zm99-122zm14 11zm23 7zm-2 6z"/><path stroke="#4a7cb3" d="M2046 3278zm3 43zm19 18zm24-5zm7 13zm11-3zm-11 40zm-14 14zm-13-1zm-6-8zm-12 0zm1-7zm-16-1zm-5-15zm-27-2zm5-6zm65 55zm20 8zm18-6zm-20-162zm-128 201z"/><path stroke="#ef8632" d="M2029 2959zm34 7zm-8 76zm-2 23zm-34 4zm15 18zm15 32zm2 9zm5 12zm12 6zm9-19zm16 4zm57-20zm-54-65zm-69-17zm-3-17zm-57 23zm45 100zm38 41zm5 19zm-26 31z"/><path stroke="#68ad57" d="M2218 3047zm32 26zm15 6zm15 0zm0 27zm-26 1zm-1 31zm9-3zm12 8zm2 4zm3 8zm2 11zm13-6zm4-25zm-3-7zm29-11zm-6 62zm-52 46zm21 34zm-81-148zm86-102z"/><path stroke="#4a7cb3" d="M2020 3285zm40 2zm3 7zm-2 14zm5-28zm0-25zm10 5zm-23-7zm48 29zm1 38zm-11 3zm-12 9zm-19 9zm-1 3zm1 19zm5 6zm-9 5zm-19-7zm-19-39zm-15 0zm15 92z"/><path stroke="#ef8632" d="M1980 2990zm52-4zm35-3zm19 5zm19 79zm-48-7zm-4 3zm-6 19zm-21 19zm-13 5zm-7-16zm-15-4zm5-5zm12-12zm10-2zm-3-7zm-41 9zm43 73zm41-28zm5-1zm11 62zm-1 6z"/><path stroke="#68ad57" d="M2242 3037zm11 26zm18-2zm-1 16zm39-23zm-23 72zm2 3zm-3 20zm-4 3zm21-7zm-18 54zm20 30zm20 7zm11-38zm-97 10zm-14-17zm-2-42zm5-49zm16 13z"/><path stroke="#4a7cb3" d="M2005 3321zm-5 22zm-4 43zm27 2zm6 11zm20 5zm5-3zm5 15zm-9-45zm14-25zm-17-19zm0-8zm2-1zm-13-6zm29-13zm62 18zm-37 40zm6 29zm-22 88zm-65-40zm90-195z"/><path stroke="#ef8632" d="M1960 2881zm84 90zm3 70zm4 20zm-19-4zm0 8zm0 18zm9 12zm0 24zm-10-6zm-13-22zm-14 0zm-26 0zm-2 12zm9 63zm26 14zm17 27zm19-13zm34 13zm39-31zm-33-68zm4-63zm5-29zm-96 21zm19 33z"/><path stroke="#68ad57" d="M2292 3011zm26 46zm-59-7zm-24 19zm7 38zm24 9zm29 9zm6 4zm-15 5zm-12 34zm-28 3zm-15 0zm4 28zm28-6zm39 19zm-8 22zm-57-96zm-3-3zm42-48z"/><path stroke="#4a7cb3" d="M2021 3272zm9 6zm36-5zm8-9zm19-1zm-36-5zm-1 37zm-2 25zm13 0zm15-1zm-48 18zm2 17zm-4 26zm12 7zm13 6zm-39-1zm-49-27zm41-54zm0 194z"/><path stroke="#ef8632" d="M1937 2994zm80-4zm-1 79zm-12-5zm-4 22zm7 72zm63-4zm18-8zm-26-19zm-12 1zm34-31zm2-15zm30-4zm-6 34zm-54-52zm13 139z"/><path stroke="#68ad57" d="M2246 3033zm18 21zm10 17zm11-3zm34 4zm-10-40zm-22 74zm-8 0zm-19-1zm6-12zm-13 34zm-11 11zm20 8zm6 0zm7 4zm0 3zm9-18zm-1-10zm20 6zm52 19zm12-41zm-152-33zm-4 99z"/><path stroke="#4a7cb3" d="M2054 3247zm-16 51zm-16-11zm-13 12zm-1 57zm-17 13zm17 56zm14-12zm10 24zm25-8zm9-28zm3-1zm21-11zm-1 47zm44-14zm-83 42zm9-130zm-11-12zm31-10zm11-5zm-1-16zm8 34zm1 2z"/><path stroke="#ef8632" d="M2003 3015zm38 27zm19 6zm1 5zm8 14zm-21-1zm4 27zm-17 11zm6 11zm1 3zm31 7zm-2 18zm-21 30zm-2 19zm11 19zm18-18zm-80-5zm5-18zm5-46zm17-40zm93 40zm3 12z"/><path stroke="#68ad57" d="M2275 3011zm2 71zm1 20zm28-3zm-7 15zm-9 17zm-15 3zm0 28zm-21-15zm-7 38zm16 16zm50-22zm-2-19zm21 15zm-17-47zm-70-30zm7-24zm-38 7zm-16 105zm100 54zm56-6z"/><path stroke="#4a7cb3" d="M2017 3324zm38 16zm8 21zm21 1zm13 19zm-4 23zm-12 2zm-21 3zm-11-10zm57 25zm-39 42zm-44 19zm-33-14zm-23-89zm145-44zm1-4zm13 14zm-25-53zm-12 3zm-18-18z"/><path stroke="#ef8632" d="M1980 2996zm46 31zm-10 13zm11 16zm4 3zm5 42zm0 14zm21 0zm5 6zm10 8zm5 25zm-24-3zm-16-6zm-10 10zm-24 13zm3 4zm-11 42zm48 20zm-34-124zm-9-18zm87 7zm9-1zm7-60zm-53-63zm6-55z"/><path stroke="#68ad57" d="M2192 3054zm3 96zm17 17zm21 3zm-6 22zm56 6zm1-45zm4 2zm18 3zm3-39zm-16-13zm49 0zm41-17zm-21-89zm-73 36zm-86 226z"/><path stroke="#4a7cb3" d="M2035 3300zm26 6zm-12 28zm-1 5zm14 7zm-1 22zm1 14zm-23-4zm0 10zm-16 6zm20 17zm3 15zm18 0zm-37 13zm-6 18zm61 7zm-7 18zm27-75zm-17-45zm-2-6zm-100 44z"/><path stroke="#ef8632" d="M2001 2960zm16 18zm23 29zm-13 23zm-20 4zm11 15zm10 34zm-1 14zm-3 5zm-9 9zm-1 27zm8 4zm0 3zm-19-9zm-14-9zm69 20zm15 3zm2 25zm-35-9zm14 56zm25-99zm19-38zm-18-22zm-23-7zm4-22z"/><path stroke="#68ad57" d="M2277 2988zm12 69zm4 21zm19 9zm0-26zm12 47zm-33 8zm2 5zm-20-3zm-2-12zm7-8zm-32 4zm8 17zm10 23zm5 17zm12 14zm-25 2zm-22-7zm73-29zm-56-66zm-4-27z"/><path stroke="#4a7cb3" d="M2038 3305zm14 23zm-2 8zm3 4zm-35 31zm-7 8zm-4 11zm1 13zm-12-19zm-11-22zm-5 66zm57-21zm40-9zm7-1zm9 14zm-11-113zm7-20z"/></g></g><rect class="ax" x="460.73" y="716.6" width="141.1" height="163.67"/>
<g clip-path="url(#c4_4)"><g transform="scale(.25)"><path stroke="#4a7cb3" d="M2604 2972zm32 9zm18 20zm14 46zm-19 21zm-20-7zm-5 33zm-6 6zm-7 40zm10 15zm15 3zm28 9zm10 41zm-14-101zm-69 20z"/><path stroke="#ef8632" d="M2795 3068zm53 16zm0 6zm4 20zm9-7zm20 17zm0 11zm-5-2zm-3 9zm-4 19zm-27 1zm-2-3zm-3-10zm2-8zm-8-7zm11-7zm-27 63zm-38 0zm118-5zm-9 28zm33 29zm-6-95zm-2-55zm2-6zm-23-7zm-14-11z"/><path stroke="#68ad57" d="M2636 3278zm4 43zm18 18zm24-5zm7 13zm11-3zm-11 40zm-14 14zm-13-1zm-6-8zm-12 0zm1-7zm-15-1zm-6-15zm-26-2zm4-6zm65 55zm20 8zm18-6zm-20-162zm-128 201z"/><path stroke="#4a7cb3" d="M2619 2959zm34 7zm-38 46zm2 17zm28 13zm-1 23zm-35 4zm15 18zm15 32zm2 9zm5 12zm12 6zm9-19zm16 4zm57-20zm-54-65zm-129-11zm46 100zm38 41zm4 19zm-26 31z"/><path stroke="#ef8632" d="M2808 3047zm33 26zm14 6zm16 0zm-1 27zm-25 1zm-2 31zm9-3zm12 8zm3 4zm2 8zm2 11zm14-6zm3-25zm-3-7zm30-11zm-7 62zm-52 46zm21 34zm-81-148zm86-102z"/><path stroke="#68ad57" d="M2611 3285zm39 2zm3 7zm-2 14zm5-28zm0-25zm10 5zm-23-7zm49 29zm0 38zm-10 3zm-13 9zm-19 9zm-1 3zm1 19zm5 6zm-8 5zm-19-7zm-20-39zm-14 0zm15 92z"/><path stroke="#4a7cb3" d="M2570 2990zm52-4zm35-3zm19 5zm19 79zm-48-7zm-4 3zm-6 19zm-21 19zm-13 5zm-6-16zm-15-4zm4-5zm13-12zm10-2zm-4-7zm-41 9zm43 73zm41-28zm5-1zm11 62zm-1 6z"/><path stroke="#ef8632" d="M2833 3037zm11 26zm17-2zm-1 16zm40-23zm-24 72zm2 3zm-3 20zm-3 3zm21-7zm-19 54zm20 30zm20 7zm12-38zm-97 10zm-15-17zm-2-42zm5-49zm16 13z"/><path stroke="#68ad57" d="M2595 3321zm-5 22zm-4 43zm28 2zm6 11zm19 5zm5-3zm5 15zm-8-45zm13-25zm-17-19zm0-8zm3-1zm-13-6zm28-13zm62 18zm-36 40zm5 29zm-22 88zm-65-40zm90-195z"/><path stroke="#4a7cb3" d="M2550 2881zm84 90zm3 70zm4 20zm-18 4zm-1-8zm0 26zm9 12zm0 24zm-10-6zm-13-22zm-13 0zm-26 0zm-2 12zm8 63zm26 14zm17 27zm19-13zm35 13zm38-31zm-33-68zm4-63zm5-29zm-96 21zm19 33z"/><path stroke="#ef8632" d="M2882 3011zm26 46zm-59-7zm-24 19zm7 38zm24 9zm29 9zm6 4zm-15 5zm-12 34zm-27 3zm-15 0zm4 28zm27-6zm40 19zm-8 22zm-58-96zm-2-3zm41-48z"/><path stroke="#68ad57" d="M2611 3272zm10 6zm35-5zm8-9zm20-1zm-37-5zm-1 37zm-2 25zm13 0zm15-1zm-48 18zm2 17zm-3 26zm11 7zm14 6zm-40-1zm-49-27zm41-54zm0 194z"/><path stroke="#4a7cb3" d="M2528 2994zm79-4zm0 79zm-12-5zm-5 22zm7 72zm64-4zm18-8zm-27-19zm-12 1zm34-31zm2-15zm30-4zm-6 34zm-53-52zm13 139z"/><path stroke="#ef8632" d="M2837 3033zm18 21zm10 17zm10-3zm34 4zm-10-40zm-21 74zm-8 0zm-20-1zm6-12zm-13 34zm-10 11zm19 8zm6 0zm7 4zm0 3zm9-18zm-1-10zm20 6zm52 19zm12-41zm-152-33zm-4 99z"/><path stroke="#68ad57" d="M2644 3247zm-16 51zm-16-11zm-13 12zm0 57zm-17 13zm17 56zm13-12zm11 24zm24-8zm9-28zm3-1zm21-11zm-1 47zm45-14zm-84 42zm9-130zm-11-12zm31-10zm11-5zm-1-16zm8 34zm1 2z"/><path stroke="#4a7cb3" d="M2593 3015zm38 27zm20 6zm1 5zm7 14zm-21-1zm4 27zm-17 11zm6 11zm2 3zm30 7zm-1 18zm-22 30zm-2 19zm29 1zm-17 18zm-63-23zm5-18zm5-46zm17-40zm93 40zm3 12z"/><path stroke="#ef8632" d="M2865 3011zm3 71zm1 20zm28-3zm-8 15zm-9 17zm-14 3zm-1 28zm-21-15zm-6 38zm15 16zm50-22zm-2-19zm21 15zm-16-47zm-71-30zm8-24zm-38 7zm-17 105zm100 54zm56-6z"/><path stroke="#68ad57" d="M2607 3324zm38 16zm8 21zm22 1zm13 19zm-5 23zm-12 2zm-20 3zm-12-10zm57 25zm-39 42zm-44 19zm-33-14zm-23-89zm145-44zm1-4zm14 14zm-26-53zm-12 3zm-18-18z"/><path stroke="#4a7cb3" d="M2570 2996zm47 31zm-10 13zm10 16zm4 3zm5 42zm1 14zm20 0zm5 6zm10 8zm6 25zm-25-3zm-16-6zm-10 10zm-23 13zm3 4zm-12 42zm49 20zm-35-124zm-9-18zm87 7zm9-1zm7-60zm-53-63zm6-55z"/><path stroke="#ef8632" d="M2782 3054zm3 96zm17 17zm21 3zm-5 22zm56 6zm0-45zm4 2zm18 3zm3-39zm-16-13zm49 0zm41-17zm-21-89zm-73 36zm-86 226z"/><path stroke="#68ad57" d="M2625 3300zm26 6zm-12 28zm0 5zm14 7zm-2 22zm1 14zm-23-4zm1 10zm-16 6zm19 17zm4 15zm17 0zm-37 13zm-6 18zm62 7zm-8 18zm28-75zm-18-45zm-2-6zm-99 44z"/><path stroke="#4a7cb3" d="M2592 2960zm15 18zm24 29zm-14 23zm-20 4zm11 15zm10 34zm0 14zm-4 5zm-9 9zm-1 27zm8 4zm0 3zm-19-9zm-14-9zm70 20zm14 3zm2 25zm-35-9zm14 56zm25-99zm19-38zm-18-22zm-23-7zm4-22z"/><path stroke="#ef8632" d="M2867 2988zm12 69zm4 21zm19 9zm0-26zm12 47zm-33 8zm3 5zm-21-3zm-2-12zm7-8zm-32 4zm8 17zm11 23zm4 17zm12 14zm-25 2zm-22-7zm73-29zm-55-66zm-5-27z"/><path stroke="#68ad57" d="M2628 3305zm14 23zm-1 8zm3 4zm-35 31zm-8 8zm-4 11zm2 13zm28 4zm40-9zm7-1zm9 14zm-11-113zm8-20zm-105 84zm11 22zm-16 44z"/></g></g><rect class="ax" x="608.25" y="716.6" width="141.1" height="163.67"/>
<g clip-path="url(#c4_5)"><g transform="scale(.25)"><path stroke="#4a7cb3" d="M3194 2972zm33 9zm18 20zm14 46zm-20 21zm-19-7zm-5 33zm-6 6zm41 7zm4 60zm-27-9zm-16-3zm-10-15zm-20-13zm83 81zm12 45zm-50 25zm4 43zm18 18zm25-5zm6 13zm11-3zm-11 40zm-14 14zm-12-1zm-7-8zm-12 0zm1-7zm-15-1zm-6-15zm-26-2zm5-6zm64 55zm20 8zm19-6zm-149 39zm221-268zm38 0zm26-28zm-2-3zm-3-10zm2-8zm-7-7zm10-7zm10-13zm9-7zm-13-13zm0-6zm29-20zm13 11zm23 7zm-2 6zm2 55zm-31-12zm-6-2zm-3 9zm-4 19zm12-37zm15 61zm-10 28zm33 29zm-124-170z"/><path stroke="#4a7cb3" d="M3209 2959zm34 7zm-7 76zm-2 23zm-34 4zm15 18zm14 32zm2 9zm6 12zm11 6zm9-19zm16 4zm57-20zm56 0zm49-4zm26-1zm0-27zm-16 0zm-14-6zm-32-26zm74-38zm2 119zm3 7zm-3 25zm-14 6zm-2-11zm-2-8zm-2-4zm-13-8zm-9 3zm72-21zm-7 62zm-52 46zm21 34zm-185 23zm0 38zm-10 3zm-13 9zm-18 9zm-2 3zm1 19zm6 6zm-9 5zm-19-7zm-19-39zm-15 0zm17-43zm40 2zm3 7zm2-14zm1-25zm10 5zm-24-7zm-24-27zm26-31zm-4-19zm-38-41zm14-106zm-2-17zm-58 23zm129 11zm-35 262zm-42 112z"/><path stroke="#4a7cb3" d="M3160 2990zm53-4zm35-3zm18 5zm20 79zm-48-7zm-5 3zm-5 19zm-21 19zm-13 5zm-7-16zm-15-4zm5-5zm12-12zm10-2zm-3-7zm-42 9zm43 73zm41-28zm5-1zm12 62zm-2 6zm26 58zm-33 60zm-16 19zm-2 1zm0 8zm-11-15zm-32 9zm-5 22zm-4 43zm28 2zm6 11zm19 5zm5-3zm5 15zm-8-45zm14-25zm26 11zm6 29zm30-69zm-52 157zm-66-40zm230-226zm-15-17zm-1-42zm5-49zm16 13zm43 13zm1 3zm-3 20zm-3 3zm21-7zm-18 54zm20 30zm20 7zm11-38zm-26-144zm-38 7zm-2 16zm-16-14zm-11-26z"/><path stroke="#4a7cb3" d="M3224 2971zm3 70zm5 20zm-19-4zm0 8zm-13 5zm-2 21zm-13 0zm-26 0zm-2 12zm55 10zm10 6zm-1-24zm-9-12zm-31-46zm91 8zm4-29zm-9 92zm33 68zm-38 31zm-34-13zm-20 13zm-16-27zm-27-14zm36 106zm10 6zm35-5zm9-9zm19-1zm-37-5zm0 37zm-3 25zm13 0zm15-1zm-48 18zm3 17zm-4 26zm11 7zm14 6zm-39-1zm-50-27zm41-54zm1 194zm225-306zm-4-28zm15 0zm27-3zm-11 25zm40 19zm-8 22zm-8-100zm8-9zm6 4zm-35-13zm-23-9zm-8 28zm2 3zm-2-69zm25-19zm16 37zm42-30zm-26-46z"/><path stroke="#68ad57" d="M3141 2881z"/><path stroke="#4a7cb3" d="M3118 2994zm79-4zm0 79zm-12-5zm-5 22zm8 72zm63-4zm18-8zm-26-19zm-12 1zm33-31zm2-15zm30-4zm-6 34zm-53-52zm13 139zm-16 48zm-16 51zm-16-11zm-12 12zm-1 57zm-17 13zm17 56zm14-12zm10 24zm24-8zm9-28zm3-1zm22-11zm-2 47zm45-14zm-83 42zm8-130zm-10-12zm30-10zm11-5zm-1-16zm9 34zm0 2zm113-152zm32-37zm11-11zm8 19zm6 0zm8 4zm0 3zm9-18zm-2-10zm-3-19zm8 0zm-28-1zm6-12zm9-22zm10-3zm-20-14zm-18-21zm63-1zm10 40zm-17 59zm53 19zm11-41zm-151-33z"/><path stroke="#4a7cb3" d="M3184 3015zm38 27zm19 6zm1 5zm7 14zm-20-1zm3 27zm-16 11zm5 11zm2 3zm30 7zm-1 18zm-22 30zm-2 19zm29 1zm-17 18zm11 69zm18 18zm12-3zm12 39zm-1 4zm15 10zm-42 14zm-21-1zm-9-21zm-37-16zm31 75zm12 10zm20-3zm12-2zm5-23zm8 43zm-39 42zm-44 19zm-33-14zm-23-89zm31-194zm4-18zm6-46zm16-40zm93 40zm3 12zm78 50zm50-1zm15 16zm12-39zm1-28zm15-3zm9-17zm7-15zm-28 3zm-1-20zm-25-8zm-7 24zm-31-17zm39 66zm58 13zm1 19zm19-4zm-16-47zm-18 112zm56-6zm-79-223z"/><path stroke="#4a7cb3" d="M3160 2996zm47 31zm-10 13zm10 16zm5 3zm4 42zm1 14zm20 0zm6 6zm10 8zm5 25zm-24-3zm-17-6zm-10 10zm-23 13zm3 4zm-12 42zm49 20zm-9 66zm26 6zm-11 28zm-1 5zm14 7zm-2 22zm2 14zm-24-4zm1 10zm-16 6zm19 17zm4 15zm17 0zm-37 13zm-6 18zm62 7zm-7 18zm27-75zm-17-45zm-3-6zm-99 44zm26-290zm-10-18zm87 7zm10-1zm6-60zm89 16zm4 96zm16 17zm22 3zm-6 22zm56 6zm0-45zm5 2zm17 3zm3-39zm-16-13zm49 0zm42-17zm-22-89zm-73 36zm-239-61zm7-55z"/><path stroke="#ef8632" d="M3383 3262z"/><path stroke="#4a7cb3" d="M3182 2960zm16 18zm23 29zm-13 23zm-21 4zm11 15zm10 34zm0 14zm-4 5zm-8 9zm-1 27zm7 4zm0 3zm-19-9zm-14-9zm70 20zm15 3zm1 25zm-34-9zm14 56zm35 56zm-8 20zm-43 7zm13 23zm-1 8zm3 4zm-35 31zm-7 8zm-4 11zm1 13zm28 4zm41-9zm6-1zm9 14zm-97-27zm-11-22zm-5 66zm100-305zm19-38zm-19-22zm-22-7zm4-22zm185 12zm5 27zm-6 29zm8 17zm19-1zm-2-12zm7-8zm14 18zm2 5zm13 18zm-42 3zm4 17zm12 14zm-25 2zm-22-7zm59-90zm-3-21zm22 4zm1 26zm11 21zm-47-120z"/></g></g><rect class="ax" x="755.76" y="716.6" width="141.1" height="163.67"/>
<g clip-path="url(#c4_6)"><g transform="scale(.25)"><path stroke="#4a7cb3" d="M3784 2972zm33 9zm18 20zm14 46zm-20 21zm-19-7zm-5 33zm-6 6zm-7 40zm9 15zm16 3zm27 9zm10 41zm12 45zm-49 25zm3 43zm19 18zm24-5zm6 13zm12-3zm-12 40zm-13 14zm-13-1zm-6-8zm-13 0zm1-7zm-15-1zm-6-15zm-26-2zm5-6zm64 55zm20 8zm19-6zm-148 39zm34-327zm68-20z"/><path stroke="#ef8632" d="M3976 3068zm53 16zm-1 6zm4 20zm10-7zm19 17zm1 11zm-5-2zm-3 9zm-4 19zm-28 1zm-2-3zm-2-10zm1-8zm-7-7zm10-7zm-26 63zm-38 0zm118-5zm-10 28zm33 29zm-6-95zm-2-55zm2-6zm-22-7zm-14-11z"/><path stroke="#4a7cb3" d="M3800 2959zm34 7zm-8 76zm-2 23zm-34 4zm15 18zm15 32zm2 9zm5 12zm12 6zm9-19zm15 4zm-80 4zm38 41zm5 19zm-27 31zm25 27zm13 2zm10 5zm-10 20zm-6 7zm3 7zm-3 14zm0 33zm-1 3zm1 19zm5 6zm-9 5zm-19-7zm-19-39zm-15 0zm17-43zm81-3zm1 38zm-11 3zm-13 9zm-60 88zm9-391zm-3-17zm-58 23zm129 11z"/><path stroke="#ef8632" d="M3989 3047zm32 26zm15 6zm15 0zm0 27zm-26 1zm-1 31zm8-3zm13 8zm2 4zm2 8zm2 11zm14-6zm3-25zm-2-7zm29-11zm-6 62zm-52 46zm21 34zm-81-148zm86-102z"/><path stroke="#000000" d="M3921 3111z"/><path stroke="#4a7cb3" d="M3750 2990zm53-4zm35-3zm19 5zm19 79zm-48-7zm-5 3zm-5 19zm-21 19zm-13 5zm-7-16zm-15-4zm5-5zm12-12zm10-2zm-3-7zm-41 9zm42 73zm42-28zm5-1zm11 62zm-1 6zm26 58zm-34 60zm-16 19zm-2 1zm0 8zm-11-15zm-31 9zm-6 22zm-3 43zm27 2zm6 11zm20 5zm5-3zm5 15zm-9-45zm14-25zm26 11zm6 29zm31-69zm-53 157zm-65-40z"/><path stroke="#ef8632" d="M4013 3037zm11 26zm18-2zm-1 16zm39-23zm-23 72zm1 3zm-2 20zm-4 3zm21-7zm-18 54zm20 30zm20 7zm11-38zm-97 10zm-15-17zm-1-42zm5-49zm16 13z"/><path stroke="#4a7cb3" d="M3814 2971zm3 70zm5 20zm-19-4zm0 8zm0 18zm9 12zm0 24zm-10-6zm-14-22zm-13 0zm-26 0zm-2 12zm8 63zm27 14zm16 27zm20-13zm34 13zm-7 57zm-9 9zm-9-15zm0 37zm-2 25zm12 0zm15-1zm-47 18zm2 17zm-4 26zm12 7zm13 6zm-39-1zm-50-27zm42-54zm11-39zm9 6zm63-15zm-6-155zm4-63zm5-29zm-96 21zm19 33z"/><path stroke="#ef8632" d="M4063 3011zm25 46zm-58-7zm-25 19zm8 38zm24 9zm28 9zm7 4zm-15 5zm-13 34zm-27 3zm-15 0zm4 28zm27-6zm40 19zm-8 22zm-58-96zm-2-3zm42-48z"/><path stroke="#000000" d="M3731 2881zm160 295zm-110 329z"/><path stroke="#4a7cb3" d="M3787 2990zm0 79zm-12-5zm-4 22zm7 72zm63-4zm18-8zm-26-19zm-12 1zm34-31zm1-15zm30-4zm-6 34zm-53-52zm13 139zm-15 48zm-16 51zm-16-11zm-13 12zm-1 57zm-17 13zm17 56zm14-12zm10 24zm25-8zm8-28zm3-1zm22-11zm-1 47zm44-14zm-83 42zm9-130zm-11-12zm30-10zm12-5zm-1-16zm8 34zm0 2z"/><path stroke="#ef8632" d="M4017 3033zm18 21zm10 17zm11-3zm34 4zm-10-40zm-22 74zm-8 0zm-19-1zm6-12zm-13 34zm-11 11zm20 8zm5 0zm8 4zm0 3zm9-18zm-2-10zm20 6zm53 19zm12-41zm-152-33zm-5 99z"/><path stroke="#000000" d="M3708 2994z"/><path stroke="#4a7cb3" d="M3774 3015zm38 27zm19 6zm1 5zm7 14zm-20-1zm4 27zm-17 11zm6 11zm1 3zm31 7zm-2 18zm-22 30zm-2 19zm12 19zm18-18zm-80-5zm5-18zm5-46zm17-40zm93 40zm3 12zm-19 159zm-13 3zm-18-18zm-15 60zm8 21zm21 1zm13 19zm-4 23zm-13 2zm-20 3zm-11-10zm57 25zm-40 42zm-44 19zm-33-14zm-22-89zm50-58zm96 10zm-2 4zm15 10z"/><path stroke="#ef8632" d="M4045 3011zm3 71zm1 20zm28-3zm-7 15zm-9 17zm-15 3zm0 28zm-21-15zm-7 38zm15 16zm50-22zm-1-19zm21 15zm-17-47zm-70-30zm7-24zm-38 7zm-16 105zm100 54zm56-6z"/><path stroke="#4a7cb3" d="M3750 2996zm47 31zm-10 13zm11 16zm4 3zm5 42zm0 14zm21 0zm5 6zm10 8zm5 25zm-24-3zm-16-6zm-11 10zm-23 13zm3 4zm-12 42zm49 20zm-8 66zm25 6zm-11 28zm-1 5zm14 7zm-1 22zm1 14zm-24-4zm1 10zm-16 6zm20 17zm3 15zm18 0zm-38 13zm-6 18zm62 7zm-7 18zm27-75zm-17-45zm-2-6zm-100 44zm26-290zm-10-18zm87 7zm10-1zm6-60zm-53-63z"/><path stroke="#ef8632" d="M3962 3054zm4 96zm16 17zm22 3zm-6 22zm56 6zm0-45zm5 2zm18 3zm2-39zm-15-13zm48 0zm-52-70z"/><path stroke="#000000" d="M3827 2920zm305 80zm22 89zm-181 173z"/><path stroke="#4a7cb3" d="M3772 2960zm16 18zm23 29zm-13 23zm-20 4zm11 15zm9 34zm0 14zm-4 5zm-8 9zm-1 27zm8 4zm-1 3zm-19-9zm-14-9zm70 20zm15 3zm2 25zm-35-9zm14 56zm35 56zm-7 20zm-44 7zm13 23zm-1 8zm3 4zm-35 31zm-7 8zm-4 11zm1 13zm28 4zm41-9zm7-1zm9 14zm-98-27zm-10-22zm-5 66zm99-305zm19-38zm-18-22zm-23-7zm4-22z"/><path stroke="#ef8632" d="M4048 2988zm12 69zm3 21zm20 9zm-1-26zm12 47zm-32 8zm2 5zm-21-3zm-1-12zm6-8zm-31 4zm7 17zm11 23zm5 17zm11 14zm-25 2zm-22-7zm73-29zm-55-66zm-4-27z"/></g></g><rect class="ax" x="903.27" y="716.6" width="141.1" height="163.67"/>
<g clip-path="url(#c4_7)"><g transform="scale(.25)"><path stroke="#4a7cb3" d="M4374 2972zm33 9zm18 20zm14 46zm-20 21zm-19-7zm-5 33zm-6 6zm-7 40zm10 15zm15 3zm28 9zm9 41zm12 45zm-49 25zm3 43zm19 18zm24-5zm7 13zm11-3zm-11 40zm-14 14zm-13-1zm-6-8zm-12 0zm1-7zm-16-1zm-5-15zm-27-2zm5-6zm65 55zm20 8zm18-6zm-148 39zm34-327zm69-20z"/><path stroke="#ef8632" d="M4566 3068zm53 16zm0 6zm4 20zm9-7zm20 17zm0 11zm-5-2zm-3 9zm-4 19zm-28 1zm-2-3zm-2-10zm2-8zm-8-7zm11-7zm70 20zm-17 38zm-9 28zm33 29zm-104-52zm-38 0zm99-122zm14 11zm23 7zm-2 6z"/><path stroke="#4a7cb3" d="M4390 2959zm34 7zm-38 46zm2 17zm28 13zm-2 23zm-34 4zm15 18zm15 32zm2 9zm5 12zm12 6zm9-19zm16 4zm57-20zm-54-65zm-129-11zm45 100zm38 41zm5 19zm-26 31zm24 27zm13 2zm10 5zm-10 20zm-6 7zm3 7zm-2 14zm-1 33zm-1 3zm1 19zm5 6zm-9 5zm-19-7zm-19-39zm-15 0zm18-43zm81-3zm0 38zm-11 3zm-12 9zm-60 88z"/><path stroke="#ef8632" d="M4579 3047zm33 26zm14 6zm15 0zm0 27zm-25 1zm-2 31zm9-3zm12 8zm2 4zm3 8zm2 11zm13-6zm4-25zm-3-7zm29-11zm-6 62zm-52 46zm21 34zm-81-148zm86-102z"/><path stroke="#4a7cb3" d="M4341 2990zm52-4zm35-3zm19 5zm19 79zm-48-7zm-4 3zm-6 19zm-21 19zm-13 5zm-7-16zm-15-4zm5-5zm12-12zm11-2zm-4-7zm-41 9zm43 73zm41-28zm5-1zm11 62zm-1 6zm26 58zm-34 60zm-16 19zm-2 1zm0 8zm-11-15zm-31 9zm-5 22zm-4 43zm27 2zm6 11zm20 5zm5-3zm5 15zm-8-45zm13-25zm27 11zm5 29zm31-69zm-53 157zm-65-40z"/><path stroke="#ef8632" d="M4603 3037zm12 26zm17-2zm-1 16zm39-23zm-23 72zm2 3zm-3 20zm-4 3zm21-7zm-18 54zm20 30zm20 7zm11-38zm-96 10zm-15-17zm-2-42zm5-49zm16 13z"/><path stroke="#4a7cb3" d="M4405 2971zm3 70zm4 20zm-19-4zm0 8zm0 18zm9 12zm0 24zm-10-6zm-13-22zm-14 0zm-26 0zm-2 12zm9 63zm26 14zm17 27zm19-13zm34 13zm-7 57zm-8 9zm-9-15zm-1 37zm-2 25zm13 0zm15-1zm-48 18zm2 17zm-3 26zm11 7zm13 6zm-39-1zm-49-27zm41-54zm11-39zm9 6zm63-15zm27-87zm-33-68zm4-63zm5-29zm-96 21zm19 33zm-9 435z"/><path stroke="#ef8632" d="M4653 3011zm26 46zm-59-7zm-24 19zm7 38zm24 9zm29 9zm6 4zm-15 5zm-12 34zm-28 3zm-15 0zm5 28zm27-6zm39 19zm-8 22zm-57-96zm-3-3zm42-48z"/><path stroke="#000000" d="M4321 2881z"/><path stroke="#4a7cb3" d="M4298 2994zm80-4zm-1 79zm-11-5zm-5 22zm7 72zm64-4zm17-8zm-26-19zm-12 1zm34-31zm2-15zm30-4zm-6 34zm-54-52zm14 139zm-16 48zm-16 51zm-16-11zm-13 12zm-1 57zm-17 13zm17 56zm14-12zm10 24zm25-8zm9-28zm3-1zm21-11zm-1 47zm44-14zm-83 42zm9-130zm-11-12zm31-10zm11-5zm-1-16zm8 34zm1 2z"/><path stroke="#ef8632" d="M4607 3033zm18 21zm10 17zm11-3zm34 4zm-10-40zm-22 74zm-8 0zm-19-1zm6-12zm-13 34zm-11 11zm20 8zm6 0zm7 4zm0 3zm9-18zm-1-10zm20 6zm52 19zm12-41zm-152-33zm-4 99z"/><path stroke="#4a7cb3" d="M4364 3015zm38 27zm19 6zm2 5zm7 14zm-21-1zm4 27zm-17 11zm6 11zm2 3zm30 7zm-2 18zm-21 30zm-2 19zm29 1zm-17 18zm11 69zm18 18zm12-3zm12 39zm-1 4zm14 10zm-42 14zm-21-1zm-8-21zm-38-16zm32 75zm12 10zm20-3zm12-2zm4-23zm9 43zm-39 42zm-44 19zm-33-14zm-23-89zm30-194zm5-18zm5-46zm17-40zm93 40zm3 12z"/><path stroke="#ef8632" d="M4636 3011zm2 71zm1 20zm29-3zm-8 15zm-9 17zm-15 3zm0 28zm-21-15zm-7 38zm16 16zm50-22zm-2-19zm21 15zm-16-47zm-71-30zm8-24zm-39 7zm-16 105zm100 54zm56-6z"/><path stroke="#4a7cb3" d="M4341 2996zm46 31zm-10 13zm11 16zm4 3zm5 42zm0 14zm21 0zm5 6zm10 8zm5 25zm-24-3zm-16-6zm-10 10zm-23 13zm2 4zm-11 42zm48 20zm-8 66zm26 6zm-12 28zm-1 5zm14 7zm-1 22zm1 14zm-23-4zm0 10zm-16 6zm20 17zm4 15zm17 0zm-37 13zm-6 18zm61 7zm-7 18zm27-75zm-17-45zm-2-6zm-100 44zm26-290zm-9-18zm87 7zm9-1zm7-60zm-53-63zm6-55z"/><path stroke="#ef8632" d="M4553 3054zm3 96zm17 17zm21 3zm-5 22zm55 6zm1-45zm4 2zm18 3zm3-39zm-16-13zm49 0zm41-17zm-94-53z"/><path stroke="#000000" d="M4723 3000zm-159 262z"/><path stroke="#4a7cb3" d="M4363 2960zm15 18zm23 29zm-13 23zm-20 4zm11 15zm10 34zm0 14zm-4 5zm-9 9zm-1 27zm8 4zm0 3zm-19-9zm-14-9zm69 20zm15 3zm2 25zm-35-9zm14 56zm36 56zm-8 20zm-44 7zm14 23zm-2 8zm3 4zm-35 31zm-7 8zm-4 11zm1 13zm-12-19zm-11-22zm-5 66zm57-21zm40-9zm7-1zm9 14zm-14-288zm19-38zm-18-22zm-23-7zm4-22z"/><path stroke="#ef8632" d="M4638 2988zm12 69zm4 21zm19 9zm0-26zm12 47zm-33 8zm3 5zm-21-3zm-2-12zm7-8zm-32 4zm8 17zm10 23zm5 17zm12 14zm-25 2zm-22-7zm73-29zm-56-66zm-4-27z"/></g></g><rect class="ax" x="1050.78" y="716.6" width="141.1" height="163.67"/>
<g clip-path="url(#c4_8)"><g transform="scale(.25)"><path stroke="#4a7cb3" d="M4965 2972zm32 9zm18 20zm14 46zm-19 21zm-20-7zm-5 33zm-5 6zm41 7zm4 60zm-27-9zm-16-3zm-10-15zm-20-13zm83 81zm11 45zm-49 25zm4 43zm18 18zm24-5zm7 13zm11-3zm-11 40zm-14 14zm-13-1zm-6-8zm-12 0zm1-7zm-15-1zm-6-15zm-26-2zm4-6zm65 55zm20 8zm19-6zm-149 39z"/><path stroke="#ef8632" d="M5156 3068zm53 16zm0 6zm4 20zm9-7zm20 17zm0 11zm-5-2zm-3 9zm-4 19zm-27 1zm-2-3zm-3-10zm2-8zm-7-7zm10-7zm-27 63zm-38 0zm118-5zm-9 28zm33 29zm-6-95zm-2-55zm2-6zm-23-7zm-14-11z"/><path stroke="#4a7cb3" d="M4980 2959zm34 7zm-7 76zm-2 23zm-35 4zm15 18zm15 32zm2 9zm6 12zm11 6zm9-19zm16 4zm57-20zm-54-65zm-69-17zm-2-17zm-58 23zm46 100zm38 41zm4 19zm-26 31zm24 27zm13 2zm11 5zm-11 20zm-6 7zm3 7zm-2 14zm0 33zm-2 3zm1 19zm6 6zm-9 5zm-19-7zm-20-39zm-14 0zm17-43zm81-3zm0 38zm-10 3zm-13 9zm-60 88z"/><path stroke="#ef8632" d="M5169 3047zm33 26zm14 6zm16 0zm0 27zm-26 1zm-2 31zm9-3zm12 8zm3 4zm2 8zm2 11zm14-6zm3-25zm-3-7zm30-11zm-7 62zm-52 46zm21 34zm-81-148zm86-102z"/><path stroke="#4a7cb3" d="M4931 2990zm52-4zm35-3zm19 5zm19 79zm-48-7zm-4 3zm-6 19zm-20 19zm-13 5zm-7-16zm-15-4zm4-5zm13-12zm10-2zm-3-7zm-42 9zm43 73zm41-28zm5-1zm11 62zm-1 6zm26 58zm-33 60zm-16 19zm-2 1zm-1 8zm-10-15zm-32 9zm-5 22zm-4 43zm28 2zm6 11zm19 5zm5-3zm5 15zm-8-45zm13-25zm27 11zm5 29zm31-69zm-52 157zm-66-40z"/><path stroke="#ef8632" d="M5194 3037zm11 26zm17-2zm-1 16zm40-23zm-24 72zm2 3zm-3 20zm-3 3zm21-7zm-19 54zm21 30zm19 7zm12-38zm-97 10zm-15-17zm-2-42zm6-49zm15 13z"/><path stroke="#4a7cb3" d="M4995 2971zm3 70zm4 20zm-18 4zm-1-8zm0 26zm9 12zm1 24zm-11-6zm-13-22zm-13 0zm-26 0zm-2 12zm8 63zm26 14zm17 27zm19-13zm35 13zm-7 57zm-9 9zm-9-15zm-1 37zm-2 25zm13 0zm15-1zm-48 18zm3 17zm-4 26zm11 7zm14 6zm-40-1zm-49-27zm41-54zm11-39zm10 6zm63-15zm26-87zm-33-68zm4-63zm5-29zm-96 21zm19 33zm-9 435z"/><path stroke="#ef8632" d="M5243 3011zm26 46zm-59-7zm-24 19zm7 38zm24 9zm29 9zm6 4zm-15 5zm-12 34zm-27 3zm-15 0zm4 28zm27-6zm40 19zm-8 22zm-58-96zm-2-3zm41-48z"/><path stroke="#000000" d="M4911 2881z"/><path stroke="#4a7cb3" d="M4889 2994zm79-4zm0 79zm-12-5zm-5 22zm8 72zm63-4zm18-8zm-26-19zm-13 1zm34-31zm2-15zm30-4zm-6 34zm-53-52zm13 139zm-16 48zm-16 51zm-16-11zm-13 12zm0 57zm-17 13zm17 56zm14-12zm10 24zm24-8zm9-28zm3-1zm22-11zm-2 47zm45-14zm-84 42zm9-130zm-11-12zm31-10zm11-5zm-1-16zm8 34zm1 2z"/><path stroke="#ef8632" d="M5198 3033zm18 21zm10 17zm10-3zm35 4zm-11-40zm-21 74zm-8 0zm-20-1zm6-12zm-13 34zm-10 11zm19 8zm6 0zm7 4zm0 3zm9-18zm-1-10zm20 6zm52 19zm12-41zm-151-33zm-5 99z"/><path stroke="#4a7cb3" d="M4954 3015zm39 27zm19 6zm1 5zm7 14zm-21-1zm4 27zm-16 11zm5 11zm2 3zm30 7zm-1 18zm-22 30zm-2 19zm29 1zm-17 18zm11 69zm18 18zm12-3zm12 39zm-1 4zm15 10zm-42 14zm-21-1zm-9-21zm-38-16zm32 75zm12 10zm20-3zm12-2zm5-23zm8 43zm-39 42zm-44 19zm-33-14zm-23-89zm30-194zm5-18zm5-46zm17-40zm93 40zm3 12z"/><path stroke="#ef8632" d="M5226 3011zm3 71zm1 20zm28-3zm-7 15zm-9 17zm-15 3zm-1 28zm-21-15zm-6 38zm15 16zm50-22zm-2-19zm21 15zm-16-47zm-70-30zm7-24zm-38 7zm-17 105zm100 54zm56-6z"/><path stroke="#4a7cb3" d="M4931 2996zm47 31zm-10 13zm10 16zm4 3zm5 42zm1 14zm20 0zm5 6zm11 8zm5 25zm-25-3zm-16-6zm-10 10zm-23 13zm3 4zm-12 42zm49 20zm-9 66zm26 6zm-12 28zm0 5zm14 7zm-2 22zm1 14zm-23-4zm1 10zm-16 6zm19 17zm4 15zm17 0zm-37 13zm-6 18zm62 7zm-8 18zm28-75zm-17-45zm-3-6zm-99 44zm25-290zm-9-18zm87 7zm10-1zm6-60zm-53-63zm6-55z"/><path stroke="#ef8632" d="M5143 3054zm4 96zm16 17zm22 3zm-6 22zm56 6zm0-45zm5 2zm17 3zm3-39zm-16-13zm49 0zm41-17zm-94-53z"/><path stroke="#000000" d="M5313 3000zm-159 262z"/><path stroke="#4a7cb3" d="M4953 2960zm16 18zm23 29zm-14 23zm-20 4zm11 15zm10 34zm0 14zm-4 5zm-9 9zm-1 27zm8 4zm0 3zm-19-9zm-14-9zm70 20zm15 3zm1 25zm-35-9zm15 56zm35 56zm-8 20zm-43 7zm13 23zm-1 8zm3 4zm-35 31zm-8 8zm-3 11zm1 13zm28 4zm40-9zm7-1zm9 14zm-97-27zm-11-22zm-5 66zm99-305zm19-38zm-18-22zm-23-7zm4-22z"/><path stroke="#ef8632" d="M5228 2988zm13 69zm3 21zm19 9zm0-26zm12 47zm-33 8zm3 5zm-21-3zm-2-12zm7-8zm-32 4zm8 17zm11 23zm4 17zm12 14zm-25 2zm-22-7zm73-29zm-55-66zm-5-27z"/></g></g><rect class="ax" x="1199.09" y="716.6" width="140.3" height="163.67"/>
<g clip-path="url(#c4_9)"><g transform="scale(.25)"><path stroke="#4a7cb3" d="M5625 3208zm12 45zm-50 25zm4 43zm18 18zm25-5zm6 13zm11-3zm-11 40zm-14 14zm-12-1zm-7-8zm-12 0zm1-7zm-15-1zm-6-15zm-26-2zm5-6zm64 55zm20 8zm19-6zm-148 39z"/><path stroke="#ef8632" d="M5747 3068zm53 16zm-1 6zm4 20zm9-7zm20 17zm1 11zm-6-2zm-2 9zm-5 19zm-27 1zm-2-3zm-2-10zm1-8zm-7-7zm10-7zm-26 63zm-38 0zm118-5zm-10 28zm33 29zm-6-95zm-2-55zm2-6zm-22-7zm-14-11z"/><path stroke="#68ad57" d="M5555 2972zm33 9zm18 20zm14 46zm-20 21zm-19-7zm-5 33zm-6 6zm41 7zm4 60zm-27-9zm-16-3zm-10-15zm-20-13z"/><path stroke="#4a7cb3" d="M5596 3195zm-26 31zm24 27zm14 2zm10 5zm-11 20zm-5 7zm3 7zm-3 14zm0 33zm-2 3zm1 19zm6 6zm-9 5zm-19-7zm-19-39zm-15 0zm17-43zm81-3zm0 38zm-10 3zm-13 9zm-60 88z"/><path stroke="#ef8632" d="M5691 3111zm56 0zm49-4zm26-1zm0-27zm-16 0zm-14-6zm-32-26zm74-38zm3 119zm2 7zm-3 25zm-14 6zm-2-11zm-2-8zm-2-4zm-13-8zm-9 3zm72-21zm-6 62zm-53 46zm21 34z"/><path stroke="#68ad57" d="M5570 2959zm34 7zm-7 76zm-2 23zm-34 4zm15 18zm14 32zm2 9zm6 12zm12 6zm9-19zm15 4zm-80 4zm38 41zm-23-147zm-3-17zm-58 23zm129 11z"/><path stroke="#4a7cb3" d="M5615 3181zm25 58zm-33 60zm-16 19zm-2 1zm0 8zm-11-15zm-32 9zm-5 22zm-4 43zm28 2zm6 11zm19 5zm6-3zm5 15zm-9-45zm14-25zm26 11zm6 29zm30-69zm-52 157zm-66-40z"/><path stroke="#ef8632" d="M5784 3037zm11 26zm18-2zm-2 16zm-26 36zm-16-13zm-5 49zm1 42zm15 17zm46-9zm-3-47zm4-3zm17-4zm-15-16zm-1-3zm23-72zm26 144zm-11 38zm-20-7z"/><path stroke="#68ad57" d="M5521 2990zm53-4zm35-3zm19 5zm19 79zm-48-7zm-5 3zm-5 19zm-21 19zm-13 5zm-7-16zm-15-4zm5-5zm12-12zm10-2zm-3-7zm-42 9zm43 73zm41-28zm6-1zm11 62z"/><path stroke="#4a7cb3" d="M5569 3207zm20-13zm34 13zm-7 57zm-9 9zm-9-15zm0 37zm-3 25zm13 0zm15-1zm-47 18zm2 17zm-4 26zm11 7zm14 6zm-39-1zm-50-27zm41-54zm11-39zm10 6zm63-15zm26-87zm-109 329z"/><path stroke="#ef8632" d="M5833 3011zm-32 39zm-25 19zm8 38zm23 9zm29 9zm6 4zm-14 5zm-13 34zm-27 3zm-15 0zm4 28zm27-6zm40 19zm-8 22zm-58-96zm-2-3zm41-48zm42-30z"/><path stroke="#68ad57" d="M5502 2881zm83 90zm3 70zm5 20zm-19-4zm0 8zm-13 5zm-2 21zm-13 0zm-26 0zm-2 12zm55 10zm10 6zm-1-24zm-9-12zm-31-46zm91 8zm4-29zm-9 92zm-75 72zm-27-14z"/><path stroke="#4a7cb3" d="M5611 3199zm-16 48zm-15 51zm-16-11zm-13 12zm-1 57zm-17 13zm17 56zm14-12zm10 24zm24-8zm9-28zm3-1zm22-11zm-2 47zm45-14zm-83 42zm8-130zm-10-12zm30-10zm11-5zm-1-16zm9 34zm0 2z"/><path stroke="#ef8632" d="M5788 3033zm18 21zm10 17zm10-3zm35 4zm-10-40zm-22 74zm-8 0zm-19-1zm5-12zm-12 34zm-11 11zm19 8zm6 0zm8 4zm0 3zm9-18zm-2-10zm20 6zm53 19zm11-41zm-151-33zm-5 99z"/><path stroke="#68ad57" d="M5479 2994zm79-4zm0 79zm-12-5zm-5 22zm8 72zm63-4zm18-8zm-26-19zm-12 1zm33-31zm2-15zm30-4zm-6 34zm-53-52z"/><path stroke="#4a7cb3" d="M5589 3192zm29 1zm-17 18zm11 69zm18 18zm12-3zm12 39zm-1 4zm15 10zm-42 14zm-21-1zm-9-21zm-37-16zm32 75zm11 10zm20-3zm12-2zm5-23zm9 43zm-40 42zm-44 19zm-33-14zm-23-89z"/><path stroke="#ef8632" d="M5816 3011zm3 71zm1 20zm28-3zm-7 15zm-9 17zm-15 3zm-1 28zm-21-15zm-6 38zm15 16zm50-22zm-1-19zm20 15zm-16-47zm-70-30zm7-24zm-38 7zm-17 105zm101 54zm56-6z"/><path stroke="#68ad57" d="M5545 3015zm38 27zm19 6zm1 5zm7 14zm-20-1zm3 27zm-16 11zm5 11zm2 3zm30 7zm-1 18zm-22 30zm-47-3zm-5 18zm10-64zm16-40zm93 40zm3 12z"/><path stroke="#4a7cb3" d="M5536 3214zm49 20zm-9 66zm26 6zm-11 28zm-1 5zm14 7zm-2 22zm2 14zm-24-4zm1 10zm-16 6zm19 17zm4 15zm17 0zm-37 13zm-6 18zm62 7zm-7 18zm27-75zm-17-45zm-2-6zm-100 44z"/><path stroke="#ef8632" d="M5733 3054zm4 96zm16 17zm22 3zm-6 22zm56 6zm0-45zm5 2zm17 3zm3-39zm-15-13zm48 0zm42-17zm-22-89zm-73 36zm-86 226z"/><path stroke="#68ad57" d="M5521 2996zm47 31zm-10 13zm10 16zm5 3zm4 42zm1 14zm20 0zm6 6zm10 8zm5 25zm-24-3zm-17-6zm-10 10zm-23 13zm3 4zm3-62zm-10-18zm87 7zm10-1zm6-60zm-53-63zm7-55z"/><path stroke="#4a7cb3" d="M5596 3222zm35 56zm-8 20zm-43 7zm13 23zm-1 8zm3 4zm-35 31zm-7 8zm-4 11zm1 13zm28 4zm41-9zm6-1zm9 14zm-97-27zm-11-22zm-5 66z"/><path stroke="#ef8632" d="M5818 2988zm13 69zm3 21zm20 9zm-1-26zm12 47zm-32 8zm2 5zm-21-3zm-1-12zm6-8zm-32 4zm8 17zm11 23zm4 17zm12 14zm-25 2zm-22-7zm73-29zm-55-66zm-4-27z"/><path stroke="#68ad57" d="M5543 2960zm16 18zm23 29zm-13 23zm-20 4zm10 15zm10 34zm0 14zm-4 5zm-8 9zm-1 27zm7 4zm0 3zm-19-9zm-14-9zm70 20zm15 3zm1 25zm-34-9zm39-43zm19-38zm-19-22zm-22-7zm4-22z"/></g></g><rect class="ax" x="1346.6" y="716.6" width="140.3" height="163.67"/>
<g clip-path="url(#c4_10)"><g transform="scale(.25)"><path stroke="#4a7cb3" d="M6145 2972zm33 9zm18 20zm14 46zm-20 21zm-19-7zm-5 33zm-6 6zm-7 40zm9 15zm16 3zm27 9zm10 41zm-14-101zm-68 20z"/><path stroke="#68ad57" d="M6337 3068zm53 16zm-1 6zm5 20zm9-7zm20 17zm0 11zm-5-2zm-3 9zm-4 19zm-28 1zm-2-3zm-2-10zm1-8zm-7-7zm10-7zm-26 63zm-38 0zm118-5zm-10 28zm34 29zm-7-95zm-2-55zm3-6zm-23-7zm-14-11z"/><path stroke="#ef8632" d="M6178 3278zm3 43zm19 18zm24-5zm6 13zm12-3zm-11 40zm-14 14zm-13-1zm-6-8zm-13 0zm1-7zm-15-1zm-5-15zm-27-2zm5-6zm64 55zm21 8zm18-6zm-20-162zm-128 201z"/><path stroke="#4a7cb3" d="M6161 2959zm34 7zm-8 76zm-2 23zm-34 4zm15 18zm15 32zm2 9zm5 12zm12 6zm9-19zm15 4zm58-20zm-55-65zm-68-17zm-3-17zm-57 23zm45 100zm38 41zm5 19zm-27 31z"/><path stroke="#68ad57" d="M6350 3047zm32 26zm15 6zm15 0zm0 27zm-26 1zm-1 31zm8-3zm13 8zm2 4zm2 8zm3 11zm13-6zm3-25zm-2-7zm29-11zm-6 62zm-52 46zm21 34zm-81-148zm86-102z"/><path stroke="#ef8632" d="M6152 3285zm40 2zm3 7zm-3 14zm0 33zm-1 3zm1 19zm5 6zm-9 5zm-19-7zm-19-39zm-15 0zm75 4zm13-9zm11-3zm-1-38zm-35-2zm0-25zm10 5zm-23-7zm-35 167z"/><path stroke="#4a7cb3" d="M6112 2990zm52-4zm35-3zm19 5zm19 79zm-48-7zm-4 3zm-6 19zm-21 19zm-13 5zm-7-16zm-15-4zm5-5zm12-12zm10-2zm-3-7zm-41 9zm43 73zm41-28zm5-1zm11 62zm-1 6z"/><path stroke="#68ad57" d="M6374 3037zm11 26zm18-2zm-1 16zm39-23zm-23 72zm1 3zm-2 20zm-4 3zm21-7zm-18 54zm20 30zm20 7zm11-38zm-97 10zm-14-17zm-2-42zm5-49zm16 13z"/><path stroke="#ef8632" d="M6137 3321zm-6 22zm-3 43zm27 2zm6 11zm20 5zm5-3zm5 15zm-9-45zm14-25zm-17-19zm0-8zm2-1zm-13-6zm29-13zm62 18zm-37 40zm6 29zm-22 88zm-65-40zm90-195z"/><path stroke="#4a7cb3" d="M6092 2881zm83 90zm3 70zm5 20zm-19-4zm0 8zm0 18zm9 12zm0 24zm-10-6zm-14-22zm-13 0zm-26 0zm-2 12zm9 63zm26 14zm16 27zm20-13zm34 13zm39-31zm-33-68zm4-63zm5-29zm-96 21zm19 33z"/><path stroke="#68ad57" d="M6424 3011zm25 46zm-58-7zm-25 19zm8 38zm24 9zm28 9zm7 4zm-15 5zm-13 34zm-27 3zm-15 0zm4 28zm28-6zm39 19zm-8 22zm-57-96zm-3-3zm42-48z"/><path stroke="#ef8632" d="M6153 3272zm9 6zm35-5zm9-9zm19-1zm-36-5zm-1 37zm-2 25zm13 0zm14-1zm-47 18zm2 17zm-4 26zm12 7zm13 6zm-39-1zm-49-27zm41-54zm0 194z"/><path stroke="#4a7cb3" d="M6069 2994zm79-4zm0 79zm-12-5zm-4 22zm7 72zm63-4zm18-8zm-26-19zm-12 1zm34-31zm2-15zm29-4zm-6 34zm-53-52zm13 139z"/><path stroke="#68ad57" d="M6378 3033zm18 21zm10 17zm11-3zm34 4zm-10-40zm-22 74zm-8 0zm-19-1zm6-12zm-13 34zm-11 11zm20 8zm5 0zm8 4zm0 3zm9-18zm-1-10zm20 6zm52 19zm12-41zm-152-33zm-4 99z"/><path stroke="#ef8632" d="M6186 3247zm-16 51zm-16-11zm-13 12zm-1 57zm-17 13zm17 56zm14-12zm10 24zm25-8zm9-28zm2-1zm22-11zm-1 47zm44-14zm-83 42zm9-130zm-11-12zm30-10zm12-5zm-1-16zm8 34zm0 2z"/><path stroke="#4a7cb3" d="M6135 3015zm38 27zm19 6zm1 5zm7 14zm-20-1zm4 27zm-17 11zm6 11zm1 3zm31 7zm-2 18zm-21 30zm-3 19zm12 19zm18-18zm-80-5zm5-18zm5-46zm17-40zm93 40zm3 12z"/><path stroke="#68ad57" d="M6406 3011zm3 71zm1 20zm28-3zm-7 15zm-9 17zm-15 3zm0 28zm-21-15zm-7 38zm16 16zm50-22zm-2-19zm21 15zm-17-47zm-70-30zm7-24zm-38 7zm-16 105zm100 54zm56-6z"/><path stroke="#ef8632" d="M6149 3324zm38 16zm8 21zm21 1zm13 19zm-4 23zm-13 2zm-20 3zm-11-10zm57 25zm-40 42zm-44 19zm-33-14zm-22-89zm144-44zm2-4zm13 14zm-25-53zm-12 3zm-19-18z"/><path stroke="#4a7cb3" d="M6111 2996zm47 31zm-10 13zm11 16zm4 3zm5 42zm0 14zm21 0zm5 6zm10 8zm5 25zm-24-3zm-16-6zm-10 10zm-24 13zm3 4zm-12 42zm49 20zm-34-124zm-9-18zm87 7zm9-1zm6-60zm-53-63zm7-55z"/><path stroke="#68ad57" d="M6324 3054zm3 96zm17 17zm21 3zm-6 22zm56 6zm0-45zm5 2zm18 3zm2-39zm-15-13zm48 0zm42-17zm-22-89zm-72 36zm-87 226z"/><path stroke="#ef8632" d="M6167 3300zm25 6zm-11 28zm-1 5zm14 7zm-1 22zm1 14zm-24-4zm1 10zm-16 6zm20 17zm3 15zm18 0zm-38 13zm-5 18zm61 7zm-7 18zm27-75zm-17-45zm-2-6zm-100 44z"/><path stroke="#4a7cb3" d="M6133 2960zm16 18zm23 29zm-13 23zm-20 4zm11 15zm9 34zm0 14zm-4 5zm-8 9zm-1 27zm8 4zm0 3zm-20-9zm-14-9zm70 20zm15 3zm2 25zm-35-9zm14 56zm25-99zm19-38zm-18-22zm-23-7zm4-22z"/><path stroke="#68ad57" d="M6409 2988zm12 69zm3 21zm20 9zm0-26zm12 47zm-33 8zm2 5zm-21-3zm-1-12zm7-8zm-32 4zm8 17zm10 23zm5 17zm11 14zm-25 2zm-22-7zm74-29zm-56-66zm-4-27z"/><path stroke="#ef8632" d="M6170 3305zm14 23zm-2 8zm3 4zm-35 31zm-7 8zm-4 11zm1 13zm-12-19zm-11-22zm-5 66zm57-21zm40-9zm7-1zm9 14zm-11-113zm7-20z"/></g></g><rect class="ax" x="1494.11" y="716.6" width="140.3" height="163.67"/>
<g clip-path="url(#c5_0)"><g transform="scale(.25)"><path stroke="#ef8632" d="M517 3625zm11 20zm1 34zm-27 20zm-37 62zm-5 86zm10 58zm4 1zm26 25zm-4 11zm23-28zm11 51zm-22 66zm-12 19zm-81 8zm-10-61zm7-48zm39 2zm-53-52zm-22-12zm-11 14zm-16-44zm45-56z"/><path stroke="#4a7cb3" d="M166 3645zm7 2zm55-27zm8 76zm38 9zm9-3zm17 32zm30 23zm20-34zm42 15zm-17-118zm-128 135zm17 27zm3 8zm14 11zm-4 9zm19 1zm13 28zm-103-15zm0-33zm-25-34zm-17 73z"/><path stroke="#68ad57" d="M164 3847zm27 24zm24 33zm-55-4zm12 52zm27 32zm13 27zm7 15zm-3 35zm35-15zm-8-83zm-9-13zm36-33zm4-3zm27-4zm-28-48zm68 145z"/><path stroke="#ef8632" d="M474 3684zm-2 29zm4 5zm7-1zm-6 9zm6 39zm42-12zm-2-31zm-3 150zm9 42zm-56-8zm7 55zm-27 7zm-25-21zm2 65zm-2 4zm-30-6zm83 40zm-106-167zm39-41zm2-8zm-16-9z"/><path stroke="#4a7cb3" d="M171 3639zm26-15zm23 25zm12 36zm-3 28zm26-39zm39-11zm23 36zm0-81zm101 60zm34 5zm11-37zm-45 75zm-40 43zm11 13zm-27-29zm-33 29zm-2 11zm-2 21zm16 13zm-113-1zm37-39zm-2-31z"/><path stroke="#68ad57" d="M209 3890zm11 50zm3 6zm36-15zm5-32zm42 58zm44 27zm8-51zm-13 115zm-49 7zm7 9zm-21-3zm-2-19zm-4 2zm20-16zm-64 10zm15 21zm-74-1z"/><path stroke="#ef8632" d="M462 3719zm35 27zm11 11zm16-9zm7 17zm1 13zm-32 34zm-87-1zm-12 61zm15 47zm38-27zm-21 104zm-7 22zm-7-1zm3 36zm72 1zm-6 13zm33-20zm-6-14zm-4-25zm-112-12zm-32-156zm155-128z"/><path stroke="#4a7cb3" d="M171 3699zm55-8zm4-41zm25-25zm71-2zm4 70zm5 26zm50 25zm13-47zm-139 9zm-10 28zm4 12zm6 26zm-44-5zm-9-5zm-18 3zm-3 5zm46 51zm49 4zm18-13zm-12-66z"/><path stroke="#68ad57" d="M161 3853zm106 59zm23-18zm-5 84zm-11 12zm20 26zm50 3zm1 5zm9-18zm6-11zm-17-45zm-94 19zm-45 11zm31 68zm-56 20zm200 2zm4-17zm22 4z"/><path stroke="#ef8632" d="M509 3620zm9 25zm-29 83zm-20 5zm60 27zm-24 86zm-80-8zm4 22zm-8 23zm-12-10zm-13-6zm2-12zm-17 13zm52-69zm69 145zm-6 11zm22 18zm0 9zm-11 31zm-6 3zm-4 15zm7 3zm2 25zm24-13zm-2-31zm-91 33zm-13-3z"/><path stroke="#4a7cb3" d="M172 3667zm93 33zm3 33zm-29 10zm12 90zm2 2zm29-10zm64 21zm4-78zm-4-8zm13-69zm-27-5zm95-42zm-12-14zm59-5z"/><path stroke="#68ad57" d="M215 3849zm49 3zm22 58zm-12 56zm2 54zm1 28zm-29 16zm-70-18zm11-49zm19 2zm2-37zm11-27zm-48-19zm12-30zm-26 114zm158-53zm17-4zm2-52zm45 76zm25 83zm-31 20z"/><path stroke="#ef8632" d="M429 3749zm32 64zm-15 28zm-44 4zm10 13zm-48 4zm39 84zm-5 18zm0 29zm13 41zm64 2zm0-98zm-10 1zm46-37zm16-10zm4-45zm-37-8zm-5-146zm22 8zm17-31z"/><path stroke="#4a7cb3" d="M198 3629zm-29 32zm26 47zm7 119zm15 12zm-41-14zm115 3zm1-58zm-17-9zm-9 20zm58 20zm37-30zm-8-52zm-1-31zm34 12zm3 2zm-57-52zm-19 9z"/><path stroke="#68ad57" d="M190 3881zm4 61zm-25-5zm49-8zm37 13zm-17 20zm-21 20zm9 13zm38-8zm39 22zm30-7zm4-9zm17-25zm19 2zm21 31zm-63-56zm-16 1zm7-35zm-2-41zm-19-4zm-16 54zm-26-20zm-93 110zm7 12z"/><path stroke="#ef8632" d="M496 3622zm-6 59zm1 26zm3-3zm-42 13zm-5 25zm-23 27zm9 34zm7-1zm-2 21zm2 26zm-62-4zm11-35zm73-17zm26-4zm16 14zm27 6zm-13-37zm-36 51zm29 82zm-6 15zm6 18zm-38-11zm-29-15zm-22 0zm9 21zm3 116zm75-23zm15-11z"/><path stroke="#4a7cb3" d="M226 3640zm21 13zm-30 34zm-4 55zm-11 21zm-10-7zm-13 10zm17 13zm-2 36zm-32-68zm125-2zm1-37zm18 64zm27-105zm85 1zm20-9zm-22-20zm27-17zm31 7zm-51 93zm-35-5z"/><path stroke="#68ad57" d="M165 3850zm18 1zm23 51zm-33 26zm92 2zm22 20zm10 15zm-24 12zm-26 25zm18 31zm19 4zm-82-28zm135-78z"/><path stroke="#ef8632" d="M481 3662zm14 48zm-5 26zm34 0zm5-46zm-26 116zm-16-2zm-19 3zm1 69zm51-19zm-12 62zm-2 27zm-37 14zm18 25zm11 61zm8 13zm-79-128zm-25-134zm8-10zm-7-21zm26-28z"/><path stroke="#4a7cb3" d="M160 3650zm87-6zm65 13zm-16 47zm-1 6zm-23-3zm-21 15zm-3-1zm-20 11zm9 10zm-9 19zm39-17zm12 69zm-10 16zm-52-15zm-56 8zm26-95zm172-1zm2 5zm42 17zm1-53zm31 2zm-52-16z"/><path stroke="#68ad57" d="M171 3858zm46 16zm31 21zm34-10zm38-27zm12 7zm8 32zm-14 91zm-24-4zm-44-9zm-82 5zm-2 22zm10 17zm11 3zm23 12zm12 23zm-22 11zm127-11z"/><path stroke="#ef8632" d="M475 3653zm6 25zm45-59zm-21 151zm-16 17zm7 12zm-25-15zm-33-40zm-34 79zm33 72zm28 29zm2-2zm3 0zm18-5zm27 11zm10-3zm-5-32zm-9-13zm-14-6zm0-29zm32 123zm-64 25zm-23-4zm-37 34zm67 37zm25-1zm6 11z"/><path stroke="#4a7cb3" d="M171 3689zm23 24zm69 15zm18 3zm32 26zm-2 51zm-6-4zm-44-27zm69-63zm22-58zm-4-20zm15-7zm30-6zm-3 27zm8 18zm9 33zm-1 25zm-16 12zm44-56z"/><path stroke="#68ad57" d="M201 3879zm121 9zm3-24zm9 55zm-21 27zm47-4zm-32 85zm-37 11zm-32-6zm-23-30zm-26 0zm-22-5zm3 34zm-14 0zm98-48zm101 73zm16-8z"/></g></g><rect class="ax" x="18.2" y="881.87" width="140.3" height="163.67"/>
<g clip-path="url(#c5_1)"><g transform="scale(.25)"><path stroke="#e887bd" d="M756 3645zm8 2zm55-27zm7 76zm38 9zm9-3zm18 32zm29 23zm21-34zm-1 134zm-40-18zm-14-28zm-19-1zm4-9zm-14-11zm-3-8zm-17-27zm-65 2zm25 34zm-1 33zm-42 6z"/><path stroke="#ef8632" d="M755 3847zm26 24zm25 33zm-56-4zm13 52zm26 32zm13 27zm7 15zm-3 35zm36-15zm-8-83zm-9-13zm36-33zm3-3zm27-4zm-28-48zm68 145z"/><path stroke="#68ad57" d="M965 3620zm18 118zm1 63zm71-40zm-5 86zm42-148zm27-20zm-1-34zm-11-20z"/><path stroke="#4a7cb3" d="M966 3887zm-11 14zm33-2zm14 50zm40 2zm44-9zm4-11zm19-17zm-44-8zm-4-1zm59 60zm-22 66zm-12 19zm-81 8zm-9-61z"/><path stroke="#e887bd" d="M761 3639zm26-15zm23 25zm13 36zm-4 28zm27-39zm38-11zm23 36zm0-81zm12 159zm-1 11zm-3 21zm17 13zm-114-1zm38-39zm-3-31z"/><path stroke="#ef8632" d="M800 3890zm10 50zm3 6zm37-15zm4-32zm42 58zm44 27zm-5 64zm-48 7zm6 9zm-21-3zm-1-19zm-5 2zm21-16zm-65 10zm15 21zm-73-1z"/><path stroke="#68ad57" d="M1008 3678zm34 5zm23 1zm-3 29zm4 5zm8-1zm-7 9zm7 39zm41-12zm-2-31zm-105-1zm-40 43zm12 13zm-28-29zm39 77zm16 9zm-3 8zm49-196z"/><path stroke="#4a7cb3" d="M965 3883zm-17 50zm70 14zm25 21zm27-7zm-6-55zm55 8zm-9-42zm-39 178zm-53-34zm3-4zm-33-2z"/><path stroke="#e887bd" d="M762 3699zm54-8zm4-41zm25-25zm72-2zm3 70zm5 26zm-49 27zm-33 0zm-4-12zm10-28zm0 66zm-44-5zm-8-5zm-19 3zm-2 5zm46 51zm48 4zm19-13z"/><path stroke="#ef8632" d="M752 3853zm105 59zm23-18zm-5 84zm-11 12zm-25-21zm-45 11zm31 68zm-56 20zm116-52zm49 3zm2 5zm-2-74z"/><path stroke="#68ad57" d="M988 3697zm-13 47zm28 67zm-45 29zm132-28zm8-55zm-10-11zm26 2zm7 17zm2 13zm-11-66zm-60 7z"/><path stroke="#4a7cb3" d="M991 3872zm16 47zm37-27zm-21 104zm-7 22zm-7-1zm4 36zm-18 4zm-21-4zm-4 17zm-26-64zm6-11zm39 1zm112 12zm4 25zm6 14zm-27 7zm-6 13z"/><path stroke="#e887bd" d="M762 3667zm93 33zm4 33zm-29 10zm11 90zm2 2zm12 17zm17-27zm64 21zm5-78zm-5-8zm-14-74zm-117 163z"/><path stroke="#ef8632" d="M775 3886zm-12 30zm48 19zm-10 27zm-2 37zm-20-2zm-30 3zm19 46zm70 18zm29-16zm-1-28zm-2-54zm43-19zm17-4zm2-52zm-50 19z"/><path stroke="#68ad57" d="M1005 3630zm12 14zm48-19zm34-5zm9 25zm-29 83zm-20 5zm60 27zm-24 86zm-79-8zm-27 17zm35-56zm-75-108z"/><path stroke="#4a7cb3" d="M972 3868zm14-1zm14 6zm11 10zm9-23zm-49 107zm25 83zm18-5zm14 3zm59-17zm7 3zm-3-18zm6-3zm21 2zm2 31zm-24 13zm12-77zm0-9zm-22-18zm6-11zm-127 126z"/><path stroke="#e887bd" d="M789 3629zm-29 32zm25 47zm7 119zm15 12zm-41-14zm115 3zm1-58zm-17-9zm-9 20zm59 20zm28-82zm-1-31zm-20-38zm-19 9z"/><path stroke="#ef8632" d="M781 3881zm3 61zm-25-5zm49-8zm37 13zm-17 20zm-21 20zm9 13zm38-8zm39 22zm30-7zm5-9zm-7-48zm-16 1zm7-35zm-1-41zm-20-4zm-16 54zm-26-20zm-93 110zm7 12z"/><path stroke="#68ad57" d="M976 3700zm4 2zm40 47zm-68 22zm41 74zm43-4zm15-28zm33 26zm37 8zm-20-146zm-22-8zm39-23z"/><path stroke="#4a7cb3" d="M954 3862zm48-4zm-9 88zm-5 18zm1 29zm-5 8zm17 33zm64 2zm1-98zm-10 1zm45-37zm16-10zm-154 78zm-19-2z"/><path stroke="#e887bd" d="M816 3640zm22 13zm-31 34zm-4 55zm-10 21zm-11-7zm-12 10zm16 13zm-2 36zm-32-68zm125-2zm2-37zm17 64zm28-105z"/><path stroke="#ef8632" d="M755 3850zm18 1zm23 51zm-33 26zm92 2zm22 20zm10 15zm-23 12zm-26 25zm17 31zm19 4zm-82-28zm136-78z"/><path stroke="#68ad57" d="M1006 3639zm3 29zm19-9zm6-37zm30 7zm22-7zm-6 59zm1 26zm3-3zm-42 13zm-5 25zm-24-20zm-35-5zm37 52zm8 34zm7-1zm-2 21zm2 26zm-62-4zm11-35zm73-17zm27-4zm16 14zm26 6zm-13-37zm-36 51z"/><path stroke="#4a7cb3" d="M1013 3912zm21 0zm-13 21zm42-6zm32-7zm7-15zm0 33zm12 77zm-15 11zm-74 23z"/><path stroke="#e887bd" d="M751 3650zm87-6zm0 77zm3 1zm-23 10zm9 10zm-9 19zm39-17zm5-37zm23 3zm2-6zm16-47zm-34 156zm-10 16zm-51-15zm-56 8zm25-95zm134 131z"/><path stroke="#ef8632" d="M761 3858zm46 16zm32 21zm33-10zm50-20zm8 32zm-13 91zm-25-4zm-44-9zm-81 5zm-3 22zm11 17zm10 3zm23 12zm12 23zm-22 11zm128-11z"/><path stroke="#68ad57" d="M974 3681zm20 14zm31 2zm-5 41zm-26 10zm-1 18zm7 21zm-8 10zm67 10zm18-3zm16 2zm-13-70zm5-26zm34-20zm-5 46zm-43-74zm-122 64zm3 5z"/><path stroke="#4a7cb3" d="M1059 3876zm51-19zm-11 62zm-2 27zm-38 14zm19 25zm10 61zm8 13zm-79-128z"/><path stroke="#e887bd" d="M761 3689zm23 24zm69 15zm18 3zm33 26zm-3 51zm-5-4zm-44-27zm69-63zm21-58zm-4-20zm-23 228z"/><path stroke="#ef8632" d="M791 3879zm121 9zm13 31zm-22 27zm-38 37zm-39 19zm-25 0zm-23-5zm3 34zm-14 0zm83 1zm31 6zm38-11z"/><path stroke="#68ad57" d="M953 3629zm31-6zm-4 27zm8 18zm10 33zm-2 25zm-16 12zm49 6zm-4-62zm46-4zm-6-25zm51-34zm-21 151zm-16 17zm8 12zm-26-15zm26 61zm-93-22z"/><path stroke="#4a7cb3" d="M950 3942zm105-18zm2-2zm4 0zm18-5zm27 11zm10-3zm-5-32zm-10-13zm-13-6zm-61 21zm5 94zm23 4zm7 67zm26-1zm6 11zm25-102zm-124 55zm-13 25zm-16 8z"/></g></g><rect class="ax" x="165.71" y="881.87" width="140.3" height="163.67"/>
<g clip-path="url(#c5_2)"><g transform="scale(.25)"><path stroke="#4a7cb3" d="M1346 3645zm8 2zm55-27zm8 76zm37 9zm9-3zm18 32zm29 23zm21-34zm42 15zm1 63zm-44 56zm27 30zm22 12zm72 6zm4 1zm25 25zm-4 11zm23-28zm11 51zm-22 66zm-56-80zm8-104zm5-86zm37-62zm28-20zm-2-34zm-11-20zm-142-5z"/><path stroke="#ef8632" d="M1362 3757zm25 34zm-1 33zm-42 6zm1 17zm26 24zm25 33zm-55-4zm12 52zm26 32zm13 27zm7 15zm-2 35zm35-15zm-8-83zm-9-13zm36-33zm3-3zm28-4zm63-9zm47 48zm-6 48zm9 61zm82-8zm-155-43zm-32-168zm-14-28zm-19-1zm5-9zm-15-11zm-2-8zm-18-27zm26 107z"/><path stroke="#4a7cb3" d="M1351 3639zm26-15zm24 25zm12 36zm-4 28zm27-39zm38-11zm23 36zm0-81zm101 60zm34 5zm23 1zm-2 29zm3 5zm8-1zm-7 9zm7 39zm41-12zm-2-31zm-104-1zm-40 43zm11 13zm-28-29zm-32 29zm-2 11zm-3 21zm17 13zm59 3zm16 9zm-3 8zm-39 41zm53 64zm26 21zm26-7zm-6-55zm55 8zm-9-42zm-56-226zm-201 105z"/><path stroke="#ef8632" d="M1446 3782zm-37 39zm-19 69zm11 50zm2 6zm37-15zm4-32zm42 58zm45 27zm7-51zm41 77zm32 2zm-2 4zm52 34zm-136-2zm-48 7zm6 9zm-21-3zm-1-19zm-5 2zm21-16zm-65 10zm16 21zm-74-1z"/><path stroke="#4a7cb3" d="M1435 3625zm-24 25zm-5 41zm34 15zm-11 28zm4 12zm34 0zm49-27zm-5-26zm67 4zm-13 47zm28 67zm-12 61zm16 47zm37-27zm46-80zm9-55zm-11-11zm26 2zm8 17zm1 13zm-11-66zm-59 7zm-95 121zm-41-217zm184 385zm4 25zm7 14z"/><path stroke="#ef8632" d="M1352 3699zm16 66zm-2 5zm21-8zm8 5zm44 5zm21 53zm19-13zm-67 9zm-70 32zm105 59zm24-18zm-6 84zm-11 12zm-24-21zm-46 11zm32 68zm-57 20zm116-52zm49 3zm2 5zm8-18zm6-11zm39 1zm35 0zm-8 22zm-7-1zm4 36zm-18 4zm-21-4zm-4 17zm108-3zm7-13zm-151-104z"/><path stroke="#4a7cb3" d="M1352 3667zm94 33zm3 33zm-29 10zm107 17zm4 8zm-5 78zm36 22zm14-1zm3-12zm11 18zm11 10zm9-23zm-4-22zm8-39zm35-66zm20-5zm40 32zm-24 86zm-3 98zm-5 11zm21 18zm0 9zm-11 31zm-6 3zm27-1zm2 31zm-12-401zm-9-25zm-34 5zm-60 5zm13 14zm-69 47zm-27-5z"/><path stroke="#ef8632" d="M1396 3849zm35-16zm3 2zm11 17zm18-27zm4 85zm30 37zm18-4zm1-52zm46 76zm24 83zm18-5zm14 3zm59-17zm7 3zm3 25zm-132 11zm-97-22zm-1-28zm-3-54zm-63-4zm11-27zm-49-19zm13-30zm3 111zm20 2zm-50 1zm20 46zm69 18z"/><path stroke="#4a7cb3" d="M1379 3629zm-29 32zm143-2zm20-9zm20 38zm1 31zm33-19zm3 2zm40 47zm-68 22zm-37 30zm-32-31zm-17-9zm88 101zm49-4zm-10-13zm43-4zm16-28zm32 26zm37 8zm-4 45zm-16 10zm-35 36zm-10 1zm24-246zm21 8zm17-31z"/><path stroke="#ef8632" d="M1375 3708zm7 119zm15 12zm-41-14zm15 56zm4 61zm-25-5zm48-8zm38 13zm-17 20zm-21 20zm9 13zm37-8zm40 22zm29-7zm5-9zm16-25zm19 2zm25-6zm5-18zm-4 47zm-4 8zm16 33zm64 2zm-144-91zm-15 1zm6-35zm-1-41zm-20-4zm-10-38zm-25-47zm-7 119zm26 20zm-119 90zm8 12z"/><path stroke="#4a7cb3" d="M1407 3640zm21 13zm-30 34zm71 21zm-1 37zm18 27zm83 38zm-11 35zm62 4zm-1-26zm1-21zm-6 1zm28-10zm27-4zm16 14zm26 6zm-13-37zm-35 51zm29 82zm-6 15zm6 18zm-39-11zm-28-15zm-22 0zm8 21zm-6-164zm-1-47zm28-5zm-5 25zm45-35zm2-3zm-4-23zm7-59zm-22 7zm-31-7zm-6 37zm-19 9zm-2-29zm-29 78zm-54-50zm176 359zm14-11z"/><path stroke="#ef8632" d="M1342 3747zm18 19zm13-10zm10 7zm-7 16zm-1 36zm-11 36zm-18-1zm8 78zm32-26zm59 28zm23 20zm9 15zm-23 12zm-26 25zm18 31zm18 4zm-81-28zm135-78zm97 118zm-222-307z"/><path stroke="#4a7cb3" d="M1341 3650zm87-6zm65 13zm-16 47zm-1 6zm-24-3zm-21 15zm-2-1zm-21 11zm9 10zm31 2zm94-13zm-3-5zm45 22zm-1 18zm8 21zm-9 10zm67 10zm19-3zm15 2zm17 51zm-51 19zm40 43zm-2 27zm-37 14zm18 25zm-61-54zm3-193zm5-41zm-31-2zm-20-14zm97-19zm14 48zm-5 26zm35 0zm4-46z"/><path stroke="#ef8632" d="M1367 3727zm42 34zm-11 53zm0 60zm31 21zm33-10zm39-27zm11 7zm8 32zm-13 91zm-25-4zm-43-9zm-82 5zm-3 22zm11 17zm11 3zm23 12zm11 23zm-22 11zm128-11zm171 2zm-8-13zm-230-217zm11-16zm-118 9zm10 36z"/><path stroke="#4a7cb3" d="M1528 3636zm15-7zm31-6zm-3 27zm7 18zm10 33zm-2 25zm-16 12zm49 6zm-4-62zm47-4zm-7-25zm51-34zm-21 151zm-16 17zm8 12zm-26-15zm26 61zm1 29zm13 6zm10 13zm5 32zm-10 3zm-27-11zm-18 5zm-4 0zm-2 2zm-28-29zm-33-72zm-93-15zm-5-4zm8-47zm-32-26zm-18-3zm67-14zm22-58zm176 312z"/><path stroke="#ef8632" d="M1351 3689zm24 24zm67 64zm64 87zm-4 24zm13 31zm25 23zm-47 4zm-37 37zm-39 19zm-26 0zm-23-5zm3 34zm-14 0zm83 1zm31 6zm38-11zm48 29zm16-8zm12-25zm38-34zm22 4zm7 67zm26-1zm6 11zm-303-191z"/></g></g><rect class="ax" x="313.22" y="881.87" width="140.3" height="163.67"/>
<g clip-path="url(#c5_3)"><g transform="scale(.25)"><path stroke="#4a7cb3" d="M1937 3645zm7 2zm55-27zm8 76zm38 9zm8-3zm18 32zm30 23zm20-34zm42 15zm2 63zm-45 56zm27 30zm-67-48zm-13-28zm-19-1zm4-9zm-15-11zm-2-8zm-17-27zm-66 2zm25 34zm258-30zm-4 86zm41-148zm28-20zm-1-34zm-12-20zm-141-5z"/><path stroke="#68ad57" d="M1935 3830zm0 17zm27 24zm24 33zm-55-4zm12 52zm26 32zm13 27zm8 15zm-3 35zm35-15zm-8-83zm-9-13zm36-33zm4-3zm27-4zm63-9zm-23 106zm-68-145zm-67-38z"/><path stroke="#ef8632" d="M2169 3899zm13 50zm40 2zm45-9zm3-11zm20-17zm-45-8zm-4-1zm60 60zm-22 66zm-12 19zm-81 8zm-10-61z"/><path stroke="#4a7cb3" d="M1942 3639zm26-15zm23 25zm12 36zm-3 28zm26-39zm38-11zm23 36zm0-81zm101 60zm34 5zm23 1zm-2 29zm4 5zm7-1zm-7 9zm7 39zm42-12zm-3-31zm-104-1zm-40 43zm11 13zm-27-29zm-33 29zm-2 11zm-3 21zm17 13zm59 3zm16 9zm-3 8zm-38 41zm-110-101zm-3-31zm201-105z"/><path stroke="#68ad57" d="M1999 3821zm-19 69zm11 50zm2 6zm37-15zm5-32zm42 58zm44 27zm8-51zm-13 115zm-49 7zm7 9zm-21-3zm-2-19zm-4 2zm20-16zm-64 10zm15 21zm-74-1z"/><path stroke="#ef8632" d="M2199 3947zm25 21zm27-7zm-7-55zm55 8zm-9-42zm-39 178zm-52-34zm2-4zm-32-2z"/><path stroke="#4a7cb3" d="M1942 3699zm54-8zm5-41zm25-25zm71-2zm4 70zm5 26zm50 25zm13-47zm64 22zm35 27zm11 11zm16-9zm7 17zm1 13zm-32 34zm-87-1zm-12 61zm-34-32zm-69-28zm-18 13zm-22-53zm-5-26zm-5-12zm11-28zm27 40zm-71 21zm-9-5zm-18 3zm-3 5zm337-58z"/><path stroke="#68ad57" d="M1932 3853zm70-32zm35 91zm24-18zm-6 84zm-10 12zm20 26zm49 3zm2 5zm9-18zm5-11zm-16-45zm-94 19zm-45 11zm31 68zm-56 20z"/><path stroke="#ef8632" d="M2187 3919zm37-27zm-20 104zm-7 22zm-8-1zm-19-21zm6 61zm17-4zm-39 0zm-4 17zm109-3zm6-13zm27-7zm-6-14zm-4-25z"/><path stroke="#4a7cb3" d="M1943 3667zm93 33zm3 33zm-29 10zm107 17zm4 8zm-5 78zm36 22zm14-1zm3-12zm11 18zm20-13zm-4-22zm8-39zm35-66zm21-5zm40 32zm-11-115zm-9-25zm-35 5zm-59 5zm12 14zm-68 47zm-28-5zm-49 139zm-18 27z"/><path stroke="#68ad57" d="M1986 3849zm35-16zm3 2zm33 75zm30 37zm18-4zm2-52zm-63 75zm3 54zm1 28zm-30 16zm-69-18zm11-49zm19 2zm2-37zm11-27zm-48-19zm12-30zm-26 114z"/><path stroke="#ef8632" d="M2192 3883zm83-37zm-2 98zm-6 11zm22 18zm0 9zm9 33zm-20-2zm-6 3zm2 18zm-7-3zm10 28zm24-13zm-93 2zm-13-3zm-19 5zm-31 20zm7-103z"/><path stroke="#4a7cb3" d="M1969 3629zm-29 32zm26 47zm80 53zm17 9zm-26 11zm24 47zm34-27zm37-30zm-8-52zm-1-31zm34 12zm3 2zm40 47zm32 64zm-16 28zm-43 4zm10 13zm-49 4zm-31-212zm-19 9zm176 34zm22 8zm17-31z"/><path stroke="#68ad57" d="M1947 3825zm26 2zm15 12zm-27 42zm4 61zm-25-5zm48-8zm38 13zm-17 20zm-21 20zm9 13zm38-8zm39 22zm29-7zm5-9zm17-25zm19 2zm-43-25zm-15 1zm6-35zm-1-41zm-19-4zm-16 54zm-26-20zm-93 110zm7 12z"/><path stroke="#ef8632" d="M2265 3839zm37 8zm-5 45zm-15 10zm-36 36zm-10 1zm-63 7zm-4 18zm0 29zm-4 8zm16 33zm64 2z"/><path stroke="#4a7cb3" d="M1997 3640zm21 13zm-30 34zm-5 55zm-10 21zm-10-7zm-13 10zm17 13zm-35-32zm126-2zm1-37zm18 64zm82 38zm-10 35zm61 4zm-1-26zm2-21zm-7 1zm28-10zm27-4zm16 14zm27 6zm-13-37zm-36 51zm-58-54zm-1-47zm29-5zm-6 25zm45-35zm3-3zm-4-23zm6-59zm-22 7zm-31-7zm-5 37zm-20 9zm-2-29zm-29 78zm-54-50z"/><path stroke="#68ad57" d="M1965 3815zm-11 36zm-18-1zm8 78zm33-26zm58 28zm23 20zm10 15zm-24 12zm-26 25zm18 31zm19 4zm-82-28zm135-78z"/><path stroke="#ef8632" d="M2193 3912zm22 0zm-14 21zm43-6zm32-7zm6-15zm0 33zm-2 88zm15-11zm-90 34z"/><path stroke="#4a7cb3" d="M1931 3650zm87-6zm65 13zm-16 47zm-1 6zm-24-3zm-20 15zm-3-1zm-11 21zm-10-10zm1 29zm39-17zm12 69zm-10 16zm132-32zm9-10zm-7-21zm0-18zm26-10zm5-41zm-31-2zm-20-14zm-25 45zm3 5zm129 5zm4-26zm34-20zm-4 46zm-22 70zm-15-2zm-19 3zm12-145zm-294 65z"/><path stroke="#68ad57" d="M1932 3822zm10 36zm46 16zm31 21zm34-10zm38-27zm12 7zm8 32zm-14 91zm-25-4zm-43-9zm-82 5zm-2 22zm10 17zm11 3zm23 12zm12 23zm-22 11zm127-11zm-118-243z"/><path stroke="#ef8632" d="M2239 3876zm51-19zm-11 62zm-2 27zm-37 14zm18 25zm11 61zm8 13zm-79-128z"/><path stroke="#4a7cb3" d="M1942 3689zm23 24zm69 15zm18 3zm32 26zm-2 51zm-6-4zm-44-27zm69-63zm22-58zm-4-20zm15-7zm30-6zm-3 27zm8 18zm9 33zm-1 25zm-16 12zm48 6zm-4-62zm47-4zm-7-25zm51-34zm-21 151zm-16 17zm8 12zm-25-15zm-68 39z"/><path stroke="#68ad57" d="M1972 3879zm120 9zm4-24zm9 55zm-21 27zm47-4zm-32 85zm-37 11zm-32-6zm-23-30zm-26 0zm-23-5zm4 34zm-14 0zm98-48z"/><path stroke="#ef8632" d="M2208 3895zm27 29zm3-2zm3 0zm18-5zm27 11zm10-3zm-5-32zm-10-13zm-13-6zm0-29zm32 123zm-65 25zm-22-4zm-37 34zm-13 25zm-16 8zm96 4zm25-1zm6 11z"/></g></g><rect class="ax" x="460.73" y="881.87" width="141.1" height="163.67"/>
<g clip-path="url(#c5_4)"><g transform="scale(.25)"><path stroke="#4a7cb3" d="M2527 3645zm7 2zm55-27zm8 76zm11 59zm17 27zm3 8zm14 11zm-4 9zm19 1zm-23 51zm1 52zm-4 3zm31-7zm-86-6zm-24-33zm-27-24zm0-17zm42-6zm0-33zm-25-34zm119-23zm30 23zm-95 193zm8 13zm-44 21zm13 27zm7 15zm-3 35zm36-15zm-80-94zm-12-52z"/><path stroke="#ef8632" d="M2670 3839zm40 18zm27 30zm-11 14zm33-2zm14 50zm39 2zm45-9zm4-11zm19-17zm-45-8zm-4-1zm-10-58zm-66-46zm11 196zm10 61zm81-8zm12-19zm22-66zm-189 42z"/><path stroke="#68ad57" d="M2635 3705zm9-3zm67 21zm42 15zm73 23zm37-62zm27-20zm-1-34zm-11-20zm-142-5z"/><path stroke="#4a7cb3" d="M2532 3639zm26-15zm23 25zm12 36zm-3 28zm26-39zm8 77zm3 31zm61 6zm2-11zm-4 32zm17 13zm-114-1zm-19 69zm11 50zm3 6zm37-15zm4-32zm42 58zm-10 71zm0 27zm7 9zm-21-3zm-2-19zm-4 2zm-29 15zm-15-21zm-59 20z"/><path stroke="#ef8632" d="M2761 3825zm16 9zm-2 8zm-39 41zm-17 50zm-8 51zm-5 64zm53-38zm32 2zm-2 4zm0-69zm25 21zm27-7zm-7-55zm56 8zm-9-42zm-39 178z"/><path stroke="#68ad57" d="M2678 3618zm-23 45zm23 36zm45 49zm16 16zm11 13zm29-56zm0-43zm34 5zm22 1zm-2 29zm4 5zm7-1zm-6 9zm6 39zm42-12zm-2-31zm-60-76z"/><path stroke="#4a7cb3" d="M2532 3699zm55-8zm4-41zm25-25zm-6 109zm4 12zm6 26zm-44-5zm-8-5zm-19 3zm-2 5zm45 51zm49 4zm19-13zm-13-66zm4 148zm-23 18zm-18 57zm36 9zm-11 12zm20 26zm-59 32zm-56 20zm25-88zm-42-127z"/><path stroke="#ef8632" d="M2728 3840zm34 32zm16 47zm37-27zm-41-81zm-14 185zm34 0zm-7 22zm-7-1zm3 36zm-17 4zm-22-4zm-4 17zm-33-46zm-2-5zm10-13zm6-11zm-17-45zm168 58zm4 25zm6 14zm-27 7zm-6 13z"/><path stroke="#68ad57" d="M2687 3623zm4 70zm5 26zm50 25zm13-47zm64 22zm35 27zm11 11zm16-9zm7 17zm2 13zm-33 34zm22-100zm-263-6z"/><path stroke="#4a7cb3" d="M2533 3667zm67 76zm30-10zm13 92zm-29 10zm-2-2zm13 19zm-49-3zm-30 37zm-12 30zm48 19zm-10 27zm-3 37zm-19-2zm-30 3zm19 46zm70 18zm29-16zm-1-28zm-2-54zm43-19zm-31-37z"/><path stroke="#ef8632" d="M2707 3846zm-10 45zm-2 52zm47 24zm1-99zm14-1zm3-12zm10 18zm12 10zm8-23zm-4-22zm8-39zm72 47zm-3 98zm-6 11zm22 18zm0 9zm-11 31zm-6 3zm-4 15zm7 3zm2 25zm24-13zm-2-31zm-91 33zm-13-3zm-18 5zm-31 20z"/><path stroke="#68ad57" d="M2626 3700zm67-14zm27 5zm-13 69zm4 8zm119-35zm20-5zm40 32zm-11-115zm-9-25zm-35 5zm-59 5zm12 14z"/><path stroke="#4a7cb3" d="M2559 3629zm-28 32zm25 47zm7 119zm15 12zm-41-14zm14 56zm4 61zm-25-5zm49-8zm37 13zm-17 20zm-21 20zm9 13zm38-8zm39 22zm12-63zm-30-26zm-26-20zm32-72zm1-58zm-17-9zm-9 20zm58 20zm-158 209zm7 12z"/><path stroke="#ef8632" d="M2662 3866zm19 4zm2 41zm9 34zm23 23zm19 2zm25-6zm5-18zm-5 47zm-4 8zm17 33zm64 2zm1-98zm-11 1zm46-37zm16-10zm4-45zm-37-8zm-48 2zm-44 4zm10 13zm-48 4zm-27 131zm-4 9z"/><path stroke="#68ad57" d="M2674 3659zm19-9zm20 38zm1 31zm33-19zm4 2zm39 47zm-68 22zm100 42zm28-120zm22 8zm17-31z"/><path stroke="#4a7cb3" d="M2587 3640zm22 13zm-31 34zm-4 55zm-11 21zm-10-7zm-12 10zm16 13zm-2 36zm-11 36zm-18-1zm8 78zm33-26zm59 28zm22 20zm10 15zm-24 12zm-26 25zm18 31zm19 4zm-82-28zm-40-262zm125-2zm19 27z"/><path stroke="#ef8632" d="M2785 3769zm9 34zm7-1zm-2 21zm2 26zm-62-4zm11-35zm33 102zm22 0zm-13 21zm42-6zm32-7zm7-15zm-1 33zm-2 88zm15-11zm-89 34zm-98-118z"/><path stroke="#68ad57" d="M2650 3708zm44-41zm85 1zm20-9zm-22-20zm27-17zm31 7zm22-7zm-6 59zm1 26zm3-3zm-42 13zm-5 25zm-24-20zm-35-5zm74 76zm26-4zm16 14zm27 6zm-13-37zm-36 51z"/><path stroke="#4a7cb3" d="M2522 3650zm86-6zm1 77zm3 1zm-23 10zm9 10zm-9 19zm39-17zm12 69zm-10 16zm-52-15zm0 60zm31 21zm34-10zm-24 90zm44 9zm-126-4zm-2 22zm10 17zm11 3zm23 12zm12 23zm-22 11zm-37-210zm-10-36zm26-95z"/><path stroke="#ef8632" d="M2681 3858zm12 7zm8 32zm-14 91zm9 69zm171 2zm-8-13zm-11-61zm-18-25zm38-14zm1-27zm12-62zm-51 19zm-42 55zm-25-134zm8-10z"/><path stroke="#68ad57" d="M2674 3657zm-17 47zm-1 6zm-23-3zm87 19zm3 5zm41 17zm0 18zm26-28zm6-41zm-31-2zm-20-14zm97-19zm14 48zm-5 26zm34 0zm5-46zm-26 116zm-16-2zm-18 3z"/><path stroke="#4a7cb3" d="M2532 3689zm23 24zm69 15zm18 3zm32 26zm-2 51zm-6-4zm-44-27zm-60 102zm-13 118zm22 5zm26 0zm23 30zm32 6zm-16-55zm38-37zm-122 85zm-14 0z"/><path stroke="#ef8632" d="M2686 3864zm-3 24zm13 31zm25 23zm-31 85zm47 29zm16-8zm13-25zm37-34zm23 4zm0-69zm2-2zm3 0zm18-5zm27 11zm10-3zm-4-32zm-10-13zm-14-6zm0-29zm-60 50zm-33-72zm125 145zm-32 91zm6 11zm-31-10z"/><path stroke="#68ad57" d="M2709 3636zm15-7zm30-6zm-3 27zm8 18zm10 33zm-2 25zm-16 12zm48 6zm-4-62zm47-4zm-6-25zm51-34zm-21 151zm-16 17zm8 12zm-26-15zm-141-70zm22-58z"/></g></g><rect class="ax" x="608.25" y="881.87" width="141.1" height="163.67"/>
<g clip-path="url(#c5_5)"><g transform="scale(.25)"><path stroke="#4a7cb3" d="M3117 3645zm8 2zm55-27zm8 76zm37 9zm9-3zm18 32zm29 23zm21-34zm42 15zm1 63zm-44 56zm26 30zm-11 14zm33-2zm14 50zm40 2zm44-9zm4-11zm19-17zm-44-8zm-4-1zm-11-58zm5-86zm37-62zm27-20zm-1-34zm-11-20zm-142-5zm-128 135zm18 27zm2 8zm14 11zm-4 9zm19 1zm14 28zm-37 23zm1 52zm-3 3zm30-7zm-85-6zm-25-33zm-26-24zm-1-17zm42-6zm1-33zm-25-34zm-22 143zm13 52zm26 32zm13 27zm7 15zm-3 35zm36-15zm-8-83zm-9-13zm106 57zm65-10zm9 61z"/><path stroke="#ef8632" d="M3481 3965zm-22 66zm-12 19z"/><path stroke="#4a7cb3" d="M3122 3639zm49 10zm13 36zm-4 28zm27-39zm38-11zm23 36zm0-81zm101 60zm34 5zm23 1zm-3 29zm4 5zm8-1zm-7 9zm7 39zm41-12zm-2-31zm-105-1zm-40 43zm12 13zm-28-29zm-33 29zm-1 11zm-3 21zm17 13zm59 3zm16 9zm-3 8zm-39 41zm-17 50zm-7 51zm-6 64zm-48 7zm6 9zm-21-3zm-1-19zm-5 2zm21-16zm-65 10zm15 21zm-73-1zm49-112zm-3-6zm40-9zm4-32zm-54-9zm18-69zm38-39zm-3-31zm43 206zm122-10zm25 21zm27-7zm-6-55zm55 8zm-9-42zm-89 140zm-3 4zm-30-6zm65-364z"/><path stroke="#ef8632" d="M3432 4050z"/><path stroke="#68ad57" d="M3148 3624z"/><path stroke="#4a7cb3" d="M3123 3699zm54-8zm5-41zm24-25zm72-2zm4 70zm4 26zm50 25zm13-47zm64 22zm36 27zm10 11zm16-9zm7 17zm2 13zm-33 34zm-87-1zm-12 61zm16 47zm37-27zm-21 104zm-7 22zm-7-1zm4 36zm-18 4zm-21-4zm-4 17zm-34-46zm-2-5zm10-13zm6-11zm39 1zm-55-46zm-59 28zm-11 12zm-24-21zm-46 11zm31 68zm-56 20zm116-52zm-5-122zm-23 18zm13-87zm19-13zm-67 9zm-17-54zm-8-5zm-19 3zm-2 5zm73 2zm-6-26zm-4-12zm10-28zm27 40zm82 94zm-206 13zm360-141z"/><path stroke="#ef8632" d="M3462 4008zm4 25zm6 14zm-26 7zm-7 13z"/><path stroke="#4a7cb3" d="M3123 3667zm93 33zm4 33zm-29 10zm11 90zm2 2zm12 17zm17-27zm64 21zm-10 45zm-1 52zm-18 4zm-43 19zm3 54zm0 28zm-29 16zm-70-18zm11-49zm20 2zm2-37zm10-27zm-48-19zm12-30zm30-37zm71 61zm96-42zm14-1zm3-12zm11 18zm11 10zm9-23zm-4-22zm8-39zm35-66zm20-5zm40 32zm-24 86zm-3 98zm-6 11zm-114 12zm24 83zm18-5zm14 3zm-63 22zm-216-70zm192-232zm-4-8zm12-69zm-27-5zm95-42zm-12-14zm60-5zm34-5zm9 25z"/><path stroke="#ef8632" d="M3469 3973zm0 9zm-11 31zm-6 3zm-4 15zm7 3zm2 25zm24-13zm-2-31z"/><path stroke="#4a7cb3" d="M3121 3661zm25 47zm7 119zm15 12zm-41-14zm15 56zm4 61zm-25-5zm48-8zm37 13zm-16 20zm-21 20zm8 13zm38-8zm39 22zm30-7zm5-9zm16-25zm19 2zm25-6zm5-18zm-4 47zm-5 8zm17 33zm55-95zm10-1zm35-36zm16-10zm4-45zm-37-8zm-48 2zm15-28zm-58 32zm10 13zm-49 4zm-43 8zm-20-4zm-10-38zm1-58zm-17-9zm-9 20zm59 20zm37-30zm-9-52zm0-31zm33 12zm4 2zm40 47zm59-56zm22 8zm17-31zm-196-20zm-19 9zm9 252zm-6 35zm15-1zm-46-25zm-26-20zm-93 110zm7 12z"/><path stroke="#ef8632" d="M3426 4036z"/><path stroke="#68ad57" d="M3150 3629z"/><path stroke="#4a7cb3" d="M3177 3640zm22 13zm-31 34zm-4 55zm-10 21zm-11-7zm-12 10zm16 13zm-2 36zm-10 36zm-19-1zm8 78zm33-26zm59 28zm22 20zm10 15zm-23 12zm-26 25zm17 31zm19 4zm-82-28zm136-78zm93 2zm-8-21zm21 0zm29 15zm32-7zm7-15zm0 33zm-7-135zm-16-14zm-27 4zm-22 9zm-6 1zm5 20zm1 26zm-62-4zm11-35zm36-41zm-1-47zm28-5zm-5 25zm45-35zm2-3zm-4-23zm6-59zm-22 7zm-30-7zm-6 37zm-19 9zm-2-29zm-29 78zm-54-50zm-45 41zm-1 37zm18 27zm-144-25zm356 25zm13 37zm-49 14zm-47 226z"/><path stroke="#ef8632" d="M3460 4026zm15-11z"/><path stroke="#4a7cb3" d="M3112 3650zm87-6zm0 77zm3 1zm-23 10zm9 10zm-8 19zm38-17zm5-37zm24 3zm1-6zm16-47zm71 24zm20 14zm31 2zm-5 41zm-26 10zm-1 18zm7 21zm-8 10zm67 10zm19-3zm15 2zm17 51zm-51 19zm40 43zm-2 27zm-38 14zm19 25zm-61-54zm-87-34zm-8-32zm-11-7zm-39 27zm-33 10zm-32-21zm1-60zm61-1zm-10 16zm-107-7zm9 36zm6 122zm-3 22zm11 17zm10 3zm23 12zm12 23zm-22 11zm128-11zm-9-69zm-25-4zm-43-9zm-72-248zm172-1zm3 5zm128 5zm5-26zm34-20zm-5 46zm-43-74z"/><path stroke="#ef8632" d="M3449 4046zm8 13z"/><path stroke="#4a7cb3" d="M3122 3689zm24 24zm68 15zm18 3zm33 26zm-3 51zm-5-4zm-44-27zm69-63zm21-58zm-4-20zm15-7zm31-6zm-4 27zm8 18zm10 33zm-2 25zm-16 12zm49 6zm-4-62zm47-4zm-7-25zm51-34zm-21 151zm-16 17zm8 12zm-26-15zm26 61zm1 29zm13 6zm10 13zm5 32zm-10 3zm-27-11zm-18 5zm-4 0zm-2 2zm-28-29zm6 94zm22 4zm-60 30zm-13 25zm-16 8zm-47-29zm-38 11zm-31-6zm-24-30zm-25 0zm-23-5zm3 34zm-14 0zm99-48zm37-37zm22-27zm-13-31zm3-24zm35 78zm44-119zm-203 56z"/><path stroke="#ef8632" d="M3480 3968zm-31 91zm6 11zm-32-10z"/></g></g><rect class="ax" x="755.76" y="881.87" width="141.1" height="163.67"/>
<g clip-path="url(#c5_6)"><g transform="scale(.25)"><path stroke="#4a7cb3" d="M3707 3645zm8 2zm55-27zm8 76zm37 9zm9-3zm18 32zm29 23zm21-34zm42 15zm1 63zm-44 56zm27 30zm-12 14zm34-2zm13 50zm40 2zm45-9zm3-11zm19-17zm-44-8zm-4-1zm-10-58zm4-86zm37-62zm28-20zm-2-34zm-11-20zm-142-5zm-128 135zm18 27zm2 8zm15 11zm-5 9zm19 1zm14 28zm-37 23zm1 52zm-3 3zm31-7zm-86-6zm-25-33zm-26-24zm0-17zm41-6zm1-33zm-25-34zm-21 143zm12 52zm26 32zm13 27zm7 15zm-2 35zm35-15zm-8-83zm-9-13zm107 57zm64-10zm9 61zm82-8zm11-19zm22-66z"/><path stroke="#4a7cb3" d="M3712 3639zm26-15zm24 25zm12 36zm-4 28zm27-39zm38-11zm23 36zm0-81zm101 60zm34 5zm23 1zm-2 29zm3 5zm8-1zm-7 9zm7 39zm41-12zm-2-31zm-104-1zm-40 43zm11 13zm-27-29zm-33 29zm-2 11zm-3 21zm17 13zm59 3zm16 9zm-3 8zm-39 41zm-17 50zm-7 51zm-5 64zm-49 7zm6 9zm-20-3zm-2-19zm-5 2zm21-16zm-65 10zm16 21zm-74-1zm49-112zm-2-6zm39-9zm4-32zm-54-9zm19-69zm37-39zm-3-31zm43 206zm122-10zm26 21zm26-7zm-6-55zm55 8zm-9-42zm-39 178zm-52-34zm2-4zm-32-2zm65-364z"/><path stroke="#4a7cb3" d="M3713 3699zm54-8zm5-41zm24-25zm72-2zm4 70zm5 26zm49 25zm13-47zm65 22zm35 27zm11 11zm15-9zm8 17zm1 13zm-33 34zm-87-1zm-12 61zm16 47zm37-27zm-20 104zm-7 22zm-8-1zm-19-21zm-40-1zm-6 11zm-10 13zm2 5zm-51-8zm-20-26zm10-12zm-35-9zm-46 11zm32 68zm-56 20zm200 2zm4-17zm21 4zm18-4zm72 1zm-7 13zm34-20zm-7-14zm-4-25zm-167-58zm-53-56zm-24 18zm13-87zm19-13zm-67 9zm-17-54zm-8-5zm-19 3zm-2 5zm73 2zm-6-26zm-4-12zm11-28zm27 40zm81 94zm-206 13zm360-141z"/><path stroke="#4a7cb3" d="M3713 3667zm94 33zm3 33zm-29 10zm11 90zm3 2zm11 17zm18-27zm63 21zm-10 45zm-1 52zm-18 4zm-43 19zm3 54zm1 28zm-30 16zm-69-18zm10-49zm20 2zm2-37zm11-27zm-49-19zm13-30zm30-37zm71 61zm95-42zm14-1zm3-12zm11 18zm11 10zm9-23zm-4-22zm8-39zm35-66zm20-5zm40 32zm-24 86zm-3 98zm-5 11zm21 18zm1 9zm9 33zm-20-2zm-6 3zm2 18zm-7-3zm10 28zm23-13zm-92 2zm-14-3zm-18 5zm-31 20zm7-103zm-31-199zm-4-8zm12-69zm-27-5zm96-42zm-13-14zm60-5zm34-5zm9 25zm-359 355z"/><path stroke="#4a7cb3" d="M3740 3629zm-29 32zm26 47zm6 119zm15 12zm-41-14zm15 56zm4 61zm-25-5zm48-8zm38 13zm-17 20zm-21 20zm9 13zm37-8zm40 22zm29-7zm5-9zm16-25zm20 2zm25-6zm4-18zm-4 47zm-4 8zm16 33zm64 2zm1-98zm-10 1zm45-37zm16-10zm4-45zm-37-8zm-48 2zm16-28zm-59 32zm10 13zm-49 4zm-43 8zm-20-4zm-10-38zm2-58zm-17-9zm-10 20zm59 20zm37-30zm-8-52zm-1-31zm34 12zm3 2zm40 47zm60-56zm21 8zm18-31zm-196-20zm-19 9zm8 252zm-6 35zm15-1zm-45-25zm-26-20zm-93 110zm7 12z"/><path stroke="#4a7cb3" d="M3768 3640zm21 13zm-30 34zm-5 55zm-10 21zm-10-7zm-13 10zm17 13zm-2 36zm-11 36zm-18-1zm8 78zm33-26zm58 28zm23 20zm9 15zm-23 12zm-26 25zm18 31zm18 4zm-81-28zm135-78zm93 2zm-8-21zm22 0zm29 15zm32-7zm6-15zm0 33zm12 77zm-14 11zm-75 23zm5-200zm-1-26zm1-21zm-6 1zm28-10zm27-4zm16 14zm26 6zm-13-37zm-35 51zm-94-13zm-11 35zm47-76zm-1-47zm28-5zm-5 25zm45-35zm2-3zm-4-23zm7-59zm-22 7zm-31-7zm-5 37zm-20 9zm-2-29zm-29 78zm-54-50zm-45 41zm-1 37zm19 27zm-145-25z"/><path stroke="#4a7cb3" d="M3702 3650zm87-6zm65 13zm-16 47zm-1 6zm-24-3zm-21 15zm-2-1zm-21 11zm9 10zm-8 19zm39-17zm12 69zm-10 16zm-52-15zm0 60zm31 21zm33-10zm39-27zm11 7zm8 32zm-13 91zm-25-4zm-43-9zm-82 5zm-2 22zm10 17zm11 3zm23 12zm11 23zm-22 11zm128-11zm171 2zm-8-13zm-11-61zm-18-25zm37-14zm2-27zm11-62zm-17-51zm-15-2zm-19 3zm0 69zm-42 55zm-25-134zm9-10zm-8-21zm1-18zm26-10zm5-41zm-31-2zm-20-14zm-25 45zm3 5zm128 5zm5-26zm34-20zm-4 46zm-44-74zm-294 65zm-25 95zm10 36z"/><path stroke="#4a7cb3" d="M3712 3689zm24 24zm69 15zm18 3zm32 26zm-2 51zm-6-4zm-44-27zm69-63zm22-58zm-5-20zm15-7zm31-6zm-3 27zm7 18zm10 33zm-2 25zm-16 12zm49 6zm-4-62zm47-4zm-7-25zm51-34zm-21 151zm-16 17zm8 12zm-26-15zm26 61zm1 29zm13 6zm10 13zm5 32zm-10 3zm-27-11zm-18 5zm-4 0zm-2 2zm-28-29zm6 94zm22 4zm8 67zm25-1zm6 11zm25-102zm-124 55zm-12 25zm-16 8zm-48-29zm-38 11zm-31-6zm-23-30zm-26 0zm-23-5zm4 34zm-14 0zm98-48zm38-37zm21-27zm-13-31zm4-24zm34 78zm44-119zm-203 56z"/></g></g><rect class="ax" x="903.27" y="881.87" width="141.1" height="163.67"/>
<g clip-path="url(#c5_7)"><g transform="scale(.25)"><path stroke="#4a7cb3" d="M4298 3645zm7 2zm63 49zm38 9zm9-3zm17 32zm30 23zm20-34zm42 15zm2 63zm-45 56zm27 30zm-12 14zm34-2zm13 50zm40 2zm45-9zm4-11zm19-17zm-45-8zm-4-1zm-10-58zm4-86zm37-62zm28-20zm-1-34zm-12-20zm-141-5zm-128 135zm17 27zm2 8zm15 11zm-4 9zm19 1zm13 28zm-36 23zm1 52zm-4 3zm31-7zm-86-6zm-24-33zm-27-24zm0-17zm42-6zm0-33zm-25-34zm-9 195zm26 32zm13 27zm8 15zm-3 35zm35-15zm-8-83zm-9-13zm107 57zm64-10zm10 61zm81-8zm12-19zm22-66z"/><path stroke="#000000" d="M4360 3620zm-68 280z"/><path stroke="#4a7cb3" d="M4303 3639zm49 10zm12 36zm-3 28zm26-39zm39-11zm22 36zm13 78zm-2 11zm-3 21zm17 13zm59 3zm16 9zm-3 8zm-38 41zm-17 50zm-8 51zm-5 64zm-49 7zm7 9zm-21-3zm-2-19zm-4 2zm20-16zm-64 10zm15 21zm-74-1zm49-112zm-2-6zm39-9zm5-32zm-55-9zm19-69zm37-39zm-3-31zm100-3zm16 16zm11 13zm29-56zm-1-43zm35 5zm22 1zm-2 29zm4 5zm7-1zm-7 9zm7 39zm42-12zm-2-31zm-60-76zm10 260zm7 55zm-27 7zm-25-21zm2 65zm-2 4zm-30-6zm82 40zm48-136zm-8-42zm-214 85z"/><path stroke="#000000" d="M4329 3624zm119-6z"/><path stroke="#4a7cb3" d="M4303 3699zm55-8zm4-41zm25-25zm71-2zm4 70zm5 26zm50 25zm13-47zm64 22zm35 27zm11 11zm16-9zm7 17zm1 13zm-32 34zm-87-1zm-12 61zm15 47zm37-27zm-20 104zm-7 22zm-8-1zm-19-21zm-39-1zm-6 11zm-11 13zm2 5zm-51-8zm-20-26zm11-12zm-36-9zm-45 11zm31 68zm-56 20zm200 2zm4-17zm22 4zm17-4zm72 1zm-6 13zm33-20zm-6-14zm-4-25zm-168-58zm-53-56zm-24 18zm14-87zm18-13zm-67 9zm-16-54zm-9-5zm-18 3zm-3 5zm73 2zm-5-26zm-4-12zm10-28zm27 40zm81 94zm-206 13zm361-141z"/><path stroke="#4a7cb3" d="M4304 3667zm93 33zm3 33zm-29 10zm11 90zm3 2zm11 17zm18-27zm63 21zm-9 45zm-2 52zm-17 4zm-44 19zm3 54zm1 28zm-30 16zm-69-18zm11-49zm19 2zm2-37zm11-27zm-48-19zm12-30zm30-37zm71 61zm95-42zm14-1zm3-12zm11 18zm12 10zm8-23zm-4-22zm8-39zm35-66zm21-5zm40 32zm-25 86zm-2 98zm-6 11zm22 18zm0 9zm9 33zm-20-2zm-6 3zm-4 15zm6 3zm3 25zm24-13zm-93 2zm-13-3zm-19 5zm-30 20zm6-103zm-31-199zm-4-8zm13-69zm-27-5zm95-42zm-12-14zm59-5zm35-5zm9 25zm-359 355z"/><path stroke="#4a7cb3" d="M4301 3661zm26 47zm7 119zm15 12zm-41-14zm14 56zm4 61zm-25-5zm49-8zm37 13zm-17 20zm-21 20zm9 13zm38-8zm39 22zm29-7zm5-9zm17-25zm19 2zm25-6zm4-18zm-4 47zm-4 8zm17 33zm64 2zm0-98zm-10 1zm46-37zm16-10zm4-45zm-37-8zm-49 2zm16-28zm-59 32zm10 13zm-49 4zm-43 8zm-19-4zm-10-38zm1-58zm-17-9zm-9 20zm58 20zm37-30zm-8-52zm-1-31zm34 12zm3 2zm40 47zm60-56zm22 8zm17-31zm-196-20zm-19 9zm9 252zm-7 35zm16-1zm-46-25zm-26-20zm-93 110zm7 12z"/><path stroke="#000000" d="M4330 3629z"/><path stroke="#4a7cb3" d="M4358 3640zm21 13zm-30 34zm-5 55zm-10 21zm-10-7zm-13 10zm17 13zm-2 36zm-11 36zm-18-1zm8 78zm33-26zm58 28zm23 20zm10 15zm-24 12zm-26 25zm18 31zm19 4zm-82-28zm135-78zm93 2zm-8-21zm22 0zm29 15zm32-7zm6-15zm0 33zm-2 88zm15-11zm-90 34zm5-200zm-1-26zm2-21zm-7 1zm29-10zm26-4zm16 14zm-22 20zm36-51zm-27-65zm3-3zm-4-23zm6-59zm-22 7zm-36 30zm-20 9zm-2-29zm7 83zm29-5zm-5 25zm-23 27zm-36 41zm-10 35zm9-128zm-54-50zm-45 41zm-1 37zm19 27zm-144-25z"/><path stroke="#000000" d="M4575 3622zm88 187z"/><path stroke="#4a7cb3" d="M4292 3650zm87-6zm65 13zm-16 47zm-1 6zm-23-3zm-21 15zm-3-1zm-11 21zm-10-10zm1 29zm39-17zm12 69zm-10 16zm-52-15zm0 60zm31 21zm34-10zm38-27zm12 7zm8 32zm-14 91zm-25-4zm-43-9zm-82 5zm-2 22zm10 17zm11 3zm23 12zm12 23zm-22 11zm-37-210zm-10-36zm25-95zm172-1zm3 5zm42 17zm0 18zm7 21zm-8 10zm66 10zm19-3zm15 2zm17 51zm-50 19zm39 43zm-2 27zm-37 14zm18 25zm11 61zm8 13zm-79-128zm2-193zm5-41zm-31-2zm-20-14zm97-19zm14 48zm-4 26zm34 0zm4-46z"/><path stroke="#000000" d="M4467 4057z"/><path stroke="#4a7cb3" d="M4303 3689zm23 24zm69 15zm18 3zm32 26zm-2 51zm-6-4zm-44-27zm69-63zm22-58zm-4-20zm15-7zm30-6zm-3 27zm8 18zm9 33zm-1 25zm-16 12zm48 6zm-4-62zm47-4zm-7-25zm51-34zm-21 151zm-16 17zm8 12zm-25-15zm26 61zm0 29zm13 6zm10 13zm5 32zm-10 3zm-27-11zm-18 5zm-3 0zm-3 2zm-27-29zm5 94zm23 4zm7 67zm25-1zm6 11zm26-102zm-124 55zm-13 25zm-16 8zm-48-29zm-37 11zm-32-6zm-23-30zm-26 0zm-23-5zm4 34zm-14 0zm98-48zm38-37zm21-27zm-13-31zm4-24zm35 78zm44-119zm-203 56z"/></g></g><rect class="ax" x="1050.78" y="881.87" width="141.1" height="163.67"/>
<g clip-path="url(#c5_8)"><g transform="scale(.25)"><path stroke="#4a7cb3" d="M4888 3645zm7 2zm55-27zm8 76zm38 9zm9-3zm18 32zm29 23zm21-34zm42 15zm1 63zm-45 56zm27 30zm-11 14zm33-2zm14 50zm39 2zm45-9zm4-11zm19-17zm-45-8zm-4-1zm-10-58zm5-86zm37-62zm27-20zm-1-34zm-11-20zm-142-5zm-128 135zm17 27zm3 8zm14 11zm-4 9zm19 1zm14 28zm-37 23zm1 52zm-4 3zm31-7zm-85-6zm-25-33zm-27-24zm0-17zm42-6zm1-33zm-26-34zm-21 143zm12 52zm27 32zm13 27zm7 15zm-3 35zm36-15zm-9-83zm-8-13zm106 57zm64-10zm10 61zm81-8zm12-19zm22-66z"/><path stroke="#4a7cb3" d="M4893 3639zm26-15zm23 25zm13 36zm-4 28zm26-39zm39-11zm23 36zm0-81zm101 60zm34 5zm22 1zm-2 29zm4 5zm8-1zm-7 9zm6 39zm42-12zm-2-31zm-105-1zm-40 43zm12 13zm-28-29zm-33 29zm-2 11zm-2 21zm17 13zm58 3zm17 9zm-3 8zm-39 41zm-17 50zm-8 51zm-5 64zm-48 7zm6 9zm-21-3zm-1-19zm-5 2zm20-16zm-64 10zm15 21zm-74-1zm50-112zm-3-6zm40-9zm4-32zm-54-9zm18-69zm38-39zm-3-31zm43 206zm122-10zm25 21zm27-7zm-7-55zm56 8zm-9-42zm-39 178zm-53-34zm3-4zm-33-2zm65-364z"/><path stroke="#4a7cb3" d="M4894 3699zm54-8zm4-41zm25-25zm71-2zm4 70zm5 26zm50 25zm13-47zm64 22zm35 27zm11 11zm16-9zm7 17zm2 13zm-33 34zm-87-1zm-12 61zm16 47zm37-27zm-21 104zm-7 22zm-7-1zm3 36zm-17 4zm-21-4zm-4 17zm-34-46zm-2-5zm10-13zm6-11zm39 1zm-55-46zm-59 28zm-11 12zm20 26zm-59 32zm-56 20zm25-88zm45-11zm18-57zm23-18zm-10-69zm19-13zm-68 9zm-16-54zm-8-5zm-19 3zm-2 5zm73 2zm-6-26zm-4-12zm10-28zm27 40zm81 94zm-205 13zm360-141zm-11 296zm4 25zm6 14zm-27 7zm-6 13z"/><path stroke="#4a7cb3" d="M4894 3667zm93 33zm4 33zm-30 10zm12 90zm2 2zm11 17zm18-27zm64 21zm-10 45zm-2 52zm-17 4zm-43 19zm2 54zm1 28zm-29 16zm-70-18zm11-49zm19 2zm3-37zm10-27zm-48-19zm12-30zm30-37zm71 61zm96-42zm14-1zm3-12zm11 18zm11 10zm8-23zm-4-22zm8-39zm36-66zm20-5zm40 32zm-24 86zm-3 98zm-6 11zm22 18zm0 9zm-11 31zm-6 3zm-4 15zm7 3zm2 25zm24-13zm-2-31zm-91 33zm-13-3zm-18 5zm-31 20zm6-103zm-31-199zm-4-8zm13-69zm-27-5zm95-42zm-12-14zm60-5zm34-5zm9 25zm-359 355z"/><path stroke="#4a7cb3" d="M4921 3629zm-29 32zm25 47zm7 119zm15 12zm-41-14zm14 56zm4 61zm-25-5zm49-8zm37 13zm-17 20zm-21 20zm9 13zm38-8zm39 22zm30-7zm5-9zm16-25zm19 2zm25-6zm5-18zm-4 47zm-5 8zm17 33zm64 2zm1-98zm-10 1zm45-37zm16-10zm4-45zm-37-8zm-48 2zm15-28zm-58 32zm9 13zm-48 4zm-43 8zm-20-4zm-10-38zm1-58zm-17-9zm-9 20zm58 20zm38-30zm-9-52zm-1-31zm34 12zm4 2zm39 47zm60-56zm22 8zm17-31zm-196-20zm-19 9zm9 252zm-7 35zm16-1zm-46-25zm-26-20zm-93 110zm7 12z"/><path stroke="#4a7cb3" d="M4948 3640zm22 13zm-31 34zm-4 55zm-10 21zm-11-7zm-12 10zm16 13zm-2 36zm-11 36zm-18-1zm8 78zm33-26zm59 28zm22 20zm10 15zm-23 12zm-27 25zm18 31zm19 4zm-82-28zm136-78zm93 2zm-8-21zm21 0zm29 15zm32-7zm7-15zm0 33zm12 77zm-15 11zm-74 23zm5-200zm-2-26zm2-21zm-7 1zm29-10zm26-4zm16 14zm27 6zm-13-37zm-36 51zm-93-13zm-11 35zm47-76zm22-27zm5-25zm-29 5zm-35-5zm31-49zm19-9zm-22-20zm28-17zm30 7zm22-7zm-6 59zm1 26zm3-3zm-161-37zm-44 41zm-2 37zm19 27zm-144-25z"/><path stroke="#4a7cb3" d="M4883 3650zm86-6zm1 77zm3 1zm-23 10zm9 10zm-9 19zm39-17zm5-37zm23 3zm2-6zm16-47zm71 24zm20 14zm31 2zm-6 41zm-25 10zm-1 18zm7 21zm-8 10zm67 10zm18-3zm16 2zm17 51zm-51 19zm39 43zm-1 27zm-38 14zm18 25zm11 61zm8 13zm-171-2zm-9-69zm-24-4zm-44-9zm-82 5zm-2 22zm11 17zm10 3zm23 12zm12 23zm-22 11zm9-194zm31 21zm34-10zm38-27zm12 7zm8 32zm87 34zm63-195zm5-26zm34-20zm-5 46zm-43-74zm-122 64zm3 5zm-83 82zm-10 16zm-52-15zm-56 8zm10 36zm16-131z"/><path stroke="#4a7cb3" d="M4893 3689zm23 24zm69 15zm18 3zm32 26zm-2 51zm-6-4zm-44-27zm70-63zm21-58zm-4-20zm15-7zm31-6zm-4 27zm8 18zm10 33zm-2 25zm-16 12zm49 6zm-4-62zm46-4zm-6-25zm51-34zm-21 151zm-16 17zm8 12zm-26-15zm26 61zm0 29zm14 6zm10 13zm4 32zm-10 3zm-27-11zm-18 5zm-3 0zm-2 2zm-28-29zm5 94zm23 4zm7 67zm26-1zm6 11zm25-102zm-124 55zm-13 25zm-16 8zm-47-29zm-38 11zm-31-6zm-24-30zm-26 0zm-22-5zm3 34zm-14 0zm98-48zm38-37zm22-27zm-13-31zm3-24zm35 78zm44-119zm-203 56z"/></g></g><rect class="ax" x="1199.09" y="881.87" width="140.3" height="163.67"/>
<g clip-path="url(#c5_9)"><g transform="scale(.25)"><path stroke="#4a7cb3" d="M5478 3645zm8 2zm55-27zm8 76zm37 9zm9-3zm18 32zm-54 21zm18 27zm2 8zm-60 1zm-1 33zm-42 6zm1 17zm26 24zm25 33zm-56-4zm13 52zm26 32zm13 27zm7 15zm-3 35zm36-15zm-8-83zm-9-13zm36-33zm3-3zm27-4zm-28-48zm-91-105z"/><path stroke="#ef8632" d="M5687 3620zm-24 103zm-21 34zm63-19zm1 63zm-44 56zm26 30zm-11 14zm34-2zm13 50zm48-102zm5-86zm37-62zm27-20zm-1-34zm-11-20zm-221 186zm-19-1zm5-9zm28 38z"/><path stroke="#68ad57" d="M5653 4007zm65-10zm9 61zm82-8zm11-19zm22-66zm-34-23zm4-11zm19-17zm-44-8zm-4-1zm-19 46z"/><path stroke="#4a7cb3" d="M5483 3639zm26-15zm24 25zm12 36zm-4 28zm27-39zm38-11zm-31 88zm3 31zm-38 39zm-18 69zm10 50zm3 6zm37-15zm4-32zm42 58zm-9 71zm0 27zm-15 6zm-1-19zm-5 2zm-28 15zm-16-21zm-58 20z"/><path stroke="#ef8632" d="M5629 3618zm0 81zm12 78zm-1 11zm-3 21zm17 13zm59 3zm16 9zm-3 8zm-39 41zm-17 50zm70 14zm92-75zm5-119zm-2-31zm-39-5zm-8 1zm-3-5zm4 13zm-2-42zm-23-1zm-34-5zm1 43zm-41 43zm12 13zm-28-29zm122 17zm-20-119z"/><path stroke="#68ad57" d="M5663 3984zm-6 64zm-42 16zm95-54zm33 2zm-3 4zm26-48zm26-7zm-6-55zm55 8zm-48 136z"/><path stroke="#4a7cb3" d="M5484 3699zm54-8zm5-41zm24-25zm5 81zm-11 28zm4 12zm6 26zm-44-5zm-8-5zm-19 3zm-2 5zm46 51zm-70 32zm105 59zm23-18zm-5 84zm-11 12zm-24-21zm-46 11zm31 68zm-56 20zm116-52zm49-66zm-58-204z"/><path stroke="#ef8632" d="M5639 3623zm4 70zm5 26zm49 25zm13-47zm65 22zm35 27zm10 11zm16-9zm8 17zm1 13zm-33 34zm-87-1zm-12 61zm16 47zm-49-79zm-69-28zm-19 13zm242-113z"/><path stroke="#68ad57" d="M5766 3892zm-20 104zm-8 22zm-7-1zm4 36zm-18 4zm-21-4zm-4 17zm-34-46zm-2-5zm10-13zm6-11zm39 1zm112 12zm4 25zm6 14zm-26 7zm-7 13z"/><path stroke="#4a7cb3" d="M5484 3667zm93 33zm4 33zm-29 10zm11 90zm3 2zm11 17zm-49-3zm-30 37zm-13 30zm49 19zm-11 27zm-2 37zm-20-2zm-30 3zm19 46zm70 18zm30-16zm-1-28zm-3-54zm43-19zm18-4zm-49-33z"/><path stroke="#ef8632" d="M5644 3686zm27 5zm-12 69zm4 8zm-5 78zm-10 45zm46-23zm14-1zm3-12zm11 18zm11 10zm9-23zm-4-22zm8-39zm35-66zm20-5zm40 32zm-24 86zm13-201zm-9-25zm-34 5zm-60 5zm13 14zm-146 181z"/><path stroke="#68ad57" d="M5694 3967zm24 83zm18-5zm14 3zm59-17zm7 3zm-3-18zm6-3zm21 2zm2 31zm-24 13zm12-77zm0-9zm-22-18zm6-11zm-127 126z"/><path stroke="#4a7cb3" d="M5511 3629zm-29 32zm25 47zm7 119zm15 12zm-41-14zm15 56zm4 61zm-25-5zm48-8zm38 13zm-17 20zm-21 20zm8 13zm38-8zm39 22zm13-63zm15-1zm-9-34zm-1-41zm-20-4zm-16 54zm-26-20zm7-119zm10-20zm16 9zm-126 240zm7 12z"/><path stroke="#ef8632" d="M5625 3659zm19-9zm21 38zm0 31zm33-19zm4 2zm40 47zm-68 22zm-37 30zm-34 27zm73 34zm49-4zm-10-13zm43-4zm15-28zm33 26zm37 8zm-20-146zm-22-8zm39-23zm-125 276z"/><path stroke="#68ad57" d="M5666 3968zm19 2zm25-6zm1 29zm-5 8zm17 33zm64 2zm1-98zm-10 1zm45-37zm16-10zm-189 101zm-5 9z"/><path stroke="#4a7cb3" d="M5539 3640zm21 13zm-31 34zm-4 55zm-10 21zm-11-7zm-12 10zm16 13zm-1 36zm-11 36zm-19-1zm8 78zm33-26zm59 28zm22 20zm10 15zm-23 12zm-26 25zm17 31zm19 4zm-82-28zm136-78zm-50-186zm1-37zm-127 39z"/><path stroke="#ef8632" d="M5646 3667zm85 1zm19-9zm-21-20zm27-17zm31 7zm21-7zm-6 59zm4 23zm-2 3zm-40 10zm-5 25zm-23-20zm-36-5zm37 52zm9 34zm6-1zm-1 21zm1 26zm-62-4zm11-35zm73-17zm27-4zm16 14zm26 6zm-13-37zm-36 51zm-59 89zm8 21zm-125-161z"/><path stroke="#68ad57" d="M5757 3912zm28 15zm32-7zm7-15zm0 33zm12 77zm-14 11zm-75 23z"/><path stroke="#4a7cb3" d="M5473 3650zm87-6zm0 77zm3 1zm-23 10zm9 10zm-8 19zm38-17zm5-37zm24 3zm1-6zm-110 23zm31 87zm0 60zm31 21zm33-10zm-13-56zm-107-7zm9 36zm6 122zm-3 22zm11 17zm10 3zm24 12zm11 23zm-22 11zm51-93zm43 9zm25 4z"/><path stroke="#ef8632" d="M5625 3657zm71 24zm20 14zm31 2zm-5 41zm-26 10zm-1 18zm7 21zm-8 10zm67 10zm19-3zm15 2zm17 51zm-51 19zm-42 55zm-87-34zm-8-32zm-11-7zm-42-45zm83-82zm-3-5zm131 10zm5-26zm34-20zm-4 46zm-44-74z"/><path stroke="#68ad57" d="M5648 4057zm171 2zm-9-13zm-10-61zm-19-25zm38-14zm2-27z"/><path stroke="#4a7cb3" d="M5483 3689zm24 24zm69 15zm17 3zm-19 46zm-61 102zm121 9zm13 31zm-22 27zm-37 37zm-40 19zm-25 0zm-23-5zm3 34zm-14 0zm83 1zm31 6z"/><path stroke="#ef8632" d="M5660 3636zm15-7zm31-6zm-3 27zm7 18zm10 33zm-2 25zm-16 12zm49 6zm-4-62zm47-4zm-7-25zm51-34zm-21 151zm-16 17zm8 12zm-26-15zm26 61zm1 29zm13 6zm-74 15zm-33-72zm-93-15zm-5-4zm8-47zm17-43zm22-58zm-27 208zm34 78z"/><path stroke="#68ad57" d="M5641 4027zm48 29zm15-8zm13-25zm38-34zm22 4zm0-69zm2-2zm4 0zm18-5zm27 11zm10-3zm-5-32zm8 75zm-31 91zm6 11zm-32-10z"/></g></g><rect class="ax" x="1346.6" y="881.87" width="140.3" height="163.67"/>
<g clip-path="url(#c5_10)"><g transform="scale(.25)"><path stroke="#4a7cb3" d="M6069 3645zm7 2zm55-27zm8 76zm37 9zm9-3zm18 32zm30 23zm20-34zm42 15zm1 63zm-98 10zm-18-1zm4-9zm-15-11zm-2-8zm-17-27zm-66 2zm25 34zm258-30zm37-62zm28-20zm-2-34zm-11-20zm-141-5z"/><path stroke="#68ad57" d="M6067 3830zm0 17zm26 24zm25 33zm-55-4zm12 52zm26 32zm13 27zm8 15zm-3 35zm35-15zm-8-83zm-9-13zm36-33zm4-3zm27-4zm63-9zm-15-44zm-40-18zm-36 23zm-68-38zm136 183z"/><path stroke="#ef8632" d="M6279 3887zm22 12zm13 50zm40 2zm45-9zm3-11zm19-17zm-44-8zm-4-1zm-10-58zm69 118zm-22 66zm-11 19zm-81 8zm-10-61z"/><path stroke="#4a7cb3" d="M6073 3639zm27-15zm23 25zm12 36zm-4 28zm27-39zm38-11zm23 36zm0-81zm101 60zm34 5zm23 1zm-2 29zm4 5zm7-1zm-7 9zm46-4zm3 31zm-107-32zm-40 43zm11 13zm-27-29zm-33 29zm-2 11zm-3 21zm17 13zm-76-40zm-3-31zm201-105z"/><path stroke="#68ad57" d="M6131 3821zm-19 69zm11 50zm2 6zm37-15zm4-32zm42 58zm45 27zm8-51zm-13 115zm-49 7zm7 9zm-21-3zm-2-19zm-4 2zm20-16zm-65 10zm16 21zm-74-1z"/><path stroke="#ef8632" d="M6303 3825zm16 9zm-3 8zm-38 41zm52 64zm26 21zm26-7zm-6-55zm55 8zm-9-42zm-36-107zm-3 285zm-52-34zm2-4zm-32-2z"/><path stroke="#4a7cb3" d="M6074 3699zm54-8zm5-41zm24-25zm72-2zm4 70zm5 26zm49 25zm13-47zm65 22zm35 27zm11 11zm15-9zm-1-36zm-263-6zm-11 28zm4 12zm6 26zm-43-5zm-9-5zm-19 3zm-2 5zm101-24zm12 66zm69 28z"/><path stroke="#68ad57" d="M6064 3853zm70-32zm48 4zm11 69zm-24 18zm-17 57zm35 9zm-10 12zm20 26zm49 3zm2 5zm9-18zm5-11zm-16-45zm-139 30zm31 68zm-56 20z"/><path stroke="#ef8632" d="M6315 3811zm-12 61zm16 47zm37-27zm-20 104zm-7 22zm-8-1zm-19-21zm5 61zm18-4zm-39 0zm-4 17zm108-3zm7-13zm27-7zm-6-14zm-5-25zm-11-196zm33-34zm-1-13z"/><path stroke="#4a7cb3" d="M6074 3667zm94 33zm3 33zm-29 10zm107 17zm4 8zm9-77zm-28-5zm96-42zm-12-14zm59-5zm34-5zm10 25zm-29 83zm-21 5zm61 27z"/><path stroke="#68ad57" d="M6118 3849zm35-16zm3 2zm11 17zm18-27zm63 21zm-10 45zm-1 52zm-18 4zm-43 19zm3 54zm1 28zm-30 16zm-69-18zm10-49zm20 2zm2-37zm11-27zm-49-19zm13-30zm101 24zm-128 90z"/><path stroke="#ef8632" d="M6336 3799zm-8 39zm4 22zm-9 23zm-11-10zm-14-6zm-14 1zm17-13zm106-9zm-3 98zm-5 11zm22 18zm0 9zm9 33zm-20-2zm-6 3zm2 18zm-7-3zm10 28zm23-13zm-92 2zm-14-3zm-18 5zm-31 20zm7-103z"/><path stroke="#4a7cb3" d="M6101 3629zm-29 32zm26 47zm80 53zm17 9zm-26 11zm58 20zm37-30zm-8-52zm-1-31zm34 12zm3 2zm40 47zm60-56zm21 8zm18-31zm-196-20zm-19 9z"/><path stroke="#68ad57" d="M6078 3825zm27 2zm15 12zm-27 42zm4 61zm-25-5zm48-8zm38 13zm-17 20zm-21 20zm9 13zm37-8zm40 22zm29-7zm5-9zm17-25zm-24-23zm-15 1zm6-35zm-1-41zm-20-4zm-10-38zm-5 92zm-26-20zm104-38zm-197 148zm7 12z"/><path stroke="#ef8632" d="M6305 3845zm10 13zm33-17zm16-28zm32 26zm37 8zm-4 45zm-16 10zm-35 36zm-10 1zm-63 7zm-4 18zm0 29zm-4 8zm16 33zm64 2zm-101-66z"/><path stroke="#4a7cb3" d="M6129 3640zm21 13zm-30 34zm-5 55zm-10 21zm-10-7zm-13 10zm17 13zm-2 36zm-33-68zm126-2zm1-37zm18 64zm82 38zm36-41zm-1-47zm29-5zm-6 25zm45-35zm2-3zm-3-23zm6-59zm-22 7zm-31-7zm-5 37zm-20 9zm-2-29zm-29 78zm-54-50z"/><path stroke="#68ad57" d="M6068 3850zm18 1zm23 51zm-33 26zm91 2zm23 20zm9 15zm-23 12zm-26 25zm18 31zm18 4zm-81-28zm135-78z"/><path stroke="#ef8632" d="M6280 3845zm62 4zm-1-26zm2-21zm-7 1zm28-10zm27-4zm16 14zm27 6zm-14-37zm-35 51zm29 82zm-6 15zm6 18zm-38-11zm-29-15zm-22 0zm8 21zm4 116zm75-23zm14-11z"/><path stroke="#4a7cb3" d="M6063 3650zm87-6zm65 13zm-16 47zm-1 6zm-24-3zm-21 15zm-2-1zm-21 11zm9 10zm-8 19zm39-17zm12 69zm-62 1zm-56 8zm25-95zm172-1zm3 5zm42 17zm-1 18zm8 21zm-9 10zm28-59zm5-41zm-31-2zm-20-14zm97-19zm14 48zm-4 26zm34 0zm4-46z"/><path stroke="#68ad57" d="M6074 3858zm46 16zm31 21zm33-10zm39-27zm11 7zm8 32zm-13 91zm-25-4zm-43-9zm-82 5zm-2 22zm10 17zm11 3zm23 12zm11 23zm-22 11zm128-11zm-66-228z"/><path stroke="#ef8632" d="M6371 3807zm19-3zm15 2zm17 51zm-51 19zm40 43zm-2 27zm-37 14zm18 25zm11 61zm8 13zm-79-128z"/><path stroke="#4a7cb3" d="M6073 3689zm24 24zm69 15zm18 3zm32 26zm-2 51zm-6-4zm-44-27zm69-63zm22-58zm-5-20zm15-7zm31-6zm-3 27zm7 18zm10 33zm-1 25zm-17 12zm49 6zm-4-62zm47-4zm-7-25zm51-34z"/><path stroke="#68ad57" d="M6103 3879zm121 9zm4-24zm9 55zm25 23zm-46 4zm-38 37zm-39 19zm-26 0zm-23-5zm4 34zm-14 0zm82 1zm32 6zm37-11z"/><path stroke="#ef8632" d="M6306 3823zm34 72zm27 29zm3-2zm3 0zm18-5zm27 11zm10-3zm-5-32zm-10-13zm-13-6zm-1-29zm0-46zm-8-12zm-17-3zm33-14zm24 198zm-64 25zm-22-4zm-38 34zm-12 25zm-16 8zm96 4zm25-1zm6 11z"/></g></g><rect class="ax" x="1494.11" y="881.87" width="140.3" height="163.67"/>
<text class="ti" x="38.59" y="26.29" style="font-size:21.1px" textLength="97.79" lengthAdjust="spacingAndGlyphs">MiniBatch</text>
<text class="ti" x="49.29" y="48.52" style="font-size:21.1px" textLength="76.88" lengthAdjust="spacingAndGlyphs">KMeans</text>
<text class="ti" x="200.39" y="26.3" style="font-size:21.1px" textLength="69.7" lengthAdjust="spacingAndGlyphs">Affinity</text>
<text class="ti" x="175.82" y="48.69" style="font-size:21.1px" textLength="119.15" lengthAdjust="spacingAndGlyphs">Propagation</text>
<text class="ti" x="333.66" y="48.71" style="font-size:21.1px" textLength="99.07" lengthAdjust="spacingAndGlyphs">MeanShift</text>
<text class="ti" x="489.85" y="26.27" style="font-size:21.1px" textLength="81.69" lengthAdjust="spacingAndGlyphs">Spectral</text>
<text class="ti" x="479.32" y="48.71" style="font-size:21.1px" textLength="101.44" lengthAdjust="spacingAndGlyphs">Clustering</text>
<text class="ti" x="654.15" y="48.72" style="font-size:21.1px" textLength="49.42" lengthAdjust="spacingAndGlyphs">Ward</text>
<text class="ti" x="752.89" y="26.29" style="font-size:21.1px" textLength="146.32" lengthAdjust="spacingAndGlyphs">Agglomerative</text>
<text class="ti" x="775.05" y="48.68" style="font-size:21.1px" textLength="101.57" lengthAdjust="spacingAndGlyphs">Clustering</text>
<text class="ti" x="932.13" y="48.52" style="font-size:21.1px" textLength="83.01" lengthAdjust="spacingAndGlyphs">DBSCAN</text>
<text class="ti" x="1072.26" y="48.52" style="font-size:21.1px" textLength="98.03" lengthAdjust="spacingAndGlyphs">HDBSCAN</text>
<text class="ti" x="1232.49" y="48.52" style="font-size:21.1px" textLength="71.66" lengthAdjust="spacingAndGlyphs">OPTICS</text>
<text class="ti" x="1385.74" y="48.52" style="font-size:21.1px" textLength="60.4" lengthAdjust="spacingAndGlyphs">BIRCH</text>
<text class="ti" x="1517.57" y="26.29" style="font-size:21.1px" textLength="91.23" lengthAdjust="spacingAndGlyphs">Gaussian</text>
<text class="ti" x="1526.45" y="48.7" style="font-size:21.1px" textLength="74.96" lengthAdjust="spacingAndGlyphs">Mixture</text>
<text class="t" x="121.96" y="217.23" style="font-size:17.7px" textLength="34.31" lengthAdjust="spacingAndGlyphs">.00s</text>
<text class="t" x="269.43" y="217.25" style="font-size:17.7px" textLength="34.5" lengthAdjust="spacingAndGlyphs">.15s</text>
<text class="t" x="417.18" y="217.25" style="font-size:17.7px" textLength="34.37" lengthAdjust="spacingAndGlyphs">.07s</text>
<text class="t" x="564.55" y="217.24" style="font-size:17.7px" textLength="34.51" lengthAdjust="spacingAndGlyphs">.14s</text>
<text class="t" x="711.91" y="217.26" style="font-size:17.7px" textLength="34.37" lengthAdjust="spacingAndGlyphs">.02s</text>
<text class="t" x="859.75" y="217.22" style="font-size:17.7px" textLength="34.1" lengthAdjust="spacingAndGlyphs">.01s</text>
<text class="t" x="1007.04" y="217.24" style="font-size:17.7px" textLength="34.37" lengthAdjust="spacingAndGlyphs">.00s</text>
<text class="t" x="1154.62" y="217.23" style="font-size:17.7px" textLength="34.46" lengthAdjust="spacingAndGlyphs">.01s</text>
<text class="t" x="1302.09" y="217.25" style="font-size:17.7px" textLength="34.38" lengthAdjust="spacingAndGlyphs">.26s</text>
<text class="t" x="1449.62" y="217.22" style="font-size:17.7px" textLength="34.46" lengthAdjust="spacingAndGlyphs">.01s</text>
<text class="t" x="1597.01" y="217.24" style="font-size:17.7px" textLength="34.34" lengthAdjust="spacingAndGlyphs">.00s</text>
<text class="t" x="121.96" y="382.05" style="font-size:17.7px" textLength="34.31" lengthAdjust="spacingAndGlyphs">.00s</text>
<text class="t" x="269.58" y="382.06" style="font-size:17.7px" textLength="34.46" lengthAdjust="spacingAndGlyphs">.12s</text>
<text class="t" x="416.95" y="382.07" style="font-size:17.7px" textLength="34.35" lengthAdjust="spacingAndGlyphs">.03s</text>
<text class="t" x="564.52" y="382.08" style="font-size:17.7px" textLength="34.43" lengthAdjust="spacingAndGlyphs">.09s</text>
<text class="t" x="711.91" y="382.08" style="font-size:17.7px" textLength="34.37" lengthAdjust="spacingAndGlyphs">.02s</text>
<text class="t" x="859.72" y="382.08" style="font-size:17.7px" textLength="34.12" lengthAdjust="spacingAndGlyphs">.02s</text>
<text class="t" x="1007.04" y="382.06" style="font-size:17.7px" textLength="34.37" lengthAdjust="spacingAndGlyphs">.00s</text>
<text class="t" x="1154.62" y="382.05" style="font-size:17.7px" textLength="34.46" lengthAdjust="spacingAndGlyphs">.01s</text>
<text class="t" x="1302" y="382.07" style="font-size:17.7px" textLength="34.45" lengthAdjust="spacingAndGlyphs">.25s</text>
<text class="t" x="1449.62" y="382.04" style="font-size:17.7px" textLength="34.46" lengthAdjust="spacingAndGlyphs">.01s</text>
<text class="t" x="1597.01" y="382.06" style="font-size:17.7px" textLength="34.34" lengthAdjust="spacingAndGlyphs">.00s</text>
<text class="t" x="121.96" y="547.87" style="font-size:17.7px" textLength="34.31" lengthAdjust="spacingAndGlyphs">.00s</text>
<text class="t" x="269.47" y="547.88" style="font-size:17.7px" textLength="34.37" lengthAdjust="spacingAndGlyphs">.10s</text>
<text class="t" x="416.93" y="547.89" style="font-size:17.7px" textLength="34.35" lengthAdjust="spacingAndGlyphs">.08s</text>
<text class="t" x="564.55" y="547.9" style="font-size:17.7px" textLength="34.37" lengthAdjust="spacingAndGlyphs">.03s</text>
<text class="t" x="711.9" y="547.89" style="font-size:17.7px" textLength="34.57" lengthAdjust="spacingAndGlyphs">.06s</text>
<text class="t" x="859.5" y="547.89" style="font-size:17.7px" textLength="34.51" lengthAdjust="spacingAndGlyphs">.05s</text>
<text class="t" x="1007.04" y="547.88" style="font-size:17.7px" textLength="34.37" lengthAdjust="spacingAndGlyphs">.00s</text>
<text class="t" x="1154.78" y="547.87" style="font-size:17.7px" textLength="34.15" lengthAdjust="spacingAndGlyphs">.00s</text>
<text class="t" x="1302" y="547.89" style="font-size:17.7px" textLength="34.45" lengthAdjust="spacingAndGlyphs">.25s</text>
<text class="t" x="1449.62" y="547.86" style="font-size:17.7px" textLength="34.46" lengthAdjust="spacingAndGlyphs">.01s</text>
<text class="t" x="1597.01" y="547.88" style="font-size:17.7px" textLength="34.34" lengthAdjust="spacingAndGlyphs">.00s</text>
<text class="t" x="121.96" y="712.69" style="font-size:17.7px" textLength="34.31" lengthAdjust="spacingAndGlyphs">.00s</text>
<text class="t" x="269.58" y="712.71" style="font-size:17.7px" textLength="34.46" lengthAdjust="spacingAndGlyphs">.12s</text>
<text class="t" x="416.93" y="712.71" style="font-size:17.7px" textLength="34.34" lengthAdjust="spacingAndGlyphs">.05s</text>
<text class="t" x="564.69" y="712.71" style="font-size:17.7px" textLength="34.15" lengthAdjust="spacingAndGlyphs">.04s</text>
<text class="t" x="711.88" y="712.71" style="font-size:17.7px" textLength="34.33" lengthAdjust="spacingAndGlyphs">.05s</text>
<text class="t" x="859.5" y="712.71" style="font-size:17.7px" textLength="34.51" lengthAdjust="spacingAndGlyphs">.05s</text>
<text class="t" x="1007.04" y="712.7" style="font-size:17.7px" textLength="34.37" lengthAdjust="spacingAndGlyphs">.00s</text>
<text class="t" x="1154.62" y="712.69" style="font-size:17.7px" textLength="34.46" lengthAdjust="spacingAndGlyphs">.01s</text>
<text class="t" x="1302" y="712.71" style="font-size:17.7px" textLength="34.45" lengthAdjust="spacingAndGlyphs">.25s</text>
<text class="t" x="1449.62" y="712.68" style="font-size:17.7px" textLength="34.46" lengthAdjust="spacingAndGlyphs">.01s</text>
<text class="t" x="1597.04" y="712.71" style="font-size:17.7px" textLength="34.47" lengthAdjust="spacingAndGlyphs">.01s</text>
<text class="t" x="121.96" y="878.51" style="font-size:17.7px" textLength="34.31" lengthAdjust="spacingAndGlyphs">.00s</text>
<text class="t" x="269.54" y="878.53" style="font-size:17.7px" textLength="34.35" lengthAdjust="spacingAndGlyphs">.11s</text>
<text class="t" x="416.95" y="878.53" style="font-size:17.7px" textLength="34.35" lengthAdjust="spacingAndGlyphs">.03s</text>
<text class="t" x="564.55" y="878.54" style="font-size:17.7px" textLength="34.37" lengthAdjust="spacingAndGlyphs">.03s</text>
<text class="t" x="712.21" y="878.52" style="font-size:17.7px" textLength="34" lengthAdjust="spacingAndGlyphs">.01s</text>
<text class="t" x="859.75" y="878.5" style="font-size:17.7px" textLength="34.1" lengthAdjust="spacingAndGlyphs">.01s</text>
<text class="t" x="1007.04" y="878.52" style="font-size:17.7px" textLength="34.37" lengthAdjust="spacingAndGlyphs">.00s</text>
<text class="t" x="1154.62" y="878.51" style="font-size:17.7px" textLength="34.46" lengthAdjust="spacingAndGlyphs">.01s</text>
<text class="t" x="1302.09" y="878.53" style="font-size:17.7px" textLength="34.38" lengthAdjust="spacingAndGlyphs">.26s</text>
<text class="t" x="1449.62" y="878.5" style="font-size:17.7px" textLength="34.46" lengthAdjust="spacingAndGlyphs">.01s</text>
<text class="t" x="1597.01" y="878.52" style="font-size:17.7px" textLength="34.34" lengthAdjust="spacingAndGlyphs">.00s</text>
<text class="t" x="121.96" y="1043.33" style="font-size:17.7px" textLength="34.31" lengthAdjust="spacingAndGlyphs">.00s</text>
<text class="t" x="269.58" y="1043.35" style="font-size:17.7px" textLength="34.46" lengthAdjust="spacingAndGlyphs">.12s</text>
<text class="t" x="416.93" y="1043.35" style="font-size:17.7px" textLength="34.34" lengthAdjust="spacingAndGlyphs">.05s</text>
<text class="t" x="564.55" y="1043.36" style="font-size:17.7px" textLength="34.37" lengthAdjust="spacingAndGlyphs">.03s</text>
<text class="t" x="712.21" y="1043.34" style="font-size:17.7px" textLength="34" lengthAdjust="spacingAndGlyphs">.01s</text>
<text class="t" x="859.75" y="1043.32" style="font-size:17.7px" textLength="34.1" lengthAdjust="spacingAndGlyphs">.01s</text>
<text class="t" x="1007.04" y="1043.34" style="font-size:17.7px" textLength="34.37" lengthAdjust="spacingAndGlyphs">.00s</text>
<text class="t" x="1154.62" y="1043.33" style="font-size:17.7px" textLength="34.46" lengthAdjust="spacingAndGlyphs">.01s</text>
<text class="t" x="1302.09" y="1043.35" style="font-size:17.7px" textLength="34.38" lengthAdjust="spacingAndGlyphs">.26s</text>
<text class="t" x="1449.62" y="1043.32" style="font-size:17.7px" textLength="34.46" lengthAdjust="spacingAndGlyphs">.01s</text>
<text class="t" x="1597.01" y="1043.34" style="font-size:17.7px" textLength="34.34" lengthAdjust="spacingAndGlyphs">.00s</text>
<text id="cap" x="448.5" y="1078.1" textLength="725.5" lengthAdjust="spacingAndGlyphs">A comparison of the clustering algorithms in scikit-learn</text>
</svg>
</body></html>
